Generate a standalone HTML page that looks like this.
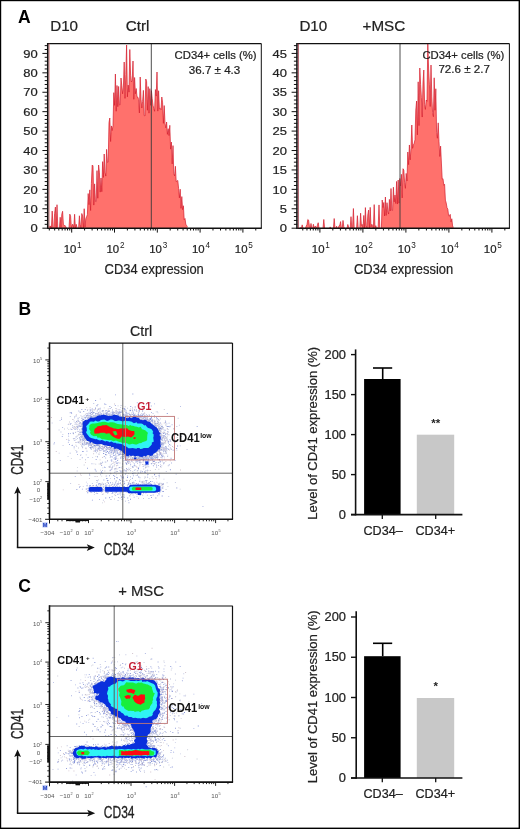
<!DOCTYPE html><html><head><meta charset="utf-8"><style>html,body{margin:0;padding:0;background:#fff;}body{width:520px;height:829px;overflow:hidden;}svg{display:block;font-family:"Liberation Sans",sans-serif;will-change:transform;}</style></head><body><svg width="520" height="829" viewBox="0 0 520 829" font-family='"Liberation Sans", sans-serif'><rect x="0.00" y="0.00" width="520.00" height="1.20" fill="#000"/><rect x="0.00" y="0.00" width="1.20" height="829.00" fill="#000"/><rect x="518.60" y="0.00" width="1.40" height="829.00" fill="#000"/><rect x="0.00" y="827.60" width="520.00" height="1.40" fill="#000"/><text x="18.00" y="23.30" font-size="17.5" text-anchor="start" font-weight="bold" fill="#000" >A</text><text x="18.60" y="315.00" font-size="17.5" text-anchor="start" font-weight="bold" fill="#000" >B</text><text x="18.20" y="592.00" font-size="17.5" text-anchor="start" font-weight="bold" fill="#000" >C</text><g><path d="M49.00,228.20 L49.00,225.74 L49.80,228.40 L50.60,225.92 L51.40,228.40 L52.20,211.06 L53.00,228.40 L53.80,228.40 L54.60,213.66 L55.40,207.06 L56.20,228.40 L57.00,204.73 L57.80,228.40 L58.60,228.40 L59.40,228.40 L60.20,217.26 L61.00,227.49 L61.80,214.23 L62.60,211.27 L63.40,224.75 L64.20,225.46 L65.00,225.38 L65.80,226.73 L66.60,228.40 L67.40,228.40 L68.20,228.40 L69.00,228.40 L69.80,214.13 L70.60,216.25 L71.40,228.40 L72.20,224.74 L73.00,224.35 L73.80,228.40 L74.60,214.25 L75.40,228.40 L76.20,224.27 L77.00,227.44 L77.80,228.40 L78.60,228.40 L79.40,215.78 L80.20,224.33 L81.00,228.40 L81.80,213.52 L82.60,216.07 L83.40,228.40 L84.20,208.73 L85.00,227.03 L85.80,218.68 L86.60,216.72 L87.40,214.65 L88.20,193.56 L89.00,204.64 L89.80,189.88 L90.60,210.51 L91.40,183.33 L92.20,165.00 L93.00,165.87 L93.80,205.10 L94.60,183.87 L95.40,201.33 L96.20,201.63 L97.00,170.61 L97.80,198.24 L98.60,165.00 L99.40,172.17 L100.20,192.12 L101.00,178.01 L101.80,191.68 L102.60,161.63 L103.40,177.43 L104.20,154.00 L105.00,172.34 L105.80,176.09 L106.60,149.36 L107.40,162.43 L108.20,162.16 L109.00,122.58 L109.80,118.00 L110.60,141.50 L111.40,125.93 L112.20,130.57 L113.00,125.68 L113.80,92.66 L114.60,105.36 L115.40,74.00 L116.20,111.24 L117.00,85.49 L117.80,106.68 L118.60,86.46 L119.40,104.92 L120.20,104.82 L121.00,78.00 L121.80,85.76 L122.60,93.79 L123.40,87.09 L124.20,62.00 L125.00,98.39 L125.80,74.59 L126.60,45.00 L127.40,96.83 L128.20,85.05 L129.00,92.13 L129.80,49.50 L130.60,75.25 L131.40,81.96 L132.20,80.71 L133.00,61.00 L133.80,99.29 L134.60,77.50 L135.40,93.78 L136.20,88.51 L137.00,96.74 L137.80,97.10 L138.60,99.48 L139.40,112.95 L140.20,77.00 L141.00,99.23 L141.80,108.02 L142.60,101.70 L143.40,90.37 L144.20,115.54 L145.00,115.91 L145.80,79.00 L146.60,81.62 L147.40,110.27 L148.20,86.61 L149.00,113.17 L149.80,88.64 L150.60,105.34 L151.40,90.65 L152.20,98.39 L153.00,105.36 L153.80,108.42 L154.60,111.27 L155.40,89.57 L156.20,96.08 L157.00,72.00 L157.80,111.12 L158.60,90.72 L159.40,108.95 L160.20,108.32 L161.00,109.70 L161.80,97.00 L162.60,102.79 L163.40,123.35 L164.20,105.57 L165.00,123.30 L165.80,127.91 L166.60,122.00 L167.40,134.33 L168.20,128.67 L169.00,135.52 L169.80,125.30 L170.60,149.14 L171.40,142.07 L172.20,163.93 L173.00,145.61 L173.80,173.52 L174.60,175.90 L175.40,166.27 L176.20,181.58 L177.00,181.00 L177.80,180.47 L178.60,188.60 L179.40,197.87 L180.20,189.20 L181.00,208.34 L181.80,196.59 L182.60,209.71 L183.40,205.76 L184.20,219.71 L185.00,218.51 L185.80,224.22 L186.60,225.49 L187.40,226.61 L187.40,228.20Z" fill="#ff716c"/><path d="M49.00,225.74 L49.80,228.40 L50.60,225.92 L51.40,228.40 L52.20,211.06 L53.00,228.40 L53.80,228.40 L54.60,213.66 L55.40,207.06 L56.20,228.40 L57.00,204.73 L57.80,228.40 L58.60,228.40 L59.40,228.40 L60.20,217.26 L61.00,227.49 L61.80,214.23 L62.60,211.27 L63.40,224.75 L64.20,225.46 L65.00,225.38 L65.80,226.73 L66.60,228.40 L67.40,228.40 L68.20,228.40 L69.00,228.40 L69.80,214.13 L70.60,216.25 L71.40,228.40 L72.20,224.74 L73.00,224.35 L73.80,228.40 L74.60,214.25 L75.40,228.40 L76.20,224.27 L77.00,227.44 L77.80,228.40 L78.60,228.40 L79.40,215.78 L80.20,224.33 L81.00,228.40 L81.80,213.52 L82.60,216.07 L83.40,228.40 L84.20,208.73 L85.00,227.03 L85.80,218.68 L86.60,216.72 L87.40,214.65 L88.20,193.56 L89.00,204.64 L89.80,189.88 L90.60,210.51 L91.40,183.33 L92.20,165.00 L93.00,165.87 L93.80,205.10 L94.60,183.87 L95.40,201.33 L96.20,201.63 L97.00,170.61 L97.80,198.24 L98.60,165.00 L99.40,172.17 L100.20,192.12 L101.00,178.01 L101.80,191.68 L102.60,161.63 L103.40,177.43 L104.20,154.00 L105.00,172.34 L105.80,176.09 L106.60,149.36 L107.40,162.43 L108.20,162.16 L109.00,122.58 L109.80,118.00 L110.60,141.50 L111.40,125.93 L112.20,130.57 L113.00,125.68 L113.80,92.66 L114.60,105.36 L115.40,74.00 L116.20,111.24 L117.00,85.49 L117.80,106.68 L118.60,86.46 L119.40,104.92 L120.20,104.82 L121.00,78.00 L121.80,85.76 L122.60,93.79 L123.40,87.09 L124.20,62.00 L125.00,98.39 L125.80,74.59 L126.60,45.00 L127.40,96.83 L128.20,85.05 L129.00,92.13 L129.80,49.50 L130.60,75.25 L131.40,81.96 L132.20,80.71 L133.00,61.00 L133.80,99.29 L134.60,77.50 L135.40,93.78 L136.20,88.51 L137.00,96.74 L137.80,97.10 L138.60,99.48 L139.40,112.95 L140.20,77.00 L141.00,99.23 L141.80,108.02 L142.60,101.70 L143.40,90.37 L144.20,115.54 L145.00,115.91 L145.80,79.00 L146.60,81.62 L147.40,110.27 L148.20,86.61 L149.00,113.17 L149.80,88.64 L150.60,105.34 L151.40,90.65 L152.20,98.39 L153.00,105.36 L153.80,108.42 L154.60,111.27 L155.40,89.57 L156.20,96.08 L157.00,72.00 L157.80,111.12 L158.60,90.72 L159.40,108.95 L160.20,108.32 L161.00,109.70 L161.80,97.00 L162.60,102.79 L163.40,123.35 L164.20,105.57 L165.00,123.30 L165.80,127.91 L166.60,122.00 L167.40,134.33 L168.20,128.67 L169.00,135.52 L169.80,125.30 L170.60,149.14 L171.40,142.07 L172.20,163.93 L173.00,145.61 L173.80,173.52 L174.60,175.90 L175.40,166.27 L176.20,181.58 L177.00,181.00 L177.80,180.47 L178.60,188.60 L179.40,197.87 L180.20,189.20 L181.00,208.34 L181.80,196.59 L182.60,209.71 L183.40,205.76 L184.20,219.71 L185.00,218.51 L185.80,224.22 L186.60,225.49 L187.40,226.61" fill="none" stroke="#d41c2c" stroke-width="0.7"/><line x1="151.30" y1="43.50" x2="151.30" y2="228.20" stroke="#3a3a3a" stroke-width="0.9" /><line x1="48.00" y1="43.60" x2="261.30" y2="43.60" stroke="#111" stroke-width="1.1" /><line x1="261.30" y1="43.50" x2="261.30" y2="228.20" stroke="#111" stroke-width="1.0" /><line x1="48.00" y1="228.20" x2="261.80" y2="228.20" stroke="#111" stroke-width="1.5" /><line x1="49.00" y1="43.50" x2="49.00" y2="228.20" stroke="#c86060" stroke-width="0.9" /><line x1="47.70" y1="43.00" x2="47.70" y2="228.90" stroke="#111" stroke-width="1.5" /><line x1="42.40" y1="228.20" x2="48.00" y2="228.20" stroke="#111" stroke-width="1.0" /><text transform="translate(37.80,232.40) scale(1.1,1)" font-size="11.8" text-anchor="end" font-weight="normal" fill="#222"  stroke="#222" stroke-width="0.22">0</text><line x1="44.70" y1="224.32" x2="48.00" y2="224.32" stroke="#111" stroke-width="1.0" /><line x1="44.70" y1="220.43" x2="48.00" y2="220.43" stroke="#111" stroke-width="1.0" /><line x1="44.70" y1="216.55" x2="48.00" y2="216.55" stroke="#111" stroke-width="1.0" /><line x1="44.70" y1="212.66" x2="48.00" y2="212.66" stroke="#111" stroke-width="1.0" /><line x1="42.40" y1="208.78" x2="48.00" y2="208.78" stroke="#111" stroke-width="1.0" /><text transform="translate(37.80,212.98) scale(1.1,1)" font-size="11.8" text-anchor="end" font-weight="normal" fill="#222"  stroke="#222" stroke-width="0.22">10</text><line x1="44.70" y1="204.89" x2="48.00" y2="204.89" stroke="#111" stroke-width="1.0" /><line x1="44.70" y1="201.01" x2="48.00" y2="201.01" stroke="#111" stroke-width="1.0" /><line x1="44.70" y1="197.13" x2="48.00" y2="197.13" stroke="#111" stroke-width="1.0" /><line x1="44.70" y1="193.24" x2="48.00" y2="193.24" stroke="#111" stroke-width="1.0" /><line x1="42.40" y1="189.36" x2="48.00" y2="189.36" stroke="#111" stroke-width="1.0" /><text transform="translate(37.80,193.56) scale(1.1,1)" font-size="11.8" text-anchor="end" font-weight="normal" fill="#222"  stroke="#222" stroke-width="0.22">20</text><line x1="44.70" y1="185.47" x2="48.00" y2="185.47" stroke="#111" stroke-width="1.0" /><line x1="44.70" y1="181.59" x2="48.00" y2="181.59" stroke="#111" stroke-width="1.0" /><line x1="44.70" y1="177.71" x2="48.00" y2="177.71" stroke="#111" stroke-width="1.0" /><line x1="44.70" y1="173.82" x2="48.00" y2="173.82" stroke="#111" stroke-width="1.0" /><line x1="42.40" y1="169.94" x2="48.00" y2="169.94" stroke="#111" stroke-width="1.0" /><text transform="translate(37.80,174.14) scale(1.1,1)" font-size="11.8" text-anchor="end" font-weight="normal" fill="#222"  stroke="#222" stroke-width="0.22">30</text><line x1="44.70" y1="166.05" x2="48.00" y2="166.05" stroke="#111" stroke-width="1.0" /><line x1="44.70" y1="162.17" x2="48.00" y2="162.17" stroke="#111" stroke-width="1.0" /><line x1="44.70" y1="158.28" x2="48.00" y2="158.28" stroke="#111" stroke-width="1.0" /><line x1="44.70" y1="154.40" x2="48.00" y2="154.40" stroke="#111" stroke-width="1.0" /><line x1="42.40" y1="150.52" x2="48.00" y2="150.52" stroke="#111" stroke-width="1.0" /><text transform="translate(37.80,154.72) scale(1.1,1)" font-size="11.8" text-anchor="end" font-weight="normal" fill="#222"  stroke="#222" stroke-width="0.22">40</text><line x1="44.70" y1="146.63" x2="48.00" y2="146.63" stroke="#111" stroke-width="1.0" /><line x1="44.70" y1="142.75" x2="48.00" y2="142.75" stroke="#111" stroke-width="1.0" /><line x1="44.70" y1="138.86" x2="48.00" y2="138.86" stroke="#111" stroke-width="1.0" /><line x1="44.70" y1="134.98" x2="48.00" y2="134.98" stroke="#111" stroke-width="1.0" /><line x1="42.40" y1="131.09" x2="48.00" y2="131.09" stroke="#111" stroke-width="1.0" /><text transform="translate(37.80,135.29) scale(1.1,1)" font-size="11.8" text-anchor="end" font-weight="normal" fill="#222"  stroke="#222" stroke-width="0.22">50</text><line x1="44.70" y1="127.21" x2="48.00" y2="127.21" stroke="#111" stroke-width="1.0" /><line x1="44.70" y1="123.33" x2="48.00" y2="123.33" stroke="#111" stroke-width="1.0" /><line x1="44.70" y1="119.44" x2="48.00" y2="119.44" stroke="#111" stroke-width="1.0" /><line x1="44.70" y1="115.56" x2="48.00" y2="115.56" stroke="#111" stroke-width="1.0" /><line x1="42.40" y1="111.67" x2="48.00" y2="111.67" stroke="#111" stroke-width="1.0" /><text transform="translate(37.80,115.87) scale(1.1,1)" font-size="11.8" text-anchor="end" font-weight="normal" fill="#222"  stroke="#222" stroke-width="0.22">60</text><line x1="44.70" y1="107.79" x2="48.00" y2="107.79" stroke="#111" stroke-width="1.0" /><line x1="44.70" y1="103.91" x2="48.00" y2="103.91" stroke="#111" stroke-width="1.0" /><line x1="44.70" y1="100.02" x2="48.00" y2="100.02" stroke="#111" stroke-width="1.0" /><line x1="44.70" y1="96.14" x2="48.00" y2="96.14" stroke="#111" stroke-width="1.0" /><line x1="42.40" y1="92.25" x2="48.00" y2="92.25" stroke="#111" stroke-width="1.0" /><text transform="translate(37.80,96.45) scale(1.1,1)" font-size="11.8" text-anchor="end" font-weight="normal" fill="#222"  stroke="#222" stroke-width="0.22">70</text><line x1="44.70" y1="88.37" x2="48.00" y2="88.37" stroke="#111" stroke-width="1.0" /><line x1="44.70" y1="84.48" x2="48.00" y2="84.48" stroke="#111" stroke-width="1.0" /><line x1="44.70" y1="80.60" x2="48.00" y2="80.60" stroke="#111" stroke-width="1.0" /><line x1="44.70" y1="76.72" x2="48.00" y2="76.72" stroke="#111" stroke-width="1.0" /><line x1="42.40" y1="72.83" x2="48.00" y2="72.83" stroke="#111" stroke-width="1.0" /><text transform="translate(37.80,77.03) scale(1.1,1)" font-size="11.8" text-anchor="end" font-weight="normal" fill="#222"  stroke="#222" stroke-width="0.22">80</text><line x1="44.70" y1="68.95" x2="48.00" y2="68.95" stroke="#111" stroke-width="1.0" /><line x1="44.70" y1="65.06" x2="48.00" y2="65.06" stroke="#111" stroke-width="1.0" /><line x1="44.70" y1="61.18" x2="48.00" y2="61.18" stroke="#111" stroke-width="1.0" /><line x1="44.70" y1="57.29" x2="48.00" y2="57.29" stroke="#111" stroke-width="1.0" /><line x1="42.40" y1="53.41" x2="48.00" y2="53.41" stroke="#111" stroke-width="1.0" /><text transform="translate(37.80,57.61) scale(1.1,1)" font-size="11.8" text-anchor="end" font-weight="normal" fill="#222"  stroke="#222" stroke-width="0.22">90</text><line x1="44.70" y1="49.53" x2="48.00" y2="49.53" stroke="#111" stroke-width="1.0" /><line x1="44.70" y1="45.64" x2="48.00" y2="45.64" stroke="#111" stroke-width="1.0" /><line x1="49.32" y1="228.20" x2="49.32" y2="230.50" stroke="#111" stroke-width="1.0" /><line x1="54.67" y1="228.20" x2="54.67" y2="230.50" stroke="#111" stroke-width="1.0" /><line x1="58.82" y1="228.20" x2="58.82" y2="230.50" stroke="#111" stroke-width="1.0" /><line x1="62.20" y1="228.20" x2="62.20" y2="230.50" stroke="#111" stroke-width="1.0" /><line x1="65.07" y1="228.20" x2="65.07" y2="230.50" stroke="#111" stroke-width="1.0" /><line x1="67.55" y1="228.20" x2="67.55" y2="230.50" stroke="#111" stroke-width="1.0" /><line x1="69.74" y1="228.20" x2="69.74" y2="230.50" stroke="#111" stroke-width="1.0" /><line x1="71.70" y1="228.20" x2="71.70" y2="232.60" stroke="#111" stroke-width="1.0" /><line x1="84.58" y1="228.20" x2="84.58" y2="230.50" stroke="#111" stroke-width="1.0" /><line x1="92.12" y1="228.20" x2="92.12" y2="230.50" stroke="#111" stroke-width="1.0" /><line x1="97.47" y1="228.20" x2="97.47" y2="230.50" stroke="#111" stroke-width="1.0" /><line x1="101.62" y1="228.20" x2="101.62" y2="230.50" stroke="#111" stroke-width="1.0" /><line x1="105.00" y1="228.20" x2="105.00" y2="230.50" stroke="#111" stroke-width="1.0" /><line x1="107.87" y1="228.20" x2="107.87" y2="230.50" stroke="#111" stroke-width="1.0" /><line x1="110.35" y1="228.20" x2="110.35" y2="230.50" stroke="#111" stroke-width="1.0" /><line x1="112.54" y1="228.20" x2="112.54" y2="230.50" stroke="#111" stroke-width="1.0" /><text x="76.30" y="253.20" font-size="11.4" text-anchor="end" font-weight="normal" fill="#222"  stroke="#222" stroke-width="0.22">10</text><text x="77.10" y="247.80" font-size="8.2" text-anchor="start" font-weight="normal" fill="#222" >1</text><line x1="114.50" y1="228.20" x2="114.50" y2="232.60" stroke="#111" stroke-width="1.0" /><line x1="127.38" y1="228.20" x2="127.38" y2="230.50" stroke="#111" stroke-width="1.0" /><line x1="134.92" y1="228.20" x2="134.92" y2="230.50" stroke="#111" stroke-width="1.0" /><line x1="140.27" y1="228.20" x2="140.27" y2="230.50" stroke="#111" stroke-width="1.0" /><line x1="144.42" y1="228.20" x2="144.42" y2="230.50" stroke="#111" stroke-width="1.0" /><line x1="147.80" y1="228.20" x2="147.80" y2="230.50" stroke="#111" stroke-width="1.0" /><line x1="150.67" y1="228.20" x2="150.67" y2="230.50" stroke="#111" stroke-width="1.0" /><line x1="153.15" y1="228.20" x2="153.15" y2="230.50" stroke="#111" stroke-width="1.0" /><line x1="155.34" y1="228.20" x2="155.34" y2="230.50" stroke="#111" stroke-width="1.0" /><text x="119.10" y="253.20" font-size="11.4" text-anchor="end" font-weight="normal" fill="#222"  stroke="#222" stroke-width="0.22">10</text><text x="119.90" y="247.80" font-size="8.2" text-anchor="start" font-weight="normal" fill="#222" >2</text><line x1="157.30" y1="228.20" x2="157.30" y2="232.60" stroke="#111" stroke-width="1.0" /><line x1="170.18" y1="228.20" x2="170.18" y2="230.50" stroke="#111" stroke-width="1.0" /><line x1="177.72" y1="228.20" x2="177.72" y2="230.50" stroke="#111" stroke-width="1.0" /><line x1="183.07" y1="228.20" x2="183.07" y2="230.50" stroke="#111" stroke-width="1.0" /><line x1="187.22" y1="228.20" x2="187.22" y2="230.50" stroke="#111" stroke-width="1.0" /><line x1="190.60" y1="228.20" x2="190.60" y2="230.50" stroke="#111" stroke-width="1.0" /><line x1="193.47" y1="228.20" x2="193.47" y2="230.50" stroke="#111" stroke-width="1.0" /><line x1="195.95" y1="228.20" x2="195.95" y2="230.50" stroke="#111" stroke-width="1.0" /><line x1="198.14" y1="228.20" x2="198.14" y2="230.50" stroke="#111" stroke-width="1.0" /><text x="161.90" y="253.20" font-size="11.4" text-anchor="end" font-weight="normal" fill="#222"  stroke="#222" stroke-width="0.22">10</text><text x="162.70" y="247.80" font-size="8.2" text-anchor="start" font-weight="normal" fill="#222" >3</text><line x1="200.10" y1="228.20" x2="200.10" y2="232.60" stroke="#111" stroke-width="1.0" /><line x1="212.98" y1="228.20" x2="212.98" y2="230.50" stroke="#111" stroke-width="1.0" /><line x1="220.52" y1="228.20" x2="220.52" y2="230.50" stroke="#111" stroke-width="1.0" /><line x1="225.87" y1="228.20" x2="225.87" y2="230.50" stroke="#111" stroke-width="1.0" /><line x1="230.02" y1="228.20" x2="230.02" y2="230.50" stroke="#111" stroke-width="1.0" /><line x1="233.40" y1="228.20" x2="233.40" y2="230.50" stroke="#111" stroke-width="1.0" /><line x1="236.27" y1="228.20" x2="236.27" y2="230.50" stroke="#111" stroke-width="1.0" /><line x1="238.75" y1="228.20" x2="238.75" y2="230.50" stroke="#111" stroke-width="1.0" /><line x1="240.94" y1="228.20" x2="240.94" y2="230.50" stroke="#111" stroke-width="1.0" /><text x="204.70" y="253.20" font-size="11.4" text-anchor="end" font-weight="normal" fill="#222"  stroke="#222" stroke-width="0.22">10</text><text x="205.50" y="247.80" font-size="8.2" text-anchor="start" font-weight="normal" fill="#222" >4</text><line x1="242.90" y1="228.20" x2="242.90" y2="232.60" stroke="#111" stroke-width="1.0" /><line x1="255.78" y1="228.20" x2="255.78" y2="230.50" stroke="#111" stroke-width="1.0" /><text x="247.50" y="253.20" font-size="11.4" text-anchor="end" font-weight="normal" fill="#222"  stroke="#222" stroke-width="0.22">10</text><text x="248.30" y="247.80" font-size="8.2" text-anchor="start" font-weight="normal" fill="#222" >5</text><text transform="translate(104.60,273.60) scale(0.84,1)" font-size="15.4" text-anchor="start" font-weight="normal" fill="#222" stroke="#222" stroke-width="0.2">CD34 expression</text><text x="50.20" y="31.30" font-size="15.2" text-anchor="start" font-weight="normal" fill="#222"  stroke="#222" stroke-width="0.22">D10</text><text x="125.80" y="31.30" font-size="15.2" text-anchor="start" font-weight="normal" fill="#222"  stroke="#222" stroke-width="0.22">Ctrl</text><text x="174.60" y="58.80" font-size="11.3" text-anchor="start" font-weight="normal" fill="#222"  stroke="#222" stroke-width="0.22">CD34+ cells (%)</text><text x="188.80" y="73.80" font-size="11.6" text-anchor="start" font-weight="normal" fill="#222"  stroke="#222" stroke-width="0.22">36.7 ± 4.3</text></g><g><path d="M298.20,228.20 L298.20,228.40 L299.00,228.40 L299.80,228.40 L300.60,227.66 L301.40,228.40 L302.20,224.86 L303.00,228.40 L303.80,228.40 L304.60,228.40 L305.40,228.40 L306.20,226.16 L307.00,224.53 L307.80,219.52 L308.60,220.19 L309.40,226.28 L310.20,228.40 L311.00,223.48 L311.80,228.40 L312.60,228.40 L313.40,224.25 L314.20,228.40 L315.00,226.22 L315.80,226.61 L316.60,228.40 L317.40,225.26 L318.20,222.72 L319.00,228.40 L319.80,228.40 L320.60,228.40 L321.40,228.40 L322.20,228.40 L323.00,228.40 L323.80,219.46 L324.60,228.40 L325.40,228.40 L326.20,228.40 L327.00,228.40 L327.80,228.40 L328.60,228.40 L329.40,228.40 L330.20,226.88 L331.00,228.40 L331.80,228.40 L332.60,228.40 L333.40,228.40 L334.20,218.53 L335.00,228.40 L335.80,228.40 L336.60,226.20 L337.40,228.40 L338.20,228.40 L339.00,225.78 L339.80,225.26 L340.60,221.59 L341.40,228.40 L342.20,228.40 L343.00,220.42 L343.80,226.71 L344.60,228.40 L345.40,228.40 L346.20,228.40 L347.00,228.40 L347.80,224.47 L348.60,227.04 L349.40,228.40 L350.20,228.40 L351.00,216.67 L351.80,228.40 L352.60,226.85 L353.40,208.50 L354.20,228.40 L355.00,228.40 L355.80,228.40 L356.60,228.40 L357.40,215.69 L358.20,228.40 L359.00,228.40 L359.80,228.40 L360.60,213.16 L361.40,225.51 L362.20,224.39 L363.00,228.40 L363.80,215.41 L364.60,228.40 L365.40,207.58 L366.20,225.26 L367.00,228.40 L367.80,215.00 L368.60,210.10 L369.40,228.40 L370.20,207.34 L371.00,226.86 L371.80,224.27 L372.60,225.51 L373.40,228.40 L374.20,204.60 L375.00,228.40 L375.80,225.64 L376.60,228.40 L377.40,228.40 L378.20,226.48 L379.00,204.95 L379.80,227.64 L380.60,228.40 L381.40,228.40 L382.20,200.01 L383.00,207.54 L383.80,202.48 L384.60,215.99 L385.40,197.00 L386.20,215.41 L387.00,202.70 L387.80,211.03 L388.60,214.06 L389.40,199.39 L390.20,210.98 L391.00,188.52 L391.80,210.40 L392.60,210.45 L393.40,187.19 L394.20,201.85 L395.00,195.05 L395.80,203.51 L396.60,181.41 L397.40,204.06 L398.20,180.00 L399.00,203.17 L399.80,178.50 L400.60,185.99 L401.40,174.31 L402.20,197.91 L403.00,168.71 L403.80,170.00 L404.60,182.22 L405.40,188.33 L406.20,173.41 L407.00,180.96 L407.80,152.00 L408.60,164.68 L409.40,144.97 L410.20,159.85 L411.00,148.55 L411.80,125.00 L412.60,148.33 L413.40,144.82 L414.20,143.29 L415.00,139.75 L415.80,110.00 L416.60,101.05 L417.40,134.86 L418.20,81.82 L419.00,125.63 L419.80,68.00 L420.60,84.62 L421.40,97.73 L422.20,117.05 L423.00,83.02 L423.80,70.00 L424.60,104.76 L425.40,109.36 L426.20,100.00 L427.00,101.34 L427.80,43.60 L428.60,68.97 L429.40,84.24 L430.20,106.50 L431.00,65.00 L431.80,96.98 L432.60,112.54 L433.40,116.70 L434.20,77.81 L435.00,110.27 L435.80,88.75 L436.60,132.39 L437.40,138.25 L438.20,122.85 L439.00,141.80 L439.80,156.46 L440.60,146.12 L441.40,163.03 L442.20,179.14 L443.00,178.69 L443.80,185.26 L444.60,184.27 L445.40,200.15 L446.20,202.97 L447.00,207.65 L447.80,209.06 L448.60,215.70 L449.40,216.08 L450.20,214.33 L451.00,221.90 L451.80,218.77 L452.60,225.97 L453.40,227.40 L453.40,228.20Z" fill="#ff716c"/><path d="M298.20,228.40 L299.00,228.40 L299.80,228.40 L300.60,227.66 L301.40,228.40 L302.20,224.86 L303.00,228.40 L303.80,228.40 L304.60,228.40 L305.40,228.40 L306.20,226.16 L307.00,224.53 L307.80,219.52 L308.60,220.19 L309.40,226.28 L310.20,228.40 L311.00,223.48 L311.80,228.40 L312.60,228.40 L313.40,224.25 L314.20,228.40 L315.00,226.22 L315.80,226.61 L316.60,228.40 L317.40,225.26 L318.20,222.72 L319.00,228.40 L319.80,228.40 L320.60,228.40 L321.40,228.40 L322.20,228.40 L323.00,228.40 L323.80,219.46 L324.60,228.40 L325.40,228.40 L326.20,228.40 L327.00,228.40 L327.80,228.40 L328.60,228.40 L329.40,228.40 L330.20,226.88 L331.00,228.40 L331.80,228.40 L332.60,228.40 L333.40,228.40 L334.20,218.53 L335.00,228.40 L335.80,228.40 L336.60,226.20 L337.40,228.40 L338.20,228.40 L339.00,225.78 L339.80,225.26 L340.60,221.59 L341.40,228.40 L342.20,228.40 L343.00,220.42 L343.80,226.71 L344.60,228.40 L345.40,228.40 L346.20,228.40 L347.00,228.40 L347.80,224.47 L348.60,227.04 L349.40,228.40 L350.20,228.40 L351.00,216.67 L351.80,228.40 L352.60,226.85 L353.40,208.50 L354.20,228.40 L355.00,228.40 L355.80,228.40 L356.60,228.40 L357.40,215.69 L358.20,228.40 L359.00,228.40 L359.80,228.40 L360.60,213.16 L361.40,225.51 L362.20,224.39 L363.00,228.40 L363.80,215.41 L364.60,228.40 L365.40,207.58 L366.20,225.26 L367.00,228.40 L367.80,215.00 L368.60,210.10 L369.40,228.40 L370.20,207.34 L371.00,226.86 L371.80,224.27 L372.60,225.51 L373.40,228.40 L374.20,204.60 L375.00,228.40 L375.80,225.64 L376.60,228.40 L377.40,228.40 L378.20,226.48 L379.00,204.95 L379.80,227.64 L380.60,228.40 L381.40,228.40 L382.20,200.01 L383.00,207.54 L383.80,202.48 L384.60,215.99 L385.40,197.00 L386.20,215.41 L387.00,202.70 L387.80,211.03 L388.60,214.06 L389.40,199.39 L390.20,210.98 L391.00,188.52 L391.80,210.40 L392.60,210.45 L393.40,187.19 L394.20,201.85 L395.00,195.05 L395.80,203.51 L396.60,181.41 L397.40,204.06 L398.20,180.00 L399.00,203.17 L399.80,178.50 L400.60,185.99 L401.40,174.31 L402.20,197.91 L403.00,168.71 L403.80,170.00 L404.60,182.22 L405.40,188.33 L406.20,173.41 L407.00,180.96 L407.80,152.00 L408.60,164.68 L409.40,144.97 L410.20,159.85 L411.00,148.55 L411.80,125.00 L412.60,148.33 L413.40,144.82 L414.20,143.29 L415.00,139.75 L415.80,110.00 L416.60,101.05 L417.40,134.86 L418.20,81.82 L419.00,125.63 L419.80,68.00 L420.60,84.62 L421.40,97.73 L422.20,117.05 L423.00,83.02 L423.80,70.00 L424.60,104.76 L425.40,109.36 L426.20,100.00 L427.00,101.34 L427.80,43.60 L428.60,68.97 L429.40,84.24 L430.20,106.50 L431.00,65.00 L431.80,96.98 L432.60,112.54 L433.40,116.70 L434.20,77.81 L435.00,110.27 L435.80,88.75 L436.60,132.39 L437.40,138.25 L438.20,122.85 L439.00,141.80 L439.80,156.46 L440.60,146.12 L441.40,163.03 L442.20,179.14 L443.00,178.69 L443.80,185.26 L444.60,184.27 L445.40,200.15 L446.20,202.97 L447.00,207.65 L447.80,209.06 L448.60,215.70 L449.40,216.08 L450.20,214.33 L451.00,221.90 L451.80,218.77 L452.60,225.97 L453.40,227.40" fill="none" stroke="#d41c2c" stroke-width="0.7"/><line x1="400.00" y1="43.50" x2="400.00" y2="228.20" stroke="#3a3a3a" stroke-width="0.9" /><line x1="297.20" y1="43.60" x2="509.40" y2="43.60" stroke="#111" stroke-width="1.1" /><line x1="509.40" y1="43.50" x2="509.40" y2="228.20" stroke="#111" stroke-width="1.0" /><line x1="297.20" y1="228.20" x2="509.90" y2="228.20" stroke="#111" stroke-width="1.5" /><line x1="298.20" y1="43.50" x2="298.20" y2="228.20" stroke="#8a1424" stroke-width="0.9" /><line x1="296.90" y1="43.00" x2="296.90" y2="228.90" stroke="#111" stroke-width="1.5" /><line x1="291.60" y1="228.20" x2="297.20" y2="228.20" stroke="#111" stroke-width="1.0" /><text transform="translate(287.00,232.40) scale(1.1,1)" font-size="11.8" text-anchor="end" font-weight="normal" fill="#222"  stroke="#222" stroke-width="0.22">0</text><line x1="293.90" y1="224.32" x2="297.20" y2="224.32" stroke="#111" stroke-width="1.0" /><line x1="293.90" y1="220.43" x2="297.20" y2="220.43" stroke="#111" stroke-width="1.0" /><line x1="293.90" y1="216.55" x2="297.20" y2="216.55" stroke="#111" stroke-width="1.0" /><line x1="293.90" y1="212.66" x2="297.20" y2="212.66" stroke="#111" stroke-width="1.0" /><line x1="291.60" y1="208.78" x2="297.20" y2="208.78" stroke="#111" stroke-width="1.0" /><text transform="translate(287.00,212.98) scale(1.1,1)" font-size="11.8" text-anchor="end" font-weight="normal" fill="#222"  stroke="#222" stroke-width="0.22">5</text><line x1="293.90" y1="204.89" x2="297.20" y2="204.89" stroke="#111" stroke-width="1.0" /><line x1="293.90" y1="201.01" x2="297.20" y2="201.01" stroke="#111" stroke-width="1.0" /><line x1="293.90" y1="197.13" x2="297.20" y2="197.13" stroke="#111" stroke-width="1.0" /><line x1="293.90" y1="193.24" x2="297.20" y2="193.24" stroke="#111" stroke-width="1.0" /><line x1="291.60" y1="189.36" x2="297.20" y2="189.36" stroke="#111" stroke-width="1.0" /><text transform="translate(287.00,193.56) scale(1.1,1)" font-size="11.8" text-anchor="end" font-weight="normal" fill="#222"  stroke="#222" stroke-width="0.22">10</text><line x1="293.90" y1="185.47" x2="297.20" y2="185.47" stroke="#111" stroke-width="1.0" /><line x1="293.90" y1="181.59" x2="297.20" y2="181.59" stroke="#111" stroke-width="1.0" /><line x1="293.90" y1="177.71" x2="297.20" y2="177.71" stroke="#111" stroke-width="1.0" /><line x1="293.90" y1="173.82" x2="297.20" y2="173.82" stroke="#111" stroke-width="1.0" /><line x1="291.60" y1="169.94" x2="297.20" y2="169.94" stroke="#111" stroke-width="1.0" /><text transform="translate(287.00,174.14) scale(1.1,1)" font-size="11.8" text-anchor="end" font-weight="normal" fill="#222"  stroke="#222" stroke-width="0.22">15</text><line x1="293.90" y1="166.05" x2="297.20" y2="166.05" stroke="#111" stroke-width="1.0" /><line x1="293.90" y1="162.17" x2="297.20" y2="162.17" stroke="#111" stroke-width="1.0" /><line x1="293.90" y1="158.28" x2="297.20" y2="158.28" stroke="#111" stroke-width="1.0" /><line x1="293.90" y1="154.40" x2="297.20" y2="154.40" stroke="#111" stroke-width="1.0" /><line x1="291.60" y1="150.52" x2="297.20" y2="150.52" stroke="#111" stroke-width="1.0" /><text transform="translate(287.00,154.72) scale(1.1,1)" font-size="11.8" text-anchor="end" font-weight="normal" fill="#222"  stroke="#222" stroke-width="0.22">20</text><line x1="293.90" y1="146.63" x2="297.20" y2="146.63" stroke="#111" stroke-width="1.0" /><line x1="293.90" y1="142.75" x2="297.20" y2="142.75" stroke="#111" stroke-width="1.0" /><line x1="293.90" y1="138.86" x2="297.20" y2="138.86" stroke="#111" stroke-width="1.0" /><line x1="293.90" y1="134.98" x2="297.20" y2="134.98" stroke="#111" stroke-width="1.0" /><line x1="291.60" y1="131.09" x2="297.20" y2="131.09" stroke="#111" stroke-width="1.0" /><text transform="translate(287.00,135.29) scale(1.1,1)" font-size="11.8" text-anchor="end" font-weight="normal" fill="#222"  stroke="#222" stroke-width="0.22">25</text><line x1="293.90" y1="127.21" x2="297.20" y2="127.21" stroke="#111" stroke-width="1.0" /><line x1="293.90" y1="123.33" x2="297.20" y2="123.33" stroke="#111" stroke-width="1.0" /><line x1="293.90" y1="119.44" x2="297.20" y2="119.44" stroke="#111" stroke-width="1.0" /><line x1="293.90" y1="115.56" x2="297.20" y2="115.56" stroke="#111" stroke-width="1.0" /><line x1="291.60" y1="111.67" x2="297.20" y2="111.67" stroke="#111" stroke-width="1.0" /><text transform="translate(287.00,115.87) scale(1.1,1)" font-size="11.8" text-anchor="end" font-weight="normal" fill="#222"  stroke="#222" stroke-width="0.22">30</text><line x1="293.90" y1="107.79" x2="297.20" y2="107.79" stroke="#111" stroke-width="1.0" /><line x1="293.90" y1="103.91" x2="297.20" y2="103.91" stroke="#111" stroke-width="1.0" /><line x1="293.90" y1="100.02" x2="297.20" y2="100.02" stroke="#111" stroke-width="1.0" /><line x1="293.90" y1="96.14" x2="297.20" y2="96.14" stroke="#111" stroke-width="1.0" /><line x1="291.60" y1="92.25" x2="297.20" y2="92.25" stroke="#111" stroke-width="1.0" /><text transform="translate(287.00,96.45) scale(1.1,1)" font-size="11.8" text-anchor="end" font-weight="normal" fill="#222"  stroke="#222" stroke-width="0.22">35</text><line x1="293.90" y1="88.37" x2="297.20" y2="88.37" stroke="#111" stroke-width="1.0" /><line x1="293.90" y1="84.48" x2="297.20" y2="84.48" stroke="#111" stroke-width="1.0" /><line x1="293.90" y1="80.60" x2="297.20" y2="80.60" stroke="#111" stroke-width="1.0" /><line x1="293.90" y1="76.72" x2="297.20" y2="76.72" stroke="#111" stroke-width="1.0" /><line x1="291.60" y1="72.83" x2="297.20" y2="72.83" stroke="#111" stroke-width="1.0" /><text transform="translate(287.00,77.03) scale(1.1,1)" font-size="11.8" text-anchor="end" font-weight="normal" fill="#222"  stroke="#222" stroke-width="0.22">40</text><line x1="293.90" y1="68.95" x2="297.20" y2="68.95" stroke="#111" stroke-width="1.0" /><line x1="293.90" y1="65.06" x2="297.20" y2="65.06" stroke="#111" stroke-width="1.0" /><line x1="293.90" y1="61.18" x2="297.20" y2="61.18" stroke="#111" stroke-width="1.0" /><line x1="293.90" y1="57.29" x2="297.20" y2="57.29" stroke="#111" stroke-width="1.0" /><line x1="291.60" y1="53.41" x2="297.20" y2="53.41" stroke="#111" stroke-width="1.0" /><text transform="translate(287.00,57.61) scale(1.1,1)" font-size="11.8" text-anchor="end" font-weight="normal" fill="#222"  stroke="#222" stroke-width="0.22">45</text><line x1="293.90" y1="49.53" x2="297.20" y2="49.53" stroke="#111" stroke-width="1.0" /><line x1="293.90" y1="45.64" x2="297.20" y2="45.64" stroke="#111" stroke-width="1.0" /><line x1="302.79" y1="228.20" x2="302.79" y2="230.50" stroke="#111" stroke-width="1.0" /><line x1="306.96" y1="228.20" x2="306.96" y2="230.50" stroke="#111" stroke-width="1.0" /><line x1="310.36" y1="228.20" x2="310.36" y2="230.50" stroke="#111" stroke-width="1.0" /><line x1="313.24" y1="228.20" x2="313.24" y2="230.50" stroke="#111" stroke-width="1.0" /><line x1="315.73" y1="228.20" x2="315.73" y2="230.50" stroke="#111" stroke-width="1.0" /><line x1="317.93" y1="228.20" x2="317.93" y2="230.50" stroke="#111" stroke-width="1.0" /><line x1="319.90" y1="228.20" x2="319.90" y2="232.60" stroke="#111" stroke-width="1.0" /><line x1="332.84" y1="228.20" x2="332.84" y2="230.50" stroke="#111" stroke-width="1.0" /><line x1="340.42" y1="228.20" x2="340.42" y2="230.50" stroke="#111" stroke-width="1.0" /><line x1="345.79" y1="228.20" x2="345.79" y2="230.50" stroke="#111" stroke-width="1.0" /><line x1="349.96" y1="228.20" x2="349.96" y2="230.50" stroke="#111" stroke-width="1.0" /><line x1="353.36" y1="228.20" x2="353.36" y2="230.50" stroke="#111" stroke-width="1.0" /><line x1="356.24" y1="228.20" x2="356.24" y2="230.50" stroke="#111" stroke-width="1.0" /><line x1="358.73" y1="228.20" x2="358.73" y2="230.50" stroke="#111" stroke-width="1.0" /><line x1="360.93" y1="228.20" x2="360.93" y2="230.50" stroke="#111" stroke-width="1.0" /><text x="324.50" y="253.20" font-size="11.4" text-anchor="end" font-weight="normal" fill="#222"  stroke="#222" stroke-width="0.22">10</text><text x="325.30" y="247.80" font-size="8.2" text-anchor="start" font-weight="normal" fill="#222" >1</text><line x1="362.90" y1="228.20" x2="362.90" y2="232.60" stroke="#111" stroke-width="1.0" /><line x1="375.84" y1="228.20" x2="375.84" y2="230.50" stroke="#111" stroke-width="1.0" /><line x1="383.42" y1="228.20" x2="383.42" y2="230.50" stroke="#111" stroke-width="1.0" /><line x1="388.79" y1="228.20" x2="388.79" y2="230.50" stroke="#111" stroke-width="1.0" /><line x1="392.96" y1="228.20" x2="392.96" y2="230.50" stroke="#111" stroke-width="1.0" /><line x1="396.36" y1="228.20" x2="396.36" y2="230.50" stroke="#111" stroke-width="1.0" /><line x1="399.24" y1="228.20" x2="399.24" y2="230.50" stroke="#111" stroke-width="1.0" /><line x1="401.73" y1="228.20" x2="401.73" y2="230.50" stroke="#111" stroke-width="1.0" /><line x1="403.93" y1="228.20" x2="403.93" y2="230.50" stroke="#111" stroke-width="1.0" /><text x="367.50" y="253.20" font-size="11.4" text-anchor="end" font-weight="normal" fill="#222"  stroke="#222" stroke-width="0.22">10</text><text x="368.30" y="247.80" font-size="8.2" text-anchor="start" font-weight="normal" fill="#222" >2</text><line x1="405.90" y1="228.20" x2="405.90" y2="232.60" stroke="#111" stroke-width="1.0" /><line x1="418.84" y1="228.20" x2="418.84" y2="230.50" stroke="#111" stroke-width="1.0" /><line x1="426.42" y1="228.20" x2="426.42" y2="230.50" stroke="#111" stroke-width="1.0" /><line x1="431.79" y1="228.20" x2="431.79" y2="230.50" stroke="#111" stroke-width="1.0" /><line x1="435.96" y1="228.20" x2="435.96" y2="230.50" stroke="#111" stroke-width="1.0" /><line x1="439.36" y1="228.20" x2="439.36" y2="230.50" stroke="#111" stroke-width="1.0" /><line x1="442.24" y1="228.20" x2="442.24" y2="230.50" stroke="#111" stroke-width="1.0" /><line x1="444.73" y1="228.20" x2="444.73" y2="230.50" stroke="#111" stroke-width="1.0" /><line x1="446.93" y1="228.20" x2="446.93" y2="230.50" stroke="#111" stroke-width="1.0" /><text x="410.50" y="253.20" font-size="11.4" text-anchor="end" font-weight="normal" fill="#222"  stroke="#222" stroke-width="0.22">10</text><text x="411.30" y="247.80" font-size="8.2" text-anchor="start" font-weight="normal" fill="#222" >3</text><line x1="448.90" y1="228.20" x2="448.90" y2="232.60" stroke="#111" stroke-width="1.0" /><line x1="461.84" y1="228.20" x2="461.84" y2="230.50" stroke="#111" stroke-width="1.0" /><line x1="469.42" y1="228.20" x2="469.42" y2="230.50" stroke="#111" stroke-width="1.0" /><line x1="474.79" y1="228.20" x2="474.79" y2="230.50" stroke="#111" stroke-width="1.0" /><line x1="478.96" y1="228.20" x2="478.96" y2="230.50" stroke="#111" stroke-width="1.0" /><line x1="482.36" y1="228.20" x2="482.36" y2="230.50" stroke="#111" stroke-width="1.0" /><line x1="485.24" y1="228.20" x2="485.24" y2="230.50" stroke="#111" stroke-width="1.0" /><line x1="487.73" y1="228.20" x2="487.73" y2="230.50" stroke="#111" stroke-width="1.0" /><line x1="489.93" y1="228.20" x2="489.93" y2="230.50" stroke="#111" stroke-width="1.0" /><text x="453.50" y="253.20" font-size="11.4" text-anchor="end" font-weight="normal" fill="#222"  stroke="#222" stroke-width="0.22">10</text><text x="454.30" y="247.80" font-size="8.2" text-anchor="start" font-weight="normal" fill="#222" >4</text><line x1="491.90" y1="228.20" x2="491.90" y2="232.60" stroke="#111" stroke-width="1.0" /><line x1="504.84" y1="228.20" x2="504.84" y2="230.50" stroke="#111" stroke-width="1.0" /><text x="496.50" y="253.20" font-size="11.4" text-anchor="end" font-weight="normal" fill="#222"  stroke="#222" stroke-width="0.22">10</text><text x="497.30" y="247.80" font-size="8.2" text-anchor="start" font-weight="normal" fill="#222" >5</text><text transform="translate(354.00,273.60) scale(0.84,1)" font-size="15.4" text-anchor="start" font-weight="normal" fill="#222" stroke="#222" stroke-width="0.2">CD34 expression</text><text x="299.40" y="31.30" font-size="15.2" text-anchor="start" font-weight="normal" fill="#222"  stroke="#222" stroke-width="0.22">D10</text><text x="362.60" y="31.30" font-size="15.2" text-anchor="start" font-weight="normal" fill="#222"  stroke="#222" stroke-width="0.22">+MSC</text><text x="422.40" y="58.60" font-size="11.3" text-anchor="start" font-weight="normal" fill="#222"  stroke="#222" stroke-width="0.22">CD34+ cells (%)</text><text x="438.40" y="73.30" font-size="11.6" text-anchor="start" font-weight="normal" fill="#222"  stroke="#222" stroke-width="0.22">72.6 ± 2.7</text></g><g><path d="M138.7 455.4h.9v.9h-.9zM108.6 451.7h.9v.9h-.9zM130.8 426.1h.9v.9h-.9zM124.1 421.1h.9v.9h-.9zM137.6 440.5h.9v.9h-.9zM109.4 453.2h.9v.9h-.9zM139.0 422.1h.9v.9h-.9zM130.9 440.1h.9v.9h-.9zM101.2 465.0h.9v.9h-.9zM81.0 435.8h.9v.9h-.9zM91.7 420.1h.9v.9h-.9zM89.3 444.5h.9v.9h-.9zM102.8 418.8h.9v.9h-.9zM128.0 443.6h.9v.9h-.9zM113.2 428.8h.9v.9h-.9zM132.7 432.5h.9v.9h-.9zM142.7 484.7h.9v.9h-.9zM160.7 442.0h.9v.9h-.9zM147.5 458.0h.9v.9h-.9zM106.7 425.5h.9v.9h-.9zM120.3 429.0h.9v.9h-.9zM133.1 429.7h.9v.9h-.9zM119.0 433.7h.9v.9h-.9zM141.9 447.8h.9v.9h-.9zM92.1 413.7h.9v.9h-.9zM154.0 403.4h.9v.9h-.9zM69.0 444.0h.9v.9h-.9zM90.1 417.9h.9v.9h-.9zM138.6 431.8h.9v.9h-.9zM120.8 449.3h.9v.9h-.9zM119.0 433.5h.9v.9h-.9zM126.6 421.2h.9v.9h-.9zM80.8 432.0h.9v.9h-.9zM151.9 449.6h.9v.9h-.9zM133.6 423.1h.9v.9h-.9zM76.0 451.6h.9v.9h-.9zM131.8 449.3h.9v.9h-.9zM158.6 444.9h.9v.9h-.9zM125.3 414.2h.9v.9h-.9zM102.2 461.8h.9v.9h-.9zM153.4 440.2h.9v.9h-.9zM111.7 445.8h.9v.9h-.9zM69.9 423.8h.9v.9h-.9zM143.9 414.8h.9v.9h-.9zM108.3 427.9h.9v.9h-.9zM124.3 434.4h.9v.9h-.9zM134.5 414.6h.9v.9h-.9zM133.8 433.3h.9v.9h-.9zM167.9 441.1h.9v.9h-.9zM102.3 448.5h.9v.9h-.9zM125.3 430.0h.9v.9h-.9zM106.8 412.9h.9v.9h-.9zM109.2 438.3h.9v.9h-.9zM142.5 429.0h.9v.9h-.9zM115.6 409.9h.9v.9h-.9zM122.4 426.8h.9v.9h-.9zM136.5 441.6h.9v.9h-.9zM125.6 440.7h.9v.9h-.9zM143.6 431.9h.9v.9h-.9zM106.8 424.8h.9v.9h-.9zM104.2 434.9h.9v.9h-.9zM196.7 426.1h.9v.9h-.9zM122.9 460.4h.9v.9h-.9zM181.1 435.9h.9v.9h-.9zM93.5 447.3h.9v.9h-.9zM138.9 450.7h.9v.9h-.9zM173.6 428.3h.9v.9h-.9zM126.3 464.0h.9v.9h-.9zM116.3 450.2h.9v.9h-.9zM96.6 448.7h.9v.9h-.9zM81.8 457.3h.9v.9h-.9zM180.0 405.9h.9v.9h-.9zM94.5 428.1h.9v.9h-.9zM141.1 447.4h.9v.9h-.9zM153.2 438.9h.9v.9h-.9zM120.3 423.4h.9v.9h-.9zM116.7 447.6h.9v.9h-.9zM108.0 448.4h.9v.9h-.9zM75.0 431.9h.9v.9h-.9zM80.8 426.2h.9v.9h-.9zM99.9 418.3h.9v.9h-.9zM128.0 456.5h.9v.9h-.9zM119.0 479.0h.9v.9h-.9zM154.4 463.3h.9v.9h-.9zM134.2 465.1h.9v.9h-.9zM140.8 481.6h.9v.9h-.9zM146.6 465.6h.9v.9h-.9zM123.8 483.3h.9v.9h-.9zM152.2 457.3h.9v.9h-.9zM130.5 447.8h.9v.9h-.9zM109.1 475.3h.9v.9h-.9zM98.4 483.1h.9v.9h-.9zM103.4 479.6h.9v.9h-.9zM89.0 473.5h.9v.9h-.9zM139.9 471.7h.9v.9h-.9zM158.8 473.3h.9v.9h-.9zM145.0 467.3h.9v.9h-.9zM104.8 466.9h.9v.9h-.9zM121.9 477.2h.9v.9h-.9zM129.0 480.3h.9v.9h-.9zM119.9 470.6h.9v.9h-.9zM122.3 480.5h.9v.9h-.9zM127.1 469.2h.9v.9h-.9zM110.5 473.2h.9v.9h-.9zM127.2 475.6h.9v.9h-.9zM132.9 475.3h.9v.9h-.9zM106.2 478.2h.9v.9h-.9zM122.5 496.3h.9v.9h-.9zM99.1 498.9h.9v.9h-.9zM115.9 491.3h.9v.9h-.9zM89.8 491.3h.9v.9h-.9zM176.4 487.5h.9v.9h-.9zM128.2 491.7h.9v.9h-.9zM107.3 492.2h.9v.9h-.9zM121.3 496.3h.9v.9h-.9zM143.7 486.3h.9v.9h-.9zM121.6 499.1h.9v.9h-.9zM111.2 488.6h.9v.9h-.9zM146.6 489.4h.9v.9h-.9zM109.2 497.0h.9v.9h-.9zM152.7 494.6h.9v.9h-.9zM129.3 492.6h.9v.9h-.9zM120.0 491.3h.9v.9h-.9zM142.3 494.7h.9v.9h-.9zM158.5 493.0h.9v.9h-.9zM122.9 491.4h.9v.9h-.9zM120.5 492.0h.9v.9h-.9zM138.0 492.8h.9v.9h-.9zM148.7 488.1h.9v.9h-.9zM112.3 492.9h.9v.9h-.9zM145.9 491.7h.9v.9h-.9zM135.8 489.9h.9v.9h-.9zM114.4 483.7h.9v.9h-.9zM125.7 491.7h.9v.9h-.9zM118.0 496.9h.9v.9h-.9zM119.5 486.7h.9v.9h-.9zM128.5 502.3h.9v.9h-.9zM142.1 490.7h.9v.9h-.9zM136.6 494.0h.9v.9h-.9zM87.6 419.1h.9v.9h-.9zM149.1 456.9h.9v.9h-.9zM101.7 410.8h.9v.9h-.9zM119.9 412.0h.9v.9h-.9zM103.1 414.3h.9v.9h-.9zM81.9 422.1h.9v.9h-.9zM124.8 451.7h.9v.9h-.9zM116.9 450.4h.9v.9h-.9zM95.2 416.2h.9v.9h-.9zM140.8 416.4h.9v.9h-.9zM113.0 448.0h.9v.9h-.9zM160.2 446.1h.9v.9h-.9zM139.5 456.6h.9v.9h-.9zM158.1 465.2h.9v.9h-.9zM157.6 450.5h.9v.9h-.9zM87.9 443.0h.9v.9h-.9zM82.0 431.5h.9v.9h-.9zM151.0 417.7h.9v.9h-.9zM165.0 433.8h.9v.9h-.9zM159.1 428.6h.9v.9h-.9zM159.2 430.2h.9v.9h-.9zM112.7 453.5h.9v.9h-.9zM90.8 448.8h.9v.9h-.9zM94.7 415.3h.9v.9h-.9zM151.8 453.0h.9v.9h-.9zM175.7 473.7h.9v.9h-.9zM166.3 448.5h.9v.9h-.9zM97.8 413.3h.9v.9h-.9zM161.1 455.4h.9v.9h-.9zM169.1 444.0h.9v.9h-.9zM153.2 455.8h.9v.9h-.9zM160.0 428.1h.9v.9h-.9zM87.6 418.1h.9v.9h-.9zM90.0 444.8h.9v.9h-.9zM109.0 415.0h.9v.9h-.9zM87.0 417.6h.9v.9h-.9zM76.0 421.0h.9v.9h-.9zM158.2 427.7h.9v.9h-.9zM87.6 457.0h.9v.9h-.9zM95.0 415.9h.9v.9h-.9zM111.9 414.5h.9v.9h-.9zM98.6 444.0h.9v.9h-.9zM125.3 414.9h.9v.9h-.9zM150.8 405.6h.9v.9h-.9zM158.5 429.8h.9v.9h-.9zM125.6 418.3h.9v.9h-.9zM126.4 418.1h.9v.9h-.9zM141.2 458.9h.9v.9h-.9zM129.3 459.2h.9v.9h-.9zM93.7 418.2h.9v.9h-.9zM93.8 444.8h.9v.9h-.9zM94.7 445.2h.9v.9h-.9zM91.4 416.4h.9v.9h-.9zM140.5 459.2h.9v.9h-.9zM90.4 417.0h.9v.9h-.9zM146.0 420.2h.9v.9h-.9zM163.4 450.9h.9v.9h-.9zM127.5 413.1h.9v.9h-.9zM139.5 461.5h.9v.9h-.9zM160.0 452.1h.9v.9h-.9zM127.1 415.2h.9v.9h-.9zM162.8 442.8h.9v.9h-.9zM161.6 434.8h.9v.9h-.9zM138.5 416.7h.9v.9h-.9zM154.6 424.5h.9v.9h-.9zM121.6 451.4h.9v.9h-.9zM94.5 445.5h.9v.9h-.9zM123.5 452.9h.9v.9h-.9zM161.8 446.4h.9v.9h-.9zM90.0 413.1h.9v.9h-.9zM129.6 410.3h.9v.9h-.9zM98.0 416.0h.9v.9h-.9zM152.0 423.7h.9v.9h-.9zM110.8 415.2h.9v.9h-.9zM169.8 447.4h.9v.9h-.9zM135.2 455.5h.9v.9h-.9zM93.4 412.0h.9v.9h-.9zM168.6 422.7h.9v.9h-.9zM91.2 417.9h.9v.9h-.9zM97.3 444.8h.9v.9h-.9zM158.2 427.3h.9v.9h-.9zM142.8 419.6h.9v.9h-.9zM114.5 457.0h.9v.9h-.9zM82.5 441.7h.9v.9h-.9zM108.9 416.5h.9v.9h-.9zM134.9 456.2h.9v.9h-.9zM155.8 450.9h.9v.9h-.9zM157.6 449.9h.9v.9h-.9zM105.7 446.1h.9v.9h-.9zM142.0 458.9h.9v.9h-.9zM161.1 426.1h.9v.9h-.9zM138.8 409.8h.9v.9h-.9zM109.7 448.6h.9v.9h-.9zM136.3 456.9h.9v.9h-.9zM133.1 415.0h.9v.9h-.9zM153.6 460.6h.9v.9h-.9zM129.5 409.9h.9v.9h-.9zM109.2 406.2h.9v.9h-.9zM155.5 423.0h.9v.9h-.9zM119.7 454.0h.9v.9h-.9zM95.8 445.4h.9v.9h-.9zM84.6 436.7h.9v.9h-.9zM103.5 450.8h.9v.9h-.9zM157.5 425.3h.9v.9h-.9zM101.6 449.3h.9v.9h-.9zM156.8 450.9h.9v.9h-.9zM114.3 476.1h.9v.9h-.9zM81.8 439.1h.9v.9h-.9zM88.4 443.8h.9v.9h-.9zM145.5 418.6h.9v.9h-.9zM121.7 410.9h.9v.9h-.9zM114.9 405.0h.9v.9h-.9zM155.6 426.3h.9v.9h-.9zM99.6 444.5h.9v.9h-.9zM122.9 458.0h.9v.9h-.9zM124.8 458.0h.9v.9h-.9zM88.8 418.2h.9v.9h-.9zM89.1 440.1h.9v.9h-.9zM88.2 441.1h.9v.9h-.9zM96.4 442.3h.9v.9h-.9zM86.2 418.9h.9v.9h-.9zM118.2 452.7h.9v.9h-.9zM95.0 415.5h.9v.9h-.9zM88.0 445.5h.9v.9h-.9zM159.9 447.1h.9v.9h-.9zM151.1 456.8h.9v.9h-.9zM99.2 448.6h.9v.9h-.9zM98.5 448.1h.9v.9h-.9zM106.5 416.2h.9v.9h-.9zM154.4 455.3h.9v.9h-.9zM154.4 421.5h.9v.9h-.9zM89.8 410.3h.9v.9h-.9zM106.0 412.6h.9v.9h-.9zM158.9 443.3h.9v.9h-.9zM95.2 413.7h.9v.9h-.9zM82.2 431.4h.9v.9h-.9zM113.6 458.3h.9v.9h-.9zM91.9 410.8h.9v.9h-.9zM130.0 456.4h.9v.9h-.9zM91.2 416.2h.9v.9h-.9zM135.2 457.4h.9v.9h-.9zM135.1 459.7h.9v.9h-.9zM79.4 426.0h.9v.9h-.9zM163.8 435.3h.9v.9h-.9zM160.3 431.4h.9v.9h-.9zM128.7 413.4h.9v.9h-.9zM133.9 417.9h.9v.9h-.9zM153.7 455.7h.9v.9h-.9zM151.7 425.5h.9v.9h-.9zM148.6 419.0h.9v.9h-.9zM132.6 411.6h.9v.9h-.9zM111.3 449.2h.9v.9h-.9zM90.4 443.0h.9v.9h-.9zM110.4 447.4h.9v.9h-.9zM93.3 402.9h.9v.9h-.9zM91.1 445.0h.9v.9h-.9zM163.0 450.4h.9v.9h-.9zM141.1 456.5h.9v.9h-.9zM170.3 444.7h.9v.9h-.9zM117.9 454.5h.9v.9h-.9zM138.9 410.8h.9v.9h-.9zM123.0 417.8h.9v.9h-.9zM148.9 455.8h.9v.9h-.9zM93.4 442.8h.9v.9h-.9zM120.3 451.0h.9v.9h-.9zM151.1 419.7h.9v.9h-.9zM119.9 417.5h.9v.9h-.9zM82.0 420.5h.9v.9h-.9zM112.8 452.0h.9v.9h-.9zM142.8 419.2h.9v.9h-.9zM128.3 455.5h.9v.9h-.9zM138.4 452.6h.9v.9h-.9zM163.1 435.3h.9v.9h-.9zM118.6 454.0h.9v.9h-.9zM91.8 441.7h.9v.9h-.9zM143.4 417.9h.9v.9h-.9zM82.6 436.8h.9v.9h-.9zM85.6 420.5h.9v.9h-.9zM109.7 414.6h.9v.9h-.9zM166.4 423.4h.9v.9h-.9zM89.5 447.0h.9v.9h-.9zM109.2 451.2h.9v.9h-.9zM155.6 462.1h.9v.9h-.9zM143.2 456.8h.9v.9h-.9zM90.9 414.2h.9v.9h-.9zM95.0 413.2h.9v.9h-.9zM142.2 410.8h.9v.9h-.9zM114.1 455.2h.9v.9h-.9zM124.7 460.0h.9v.9h-.9zM126.9 414.7h.9v.9h-.9zM126.2 412.9h.9v.9h-.9zM97.3 415.5h.9v.9h-.9zM84.8 409.1h.9v.9h-.9zM98.4 412.0h.9v.9h-.9zM97.1 456.3h.9v.9h-.9zM98.3 449.2h.9v.9h-.9zM135.8 410.3h.9v.9h-.9zM168.3 445.5h.9v.9h-.9zM115.2 453.8h.9v.9h-.9zM149.1 414.8h.9v.9h-.9zM69.7 412.3h.9v.9h-.9zM93.6 445.7h.9v.9h-.9zM105.2 413.2h.9v.9h-.9zM115.4 451.1h.9v.9h-.9zM161.5 449.5h.9v.9h-.9zM153.9 457.4h.9v.9h-.9zM161.5 444.3h.9v.9h-.9zM157.4 424.8h.9v.9h-.9zM84.7 417.4h.9v.9h-.9zM116.6 411.7h.9v.9h-.9zM76.8 426.6h.9v.9h-.9zM90.7 417.7h.9v.9h-.9zM109.2 410.9h.9v.9h-.9zM133.3 414.7h.9v.9h-.9zM110.7 451.6h.9v.9h-.9zM98.4 444.2h.9v.9h-.9zM102.1 445.7h.9v.9h-.9zM165.2 421.7h.9v.9h-.9zM124.0 451.2h.9v.9h-.9zM138.1 419.6h.9v.9h-.9zM103.5 447.9h.9v.9h-.9zM143.1 413.6h.9v.9h-.9zM163.4 443.1h.9v.9h-.9zM84.1 429.1h.9v.9h-.9zM90.3 416.9h.9v.9h-.9zM97.6 414.4h.9v.9h-.9zM160.4 445.7h.9v.9h-.9zM99.2 483.2h.9v.9h-.9zM144.7 489.7h.9v.9h-.9zM128.2 483.1h.9v.9h-.9zM143.6 483.0h.9v.9h-.9zM95.6 486.4h.9v.9h-.9zM115.6 481.2h.9v.9h-.9zM148.5 482.1h.9v.9h-.9zM94.8 488.5h.9v.9h-.9zM151.8 480.9h.9v.9h-.9zM92.4 489.2h.9v.9h-.9zM141.6 483.5h.9v.9h-.9zM162.4 487.5h.9v.9h-.9zM97.8 490.4h.9v.9h-.9zM149.6 488.2h.9v.9h-.9zM94.8 489.3h.9v.9h-.9zM115.2 482.3h.9v.9h-.9zM136.0 483.1h.9v.9h-.9zM121.2 491.2h.9v.9h-.9zM149.4 489.9h.9v.9h-.9zM117.4 489.0h.9v.9h-.9zM102.0 491.0h.9v.9h-.9zM89.5 485.6h.9v.9h-.9zM116.8 490.9h.9v.9h-.9zM113.0 485.8h.9v.9h-.9zM107.0 488.3h.9v.9h-.9zM79.1 486.8h.9v.9h-.9zM153.8 482.5h.9v.9h-.9zM147.2 490.7h.9v.9h-.9zM137.3 484.1h.9v.9h-.9zM124.5 487.3h.9v.9h-.9zM117.1 485.8h.9v.9h-.9zM128.3 484.0h.9v.9h-.9zM152.8 489.2h.9v.9h-.9zM123.1 485.7h.9v.9h-.9zM128.6 483.3h.9v.9h-.9z" fill="#98a4dc"/><path d="M103.4 438.3h.9v.9h-.9zM159.0 459.7h.9v.9h-.9zM130.5 438.0h.9v.9h-.9zM159.5 434.6h.9v.9h-.9zM132.5 439.3h.9v.9h-.9zM68.5 439.9h.9v.9h-.9zM120.8 435.3h.9v.9h-.9zM137.8 414.0h.9v.9h-.9zM89.5 418.9h.9v.9h-.9zM61.8 435.9h.9v.9h-.9zM109.7 408.2h.9v.9h-.9zM99.2 446.0h.9v.9h-.9zM137.1 443.7h.9v.9h-.9zM126.7 461.9h.9v.9h-.9zM136.2 450.4h.9v.9h-.9zM111.4 443.7h.9v.9h-.9zM142.8 438.8h.9v.9h-.9zM143.5 434.4h.9v.9h-.9zM138.7 454.5h.9v.9h-.9zM125.3 424.7h.9v.9h-.9zM125.6 446.5h.9v.9h-.9zM98.2 418.1h.9v.9h-.9zM107.2 436.3h.9v.9h-.9zM137.5 436.8h.9v.9h-.9zM135.2 448.1h.9v.9h-.9zM103.8 440.8h.9v.9h-.9zM101.1 471.5h.9v.9h-.9zM138.7 427.3h.9v.9h-.9zM143.4 441.1h.9v.9h-.9zM123.4 426.4h.9v.9h-.9zM114.4 450.1h.9v.9h-.9zM105.3 444.0h.9v.9h-.9zM108.7 436.5h.9v.9h-.9zM161.2 439.0h.9v.9h-.9zM149.6 402.3h.9v.9h-.9zM130.0 436.9h.9v.9h-.9zM114.1 433.3h.9v.9h-.9zM111.8 425.8h.9v.9h-.9zM127.6 438.0h.9v.9h-.9zM79.3 429.4h.9v.9h-.9zM97.6 445.1h.9v.9h-.9zM120.8 425.6h.9v.9h-.9zM130.9 440.0h.9v.9h-.9zM148.4 447.1h.9v.9h-.9zM106.9 448.2h.9v.9h-.9zM107.8 435.2h.9v.9h-.9zM126.0 424.6h.9v.9h-.9zM126.8 449.8h.9v.9h-.9zM128.8 444.9h.9v.9h-.9zM129.7 437.6h.9v.9h-.9zM114.7 439.1h.9v.9h-.9zM149.3 444.7h.9v.9h-.9zM110.7 452.1h.9v.9h-.9zM128.3 425.0h.9v.9h-.9zM86.9 442.1h.9v.9h-.9zM123.8 446.9h.9v.9h-.9zM131.3 455.2h.9v.9h-.9zM156.8 449.9h.9v.9h-.9zM130.7 427.0h.9v.9h-.9zM158.5 437.5h.9v.9h-.9zM145.6 429.2h.9v.9h-.9zM82.0 450.9h.9v.9h-.9zM131.2 442.2h.9v.9h-.9zM123.8 453.3h.9v.9h-.9zM157.3 441.6h.9v.9h-.9zM131.1 436.4h.9v.9h-.9zM113.9 434.4h.9v.9h-.9zM109.7 466.4h.9v.9h-.9zM116.7 452.7h.9v.9h-.9zM111.7 437.9h.9v.9h-.9zM111.3 459.5h.9v.9h-.9zM130.3 434.5h.9v.9h-.9zM144.4 441.8h.9v.9h-.9zM83.6 444.6h.9v.9h-.9zM140.5 452.5h.9v.9h-.9zM135.9 441.4h.9v.9h-.9zM135.9 438.6h.9v.9h-.9zM116.6 429.0h.9v.9h-.9zM160.4 428.0h.9v.9h-.9zM153.2 448.5h.9v.9h-.9zM169.9 469.3h.9v.9h-.9zM103.1 453.2h.9v.9h-.9zM86.9 432.3h.9v.9h-.9zM115.9 442.9h.9v.9h-.9zM118.5 439.4h.9v.9h-.9zM126.6 433.2h.9v.9h-.9zM111.6 413.8h.9v.9h-.9zM87.2 420.4h.9v.9h-.9zM105.9 431.3h.9v.9h-.9zM86.5 450.7h.9v.9h-.9zM119.1 440.8h.9v.9h-.9zM137.4 429.3h.9v.9h-.9zM104.3 403.5h.9v.9h-.9zM125.7 441.7h.9v.9h-.9zM112.9 453.2h.9v.9h-.9zM131.6 438.4h.9v.9h-.9zM134.0 443.0h.9v.9h-.9zM137.6 427.6h.9v.9h-.9zM124.3 440.5h.9v.9h-.9zM122.4 446.7h.9v.9h-.9zM87.7 429.8h.9v.9h-.9zM129.2 437.5h.9v.9h-.9zM123.7 439.9h.9v.9h-.9zM115.5 461.2h.9v.9h-.9zM132.7 434.8h.9v.9h-.9zM140.1 435.1h.9v.9h-.9zM146.0 481.7h.9v.9h-.9zM160.1 465.9h.9v.9h-.9zM132.1 473.0h.9v.9h-.9zM147.2 476.7h.9v.9h-.9zM103.3 452.9h.9v.9h-.9zM116.7 462.5h.9v.9h-.9zM113.3 475.1h.9v.9h-.9zM144.4 471.5h.9v.9h-.9zM126.1 463.0h.9v.9h-.9zM106.5 478.1h.9v.9h-.9zM95.7 470.7h.9v.9h-.9zM104.0 466.7h.9v.9h-.9zM158.6 474.9h.9v.9h-.9zM120.8 475.7h.9v.9h-.9zM125.8 470.5h.9v.9h-.9zM131.9 477.8h.9v.9h-.9zM127.1 477.0h.9v.9h-.9zM97.2 480.4h.9v.9h-.9zM116.6 476.9h.9v.9h-.9zM138.2 467.4h.9v.9h-.9zM123.0 476.6h.9v.9h-.9zM126.1 468.2h.9v.9h-.9zM117.5 483.1h.9v.9h-.9zM154.1 474.2h.9v.9h-.9zM147.5 473.9h.9v.9h-.9zM116.8 470.9h.9v.9h-.9zM137.9 468.1h.9v.9h-.9zM140.5 493.7h.9v.9h-.9zM136.2 487.2h.9v.9h-.9zM125.1 470.4h.9v.9h-.9zM110.3 469.7h.9v.9h-.9zM123.7 469.5h.9v.9h-.9zM105.3 497.5h.9v.9h-.9zM137.4 492.0h.9v.9h-.9zM110.7 491.0h.9v.9h-.9zM132.5 483.3h.9v.9h-.9zM106.2 489.2h.9v.9h-.9zM138.9 488.7h.9v.9h-.9zM150.2 481.0h.9v.9h-.9zM138.3 476.6h.9v.9h-.9zM87.3 492.3h.9v.9h-.9zM159.0 483.6h.9v.9h-.9zM116.1 491.7h.9v.9h-.9zM121.1 497.2h.9v.9h-.9zM162.3 491.2h.9v.9h-.9zM117.4 493.8h.9v.9h-.9zM107.8 489.1h.9v.9h-.9zM93.9 492.2h.9v.9h-.9zM148.5 497.9h.9v.9h-.9zM150.5 495.0h.9v.9h-.9zM155.5 487.2h.9v.9h-.9zM107.3 492.6h.9v.9h-.9zM130.0 498.8h.9v.9h-.9zM128.2 490.3h.9v.9h-.9zM91.9 499.7h.9v.9h-.9zM102.9 484.0h.9v.9h-.9zM96.8 486.2h.9v.9h-.9zM123.8 486.1h.9v.9h-.9zM123.8 497.2h.9v.9h-.9zM127.4 488.9h.9v.9h-.9zM127.6 488.1h.9v.9h-.9zM112.2 491.8h.9v.9h-.9zM136.5 491.0h.9v.9h-.9zM123.9 489.5h.9v.9h-.9zM161.7 495.5h.9v.9h-.9zM91.3 417.3h.9v.9h-.9zM120.1 416.5h.9v.9h-.9zM161.7 439.8h.9v.9h-.9zM140.5 462.2h.9v.9h-.9zM82.7 439.6h.9v.9h-.9zM151.8 459.7h.9v.9h-.9zM106.1 446.5h.9v.9h-.9zM112.1 413.6h.9v.9h-.9zM165.2 451.1h.9v.9h-.9zM122.9 450.6h.9v.9h-.9zM133.6 457.9h.9v.9h-.9zM168.4 440.7h.9v.9h-.9zM100.4 450.2h.9v.9h-.9zM90.1 447.6h.9v.9h-.9zM82.3 444.1h.9v.9h-.9zM98.7 414.1h.9v.9h-.9zM89.8 415.2h.9v.9h-.9zM143.1 460.1h.9v.9h-.9zM148.0 457.5h.9v.9h-.9zM141.5 418.9h.9v.9h-.9zM120.2 457.5h.9v.9h-.9zM123.1 413.7h.9v.9h-.9zM161.6 425.7h.9v.9h-.9zM130.9 460.5h.9v.9h-.9zM106.4 414.0h.9v.9h-.9zM121.9 416.2h.9v.9h-.9zM95.8 418.2h.9v.9h-.9zM128.5 456.6h.9v.9h-.9zM126.4 460.0h.9v.9h-.9zM160.6 437.9h.9v.9h-.9zM109.2 444.8h.9v.9h-.9zM102.3 410.3h.9v.9h-.9zM129.9 414.9h.9v.9h-.9zM167.6 431.6h.9v.9h-.9zM161.6 457.4h.9v.9h-.9zM159.0 459.1h.9v.9h-.9zM95.1 408.2h.9v.9h-.9zM95.2 400.0h.9v.9h-.9zM125.8 414.7h.9v.9h-.9zM104.6 450.3h.9v.9h-.9zM124.0 417.8h.9v.9h-.9zM84.4 443.3h.9v.9h-.9zM116.4 449.6h.9v.9h-.9zM95.4 416.4h.9v.9h-.9zM144.1 458.5h.9v.9h-.9zM144.7 420.0h.9v.9h-.9zM130.6 416.1h.9v.9h-.9zM104.7 414.9h.9v.9h-.9zM119.1 412.6h.9v.9h-.9zM134.8 456.8h.9v.9h-.9zM165.2 421.5h.9v.9h-.9zM127.2 458.6h.9v.9h-.9zM166.7 426.1h.9v.9h-.9zM152.2 457.7h.9v.9h-.9zM108.2 415.9h.9v.9h-.9zM73.7 446.5h.9v.9h-.9zM83.4 439.6h.9v.9h-.9zM144.4 456.8h.9v.9h-.9zM125.3 415.8h.9v.9h-.9zM82.1 442.9h.9v.9h-.9zM80.0 422.2h.9v.9h-.9zM156.7 454.9h.9v.9h-.9zM120.0 450.7h.9v.9h-.9zM87.1 414.8h.9v.9h-.9zM118.2 412.8h.9v.9h-.9zM162.3 456.1h.9v.9h-.9zM88.6 415.7h.9v.9h-.9zM135.3 418.4h.9v.9h-.9zM150.4 421.4h.9v.9h-.9zM135.6 415.0h.9v.9h-.9zM98.3 408.8h.9v.9h-.9zM160.2 433.3h.9v.9h-.9zM176.2 448.0h.9v.9h-.9zM94.1 445.1h.9v.9h-.9zM124.5 409.0h.9v.9h-.9zM78.4 425.4h.9v.9h-.9zM74.7 428.8h.9v.9h-.9zM156.7 418.1h.9v.9h-.9zM145.3 460.8h.9v.9h-.9zM130.0 410.1h.9v.9h-.9zM146.7 456.8h.9v.9h-.9zM81.2 424.5h.9v.9h-.9zM117.0 452.8h.9v.9h-.9zM156.8 457.2h.9v.9h-.9zM145.4 458.3h.9v.9h-.9zM158.9 429.6h.9v.9h-.9zM106.7 411.9h.9v.9h-.9zM90.6 444.1h.9v.9h-.9zM127.8 418.6h.9v.9h-.9zM151.4 453.8h.9v.9h-.9zM92.4 412.8h.9v.9h-.9zM139.7 415.6h.9v.9h-.9zM150.4 418.5h.9v.9h-.9zM115.6 411.4h.9v.9h-.9zM70.5 422.9h.9v.9h-.9zM120.4 449.3h.9v.9h-.9zM114.1 451.6h.9v.9h-.9zM156.7 456.0h.9v.9h-.9zM151.9 426.9h.9v.9h-.9zM127.3 456.6h.9v.9h-.9zM133.5 455.0h.9v.9h-.9zM90.5 409.5h.9v.9h-.9zM159.4 446.0h.9v.9h-.9zM148.0 459.0h.9v.9h-.9zM134.2 409.6h.9v.9h-.9zM90.1 447.3h.9v.9h-.9zM84.2 441.3h.9v.9h-.9zM79.7 441.7h.9v.9h-.9zM103.3 450.5h.9v.9h-.9zM160.1 446.0h.9v.9h-.9zM68.1 433.3h.9v.9h-.9zM139.4 460.0h.9v.9h-.9zM121.5 449.6h.9v.9h-.9zM140.9 419.0h.9v.9h-.9zM116.7 448.7h.9v.9h-.9zM119.6 414.7h.9v.9h-.9zM131.9 466.3h.9v.9h-.9zM145.5 416.3h.9v.9h-.9zM165.0 451.3h.9v.9h-.9zM108.0 452.5h.9v.9h-.9zM119.4 409.4h.9v.9h-.9zM72.7 432.5h.9v.9h-.9zM109.3 413.5h.9v.9h-.9zM156.2 424.7h.9v.9h-.9zM87.9 417.3h.9v.9h-.9zM82.6 423.8h.9v.9h-.9zM80.9 428.6h.9v.9h-.9zM158.8 449.4h.9v.9h-.9zM97.8 447.4h.9v.9h-.9zM149.3 419.8h.9v.9h-.9zM94.7 416.8h.9v.9h-.9zM147.5 459.4h.9v.9h-.9zM107.0 451.1h.9v.9h-.9zM112.4 447.9h.9v.9h-.9zM167.9 449.2h.9v.9h-.9zM98.2 445.3h.9v.9h-.9zM159.9 453.7h.9v.9h-.9zM132.2 418.1h.9v.9h-.9zM82.2 424.1h.9v.9h-.9zM86.0 442.2h.9v.9h-.9zM163.3 443.6h.9v.9h-.9zM99.6 416.5h.9v.9h-.9zM151.1 457.6h.9v.9h-.9zM139.9 455.1h.9v.9h-.9zM129.4 418.7h.9v.9h-.9zM160.0 448.6h.9v.9h-.9zM129.2 414.3h.9v.9h-.9zM116.8 451.6h.9v.9h-.9zM90.5 418.6h.9v.9h-.9zM147.3 459.9h.9v.9h-.9zM157.0 453.9h.9v.9h-.9zM160.3 452.8h.9v.9h-.9zM142.2 415.5h.9v.9h-.9zM102.4 446.5h.9v.9h-.9zM114.3 414.7h.9v.9h-.9zM168.8 464.4h.9v.9h-.9zM159.4 428.0h.9v.9h-.9zM106.1 447.0h.9v.9h-.9zM140.6 416.2h.9v.9h-.9zM114.9 457.8h.9v.9h-.9zM95.1 416.9h.9v.9h-.9zM90.4 446.9h.9v.9h-.9zM166.8 413.0h.9v.9h-.9zM137.8 418.7h.9v.9h-.9zM129.1 414.4h.9v.9h-.9zM130.3 406.0h.9v.9h-.9zM93.3 412.1h.9v.9h-.9zM131.9 414.2h.9v.9h-.9zM148.2 461.7h.9v.9h-.9zM136.7 461.3h.9v.9h-.9zM71.7 445.1h.9v.9h-.9zM162.9 448.6h.9v.9h-.9zM141.6 457.3h.9v.9h-.9zM108.2 414.3h.9v.9h-.9zM160.3 460.7h.9v.9h-.9zM100.4 413.6h.9v.9h-.9zM145.9 414.4h.9v.9h-.9zM158.9 451.5h.9v.9h-.9zM177.2 445.6h.9v.9h-.9zM111.0 414.7h.9v.9h-.9zM164.6 429.8h.9v.9h-.9zM83.7 415.4h.9v.9h-.9zM87.7 414.7h.9v.9h-.9zM150.0 419.1h.9v.9h-.9zM157.3 449.4h.9v.9h-.9zM154.8 425.0h.9v.9h-.9zM84.6 417.1h.9v.9h-.9zM84.4 438.2h.9v.9h-.9zM77.9 441.9h.9v.9h-.9zM145.0 420.9h.9v.9h-.9zM138.3 460.3h.9v.9h-.9zM160.5 447.1h.9v.9h-.9zM101.0 413.6h.9v.9h-.9zM143.0 459.0h.9v.9h-.9zM113.2 417.5h.9v.9h-.9zM147.6 420.8h.9v.9h-.9zM109.7 454.7h.9v.9h-.9zM104.0 447.0h.9v.9h-.9zM159.6 461.5h.9v.9h-.9zM168.4 426.0h.9v.9h-.9zM134.7 457.3h.9v.9h-.9zM82.9 419.1h.9v.9h-.9zM83.4 419.3h.9v.9h-.9zM132.8 418.3h.9v.9h-.9zM161.8 426.1h.9v.9h-.9zM128.5 460.8h.9v.9h-.9zM89.7 411.7h.9v.9h-.9zM166.5 438.5h.9v.9h-.9zM105.7 452.0h.9v.9h-.9zM119.6 414.5h.9v.9h-.9zM160.7 447.1h.9v.9h-.9zM130.2 414.5h.9v.9h-.9zM117.0 488.5h.9v.9h-.9zM97.5 490.3h.9v.9h-.9zM103.4 486.8h.9v.9h-.9zM154.2 489.7h.9v.9h-.9zM158.2 484.2h.9v.9h-.9zM123.2 477.7h.9v.9h-.9zM92.9 485.3h.9v.9h-.9zM138.0 484.5h.9v.9h-.9zM94.5 488.1h.9v.9h-.9zM114.1 478.3h.9v.9h-.9zM161.9 484.0h.9v.9h-.9zM154.9 490.2h.9v.9h-.9zM104.5 489.8h.9v.9h-.9zM115.5 490.7h.9v.9h-.9zM86.6 485.3h.9v.9h-.9zM103.0 483.7h.9v.9h-.9zM152.9 489.7h.9v.9h-.9zM149.1 482.6h.9v.9h-.9zM85.8 488.5h.9v.9h-.9zM105.3 488.6h.9v.9h-.9zM109.9 490.3h.9v.9h-.9zM105.9 492.2h.9v.9h-.9zM150.8 484.0h.9v.9h-.9zM105.4 485.8h.9v.9h-.9zM97.4 487.5h.9v.9h-.9zM142.4 488.0h.9v.9h-.9zM88.2 490.4h.9v.9h-.9z" fill="#7888d4"/><path d="M130.2 421.3h.9v.9h-.9zM158.7 447.5h.9v.9h-.9zM129.1 437.1h.9v.9h-.9zM96.9 410.2h.9v.9h-.9zM91.9 408.5h.9v.9h-.9zM118.1 449.4h.9v.9h-.9zM139.7 462.1h.9v.9h-.9zM111.3 455.9h.9v.9h-.9zM160.6 447.0h.9v.9h-.9zM115.7 421.8h.9v.9h-.9zM102.8 444.4h.9v.9h-.9zM125.9 449.2h.9v.9h-.9zM143.1 427.2h.9v.9h-.9zM173.0 459.2h.9v.9h-.9zM112.5 436.2h.9v.9h-.9zM76.9 451.4h.9v.9h-.9zM165.0 451.5h.9v.9h-.9zM96.1 433.6h.9v.9h-.9zM150.1 425.3h.9v.9h-.9zM158.6 430.4h.9v.9h-.9zM125.2 413.8h.9v.9h-.9zM132.8 415.4h.9v.9h-.9zM134.7 406.0h.9v.9h-.9zM146.4 448.8h.9v.9h-.9zM102.6 425.3h.9v.9h-.9zM128.9 442.0h.9v.9h-.9zM110.2 435.6h.9v.9h-.9zM125.9 454.8h.9v.9h-.9zM129.9 465.4h.9v.9h-.9zM134.3 432.1h.9v.9h-.9zM132.1 409.5h.9v.9h-.9zM99.3 420.2h.9v.9h-.9zM100.3 420.9h.9v.9h-.9zM160.8 443.6h.9v.9h-.9zM134.5 453.2h.9v.9h-.9zM137.8 415.4h.9v.9h-.9zM127.9 447.9h.9v.9h-.9zM149.2 426.4h.9v.9h-.9zM93.7 440.9h.9v.9h-.9zM105.2 423.7h.9v.9h-.9zM89.6 435.8h.9v.9h-.9zM88.1 438.0h.9v.9h-.9zM118.8 445.3h.9v.9h-.9zM127.3 432.1h.9v.9h-.9zM104.0 445.8h.9v.9h-.9zM67.0 427.7h.9v.9h-.9zM135.5 460.3h.9v.9h-.9zM93.6 426.0h.9v.9h-.9zM102.6 412.5h.9v.9h-.9zM121.4 457.7h.9v.9h-.9zM154.0 460.7h.9v.9h-.9zM86.1 439.7h.9v.9h-.9zM112.9 450.2h.9v.9h-.9zM119.0 439.6h.9v.9h-.9zM92.2 457.2h.9v.9h-.9zM131.0 421.5h.9v.9h-.9zM126.6 448.4h.9v.9h-.9zM99.7 409.3h.9v.9h-.9zM114.7 434.7h.9v.9h-.9zM92.3 413.5h.9v.9h-.9zM106.2 429.4h.9v.9h-.9zM120.1 429.8h.9v.9h-.9zM112.0 440.3h.9v.9h-.9zM143.4 423.2h.9v.9h-.9zM99.3 425.8h.9v.9h-.9zM104.1 422.6h.9v.9h-.9zM123.8 432.9h.9v.9h-.9zM94.2 422.8h.9v.9h-.9zM163.6 431.5h.9v.9h-.9zM102.0 429.7h.9v.9h-.9zM76.9 430.8h.9v.9h-.9zM146.7 424.0h.9v.9h-.9zM94.2 409.6h.9v.9h-.9zM80.7 454.4h.9v.9h-.9zM122.7 438.3h.9v.9h-.9zM136.1 421.4h.9v.9h-.9zM51.7 422.5h.9v.9h-.9zM114.6 425.9h.9v.9h-.9zM127.7 460.4h.9v.9h-.9zM97.5 435.4h.9v.9h-.9zM138.0 442.0h.9v.9h-.9zM88.5 432.8h.9v.9h-.9zM145.8 450.3h.9v.9h-.9zM145.1 447.5h.9v.9h-.9zM110.5 428.7h.9v.9h-.9zM122.6 449.9h.9v.9h-.9zM90.9 447.1h.9v.9h-.9zM130.7 449.4h.9v.9h-.9zM119.2 434.9h.9v.9h-.9zM62.6 445.0h.9v.9h-.9zM136.8 438.2h.9v.9h-.9zM147.1 443.9h.9v.9h-.9zM135.9 409.1h.9v.9h-.9zM116.7 429.2h.9v.9h-.9zM142.8 480.7h.9v.9h-.9zM110.0 478.2h.9v.9h-.9zM116.2 474.4h.9v.9h-.9zM140.5 470.3h.9v.9h-.9zM128.4 482.0h.9v.9h-.9zM158.8 476.1h.9v.9h-.9zM143.7 465.4h.9v.9h-.9zM133.4 472.6h.9v.9h-.9zM95.7 488.9h.9v.9h-.9zM111.9 467.1h.9v.9h-.9zM121.2 470.6h.9v.9h-.9zM110.0 473.3h.9v.9h-.9zM132.0 467.1h.9v.9h-.9zM137.1 470.0h.9v.9h-.9zM85.9 481.7h.9v.9h-.9zM134.6 472.5h.9v.9h-.9zM109.2 466.2h.9v.9h-.9zM105.4 475.7h.9v.9h-.9zM165.8 471.0h.9v.9h-.9zM99.5 484.5h.9v.9h-.9zM112.4 463.1h.9v.9h-.9zM76.7 470.5h.9v.9h-.9zM120.8 476.0h.9v.9h-.9zM144.4 471.1h.9v.9h-.9zM114.4 469.3h.9v.9h-.9zM125.7 473.2h.9v.9h-.9zM138.2 476.6h.9v.9h-.9zM136.2 454.3h.9v.9h-.9zM117.9 462.3h.9v.9h-.9zM163.5 478.7h.9v.9h-.9zM147.5 469.9h.9v.9h-.9zM148.3 466.3h.9v.9h-.9zM110.6 487.7h.9v.9h-.9zM146.3 491.6h.9v.9h-.9zM147.8 488.6h.9v.9h-.9zM90.8 487.6h.9v.9h-.9zM70.2 483.1h.9v.9h-.9zM118.0 481.5h.9v.9h-.9zM130.2 487.6h.9v.9h-.9zM136.5 495.9h.9v.9h-.9zM112.2 481.9h.9v.9h-.9zM158.7 488.9h.9v.9h-.9zM129.7 489.6h.9v.9h-.9zM118.7 488.2h.9v.9h-.9zM106.5 488.7h.9v.9h-.9zM113.7 490.0h.9v.9h-.9zM139.0 488.4h.9v.9h-.9zM121.9 494.1h.9v.9h-.9zM134.2 488.2h.9v.9h-.9zM139.8 488.0h.9v.9h-.9zM100.2 485.1h.9v.9h-.9zM139.1 494.3h.9v.9h-.9zM145.3 484.2h.9v.9h-.9zM113.7 492.1h.9v.9h-.9zM115.4 483.2h.9v.9h-.9zM111.1 487.1h.9v.9h-.9zM107.0 489.4h.9v.9h-.9zM102.9 499.8h.9v.9h-.9zM101.9 494.0h.9v.9h-.9zM93.9 493.9h.9v.9h-.9zM86.9 483.4h.9v.9h-.9zM176.2 487.4h.9v.9h-.9zM155.7 497.5h.9v.9h-.9zM131.2 493.0h.9v.9h-.9zM141.2 418.6h.9v.9h-.9zM162.9 443.2h.9v.9h-.9zM102.5 410.1h.9v.9h-.9zM117.8 413.8h.9v.9h-.9zM105.3 448.3h.9v.9h-.9zM88.1 417.3h.9v.9h-.9zM111.3 449.7h.9v.9h-.9zM156.3 453.1h.9v.9h-.9zM108.0 417.1h.9v.9h-.9zM98.5 453.6h.9v.9h-.9zM111.6 444.8h.9v.9h-.9zM95.1 407.3h.9v.9h-.9zM152.1 422.8h.9v.9h-.9zM137.1 458.8h.9v.9h-.9zM99.8 398.6h.9v.9h-.9zM160.3 424.8h.9v.9h-.9zM81.6 427.7h.9v.9h-.9zM92.4 411.9h.9v.9h-.9zM173.4 449.7h.9v.9h-.9zM72.5 419.2h.9v.9h-.9zM115.0 450.3h.9v.9h-.9zM79.6 423.6h.9v.9h-.9zM121.4 451.5h.9v.9h-.9zM149.3 418.1h.9v.9h-.9zM123.3 415.3h.9v.9h-.9zM127.1 407.8h.9v.9h-.9zM114.1 412.2h.9v.9h-.9zM142.4 456.2h.9v.9h-.9zM122.0 416.0h.9v.9h-.9zM125.4 412.3h.9v.9h-.9zM159.8 442.8h.9v.9h-.9zM163.5 463.0h.9v.9h-.9zM113.6 416.2h.9v.9h-.9zM92.3 411.0h.9v.9h-.9zM153.6 455.1h.9v.9h-.9zM82.1 434.1h.9v.9h-.9zM84.2 441.5h.9v.9h-.9zM160.0 427.1h.9v.9h-.9zM146.0 421.0h.9v.9h-.9zM93.8 415.8h.9v.9h-.9zM135.3 465.6h.9v.9h-.9zM103.6 413.8h.9v.9h-.9zM105.1 416.4h.9v.9h-.9zM106.9 414.2h.9v.9h-.9zM102.7 410.9h.9v.9h-.9zM125.8 456.7h.9v.9h-.9zM157.5 412.4h.9v.9h-.9zM123.7 454.8h.9v.9h-.9zM145.7 417.3h.9v.9h-.9zM166.4 433.0h.9v.9h-.9zM164.8 435.7h.9v.9h-.9zM157.4 428.1h.9v.9h-.9zM159.0 433.0h.9v.9h-.9zM94.4 417.9h.9v.9h-.9zM109.5 415.2h.9v.9h-.9zM106.4 454.4h.9v.9h-.9zM88.2 412.4h.9v.9h-.9zM147.4 419.2h.9v.9h-.9zM91.9 442.6h.9v.9h-.9zM158.7 424.1h.9v.9h-.9zM149.2 456.3h.9v.9h-.9zM120.7 417.7h.9v.9h-.9zM148.3 460.4h.9v.9h-.9zM160.8 435.6h.9v.9h-.9zM126.3 412.0h.9v.9h-.9zM149.0 455.3h.9v.9h-.9zM88.2 444.1h.9v.9h-.9zM94.7 441.5h.9v.9h-.9zM104.4 451.2h.9v.9h-.9zM81.4 436.1h.9v.9h-.9zM164.9 420.3h.9v.9h-.9zM107.7 413.1h.9v.9h-.9zM154.6 424.0h.9v.9h-.9zM77.1 438.1h.9v.9h-.9zM154.6 456.1h.9v.9h-.9zM170.9 448.6h.9v.9h-.9zM98.7 413.4h.9v.9h-.9zM152.4 458.1h.9v.9h-.9zM88.7 413.0h.9v.9h-.9zM95.9 452.3h.9v.9h-.9zM158.0 456.6h.9v.9h-.9zM77.9 441.5h.9v.9h-.9zM90.7 419.5h.9v.9h-.9zM95.8 415.1h.9v.9h-.9zM121.1 410.5h.9v.9h-.9zM74.1 428.6h.9v.9h-.9zM82.2 426.5h.9v.9h-.9zM130.3 455.2h.9v.9h-.9zM148.0 464.3h.9v.9h-.9zM99.4 451.7h.9v.9h-.9zM154.7 420.5h.9v.9h-.9zM163.9 456.6h.9v.9h-.9zM145.1 457.7h.9v.9h-.9zM159.2 433.7h.9v.9h-.9zM120.8 415.9h.9v.9h-.9zM159.8 437.5h.9v.9h-.9zM145.1 460.5h.9v.9h-.9zM147.4 455.9h.9v.9h-.9zM74.6 424.1h.9v.9h-.9zM158.2 422.3h.9v.9h-.9zM164.0 462.2h.9v.9h-.9zM132.6 458.0h.9v.9h-.9zM131.9 416.8h.9v.9h-.9zM90.9 415.5h.9v.9h-.9zM80.0 432.0h.9v.9h-.9zM158.4 450.6h.9v.9h-.9zM127.5 457.7h.9v.9h-.9zM103.1 447.8h.9v.9h-.9zM89.0 443.9h.9v.9h-.9zM103.2 412.8h.9v.9h-.9zM131.7 454.8h.9v.9h-.9zM97.5 445.1h.9v.9h-.9zM95.9 415.5h.9v.9h-.9zM145.4 461.3h.9v.9h-.9zM164.2 435.7h.9v.9h-.9zM178.9 424.8h.9v.9h-.9zM141.1 419.8h.9v.9h-.9zM91.3 441.9h.9v.9h-.9zM165.1 436.0h.9v.9h-.9zM142.8 418.0h.9v.9h-.9zM87.9 419.4h.9v.9h-.9zM154.5 423.5h.9v.9h-.9zM98.8 414.0h.9v.9h-.9zM87.0 410.0h.9v.9h-.9zM96.7 411.3h.9v.9h-.9zM134.1 458.0h.9v.9h-.9zM126.6 455.6h.9v.9h-.9zM120.3 452.2h.9v.9h-.9zM164.6 436.5h.9v.9h-.9zM157.9 431.1h.9v.9h-.9zM74.5 426.5h.9v.9h-.9zM124.7 406.3h.9v.9h-.9zM128.3 454.8h.9v.9h-.9zM87.6 442.6h.9v.9h-.9zM133.0 416.0h.9v.9h-.9zM155.9 452.0h.9v.9h-.9zM166.5 450.4h.9v.9h-.9zM85.7 420.2h.9v.9h-.9zM151.8 456.2h.9v.9h-.9zM141.5 456.7h.9v.9h-.9zM89.4 441.3h.9v.9h-.9zM119.7 415.6h.9v.9h-.9zM92.7 416.1h.9v.9h-.9zM125.6 416.4h.9v.9h-.9zM167.7 429.0h.9v.9h-.9zM80.6 433.4h.9v.9h-.9zM125.9 415.4h.9v.9h-.9zM163.4 431.4h.9v.9h-.9zM109.9 448.6h.9v.9h-.9zM133.1 466.8h.9v.9h-.9zM150.8 456.3h.9v.9h-.9zM131.2 459.5h.9v.9h-.9zM159.3 426.1h.9v.9h-.9zM159.3 451.5h.9v.9h-.9zM82.4 418.0h.9v.9h-.9zM131.8 458.2h.9v.9h-.9zM102.7 442.5h.9v.9h-.9zM76.2 445.8h.9v.9h-.9zM86.4 441.9h.9v.9h-.9zM164.4 449.6h.9v.9h-.9zM124.2 415.3h.9v.9h-.9zM159.8 439.9h.9v.9h-.9zM170.3 448.6h.9v.9h-.9zM99.5 445.3h.9v.9h-.9zM127.3 415.1h.9v.9h-.9zM97.4 415.0h.9v.9h-.9zM147.6 420.9h.9v.9h-.9zM160.5 444.7h.9v.9h-.9zM115.8 447.2h.9v.9h-.9zM122.8 414.5h.9v.9h-.9zM72.1 444.7h.9v.9h-.9zM117.6 412.2h.9v.9h-.9zM87.6 419.9h.9v.9h-.9zM145.1 418.3h.9v.9h-.9zM145.8 458.7h.9v.9h-.9zM154.7 420.7h.9v.9h-.9zM157.5 423.2h.9v.9h-.9zM105.5 461.7h.9v.9h-.9zM80.0 432.4h.9v.9h-.9zM123.2 418.0h.9v.9h-.9zM131.8 458.1h.9v.9h-.9zM85.4 440.1h.9v.9h-.9zM92.7 443.8h.9v.9h-.9zM115.7 449.0h.9v.9h-.9zM113.0 412.6h.9v.9h-.9zM143.3 458.0h.9v.9h-.9zM102.2 446.2h.9v.9h-.9zM111.5 467.3h.9v.9h-.9zM108.3 448.5h.9v.9h-.9zM115.5 452.6h.9v.9h-.9zM132.3 417.6h.9v.9h-.9zM83.8 438.6h.9v.9h-.9zM156.4 452.8h.9v.9h-.9zM125.2 415.9h.9v.9h-.9zM115.4 414.7h.9v.9h-.9zM73.6 420.5h.9v.9h-.9zM159.3 439.7h.9v.9h-.9zM127.8 415.9h.9v.9h-.9zM102.8 447.4h.9v.9h-.9zM129.3 409.7h.9v.9h-.9zM166.9 428.0h.9v.9h-.9zM159.7 438.3h.9v.9h-.9zM117.3 411.3h.9v.9h-.9zM170.1 439.7h.9v.9h-.9zM127.5 418.1h.9v.9h-.9zM157.0 425.6h.9v.9h-.9zM154.0 427.9h.9v.9h-.9zM136.9 460.1h.9v.9h-.9zM122.6 416.1h.9v.9h-.9zM80.3 430.7h.9v.9h-.9zM105.1 414.5h.9v.9h-.9zM149.0 424.4h.9v.9h-.9zM124.8 417.8h.9v.9h-.9zM131.1 412.5h.9v.9h-.9zM125.0 416.1h.9v.9h-.9zM116.8 449.6h.9v.9h-.9zM104.6 445.3h.9v.9h-.9zM132.2 407.5h.9v.9h-.9zM89.2 415.0h.9v.9h-.9zM160.8 444.0h.9v.9h-.9zM144.4 456.5h.9v.9h-.9zM119.4 415.8h.9v.9h-.9zM116.9 452.7h.9v.9h-.9zM124.5 415.4h.9v.9h-.9zM160.1 464.2h.9v.9h-.9zM58.6 429.6h.9v.9h-.9zM94.5 450.2h.9v.9h-.9zM186.6 449.0h.9v.9h-.9zM80.4 434.2h.9v.9h-.9zM158.5 426.6h.9v.9h-.9zM145.3 419.5h.9v.9h-.9zM80.8 426.1h.9v.9h-.9zM145.0 457.3h.9v.9h-.9zM74.3 416.0h.9v.9h-.9zM154.6 424.3h.9v.9h-.9zM80.5 415.3h.9v.9h-.9zM146.2 419.2h.9v.9h-.9zM163.4 429.3h.9v.9h-.9zM117.5 413.8h.9v.9h-.9zM161.8 435.7h.9v.9h-.9zM131.0 413.9h.9v.9h-.9zM92.0 443.9h.9v.9h-.9zM163.0 436.1h.9v.9h-.9zM162.4 453.5h.9v.9h-.9zM109.5 445.6h.9v.9h-.9zM134.9 484.3h.9v.9h-.9zM92.2 487.2h.9v.9h-.9zM121.3 476.9h.9v.9h-.9zM159.5 491.9h.9v.9h-.9zM126.4 489.7h.9v.9h-.9zM142.5 482.3h.9v.9h-.9zM97.5 486.4h.9v.9h-.9zM142.3 485.8h.9v.9h-.9zM124.2 483.1h.9v.9h-.9zM97.7 485.4h.9v.9h-.9zM109.2 484.6h.9v.9h-.9zM174.9 482.0h.9v.9h-.9zM107.5 485.6h.9v.9h-.9zM166.6 482.3h.9v.9h-.9zM127.2 484.2h.9v.9h-.9zM96.1 489.4h.9v.9h-.9zM95.5 490.9h.9v.9h-.9zM147.7 489.3h.9v.9h-.9zM109.1 488.6h.9v.9h-.9zM148.9 489.3h.9v.9h-.9zM140.5 486.0h.9v.9h-.9zM161.5 484.8h.9v.9h-.9zM110.7 488.9h.9v.9h-.9zM95.0 487.8h.9v.9h-.9zM132.8 489.7h.9v.9h-.9zM126.9 485.7h.9v.9h-.9zM110.5 485.4h.9v.9h-.9zM85.9 488.9h.9v.9h-.9zM103.1 486.2h.9v.9h-.9z" fill="#c0c4e0"/><path d="M121.0 434.7h.9v.9h-.9zM152.5 426.8h.9v.9h-.9zM159.3 436.6h.9v.9h-.9zM140.5 456.2h.9v.9h-.9zM139.6 448.1h.9v.9h-.9zM136.5 467.2h.9v.9h-.9zM104.4 470.6h.9v.9h-.9zM140.7 426.1h.9v.9h-.9zM124.8 441.5h.9v.9h-.9zM137.7 439.3h.9v.9h-.9zM133.9 409.2h.9v.9h-.9zM144.6 454.2h.9v.9h-.9zM107.1 446.7h.9v.9h-.9zM91.7 440.1h.9v.9h-.9zM124.9 438.3h.9v.9h-.9zM138.6 439.9h.9v.9h-.9zM121.6 468.2h.9v.9h-.9zM128.5 445.0h.9v.9h-.9zM137.9 442.7h.9v.9h-.9zM134.5 436.5h.9v.9h-.9zM104.2 430.5h.9v.9h-.9zM133.2 448.7h.9v.9h-.9zM148.1 455.6h.9v.9h-.9zM113.3 461.4h.9v.9h-.9zM146.8 471.5h.9v.9h-.9zM51.0 417.1h.9v.9h-.9zM119.5 451.8h.9v.9h-.9zM143.3 436.4h.9v.9h-.9zM93.3 437.0h.9v.9h-.9zM137.2 454.4h.9v.9h-.9zM126.3 434.5h.9v.9h-.9zM120.2 450.1h.9v.9h-.9zM154.4 433.1h.9v.9h-.9zM119.5 438.4h.9v.9h-.9zM102.2 457.0h.9v.9h-.9zM140.7 444.7h.9v.9h-.9zM81.6 428.4h.9v.9h-.9zM96.4 420.3h.9v.9h-.9zM117.5 458.4h.9v.9h-.9zM133.4 457.6h.9v.9h-.9zM150.7 428.8h.9v.9h-.9zM154.2 463.1h.9v.9h-.9zM103.8 425.0h.9v.9h-.9zM113.7 462.3h.9v.9h-.9zM115.3 442.9h.9v.9h-.9zM121.0 447.9h.9v.9h-.9zM126.2 469.9h.9v.9h-.9zM145.5 431.8h.9v.9h-.9zM103.1 447.3h.9v.9h-.9zM157.3 424.7h.9v.9h-.9zM162.9 437.1h.9v.9h-.9zM120.5 447.8h.9v.9h-.9zM134.2 422.2h.9v.9h-.9zM113.4 442.9h.9v.9h-.9zM55.8 451.0h.9v.9h-.9zM129.9 457.8h.9v.9h-.9zM149.8 445.4h.9v.9h-.9zM112.8 450.8h.9v.9h-.9zM139.0 441.6h.9v.9h-.9zM130.1 431.6h.9v.9h-.9zM93.2 453.3h.9v.9h-.9zM97.3 450.7h.9v.9h-.9zM87.3 408.9h.9v.9h-.9zM128.7 423.7h.9v.9h-.9zM85.3 447.9h.9v.9h-.9zM125.1 441.4h.9v.9h-.9zM120.7 442.2h.9v.9h-.9zM129.6 426.4h.9v.9h-.9zM146.0 446.5h.9v.9h-.9zM126.5 445.2h.9v.9h-.9zM84.8 420.9h.9v.9h-.9zM119.2 448.9h.9v.9h-.9zM133.9 436.0h.9v.9h-.9zM99.6 459.4h.9v.9h-.9zM73.2 428.2h.9v.9h-.9zM135.1 436.8h.9v.9h-.9zM108.5 445.0h.9v.9h-.9zM85.1 462.2h.9v.9h-.9zM138.0 454.0h.9v.9h-.9zM138.4 458.1h.9v.9h-.9zM125.6 419.8h.9v.9h-.9zM118.0 420.0h.9v.9h-.9zM137.9 429.7h.9v.9h-.9zM117.6 417.2h.9v.9h-.9zM90.0 437.6h.9v.9h-.9zM136.0 449.8h.9v.9h-.9zM100.8 434.8h.9v.9h-.9zM109.6 437.9h.9v.9h-.9zM80.8 442.4h.9v.9h-.9zM107.6 440.6h.9v.9h-.9zM157.4 428.2h.9v.9h-.9zM90.4 435.7h.9v.9h-.9zM125.6 447.0h.9v.9h-.9zM85.1 439.3h.9v.9h-.9zM117.2 422.2h.9v.9h-.9zM80.7 474.9h.9v.9h-.9zM155.9 478.3h.9v.9h-.9zM109.4 467.1h.9v.9h-.9zM130.3 467.9h.9v.9h-.9zM121.9 474.4h.9v.9h-.9zM110.0 473.0h.9v.9h-.9zM96.7 476.1h.9v.9h-.9zM94.6 486.5h.9v.9h-.9zM142.0 464.1h.9v.9h-.9zM137.1 473.9h.9v.9h-.9zM100.4 464.1h.9v.9h-.9zM107.0 481.4h.9v.9h-.9zM115.7 467.7h.9v.9h-.9zM123.5 470.6h.9v.9h-.9zM134.0 456.3h.9v.9h-.9zM115.3 468.0h.9v.9h-.9zM129.1 480.7h.9v.9h-.9zM109.7 469.8h.9v.9h-.9zM156.5 481.8h.9v.9h-.9zM100.2 483.3h.9v.9h-.9zM116.1 465.3h.9v.9h-.9zM115.9 488.7h.9v.9h-.9zM138.2 454.8h.9v.9h-.9zM136.3 465.9h.9v.9h-.9zM80.1 473.6h.9v.9h-.9zM140.2 488.6h.9v.9h-.9zM101.2 491.8h.9v.9h-.9zM156.9 492.1h.9v.9h-.9zM129.4 495.7h.9v.9h-.9zM130.6 488.2h.9v.9h-.9zM92.8 484.9h.9v.9h-.9zM146.3 483.9h.9v.9h-.9zM126.6 479.9h.9v.9h-.9zM102.7 493.6h.9v.9h-.9zM112.0 486.1h.9v.9h-.9zM106.3 490.8h.9v.9h-.9zM138.0 497.8h.9v.9h-.9zM120.6 479.4h.9v.9h-.9zM126.7 480.1h.9v.9h-.9zM125.8 479.8h.9v.9h-.9zM121.9 485.1h.9v.9h-.9zM129.3 494.9h.9v.9h-.9zM144.3 489.0h.9v.9h-.9zM124.7 489.0h.9v.9h-.9zM117.6 491.6h.9v.9h-.9zM130.0 487.9h.9v.9h-.9zM104.9 492.2h.9v.9h-.9zM110.8 484.9h.9v.9h-.9zM146.9 494.8h.9v.9h-.9zM88.9 478.0h.9v.9h-.9zM78.5 484.0h.9v.9h-.9zM114.3 494.3h.9v.9h-.9zM138.3 486.1h.9v.9h-.9zM62.8 489.4h.9v.9h-.9zM119.6 497.6h.9v.9h-.9zM135.1 493.2h.9v.9h-.9zM138.5 493.5h.9v.9h-.9zM120.2 475.1h.9v.9h-.9zM98.7 486.2h.9v.9h-.9zM117.7 488.9h.9v.9h-.9zM132.4 485.6h.9v.9h-.9zM123.6 491.4h.9v.9h-.9zM135.8 486.7h.9v.9h-.9zM104.0 501.4h.9v.9h-.9zM124.8 491.1h.9v.9h-.9zM165.6 440.0h.9v.9h-.9zM144.9 456.5h.9v.9h-.9zM113.2 411.8h.9v.9h-.9zM156.1 427.0h.9v.9h-.9zM180.1 469.6h.9v.9h-.9zM108.8 410.3h.9v.9h-.9zM85.7 442.1h.9v.9h-.9zM92.8 448.3h.9v.9h-.9zM155.3 427.2h.9v.9h-.9zM164.3 448.1h.9v.9h-.9zM144.0 412.5h.9v.9h-.9zM144.2 416.8h.9v.9h-.9zM86.0 415.3h.9v.9h-.9zM137.8 410.6h.9v.9h-.9zM79.8 437.7h.9v.9h-.9zM150.9 457.6h.9v.9h-.9zM136.1 459.6h.9v.9h-.9zM176.8 437.0h.9v.9h-.9zM150.8 423.8h.9v.9h-.9zM139.5 458.5h.9v.9h-.9zM122.1 410.5h.9v.9h-.9zM138.7 416.5h.9v.9h-.9zM87.7 418.5h.9v.9h-.9zM92.1 409.7h.9v.9h-.9zM101.1 448.1h.9v.9h-.9zM89.7 419.9h.9v.9h-.9zM138.4 457.9h.9v.9h-.9zM131.6 460.3h.9v.9h-.9zM152.7 421.8h.9v.9h-.9zM159.9 465.7h.9v.9h-.9zM135.4 458.7h.9v.9h-.9zM97.3 414.0h.9v.9h-.9zM142.6 461.5h.9v.9h-.9zM125.1 410.5h.9v.9h-.9zM112.8 415.2h.9v.9h-.9zM159.2 451.7h.9v.9h-.9zM136.3 416.8h.9v.9h-.9zM125.1 417.1h.9v.9h-.9zM94.2 442.2h.9v.9h-.9zM161.3 423.7h.9v.9h-.9zM154.9 425.6h.9v.9h-.9zM124.3 454.6h.9v.9h-.9zM103.2 415.6h.9v.9h-.9zM101.4 414.7h.9v.9h-.9zM116.1 417.2h.9v.9h-.9zM119.2 449.2h.9v.9h-.9zM156.7 451.3h.9v.9h-.9zM149.7 457.4h.9v.9h-.9zM151.4 418.4h.9v.9h-.9zM151.2 457.5h.9v.9h-.9zM137.4 458.6h.9v.9h-.9zM131.7 416.5h.9v.9h-.9zM114.9 448.2h.9v.9h-.9zM169.1 449.5h.9v.9h-.9zM160.4 452.1h.9v.9h-.9zM163.6 441.7h.9v.9h-.9zM131.1 458.9h.9v.9h-.9zM126.5 469.3h.9v.9h-.9zM118.9 451.7h.9v.9h-.9zM80.1 439.6h.9v.9h-.9zM93.9 442.2h.9v.9h-.9zM95.5 446.9h.9v.9h-.9zM150.4 420.9h.9v.9h-.9zM173.0 428.4h.9v.9h-.9zM139.7 458.8h.9v.9h-.9zM159.7 432.1h.9v.9h-.9zM99.2 450.0h.9v.9h-.9zM89.6 415.9h.9v.9h-.9zM135.7 457.5h.9v.9h-.9zM144.8 457.2h.9v.9h-.9zM157.3 421.0h.9v.9h-.9zM108.0 447.4h.9v.9h-.9zM123.1 453.0h.9v.9h-.9zM86.5 413.1h.9v.9h-.9zM172.0 446.1h.9v.9h-.9zM139.0 456.2h.9v.9h-.9zM155.3 426.6h.9v.9h-.9zM134.2 417.6h.9v.9h-.9zM145.4 456.6h.9v.9h-.9zM141.3 416.2h.9v.9h-.9zM92.2 441.9h.9v.9h-.9zM97.2 449.6h.9v.9h-.9zM143.9 420.2h.9v.9h-.9zM127.6 462.5h.9v.9h-.9zM115.4 449.6h.9v.9h-.9zM141.5 457.1h.9v.9h-.9zM167.0 433.1h.9v.9h-.9zM82.0 447.4h.9v.9h-.9zM123.7 455.4h.9v.9h-.9zM115.2 446.1h.9v.9h-.9zM93.2 450.7h.9v.9h-.9zM145.1 459.2h.9v.9h-.9zM96.4 442.3h.9v.9h-.9zM145.7 464.2h.9v.9h-.9zM80.4 443.8h.9v.9h-.9zM115.6 448.8h.9v.9h-.9zM158.6 424.2h.9v.9h-.9zM122.7 451.6h.9v.9h-.9zM108.2 448.9h.9v.9h-.9zM117.7 409.3h.9v.9h-.9zM157.9 449.4h.9v.9h-.9zM136.5 419.4h.9v.9h-.9zM66.3 439.0h.9v.9h-.9zM116.3 413.2h.9v.9h-.9zM130.7 455.3h.9v.9h-.9zM146.1 420.2h.9v.9h-.9zM87.6 443.6h.9v.9h-.9zM98.2 412.6h.9v.9h-.9zM162.3 447.7h.9v.9h-.9zM103.6 446.8h.9v.9h-.9zM79.9 438.8h.9v.9h-.9zM144.6 415.0h.9v.9h-.9zM101.5 445.9h.9v.9h-.9zM82.0 423.6h.9v.9h-.9zM143.3 456.5h.9v.9h-.9zM147.6 459.1h.9v.9h-.9zM82.2 426.7h.9v.9h-.9zM114.7 448.5h.9v.9h-.9zM127.7 461.9h.9v.9h-.9zM164.0 441.8h.9v.9h-.9zM81.7 434.5h.9v.9h-.9zM85.7 448.3h.9v.9h-.9zM89.6 407.3h.9v.9h-.9zM79.4 441.2h.9v.9h-.9zM82.6 436.7h.9v.9h-.9zM103.1 449.3h.9v.9h-.9zM114.8 411.5h.9v.9h-.9zM117.9 450.2h.9v.9h-.9zM76.6 426.7h.9v.9h-.9zM74.7 427.0h.9v.9h-.9zM122.2 450.7h.9v.9h-.9zM82.3 426.9h.9v.9h-.9zM155.8 453.2h.9v.9h-.9zM105.6 413.4h.9v.9h-.9zM101.9 416.5h.9v.9h-.9zM124.0 410.7h.9v.9h-.9zM169.8 460.4h.9v.9h-.9zM105.1 446.1h.9v.9h-.9zM111.2 446.3h.9v.9h-.9zM166.0 448.5h.9v.9h-.9zM166.8 428.5h.9v.9h-.9zM107.8 408.6h.9v.9h-.9zM165.2 441.0h.9v.9h-.9zM137.9 413.1h.9v.9h-.9zM146.8 456.2h.9v.9h-.9zM135.7 416.8h.9v.9h-.9zM139.2 456.7h.9v.9h-.9zM135.7 418.4h.9v.9h-.9zM83.4 434.3h.9v.9h-.9zM115.7 410.3h.9v.9h-.9zM123.0 416.3h.9v.9h-.9zM126.0 415.0h.9v.9h-.9zM132.9 457.9h.9v.9h-.9zM165.4 460.9h.9v.9h-.9zM75.1 442.2h.9v.9h-.9zM81.6 435.7h.9v.9h-.9zM124.7 459.6h.9v.9h-.9zM103.9 445.2h.9v.9h-.9zM99.1 449.7h.9v.9h-.9zM75.9 414.3h.9v.9h-.9zM146.2 419.4h.9v.9h-.9zM98.7 408.2h.9v.9h-.9zM78.3 420.9h.9v.9h-.9zM124.5 453.8h.9v.9h-.9zM158.6 428.7h.9v.9h-.9zM142.6 455.5h.9v.9h-.9zM91.6 443.6h.9v.9h-.9zM158.3 423.7h.9v.9h-.9zM152.4 419.6h.9v.9h-.9zM95.9 443.6h.9v.9h-.9zM68.5 423.6h.9v.9h-.9zM126.1 418.6h.9v.9h-.9zM107.0 460.0h.9v.9h-.9zM112.3 414.7h.9v.9h-.9zM114.0 447.5h.9v.9h-.9zM158.8 419.8h.9v.9h-.9zM163.3 431.9h.9v.9h-.9zM83.2 439.9h.9v.9h-.9zM164.1 438.3h.9v.9h-.9zM147.5 421.3h.9v.9h-.9zM81.7 435.4h.9v.9h-.9zM81.3 420.1h.9v.9h-.9zM163.8 422.5h.9v.9h-.9zM78.4 434.4h.9v.9h-.9zM108.7 447.1h.9v.9h-.9zM92.1 417.9h.9v.9h-.9zM148.5 460.9h.9v.9h-.9zM113.6 413.4h.9v.9h-.9zM142.4 418.6h.9v.9h-.9zM78.3 423.7h.9v.9h-.9zM160.0 429.8h.9v.9h-.9zM94.8 416.8h.9v.9h-.9zM125.6 453.9h.9v.9h-.9zM114.0 403.5h.9v.9h-.9zM94.7 409.0h.9v.9h-.9zM89.6 418.4h.9v.9h-.9zM140.4 418.6h.9v.9h-.9zM145.3 457.3h.9v.9h-.9zM115.3 407.9h.9v.9h-.9zM129.6 461.9h.9v.9h-.9zM136.6 415.5h.9v.9h-.9zM157.9 448.0h.9v.9h-.9zM154.0 457.1h.9v.9h-.9zM161.4 435.0h.9v.9h-.9zM151.6 459.0h.9v.9h-.9zM80.5 423.1h.9v.9h-.9zM159.0 437.1h.9v.9h-.9zM75.6 422.5h.9v.9h-.9zM106.4 448.6h.9v.9h-.9zM122.7 417.0h.9v.9h-.9zM82.2 429.7h.9v.9h-.9zM142.6 458.8h.9v.9h-.9zM108.0 444.8h.9v.9h-.9zM163.6 448.8h.9v.9h-.9zM157.5 454.6h.9v.9h-.9zM109.0 446.1h.9v.9h-.9zM160.8 453.5h.9v.9h-.9zM92.8 418.4h.9v.9h-.9zM147.7 459.7h.9v.9h-.9zM72.4 419.0h.9v.9h-.9zM174.2 431.6h.9v.9h-.9zM150.2 457.1h.9v.9h-.9zM156.9 429.1h.9v.9h-.9zM152.2 461.5h.9v.9h-.9zM154.5 421.8h.9v.9h-.9zM134.8 455.3h.9v.9h-.9zM130.6 456.2h.9v.9h-.9zM132.0 458.8h.9v.9h-.9zM144.3 412.8h.9v.9h-.9zM141.3 457.0h.9v.9h-.9zM136.3 411.0h.9v.9h-.9zM142.4 483.8h.9v.9h-.9zM144.2 484.8h.9v.9h-.9zM160.7 484.6h.9v.9h-.9zM138.4 484.2h.9v.9h-.9zM105.2 487.0h.9v.9h-.9zM153.8 490.2h.9v.9h-.9zM100.1 486.2h.9v.9h-.9zM92.0 485.6h.9v.9h-.9zM157.7 483.3h.9v.9h-.9zM141.1 491.5h.9v.9h-.9zM90.1 491.6h.9v.9h-.9zM86.1 490.9h.9v.9h-.9zM162.6 483.8h.9v.9h-.9zM132.2 482.0h.9v.9h-.9zM87.4 490.3h.9v.9h-.9zM95.4 487.9h.9v.9h-.9zM148.4 488.8h.9v.9h-.9zM114.4 489.5h.9v.9h-.9zM117.9 482.9h.9v.9h-.9zM100.7 489.7h.9v.9h-.9zM142.1 481.2h.9v.9h-.9zM101.8 488.9h.9v.9h-.9zM93.4 490.2h.9v.9h-.9zM86.8 488.3h.9v.9h-.9zM134.2 483.6h.9v.9h-.9zM98.3 488.8h.9v.9h-.9zM158.1 489.6h.9v.9h-.9zM106.5 484.2h.9v.9h-.9zM145.3 484.0h.9v.9h-.9zM154.2 488.8h.9v.9h-.9zM102.8 489.1h.9v.9h-.9z" fill="#ccbcc8"/><path d="M115.3 434.5h.9v.9h-.9zM84.2 431.6h.9v.9h-.9zM126.2 444.8h.9v.9h-.9zM136.3 438.7h.9v.9h-.9zM140.9 449.4h.9v.9h-.9zM130.7 428.9h.9v.9h-.9zM134.4 439.0h.9v.9h-.9zM116.0 471.3h.9v.9h-.9zM162.8 442.5h.9v.9h-.9zM77.6 441.5h.9v.9h-.9zM126.1 442.5h.9v.9h-.9zM126.3 414.3h.9v.9h-.9zM98.6 453.8h.9v.9h-.9zM119.1 427.3h.9v.9h-.9zM146.5 419.5h.9v.9h-.9zM127.3 457.9h.9v.9h-.9zM90.3 438.3h.9v.9h-.9zM115.5 438.2h.9v.9h-.9zM126.5 425.1h.9v.9h-.9zM70.9 457.9h.9v.9h-.9zM152.2 442.7h.9v.9h-.9zM122.9 445.2h.9v.9h-.9zM110.1 422.1h.9v.9h-.9zM120.6 432.6h.9v.9h-.9zM127.3 430.8h.9v.9h-.9zM123.9 429.0h.9v.9h-.9zM133.3 449.1h.9v.9h-.9zM141.2 441.9h.9v.9h-.9zM135.1 453.2h.9v.9h-.9zM137.6 446.1h.9v.9h-.9zM110.4 429.4h.9v.9h-.9zM89.7 431.0h.9v.9h-.9zM86.1 438.8h.9v.9h-.9zM142.0 423.0h.9v.9h-.9zM126.0 455.6h.9v.9h-.9zM139.8 442.2h.9v.9h-.9zM77.9 433.8h.9v.9h-.9zM110.9 453.5h.9v.9h-.9zM151.0 436.1h.9v.9h-.9zM131.3 427.5h.9v.9h-.9zM160.6 467.2h.9v.9h-.9zM128.7 439.6h.9v.9h-.9zM123.9 456.9h.9v.9h-.9zM115.3 447.8h.9v.9h-.9zM167.0 440.4h.9v.9h-.9zM103.8 439.5h.9v.9h-.9zM165.3 423.5h.9v.9h-.9zM149.1 446.8h.9v.9h-.9zM130.3 425.6h.9v.9h-.9zM123.6 413.7h.9v.9h-.9zM114.2 459.2h.9v.9h-.9zM179.7 431.4h.9v.9h-.9zM83.7 464.5h.9v.9h-.9zM129.9 428.1h.9v.9h-.9zM109.5 434.8h.9v.9h-.9zM69.0 421.5h.9v.9h-.9zM154.6 456.5h.9v.9h-.9zM76.7 424.5h.9v.9h-.9zM117.7 448.5h.9v.9h-.9zM156.8 434.8h.9v.9h-.9zM117.9 447.1h.9v.9h-.9zM113.9 432.2h.9v.9h-.9zM95.4 455.9h.9v.9h-.9zM141.4 448.8h.9v.9h-.9zM126.6 429.7h.9v.9h-.9zM139.6 429.2h.9v.9h-.9zM64.0 428.5h.9v.9h-.9zM86.3 406.9h.9v.9h-.9zM100.5 425.5h.9v.9h-.9zM115.1 421.8h.9v.9h-.9zM116.4 415.8h.9v.9h-.9zM117.2 434.2h.9v.9h-.9zM115.6 470.8h.9v.9h-.9zM111.0 463.8h.9v.9h-.9zM126.4 471.7h.9v.9h-.9zM146.3 466.8h.9v.9h-.9zM98.7 463.6h.9v.9h-.9zM145.2 476.8h.9v.9h-.9zM96.5 482.0h.9v.9h-.9zM119.2 470.2h.9v.9h-.9zM136.8 470.5h.9v.9h-.9zM149.3 478.3h.9v.9h-.9zM137.1 463.0h.9v.9h-.9zM154.9 469.1h.9v.9h-.9zM128.9 469.1h.9v.9h-.9zM149.8 470.0h.9v.9h-.9zM128.1 472.9h.9v.9h-.9zM100.0 462.6h.9v.9h-.9zM98.1 479.4h.9v.9h-.9zM151.8 476.3h.9v.9h-.9zM104.7 483.4h.9v.9h-.9zM110.1 472.8h.9v.9h-.9zM132.3 470.9h.9v.9h-.9zM100.1 469.7h.9v.9h-.9zM144.4 481.4h.9v.9h-.9zM142.3 481.9h.9v.9h-.9zM152.8 477.9h.9v.9h-.9zM122.4 470.1h.9v.9h-.9zM158.4 468.8h.9v.9h-.9zM93.5 463.4h.9v.9h-.9zM108.0 466.4h.9v.9h-.9zM150.8 463.2h.9v.9h-.9zM101.3 475.7h.9v.9h-.9zM77.1 467.2h.9v.9h-.9zM100.8 471.7h.9v.9h-.9zM128.0 491.7h.9v.9h-.9zM115.8 480.0h.9v.9h-.9zM123.5 489.5h.9v.9h-.9zM109.4 485.8h.9v.9h-.9zM107.7 491.4h.9v.9h-.9zM143.0 493.2h.9v.9h-.9zM139.4 479.7h.9v.9h-.9zM145.3 484.6h.9v.9h-.9zM126.3 491.6h.9v.9h-.9zM96.2 492.4h.9v.9h-.9zM133.3 484.3h.9v.9h-.9zM130.3 494.0h.9v.9h-.9zM114.0 498.6h.9v.9h-.9zM119.0 491.7h.9v.9h-.9zM145.7 480.4h.9v.9h-.9zM92.0 490.1h.9v.9h-.9zM143.0 498.0h.9v.9h-.9zM158.7 477.4h.9v.9h-.9zM149.5 485.9h.9v.9h-.9zM139.9 494.9h.9v.9h-.9zM179.7 488.7h.9v.9h-.9zM116.1 490.0h.9v.9h-.9zM120.4 491.1h.9v.9h-.9zM165.6 489.1h.9v.9h-.9zM110.0 499.2h.9v.9h-.9zM102.1 502.4h.9v.9h-.9zM100.3 490.6h.9v.9h-.9zM82.8 485.9h.9v.9h-.9zM95.8 493.2h.9v.9h-.9zM80.0 422.5h.9v.9h-.9zM157.3 419.5h.9v.9h-.9zM95.0 446.4h.9v.9h-.9zM160.3 443.6h.9v.9h-.9zM126.4 455.0h.9v.9h-.9zM147.1 417.5h.9v.9h-.9zM70.4 428.6h.9v.9h-.9zM109.3 449.1h.9v.9h-.9zM144.7 471.8h.9v.9h-.9zM154.9 452.1h.9v.9h-.9zM124.2 455.1h.9v.9h-.9zM92.7 442.1h.9v.9h-.9zM165.8 437.0h.9v.9h-.9zM135.1 457.5h.9v.9h-.9zM83.8 428.1h.9v.9h-.9zM80.6 437.4h.9v.9h-.9zM146.4 459.5h.9v.9h-.9zM157.2 458.9h.9v.9h-.9zM92.2 412.6h.9v.9h-.9zM158.7 441.8h.9v.9h-.9zM75.4 444.7h.9v.9h-.9zM153.6 422.9h.9v.9h-.9zM155.5 458.2h.9v.9h-.9zM108.4 409.9h.9v.9h-.9zM161.3 443.8h.9v.9h-.9zM83.5 443.2h.9v.9h-.9zM137.2 416.5h.9v.9h-.9zM153.4 453.9h.9v.9h-.9zM99.2 410.7h.9v.9h-.9zM126.5 455.2h.9v.9h-.9zM153.9 419.8h.9v.9h-.9zM85.4 420.4h.9v.9h-.9zM159.6 436.2h.9v.9h-.9zM155.8 424.5h.9v.9h-.9zM135.8 457.2h.9v.9h-.9zM138.3 455.8h.9v.9h-.9zM82.0 429.0h.9v.9h-.9zM137.9 417.7h.9v.9h-.9zM149.3 423.4h.9v.9h-.9zM156.6 424.7h.9v.9h-.9zM154.5 420.8h.9v.9h-.9zM110.4 416.0h.9v.9h-.9zM125.5 415.9h.9v.9h-.9zM153.9 453.4h.9v.9h-.9zM82.0 424.2h.9v.9h-.9zM89.6 442.3h.9v.9h-.9zM127.2 461.6h.9v.9h-.9zM97.8 408.6h.9v.9h-.9zM78.8 424.9h.9v.9h-.9zM149.9 460.2h.9v.9h-.9zM149.3 458.7h.9v.9h-.9zM93.1 444.4h.9v.9h-.9zM164.5 442.1h.9v.9h-.9zM159.5 447.0h.9v.9h-.9zM160.5 456.7h.9v.9h-.9zM88.8 442.7h.9v.9h-.9zM89.6 417.0h.9v.9h-.9zM81.6 436.8h.9v.9h-.9zM145.0 466.6h.9v.9h-.9zM134.7 457.0h.9v.9h-.9zM112.1 449.2h.9v.9h-.9zM115.0 450.2h.9v.9h-.9zM131.8 409.8h.9v.9h-.9zM151.3 420.4h.9v.9h-.9zM111.7 415.6h.9v.9h-.9zM89.8 420.6h.9v.9h-.9zM81.7 429.9h.9v.9h-.9zM73.4 439.4h.9v.9h-.9zM160.4 449.3h.9v.9h-.9zM164.7 453.0h.9v.9h-.9zM129.2 459.2h.9v.9h-.9zM120.0 413.6h.9v.9h-.9zM112.7 415.5h.9v.9h-.9zM139.3 458.5h.9v.9h-.9zM165.9 446.3h.9v.9h-.9zM161.1 444.3h.9v.9h-.9zM166.2 450.3h.9v.9h-.9zM165.0 450.5h.9v.9h-.9zM115.2 451.8h.9v.9h-.9zM166.3 437.6h.9v.9h-.9zM162.0 460.6h.9v.9h-.9zM152.9 455.6h.9v.9h-.9zM139.7 461.4h.9v.9h-.9zM78.7 442.5h.9v.9h-.9zM85.4 439.7h.9v.9h-.9zM134.5 418.1h.9v.9h-.9zM127.1 455.3h.9v.9h-.9zM141.8 458.2h.9v.9h-.9zM162.2 443.0h.9v.9h-.9zM80.5 437.3h.9v.9h-.9zM101.1 415.8h.9v.9h-.9zM81.9 440.5h.9v.9h-.9zM81.4 419.9h.9v.9h-.9zM158.6 453.9h.9v.9h-.9zM158.5 434.2h.9v.9h-.9zM149.9 456.3h.9v.9h-.9zM88.8 417.6h.9v.9h-.9zM130.9 417.1h.9v.9h-.9zM92.0 416.8h.9v.9h-.9zM105.8 415.1h.9v.9h-.9zM97.0 416.1h.9v.9h-.9zM135.2 469.3h.9v.9h-.9zM78.3 434.6h.9v.9h-.9zM169.9 440.4h.9v.9h-.9zM121.8 466.1h.9v.9h-.9zM114.7 447.3h.9v.9h-.9zM139.8 456.7h.9v.9h-.9zM105.9 449.2h.9v.9h-.9zM166.9 439.3h.9v.9h-.9zM79.1 432.0h.9v.9h-.9zM142.1 458.8h.9v.9h-.9zM90.2 417.6h.9v.9h-.9zM82.7 431.6h.9v.9h-.9zM125.1 415.2h.9v.9h-.9zM140.2 417.2h.9v.9h-.9zM155.3 423.1h.9v.9h-.9zM165.8 451.9h.9v.9h-.9zM130.2 408.6h.9v.9h-.9zM127.3 414.9h.9v.9h-.9zM61.0 417.3h.9v.9h-.9zM94.7 416.3h.9v.9h-.9zM157.2 428.9h.9v.9h-.9zM146.1 461.8h.9v.9h-.9zM107.1 411.3h.9v.9h-.9zM75.7 428.1h.9v.9h-.9zM128.6 412.5h.9v.9h-.9zM91.8 446.7h.9v.9h-.9zM74.2 426.1h.9v.9h-.9zM130.4 415.0h.9v.9h-.9zM143.2 420.3h.9v.9h-.9zM133.0 462.4h.9v.9h-.9zM68.3 428.9h.9v.9h-.9zM108.7 414.4h.9v.9h-.9zM109.0 447.4h.9v.9h-.9zM167.3 454.7h.9v.9h-.9zM95.0 445.8h.9v.9h-.9zM152.0 422.5h.9v.9h-.9zM148.0 421.0h.9v.9h-.9zM75.3 431.7h.9v.9h-.9zM107.3 415.6h.9v.9h-.9zM82.7 423.0h.9v.9h-.9zM97.0 409.4h.9v.9h-.9zM96.6 416.0h.9v.9h-.9zM76.9 435.5h.9v.9h-.9zM162.2 449.7h.9v.9h-.9zM81.6 444.7h.9v.9h-.9zM134.0 414.9h.9v.9h-.9zM156.7 422.8h.9v.9h-.9zM154.1 463.8h.9v.9h-.9zM94.6 450.8h.9v.9h-.9zM116.2 416.6h.9v.9h-.9zM83.6 434.9h.9v.9h-.9zM95.0 445.0h.9v.9h-.9zM159.1 446.4h.9v.9h-.9zM107.7 445.2h.9v.9h-.9zM107.7 416.5h.9v.9h-.9zM160.7 442.5h.9v.9h-.9zM75.5 450.1h.9v.9h-.9zM98.7 414.9h.9v.9h-.9zM145.9 459.6h.9v.9h-.9zM111.5 450.1h.9v.9h-.9zM101.3 443.4h.9v.9h-.9zM141.4 418.8h.9v.9h-.9zM100.9 446.0h.9v.9h-.9zM145.0 462.1h.9v.9h-.9zM78.0 447.6h.9v.9h-.9zM134.8 413.4h.9v.9h-.9zM84.9 413.8h.9v.9h-.9zM72.2 425.0h.9v.9h-.9zM115.6 411.9h.9v.9h-.9zM80.2 426.1h.9v.9h-.9zM82.6 416.5h.9v.9h-.9zM144.9 417.5h.9v.9h-.9zM156.0 426.3h.9v.9h-.9zM86.1 443.8h.9v.9h-.9zM76.2 426.0h.9v.9h-.9zM119.7 415.0h.9v.9h-.9zM160.2 456.9h.9v.9h-.9zM108.6 414.4h.9v.9h-.9zM94.6 416.8h.9v.9h-.9zM121.0 411.8h.9v.9h-.9zM165.8 437.7h.9v.9h-.9zM148.2 422.4h.9v.9h-.9zM165.3 442.8h.9v.9h-.9zM98.3 415.9h.9v.9h-.9zM101.5 446.5h.9v.9h-.9zM161.6 427.7h.9v.9h-.9zM140.0 459.5h.9v.9h-.9zM103.8 407.4h.9v.9h-.9zM171.1 449.1h.9v.9h-.9zM132.0 407.4h.9v.9h-.9zM98.3 444.1h.9v.9h-.9zM130.3 458.1h.9v.9h-.9zM167.5 434.2h.9v.9h-.9zM87.4 415.4h.9v.9h-.9zM99.1 447.1h.9v.9h-.9zM82.6 436.0h.9v.9h-.9zM158.7 423.4h.9v.9h-.9zM83.2 421.2h.9v.9h-.9zM93.0 409.4h.9v.9h-.9zM166.8 436.3h.9v.9h-.9zM78.8 433.6h.9v.9h-.9zM90.0 445.4h.9v.9h-.9zM128.2 459.7h.9v.9h-.9zM137.6 454.8h.9v.9h-.9zM162.1 432.4h.9v.9h-.9zM81.5 416.3h.9v.9h-.9zM160.8 436.6h.9v.9h-.9zM96.7 444.1h.9v.9h-.9zM121.1 416.4h.9v.9h-.9zM118.5 455.0h.9v.9h-.9zM86.3 439.7h.9v.9h-.9zM149.6 455.5h.9v.9h-.9zM161.8 439.9h.9v.9h-.9zM91.3 446.1h.9v.9h-.9zM149.3 418.6h.9v.9h-.9zM163.8 409.0h.9v.9h-.9zM83.0 430.0h.9v.9h-.9zM131.5 416.9h.9v.9h-.9zM137.4 455.3h.9v.9h-.9zM102.3 416.1h.9v.9h-.9zM161.8 447.1h.9v.9h-.9zM162.0 428.3h.9v.9h-.9zM161.4 446.4h.9v.9h-.9zM91.9 415.8h.9v.9h-.9zM76.8 420.2h.9v.9h-.9zM109.6 448.2h.9v.9h-.9zM95.3 417.0h.9v.9h-.9zM164.7 442.1h.9v.9h-.9zM76.4 435.7h.9v.9h-.9zM136.0 454.8h.9v.9h-.9zM107.6 413.8h.9v.9h-.9zM131.7 458.2h.9v.9h-.9zM153.4 456.6h.9v.9h-.9zM165.1 436.7h.9v.9h-.9zM120.2 453.8h.9v.9h-.9zM82.7 426.4h.9v.9h-.9zM94.8 443.2h.9v.9h-.9zM78.9 416.9h.9v.9h-.9zM133.7 458.8h.9v.9h-.9zM95.5 413.3h.9v.9h-.9zM73.7 448.4h.9v.9h-.9zM130.4 455.4h.9v.9h-.9zM158.4 483.3h.9v.9h-.9zM162.5 485.8h.9v.9h-.9zM93.1 489.7h.9v.9h-.9zM136.2 484.4h.9v.9h-.9zM101.8 482.4h.9v.9h-.9zM95.8 489.7h.9v.9h-.9zM102.5 483.5h.9v.9h-.9zM103.1 484.4h.9v.9h-.9zM145.0 482.7h.9v.9h-.9zM158.9 482.7h.9v.9h-.9zM154.6 484.8h.9v.9h-.9zM130.6 489.4h.9v.9h-.9zM130.3 483.0h.9v.9h-.9zM92.1 488.8h.9v.9h-.9zM137.2 489.9h.9v.9h-.9zM158.9 484.7h.9v.9h-.9zM101.5 485.5h.9v.9h-.9zM154.9 483.7h.9v.9h-.9zM99.9 484.3h.9v.9h-.9zM160.6 490.3h.9v.9h-.9zM142.9 484.7h.9v.9h-.9zM160.3 485.8h.9v.9h-.9zM127.7 481.9h.9v.9h-.9zM106.7 482.1h.9v.9h-.9zM140.1 484.3h.9v.9h-.9zM90.6 486.3h.9v.9h-.9zM99.5 490.7h.9v.9h-.9zM136.3 485.3h.9v.9h-.9zM141.9 482.1h.9v.9h-.9zM149.8 488.1h.9v.9h-.9zM119.1 483.2h.9v.9h-.9zM143.5 481.5h.9v.9h-.9zM102.7 487.3h.9v.9h-.9zM135.5 489.4h.9v.9h-.9zM117.8 489.0h.9v.9h-.9zM94.9 490.2h.9v.9h-.9zM104.2 488.0h.9v.9h-.9zM140.9 490.8h.9v.9h-.9z" fill="#c4c6d4"/><path d="M159.0 440.3h.9v.9h-.9zM76.3 441.9h.9v.9h-.9zM123.1 427.6h.9v.9h-.9zM101.1 431.7h.9v.9h-.9zM127.2 441.6h.9v.9h-.9zM127.4 440.5h.9v.9h-.9zM78.3 410.5h.9v.9h-.9zM118.7 421.4h.9v.9h-.9zM123.4 435.2h.9v.9h-.9zM110.0 455.8h.9v.9h-.9zM112.4 429.2h.9v.9h-.9zM115.9 420.1h.9v.9h-.9zM105.4 418.6h.9v.9h-.9zM142.8 426.7h.9v.9h-.9zM95.8 431.2h.9v.9h-.9zM102.2 429.9h.9v.9h-.9zM143.0 416.9h.9v.9h-.9zM129.7 428.9h.9v.9h-.9zM142.7 466.1h.9v.9h-.9zM138.6 440.8h.9v.9h-.9zM110.6 459.7h.9v.9h-.9zM120.4 428.6h.9v.9h-.9zM99.5 444.2h.9v.9h-.9zM158.6 415.9h.9v.9h-.9zM120.2 447.8h.9v.9h-.9zM137.8 422.3h.9v.9h-.9zM88.3 424.4h.9v.9h-.9zM127.6 424.0h.9v.9h-.9zM137.4 450.5h.9v.9h-.9zM145.2 431.7h.9v.9h-.9zM138.4 435.5h.9v.9h-.9zM67.9 441.8h.9v.9h-.9zM101.6 438.4h.9v.9h-.9zM109.4 450.4h.9v.9h-.9zM115.1 421.0h.9v.9h-.9zM53.5 443.6h.9v.9h-.9zM131.0 443.7h.9v.9h-.9zM94.7 450.2h.9v.9h-.9zM79.7 439.9h.9v.9h-.9zM88.6 413.4h.9v.9h-.9zM102.5 417.8h.9v.9h-.9zM169.4 426.3h.9v.9h-.9zM99.6 433.0h.9v.9h-.9zM132.3 438.3h.9v.9h-.9zM88.6 433.1h.9v.9h-.9zM121.8 442.8h.9v.9h-.9zM145.6 433.8h.9v.9h-.9zM160.1 437.2h.9v.9h-.9zM126.1 460.0h.9v.9h-.9zM126.3 449.1h.9v.9h-.9zM106.9 460.7h.9v.9h-.9zM123.7 441.3h.9v.9h-.9zM104.9 410.7h.9v.9h-.9zM131.3 433.3h.9v.9h-.9zM93.2 436.6h.9v.9h-.9zM102.7 426.6h.9v.9h-.9zM123.0 423.4h.9v.9h-.9zM127.6 430.3h.9v.9h-.9zM96.9 450.5h.9v.9h-.9zM117.3 413.5h.9v.9h-.9zM124.7 459.9h.9v.9h-.9zM91.8 426.2h.9v.9h-.9zM110.3 433.2h.9v.9h-.9zM138.6 431.7h.9v.9h-.9zM132.5 429.4h.9v.9h-.9zM130.0 436.5h.9v.9h-.9zM114.9 455.4h.9v.9h-.9zM135.2 443.8h.9v.9h-.9zM107.5 424.0h.9v.9h-.9zM125.9 410.6h.9v.9h-.9zM87.3 427.9h.9v.9h-.9zM145.8 434.3h.9v.9h-.9zM112.0 427.2h.9v.9h-.9zM119.9 451.3h.9v.9h-.9zM123.9 431.9h.9v.9h-.9zM152.3 457.1h.9v.9h-.9zM146.3 454.8h.9v.9h-.9zM122.1 423.7h.9v.9h-.9zM109.4 444.7h.9v.9h-.9zM67.8 424.2h.9v.9h-.9zM122.6 415.8h.9v.9h-.9zM112.2 436.8h.9v.9h-.9zM112.9 424.2h.9v.9h-.9zM135.7 475.2h.9v.9h-.9zM116.1 458.3h.9v.9h-.9zM91.9 483.2h.9v.9h-.9zM128.4 467.7h.9v.9h-.9zM100.7 472.3h.9v.9h-.9zM137.7 487.0h.9v.9h-.9zM121.3 477.7h.9v.9h-.9zM156.2 467.2h.9v.9h-.9zM157.8 458.9h.9v.9h-.9zM133.6 482.2h.9v.9h-.9zM105.2 457.6h.9v.9h-.9zM143.5 464.3h.9v.9h-.9zM120.6 466.9h.9v.9h-.9zM108.0 483.1h.9v.9h-.9zM91.5 463.3h.9v.9h-.9zM161.3 465.4h.9v.9h-.9zM89.3 474.8h.9v.9h-.9zM133.9 469.8h.9v.9h-.9zM163.1 463.4h.9v.9h-.9zM128.3 463.1h.9v.9h-.9zM94.6 468.8h.9v.9h-.9zM128.8 487.6h.9v.9h-.9zM139.6 463.6h.9v.9h-.9zM139.5 477.3h.9v.9h-.9zM147.0 474.4h.9v.9h-.9zM96.0 484.4h.9v.9h-.9zM109.7 470.3h.9v.9h-.9zM109.8 464.7h.9v.9h-.9zM137.0 474.9h.9v.9h-.9zM145.9 480.5h.9v.9h-.9zM94.9 469.6h.9v.9h-.9zM145.4 492.6h.9v.9h-.9zM129.7 489.6h.9v.9h-.9zM128.0 484.0h.9v.9h-.9zM120.3 494.6h.9v.9h-.9zM168.3 496.2h.9v.9h-.9zM157.4 490.9h.9v.9h-.9zM143.2 489.5h.9v.9h-.9zM133.7 496.8h.9v.9h-.9zM127.9 499.9h.9v.9h-.9zM134.9 492.5h.9v.9h-.9zM118.8 493.4h.9v.9h-.9zM161.5 487.6h.9v.9h-.9zM111.8 486.8h.9v.9h-.9zM123.7 495.5h.9v.9h-.9zM111.7 496.3h.9v.9h-.9zM145.7 485.2h.9v.9h-.9zM100.6 487.3h.9v.9h-.9zM115.0 488.6h.9v.9h-.9zM87.9 487.6h.9v.9h-.9zM121.9 498.5h.9v.9h-.9zM116.0 484.8h.9v.9h-.9zM111.5 493.2h.9v.9h-.9zM140.5 490.8h.9v.9h-.9zM124.9 489.6h.9v.9h-.9zM122.5 488.0h.9v.9h-.9zM79.6 486.0h.9v.9h-.9zM133.1 481.7h.9v.9h-.9zM151.3 485.1h.9v.9h-.9zM158.6 494.3h.9v.9h-.9zM111.5 484.0h.9v.9h-.9zM125.0 500.7h.9v.9h-.9zM82.0 418.9h.9v.9h-.9zM83.1 433.2h.9v.9h-.9zM158.9 453.3h.9v.9h-.9zM109.8 457.2h.9v.9h-.9zM154.8 457.9h.9v.9h-.9zM87.7 415.7h.9v.9h-.9zM81.6 437.5h.9v.9h-.9zM151.9 424.7h.9v.9h-.9zM72.6 426.6h.9v.9h-.9zM77.1 426.6h.9v.9h-.9zM110.7 450.0h.9v.9h-.9zM171.1 462.6h.9v.9h-.9zM154.1 417.2h.9v.9h-.9zM59.6 420.2h.9v.9h-.9zM163.2 436.7h.9v.9h-.9zM140.2 416.7h.9v.9h-.9zM137.9 416.9h.9v.9h-.9zM140.3 456.9h.9v.9h-.9zM132.8 412.5h.9v.9h-.9zM99.0 446.6h.9v.9h-.9zM82.3 438.6h.9v.9h-.9zM141.7 414.8h.9v.9h-.9zM98.6 417.1h.9v.9h-.9zM111.3 460.8h.9v.9h-.9zM139.2 457.0h.9v.9h-.9zM103.2 414.5h.9v.9h-.9zM97.1 445.4h.9v.9h-.9zM116.2 408.4h.9v.9h-.9zM106.6 410.4h.9v.9h-.9zM82.8 421.6h.9v.9h-.9zM71.2 413.1h.9v.9h-.9zM120.2 448.9h.9v.9h-.9zM104.3 413.7h.9v.9h-.9zM82.6 433.5h.9v.9h-.9zM148.1 459.1h.9v.9h-.9zM122.3 412.5h.9v.9h-.9zM106.4 413.3h.9v.9h-.9zM136.8 402.3h.9v.9h-.9zM138.7 417.3h.9v.9h-.9zM133.0 413.4h.9v.9h-.9zM143.4 460.7h.9v.9h-.9zM101.5 448.0h.9v.9h-.9zM125.9 455.8h.9v.9h-.9zM84.6 437.1h.9v.9h-.9zM88.6 444.9h.9v.9h-.9zM163.7 436.7h.9v.9h-.9zM142.5 421.0h.9v.9h-.9zM162.4 426.9h.9v.9h-.9zM112.5 413.1h.9v.9h-.9zM105.7 448.8h.9v.9h-.9zM127.4 416.8h.9v.9h-.9zM112.5 414.1h.9v.9h-.9zM82.3 425.2h.9v.9h-.9zM105.4 404.0h.9v.9h-.9zM81.9 422.6h.9v.9h-.9zM162.1 455.5h.9v.9h-.9zM82.8 418.9h.9v.9h-.9zM146.3 458.0h.9v.9h-.9zM164.4 432.9h.9v.9h-.9zM158.9 454.7h.9v.9h-.9zM143.6 457.3h.9v.9h-.9zM113.1 411.4h.9v.9h-.9zM89.2 443.1h.9v.9h-.9zM163.6 435.2h.9v.9h-.9zM161.1 455.0h.9v.9h-.9zM139.0 458.3h.9v.9h-.9zM149.7 458.0h.9v.9h-.9zM138.9 461.8h.9v.9h-.9zM97.6 442.2h.9v.9h-.9zM82.6 426.2h.9v.9h-.9zM81.3 417.8h.9v.9h-.9zM165.4 448.5h.9v.9h-.9zM157.6 450.8h.9v.9h-.9zM138.6 414.9h.9v.9h-.9zM171.6 424.3h.9v.9h-.9zM92.4 446.6h.9v.9h-.9zM164.9 446.2h.9v.9h-.9zM85.5 443.7h.9v.9h-.9zM141.4 412.9h.9v.9h-.9zM130.8 416.3h.9v.9h-.9zM160.3 453.4h.9v.9h-.9zM84.4 439.5h.9v.9h-.9zM102.2 446.2h.9v.9h-.9zM139.7 416.3h.9v.9h-.9zM122.6 414.9h.9v.9h-.9zM160.4 450.0h.9v.9h-.9zM109.6 406.2h.9v.9h-.9zM140.1 414.6h.9v.9h-.9zM104.6 443.9h.9v.9h-.9zM150.8 417.4h.9v.9h-.9zM79.6 434.1h.9v.9h-.9zM79.4 424.8h.9v.9h-.9zM143.1 456.4h.9v.9h-.9zM122.9 414.0h.9v.9h-.9zM54.1 442.3h.9v.9h-.9zM124.0 456.3h.9v.9h-.9zM151.5 455.4h.9v.9h-.9zM165.3 440.4h.9v.9h-.9zM80.5 434.4h.9v.9h-.9zM152.1 457.5h.9v.9h-.9zM169.7 425.7h.9v.9h-.9zM99.7 414.2h.9v.9h-.9zM134.0 415.0h.9v.9h-.9zM76.4 423.8h.9v.9h-.9zM141.1 421.4h.9v.9h-.9zM111.7 411.8h.9v.9h-.9zM96.6 416.8h.9v.9h-.9zM150.6 421.2h.9v.9h-.9zM165.3 447.7h.9v.9h-.9zM163.1 451.4h.9v.9h-.9zM141.7 456.1h.9v.9h-.9zM80.9 423.5h.9v.9h-.9zM124.3 410.4h.9v.9h-.9zM156.2 465.6h.9v.9h-.9zM116.5 416.0h.9v.9h-.9zM133.1 413.7h.9v.9h-.9zM131.1 454.2h.9v.9h-.9zM128.1 456.7h.9v.9h-.9zM87.2 443.3h.9v.9h-.9zM88.6 443.7h.9v.9h-.9zM138.3 457.0h.9v.9h-.9zM136.7 456.7h.9v.9h-.9zM153.6 424.2h.9v.9h-.9zM78.4 431.1h.9v.9h-.9zM120.6 453.5h.9v.9h-.9zM160.6 432.9h.9v.9h-.9zM92.4 441.9h.9v.9h-.9zM95.2 443.0h.9v.9h-.9zM165.4 447.4h.9v.9h-.9zM114.7 468.3h.9v.9h-.9zM158.0 462.1h.9v.9h-.9zM128.5 461.4h.9v.9h-.9zM142.4 416.6h.9v.9h-.9zM101.7 448.2h.9v.9h-.9zM139.4 460.2h.9v.9h-.9zM153.6 424.9h.9v.9h-.9zM156.0 417.1h.9v.9h-.9zM99.8 407.8h.9v.9h-.9zM118.0 411.7h.9v.9h-.9zM78.9 422.8h.9v.9h-.9zM82.9 438.0h.9v.9h-.9zM140.9 455.4h.9v.9h-.9zM145.1 457.4h.9v.9h-.9zM145.2 464.8h.9v.9h-.9zM110.4 412.4h.9v.9h-.9zM85.8 442.4h.9v.9h-.9zM134.0 463.5h.9v.9h-.9zM147.9 454.3h.9v.9h-.9zM94.8 451.0h.9v.9h-.9zM154.1 426.6h.9v.9h-.9zM112.0 409.6h.9v.9h-.9zM94.0 415.4h.9v.9h-.9zM166.1 452.8h.9v.9h-.9zM78.5 421.1h.9v.9h-.9zM137.1 417.4h.9v.9h-.9zM115.7 456.6h.9v.9h-.9zM113.8 412.0h.9v.9h-.9zM94.8 418.4h.9v.9h-.9zM94.9 449.5h.9v.9h-.9zM179.8 445.4h.9v.9h-.9zM134.7 407.3h.9v.9h-.9zM152.9 458.2h.9v.9h-.9zM113.0 455.0h.9v.9h-.9zM166.0 447.2h.9v.9h-.9zM162.1 437.8h.9v.9h-.9zM98.3 443.7h.9v.9h-.9zM106.6 449.3h.9v.9h-.9zM94.9 448.3h.9v.9h-.9zM113.0 445.6h.9v.9h-.9zM97.4 404.0h.9v.9h-.9zM116.0 412.8h.9v.9h-.9zM118.4 412.2h.9v.9h-.9zM125.7 452.7h.9v.9h-.9zM159.5 430.7h.9v.9h-.9zM125.8 456.2h.9v.9h-.9zM108.1 447.2h.9v.9h-.9zM72.3 427.2h.9v.9h-.9zM163.0 427.4h.9v.9h-.9zM116.5 455.4h.9v.9h-.9zM120.0 411.5h.9v.9h-.9zM144.7 416.6h.9v.9h-.9zM123.2 456.1h.9v.9h-.9zM74.7 422.3h.9v.9h-.9zM91.7 408.4h.9v.9h-.9zM86.4 438.3h.9v.9h-.9zM84.8 417.9h.9v.9h-.9zM96.8 413.0h.9v.9h-.9zM165.1 433.7h.9v.9h-.9zM95.4 442.7h.9v.9h-.9zM89.7 408.9h.9v.9h-.9zM173.5 434.8h.9v.9h-.9zM145.6 417.8h.9v.9h-.9zM115.6 448.2h.9v.9h-.9zM148.1 459.6h.9v.9h-.9zM95.2 442.3h.9v.9h-.9zM147.7 458.0h.9v.9h-.9zM104.7 412.4h.9v.9h-.9zM103.0 415.0h.9v.9h-.9zM98.0 443.8h.9v.9h-.9zM86.7 413.3h.9v.9h-.9zM141.6 415.5h.9v.9h-.9zM120.5 471.6h.9v.9h-.9zM84.0 431.8h.9v.9h-.9zM123.1 413.9h.9v.9h-.9zM83.9 438.6h.9v.9h-.9zM96.6 444.9h.9v.9h-.9zM88.9 442.0h.9v.9h-.9zM119.0 412.0h.9v.9h-.9zM120.5 451.4h.9v.9h-.9zM81.2 417.9h.9v.9h-.9zM133.5 465.6h.9v.9h-.9zM153.1 456.1h.9v.9h-.9zM158.4 428.4h.9v.9h-.9zM127.1 417.1h.9v.9h-.9zM155.3 422.9h.9v.9h-.9zM158.5 488.8h.9v.9h-.9zM140.4 490.8h.9v.9h-.9zM154.2 484.2h.9v.9h-.9zM132.2 492.5h.9v.9h-.9zM104.5 490.5h.9v.9h-.9zM97.1 486.0h.9v.9h-.9zM145.8 484.2h.9v.9h-.9zM112.4 483.6h.9v.9h-.9zM134.9 480.2h.9v.9h-.9zM99.6 488.2h.9v.9h-.9zM91.0 489.5h.9v.9h-.9zM131.9 489.0h.9v.9h-.9zM163.0 483.3h.9v.9h-.9zM145.3 490.0h.9v.9h-.9zM102.1 489.5h.9v.9h-.9zM105.1 483.4h.9v.9h-.9zM102.5 490.8h.9v.9h-.9zM96.1 485.3h.9v.9h-.9zM156.1 490.4h.9v.9h-.9zM119.2 485.8h.9v.9h-.9zM153.1 488.9h.9v.9h-.9zM116.6 484.4h.9v.9h-.9z" fill="#a4aee0"/><path d="M104.6 437.9h.9v.9h-.9zM123.9 423.6h.9v.9h-.9zM59.8 460.2h.9v.9h-.9zM96.5 405.1h.9v.9h-.9zM112.5 419.9h.9v.9h-.9zM97.4 426.9h.9v.9h-.9zM130.4 435.0h.9v.9h-.9zM111.9 449.9h.9v.9h-.9zM148.1 439.0h.9v.9h-.9zM112.4 445.8h.9v.9h-.9zM144.6 460.2h.9v.9h-.9zM159.3 427.4h.9v.9h-.9zM124.7 452.7h.9v.9h-.9zM94.2 433.3h.9v.9h-.9zM145.7 428.9h.9v.9h-.9zM124.6 444.2h.9v.9h-.9zM116.5 463.1h.9v.9h-.9zM155.4 457.2h.9v.9h-.9zM112.2 443.7h.9v.9h-.9zM129.0 454.6h.9v.9h-.9zM82.2 446.6h.9v.9h-.9zM105.7 441.2h.9v.9h-.9zM112.5 436.5h.9v.9h-.9zM113.0 436.9h.9v.9h-.9zM132.2 410.4h.9v.9h-.9zM132.8 454.9h.9v.9h-.9zM141.5 409.0h.9v.9h-.9zM81.9 434.1h.9v.9h-.9zM108.4 435.4h.9v.9h-.9zM128.6 453.6h.9v.9h-.9zM148.6 432.8h.9v.9h-.9zM174.6 459.9h.9v.9h-.9zM123.6 408.0h.9v.9h-.9zM90.7 447.6h.9v.9h-.9zM149.2 420.5h.9v.9h-.9zM119.1 425.8h.9v.9h-.9zM103.4 431.6h.9v.9h-.9zM97.7 448.0h.9v.9h-.9zM133.6 434.3h.9v.9h-.9zM131.5 445.5h.9v.9h-.9zM121.8 438.6h.9v.9h-.9zM113.1 427.8h.9v.9h-.9zM116.0 435.3h.9v.9h-.9zM104.8 416.4h.9v.9h-.9zM142.6 452.5h.9v.9h-.9zM69.7 452.7h.9v.9h-.9zM87.0 467.8h.9v.9h-.9zM109.6 441.9h.9v.9h-.9zM137.5 424.4h.9v.9h-.9zM129.9 449.1h.9v.9h-.9zM110.1 449.7h.9v.9h-.9zM136.4 444.9h.9v.9h-.9zM96.8 437.5h.9v.9h-.9zM123.1 426.7h.9v.9h-.9zM145.7 404.4h.9v.9h-.9zM125.7 433.2h.9v.9h-.9zM123.5 417.8h.9v.9h-.9zM91.3 417.5h.9v.9h-.9zM138.8 438.4h.9v.9h-.9zM109.2 418.2h.9v.9h-.9zM132.0 457.4h.9v.9h-.9zM88.7 437.3h.9v.9h-.9zM133.0 449.0h.9v.9h-.9zM128.1 421.2h.9v.9h-.9zM103.8 456.0h.9v.9h-.9zM59.0 395.8h.9v.9h-.9zM118.8 438.6h.9v.9h-.9zM75.6 436.5h.9v.9h-.9zM146.2 432.0h.9v.9h-.9zM122.5 440.9h.9v.9h-.9zM119.8 443.5h.9v.9h-.9zM133.6 430.8h.9v.9h-.9zM144.0 428.8h.9v.9h-.9zM94.6 435.3h.9v.9h-.9zM152.4 446.7h.9v.9h-.9zM117.1 422.0h.9v.9h-.9zM108.0 410.9h.9v.9h-.9zM105.8 450.4h.9v.9h-.9zM161.4 443.4h.9v.9h-.9zM123.9 481.4h.9v.9h-.9zM116.2 476.9h.9v.9h-.9zM141.9 471.3h.9v.9h-.9zM74.8 475.9h.9v.9h-.9zM152.9 465.3h.9v.9h-.9zM115.0 459.0h.9v.9h-.9zM117.2 460.0h.9v.9h-.9zM119.2 467.0h.9v.9h-.9zM155.5 475.9h.9v.9h-.9zM106.9 480.1h.9v.9h-.9zM122.2 463.6h.9v.9h-.9zM137.8 472.6h.9v.9h-.9zM147.2 469.7h.9v.9h-.9zM120.7 471.7h.9v.9h-.9zM122.4 480.8h.9v.9h-.9zM111.3 468.8h.9v.9h-.9zM153.2 491.7h.9v.9h-.9zM146.4 480.0h.9v.9h-.9zM107.7 479.9h.9v.9h-.9zM125.0 473.7h.9v.9h-.9zM101.7 472.8h.9v.9h-.9zM122.5 472.4h.9v.9h-.9zM155.4 484.2h.9v.9h-.9zM137.9 458.0h.9v.9h-.9zM119.8 480.0h.9v.9h-.9zM95.7 459.1h.9v.9h-.9zM154.2 474.3h.9v.9h-.9zM106.0 485.5h.9v.9h-.9zM114.4 471.8h.9v.9h-.9zM81.9 488.7h.9v.9h-.9zM120.7 484.4h.9v.9h-.9zM139.3 480.9h.9v.9h-.9zM132.7 473.3h.9v.9h-.9zM130.2 483.3h.9v.9h-.9zM130.1 476.4h.9v.9h-.9zM125.8 457.4h.9v.9h-.9zM137.7 483.2h.9v.9h-.9zM144.6 472.0h.9v.9h-.9zM144.9 479.9h.9v.9h-.9zM140.4 471.7h.9v.9h-.9zM148.9 486.8h.9v.9h-.9zM97.2 492.9h.9v.9h-.9zM91.6 488.9h.9v.9h-.9zM137.6 484.5h.9v.9h-.9zM128.6 486.6h.9v.9h-.9zM150.7 491.4h.9v.9h-.9zM143.0 487.1h.9v.9h-.9zM141.3 486.0h.9v.9h-.9zM153.3 485.1h.9v.9h-.9zM108.8 485.5h.9v.9h-.9zM131.9 487.9h.9v.9h-.9zM122.1 485.5h.9v.9h-.9zM151.1 497.1h.9v.9h-.9zM91.3 492.2h.9v.9h-.9zM127.0 485.4h.9v.9h-.9zM123.4 494.2h.9v.9h-.9zM127.3 497.6h.9v.9h-.9zM109.2 497.4h.9v.9h-.9zM162.9 491.0h.9v.9h-.9zM139.5 488.9h.9v.9h-.9zM115.1 492.4h.9v.9h-.9zM144.0 484.5h.9v.9h-.9zM115.9 491.3h.9v.9h-.9zM122.8 486.3h.9v.9h-.9zM112.6 489.2h.9v.9h-.9zM143.5 489.6h.9v.9h-.9zM202.5 506.2h.9v.9h-.9zM76.4 489.1h.9v.9h-.9zM107.6 487.1h.9v.9h-.9zM117.6 484.1h.9v.9h-.9zM89.7 418.3h.9v.9h-.9zM122.7 414.3h.9v.9h-.9zM167.4 448.2h.9v.9h-.9zM136.4 460.4h.9v.9h-.9zM61.1 418.8h.9v.9h-.9zM157.1 457.5h.9v.9h-.9zM77.6 417.8h.9v.9h-.9zM138.3 416.7h.9v.9h-.9zM146.0 420.2h.9v.9h-.9zM133.3 415.2h.9v.9h-.9zM134.3 416.3h.9v.9h-.9zM153.7 461.0h.9v.9h-.9zM106.2 416.5h.9v.9h-.9zM144.3 459.2h.9v.9h-.9zM98.8 445.4h.9v.9h-.9zM159.8 434.9h.9v.9h-.9zM151.1 412.2h.9v.9h-.9zM77.5 426.6h.9v.9h-.9zM169.4 439.2h.9v.9h-.9zM81.4 409.0h.9v.9h-.9zM91.0 416.0h.9v.9h-.9zM154.1 421.4h.9v.9h-.9zM141.9 456.6h.9v.9h-.9zM151.4 456.5h.9v.9h-.9zM125.4 457.8h.9v.9h-.9zM82.6 440.0h.9v.9h-.9zM93.2 414.9h.9v.9h-.9zM143.0 459.6h.9v.9h-.9zM106.0 413.5h.9v.9h-.9zM98.8 414.8h.9v.9h-.9zM155.4 455.2h.9v.9h-.9zM77.4 427.7h.9v.9h-.9zM144.5 418.9h.9v.9h-.9zM90.0 416.2h.9v.9h-.9zM74.3 438.2h.9v.9h-.9zM89.5 443.1h.9v.9h-.9zM121.9 417.6h.9v.9h-.9zM120.8 449.3h.9v.9h-.9zM124.3 408.6h.9v.9h-.9zM129.7 420.0h.9v.9h-.9zM127.2 416.5h.9v.9h-.9zM96.3 449.7h.9v.9h-.9zM90.2 441.4h.9v.9h-.9zM125.5 412.3h.9v.9h-.9zM146.8 419.0h.9v.9h-.9zM82.8 434.2h.9v.9h-.9zM108.9 447.1h.9v.9h-.9zM117.6 415.8h.9v.9h-.9zM107.5 415.4h.9v.9h-.9zM147.2 417.6h.9v.9h-.9zM73.0 433.0h.9v.9h-.9zM149.2 456.1h.9v.9h-.9zM111.5 451.2h.9v.9h-.9zM142.5 417.8h.9v.9h-.9zM132.3 457.2h.9v.9h-.9zM145.9 458.8h.9v.9h-.9zM121.7 456.5h.9v.9h-.9zM155.4 456.6h.9v.9h-.9zM108.4 410.7h.9v.9h-.9zM95.8 445.1h.9v.9h-.9zM142.1 457.2h.9v.9h-.9zM130.1 416.2h.9v.9h-.9zM168.1 442.6h.9v.9h-.9zM142.4 414.2h.9v.9h-.9zM151.8 455.1h.9v.9h-.9zM151.1 417.1h.9v.9h-.9zM113.4 447.9h.9v.9h-.9zM120.5 412.2h.9v.9h-.9zM102.6 414.4h.9v.9h-.9zM82.9 451.2h.9v.9h-.9zM85.6 416.9h.9v.9h-.9zM141.6 415.0h.9v.9h-.9zM152.2 459.3h.9v.9h-.9zM129.2 417.0h.9v.9h-.9zM69.9 432.9h.9v.9h-.9zM104.8 446.1h.9v.9h-.9zM114.1 450.5h.9v.9h-.9zM83.3 411.0h.9v.9h-.9zM152.9 461.0h.9v.9h-.9zM159.5 428.9h.9v.9h-.9zM95.6 413.3h.9v.9h-.9zM150.1 418.0h.9v.9h-.9zM159.8 447.1h.9v.9h-.9zM144.2 416.5h.9v.9h-.9zM133.4 416.8h.9v.9h-.9zM159.0 450.2h.9v.9h-.9zM107.0 415.9h.9v.9h-.9zM126.0 455.4h.9v.9h-.9zM161.9 442.6h.9v.9h-.9zM128.9 458.9h.9v.9h-.9zM131.2 417.9h.9v.9h-.9zM158.0 419.3h.9v.9h-.9zM158.8 438.7h.9v.9h-.9zM105.6 454.3h.9v.9h-.9zM137.4 416.5h.9v.9h-.9zM152.7 462.9h.9v.9h-.9zM110.1 446.9h.9v.9h-.9zM148.0 459.6h.9v.9h-.9zM74.2 417.4h.9v.9h-.9zM80.4 432.2h.9v.9h-.9zM157.5 421.4h.9v.9h-.9zM143.2 457.9h.9v.9h-.9zM119.8 453.3h.9v.9h-.9zM113.9 449.1h.9v.9h-.9zM130.7 456.5h.9v.9h-.9zM125.2 462.4h.9v.9h-.9zM82.1 431.8h.9v.9h-.9zM170.6 457.8h.9v.9h-.9zM91.0 412.0h.9v.9h-.9zM161.1 449.1h.9v.9h-.9zM156.2 457.2h.9v.9h-.9zM105.6 410.1h.9v.9h-.9zM77.1 454.2h.9v.9h-.9zM141.3 458.5h.9v.9h-.9zM150.8 458.0h.9v.9h-.9zM115.1 416.1h.9v.9h-.9zM156.9 423.1h.9v.9h-.9zM122.0 408.1h.9v.9h-.9zM114.1 414.2h.9v.9h-.9zM81.7 435.7h.9v.9h-.9zM159.9 422.6h.9v.9h-.9zM161.3 429.2h.9v.9h-.9zM160.8 428.2h.9v.9h-.9zM120.2 450.4h.9v.9h-.9zM144.2 420.2h.9v.9h-.9zM79.7 438.9h.9v.9h-.9zM140.7 419.9h.9v.9h-.9zM121.9 454.1h.9v.9h-.9zM96.3 415.7h.9v.9h-.9zM93.0 442.9h.9v.9h-.9zM172.6 449.7h.9v.9h-.9zM80.8 430.9h.9v.9h-.9zM93.8 417.3h.9v.9h-.9zM138.3 412.2h.9v.9h-.9zM137.8 414.8h.9v.9h-.9zM158.9 443.7h.9v.9h-.9zM134.0 414.5h.9v.9h-.9zM160.7 437.4h.9v.9h-.9zM163.5 447.0h.9v.9h-.9zM166.7 434.4h.9v.9h-.9zM137.9 418.3h.9v.9h-.9zM87.7 439.6h.9v.9h-.9zM126.4 417.8h.9v.9h-.9zM82.3 424.8h.9v.9h-.9zM125.6 458.5h.9v.9h-.9zM92.1 446.5h.9v.9h-.9zM98.1 415.7h.9v.9h-.9zM111.7 456.5h.9v.9h-.9zM160.4 443.3h.9v.9h-.9zM119.6 415.7h.9v.9h-.9zM98.9 415.8h.9v.9h-.9zM133.4 459.6h.9v.9h-.9zM68.2 435.7h.9v.9h-.9zM174.7 442.2h.9v.9h-.9zM135.5 461.6h.9v.9h-.9zM161.4 454.5h.9v.9h-.9zM125.6 455.2h.9v.9h-.9zM125.5 417.5h.9v.9h-.9zM149.4 420.7h.9v.9h-.9zM123.5 414.3h.9v.9h-.9zM80.1 425.8h.9v.9h-.9zM79.8 411.8h.9v.9h-.9zM115.1 394.4h.9v.9h-.9zM138.4 415.2h.9v.9h-.9zM105.0 454.1h.9v.9h-.9zM152.0 420.8h.9v.9h-.9zM83.7 436.6h.9v.9h-.9zM132.4 393.6h.9v.9h-.9zM119.2 411.2h.9v.9h-.9zM127.1 461.2h.9v.9h-.9zM96.9 444.8h.9v.9h-.9zM62.2 426.9h.9v.9h-.9zM100.0 447.5h.9v.9h-.9zM125.7 415.3h.9v.9h-.9zM70.8 412.1h.9v.9h-.9zM161.1 444.2h.9v.9h-.9zM140.1 458.4h.9v.9h-.9zM146.2 456.7h.9v.9h-.9zM113.3 448.7h.9v.9h-.9zM111.9 411.6h.9v.9h-.9zM74.4 439.9h.9v.9h-.9zM100.7 413.7h.9v.9h-.9zM75.6 415.6h.9v.9h-.9zM86.2 443.3h.9v.9h-.9zM102.2 415.5h.9v.9h-.9zM147.9 419.9h.9v.9h-.9zM85.8 414.9h.9v.9h-.9zM71.4 429.0h.9v.9h-.9zM112.6 412.6h.9v.9h-.9zM130.2 463.8h.9v.9h-.9zM123.7 454.2h.9v.9h-.9zM123.0 454.0h.9v.9h-.9zM161.6 443.4h.9v.9h-.9zM137.5 457.4h.9v.9h-.9zM119.1 453.8h.9v.9h-.9zM167.4 426.0h.9v.9h-.9zM84.5 437.9h.9v.9h-.9zM161.7 444.5h.9v.9h-.9zM85.7 420.1h.9v.9h-.9zM151.0 463.3h.9v.9h-.9zM95.1 441.5h.9v.9h-.9zM140.4 414.7h.9v.9h-.9zM165.0 446.4h.9v.9h-.9zM154.5 422.9h.9v.9h-.9zM151.4 420.0h.9v.9h-.9zM104.6 446.0h.9v.9h-.9zM86.7 442.7h.9v.9h-.9zM138.3 418.0h.9v.9h-.9zM163.0 433.1h.9v.9h-.9zM152.2 420.2h.9v.9h-.9zM106.5 447.0h.9v.9h-.9zM110.1 447.9h.9v.9h-.9zM113.0 448.5h.9v.9h-.9zM164.2 439.5h.9v.9h-.9zM78.9 437.3h.9v.9h-.9zM168.5 434.4h.9v.9h-.9zM111.2 415.5h.9v.9h-.9zM114.1 415.3h.9v.9h-.9zM87.5 490.6h.9v.9h-.9zM131.0 487.1h.9v.9h-.9zM146.8 485.2h.9v.9h-.9zM110.0 482.3h.9v.9h-.9zM143.1 491.9h.9v.9h-.9zM88.9 485.7h.9v.9h-.9zM95.7 490.6h.9v.9h-.9zM134.5 489.9h.9v.9h-.9zM151.3 489.6h.9v.9h-.9zM114.9 486.1h.9v.9h-.9zM127.9 490.4h.9v.9h-.9zM152.7 488.3h.9v.9h-.9zM133.4 487.9h.9v.9h-.9zM146.6 483.1h.9v.9h-.9zM103.0 489.5h.9v.9h-.9zM150.6 484.6h.9v.9h-.9zM150.3 482.9h.9v.9h-.9zM139.8 484.6h.9v.9h-.9zM131.6 488.3h.9v.9h-.9zM153.3 489.1h.9v.9h-.9zM124.0 482.9h.9v.9h-.9zM103.6 489.4h.9v.9h-.9zM153.1 489.6h.9v.9h-.9zM89.7 485.0h.9v.9h-.9zM98.2 483.9h.9v.9h-.9zM100.8 483.8h.9v.9h-.9zM98.3 490.8h.9v.9h-.9zM105.3 485.4h.9v.9h-.9zM147.9 483.0h.9v.9h-.9zM91.2 488.8h.9v.9h-.9zM131.9 482.4h.9v.9h-.9zM158.8 491.3h.9v.9h-.9zM114.2 484.3h.9v.9h-.9zM94.5 489.5h.9v.9h-.9zM95.7 484.9h.9v.9h-.9zM99.1 487.6h.9v.9h-.9zM120.0 482.5h.9v.9h-.9z" fill="#8c98d8"/><path d="M120.4 445.5h.9v.9h-.9zM139.8 442.4h.9v.9h-.9zM103.7 415.7h.9v.9h-.9zM133.3 455.5h.9v.9h-.9zM80.1 454.8h.9v.9h-.9zM135.9 426.4h.9v.9h-.9zM119.5 426.5h.9v.9h-.9zM117.8 431.0h.9v.9h-.9zM62.4 433.9h.9v.9h-.9zM120.2 438.7h.9v.9h-.9zM118.7 437.8h.9v.9h-.9zM115.4 418.1h.9v.9h-.9zM88.5 422.3h.9v.9h-.9zM135.0 431.5h.9v.9h-.9zM117.4 434.1h.9v.9h-.9zM119.5 426.4h.9v.9h-.9zM125.3 444.4h.9v.9h-.9zM114.4 420.1h.9v.9h-.9zM75.7 439.2h.9v.9h-.9zM133.8 457.2h.9v.9h-.9zM85.0 459.3h.9v.9h-.9zM109.0 449.1h.9v.9h-.9zM79.6 458.9h.9v.9h-.9zM147.2 415.0h.9v.9h-.9zM107.5 431.2h.9v.9h-.9zM84.2 442.2h.9v.9h-.9zM144.9 426.7h.9v.9h-.9zM102.4 467.4h.9v.9h-.9zM124.3 445.4h.9v.9h-.9zM134.3 420.9h.9v.9h-.9zM113.2 437.9h.9v.9h-.9zM112.4 428.6h.9v.9h-.9zM161.5 449.5h.9v.9h-.9zM68.2 438.7h.9v.9h-.9zM117.3 446.4h.9v.9h-.9zM118.4 449.2h.9v.9h-.9zM117.6 429.7h.9v.9h-.9zM79.2 425.9h.9v.9h-.9zM101.3 462.8h.9v.9h-.9zM81.6 425.7h.9v.9h-.9zM94.8 437.6h.9v.9h-.9zM104.8 461.5h.9v.9h-.9zM113.2 440.9h.9v.9h-.9zM100.1 446.8h.9v.9h-.9zM58.7 452.7h.9v.9h-.9zM134.0 426.4h.9v.9h-.9zM145.6 420.3h.9v.9h-.9zM132.1 458.6h.9v.9h-.9zM101.4 436.4h.9v.9h-.9zM177.7 417.8h.9v.9h-.9zM125.5 428.3h.9v.9h-.9zM111.7 467.6h.9v.9h-.9zM117.6 438.2h.9v.9h-.9zM162.6 438.4h.9v.9h-.9zM88.4 423.3h.9v.9h-.9zM98.3 414.3h.9v.9h-.9zM94.9 435.9h.9v.9h-.9zM107.6 429.8h.9v.9h-.9zM153.9 415.1h.9v.9h-.9zM170.3 441.2h.9v.9h-.9zM136.9 456.1h.9v.9h-.9zM101.6 433.0h.9v.9h-.9zM127.7 435.0h.9v.9h-.9zM129.2 434.9h.9v.9h-.9zM133.8 427.0h.9v.9h-.9zM129.2 440.8h.9v.9h-.9zM135.5 436.5h.9v.9h-.9zM97.7 441.5h.9v.9h-.9zM89.2 429.5h.9v.9h-.9zM106.4 432.0h.9v.9h-.9zM111.1 416.7h.9v.9h-.9zM157.3 436.4h.9v.9h-.9zM72.9 433.3h.9v.9h-.9zM120.6 430.0h.9v.9h-.9zM143.2 446.7h.9v.9h-.9zM113.0 446.1h.9v.9h-.9zM139.3 418.6h.9v.9h-.9zM67.6 455.9h.9v.9h-.9zM129.2 423.2h.9v.9h-.9zM116.4 421.5h.9v.9h-.9zM153.2 431.4h.9v.9h-.9zM117.6 405.4h.9v.9h-.9zM145.1 464.1h.9v.9h-.9zM158.6 432.1h.9v.9h-.9zM164.2 449.5h.9v.9h-.9zM108.7 436.1h.9v.9h-.9zM137.0 459.0h.9v.9h-.9zM144.5 476.4h.9v.9h-.9zM109.2 466.6h.9v.9h-.9zM112.0 465.8h.9v.9h-.9zM117.3 464.8h.9v.9h-.9zM95.3 463.7h.9v.9h-.9zM115.5 456.5h.9v.9h-.9zM115.6 462.3h.9v.9h-.9zM117.1 477.5h.9v.9h-.9zM118.3 467.4h.9v.9h-.9zM96.2 480.0h.9v.9h-.9zM116.5 468.5h.9v.9h-.9zM102.0 470.0h.9v.9h-.9zM145.5 470.0h.9v.9h-.9zM153.3 490.6h.9v.9h-.9zM161.6 483.2h.9v.9h-.9zM126.0 463.8h.9v.9h-.9zM130.2 470.3h.9v.9h-.9zM94.6 476.1h.9v.9h-.9zM138.1 469.4h.9v.9h-.9zM114.3 464.3h.9v.9h-.9zM121.9 470.7h.9v.9h-.9zM130.0 479.2h.9v.9h-.9zM106.2 475.6h.9v.9h-.9zM124.8 473.4h.9v.9h-.9zM100.4 463.1h.9v.9h-.9zM122.2 474.7h.9v.9h-.9zM128.3 469.6h.9v.9h-.9zM143.3 468.5h.9v.9h-.9zM130.0 470.2h.9v.9h-.9zM114.4 468.3h.9v.9h-.9zM140.8 490.9h.9v.9h-.9zM120.3 492.9h.9v.9h-.9zM134.0 485.9h.9v.9h-.9zM110.7 499.0h.9v.9h-.9zM144.2 477.7h.9v.9h-.9zM138.0 488.9h.9v.9h-.9zM107.8 492.2h.9v.9h-.9zM144.8 487.4h.9v.9h-.9zM149.1 490.8h.9v.9h-.9zM97.8 490.8h.9v.9h-.9zM134.0 490.1h.9v.9h-.9zM117.6 500.1h.9v.9h-.9zM132.6 494.5h.9v.9h-.9zM155.0 497.6h.9v.9h-.9zM124.1 489.7h.9v.9h-.9zM100.0 474.3h.9v.9h-.9zM163.0 483.8h.9v.9h-.9zM130.1 485.2h.9v.9h-.9zM119.9 483.1h.9v.9h-.9zM157.2 495.3h.9v.9h-.9zM115.2 495.1h.9v.9h-.9zM149.3 488.1h.9v.9h-.9zM104.7 485.5h.9v.9h-.9zM135.6 457.9h.9v.9h-.9zM156.8 422.7h.9v.9h-.9zM136.7 416.4h.9v.9h-.9zM152.1 457.0h.9v.9h-.9zM87.3 416.7h.9v.9h-.9zM80.2 436.0h.9v.9h-.9zM162.2 437.0h.9v.9h-.9zM91.0 416.9h.9v.9h-.9zM167.1 431.2h.9v.9h-.9zM176.4 426.1h.9v.9h-.9zM122.4 452.4h.9v.9h-.9zM116.6 411.6h.9v.9h-.9zM126.7 456.4h.9v.9h-.9zM127.2 414.7h.9v.9h-.9zM92.1 443.0h.9v.9h-.9zM84.0 430.9h.9v.9h-.9zM139.0 458.3h.9v.9h-.9zM114.1 451.8h.9v.9h-.9zM164.9 449.5h.9v.9h-.9zM158.0 426.3h.9v.9h-.9zM137.3 458.0h.9v.9h-.9zM160.5 430.8h.9v.9h-.9zM132.0 461.4h.9v.9h-.9zM146.1 456.3h.9v.9h-.9zM159.7 448.3h.9v.9h-.9zM162.2 443.2h.9v.9h-.9zM160.0 418.4h.9v.9h-.9zM133.7 458.7h.9v.9h-.9zM155.0 424.5h.9v.9h-.9zM162.6 440.4h.9v.9h-.9zM85.3 444.1h.9v.9h-.9zM98.9 442.8h.9v.9h-.9zM96.6 405.7h.9v.9h-.9zM158.6 424.9h.9v.9h-.9zM162.4 437.7h.9v.9h-.9zM97.0 414.7h.9v.9h-.9zM151.3 457.5h.9v.9h-.9zM104.5 415.1h.9v.9h-.9zM125.4 453.3h.9v.9h-.9zM159.1 451.5h.9v.9h-.9zM160.0 454.0h.9v.9h-.9zM161.3 435.9h.9v.9h-.9zM85.8 454.4h.9v.9h-.9zM141.9 459.7h.9v.9h-.9zM82.0 426.3h.9v.9h-.9zM159.8 441.2h.9v.9h-.9zM81.5 440.7h.9v.9h-.9zM109.8 413.7h.9v.9h-.9zM72.9 438.0h.9v.9h-.9zM151.6 459.5h.9v.9h-.9zM146.4 454.7h.9v.9h-.9zM106.4 446.6h.9v.9h-.9zM102.9 444.2h.9v.9h-.9zM123.0 418.5h.9v.9h-.9zM119.5 462.6h.9v.9h-.9zM92.8 416.5h.9v.9h-.9zM147.1 420.7h.9v.9h-.9zM163.1 445.4h.9v.9h-.9zM160.4 431.5h.9v.9h-.9zM60.5 431.5h.9v.9h-.9zM139.0 456.8h.9v.9h-.9zM79.1 422.5h.9v.9h-.9zM112.6 416.0h.9v.9h-.9zM78.1 419.9h.9v.9h-.9zM156.3 454.3h.9v.9h-.9zM167.2 456.1h.9v.9h-.9zM165.5 424.8h.9v.9h-.9zM69.8 416.1h.9v.9h-.9zM126.8 415.9h.9v.9h-.9zM148.6 414.4h.9v.9h-.9zM91.5 418.5h.9v.9h-.9zM161.9 439.4h.9v.9h-.9zM85.8 416.1h.9v.9h-.9zM163.5 453.2h.9v.9h-.9zM82.5 424.8h.9v.9h-.9zM160.8 428.0h.9v.9h-.9zM93.6 416.9h.9v.9h-.9zM155.8 411.4h.9v.9h-.9zM97.0 456.3h.9v.9h-.9zM129.3 454.6h.9v.9h-.9zM127.3 414.8h.9v.9h-.9zM152.1 418.9h.9v.9h-.9zM82.4 443.7h.9v.9h-.9zM151.6 456.9h.9v.9h-.9zM162.7 444.2h.9v.9h-.9zM161.3 426.5h.9v.9h-.9zM113.3 448.2h.9v.9h-.9zM167.5 441.7h.9v.9h-.9zM81.5 439.2h.9v.9h-.9zM138.1 456.4h.9v.9h-.9zM86.4 441.7h.9v.9h-.9zM118.1 413.9h.9v.9h-.9zM157.0 452.9h.9v.9h-.9zM86.7 442.8h.9v.9h-.9zM123.6 451.8h.9v.9h-.9zM160.7 434.0h.9v.9h-.9zM138.9 415.4h.9v.9h-.9zM127.3 455.8h.9v.9h-.9zM163.7 449.8h.9v.9h-.9zM146.6 457.2h.9v.9h-.9zM90.1 414.4h.9v.9h-.9zM161.4 448.2h.9v.9h-.9zM128.0 454.7h.9v.9h-.9zM156.0 464.6h.9v.9h-.9zM111.1 447.1h.9v.9h-.9zM111.0 448.3h.9v.9h-.9zM82.2 420.7h.9v.9h-.9zM123.8 418.1h.9v.9h-.9zM88.5 441.7h.9v.9h-.9zM77.6 419.5h.9v.9h-.9zM147.5 420.1h.9v.9h-.9zM162.8 462.2h.9v.9h-.9zM162.4 427.3h.9v.9h-.9zM131.1 416.3h.9v.9h-.9zM149.5 459.8h.9v.9h-.9zM160.6 438.9h.9v.9h-.9zM156.9 456.4h.9v.9h-.9zM170.1 440.3h.9v.9h-.9zM142.2 409.9h.9v.9h-.9zM159.5 443.7h.9v.9h-.9zM157.8 462.4h.9v.9h-.9zM120.6 405.0h.9v.9h-.9zM133.0 455.4h.9v.9h-.9zM131.0 455.2h.9v.9h-.9zM120.5 451.0h.9v.9h-.9zM141.7 458.6h.9v.9h-.9zM126.1 453.5h.9v.9h-.9zM134.6 455.9h.9v.9h-.9zM120.2 406.9h.9v.9h-.9zM113.0 413.4h.9v.9h-.9zM128.9 455.8h.9v.9h-.9zM157.0 422.8h.9v.9h-.9zM111.0 407.0h.9v.9h-.9zM95.3 416.3h.9v.9h-.9zM131.5 416.6h.9v.9h-.9zM76.9 421.6h.9v.9h-.9zM80.3 439.9h.9v.9h-.9zM98.8 444.6h.9v.9h-.9zM139.3 419.5h.9v.9h-.9zM121.2 416.3h.9v.9h-.9zM76.8 429.0h.9v.9h-.9zM150.4 457.0h.9v.9h-.9zM85.5 447.4h.9v.9h-.9zM79.6 411.6h.9v.9h-.9zM162.1 426.0h.9v.9h-.9zM127.3 454.2h.9v.9h-.9zM195.5 433.4h.9v.9h-.9zM163.0 455.4h.9v.9h-.9zM116.5 413.6h.9v.9h-.9zM158.2 421.9h.9v.9h-.9zM152.6 413.1h.9v.9h-.9zM137.5 458.3h.9v.9h-.9zM81.2 436.8h.9v.9h-.9zM151.3 455.7h.9v.9h-.9zM155.7 454.9h.9v.9h-.9zM108.2 416.0h.9v.9h-.9zM160.9 456.7h.9v.9h-.9zM159.0 451.1h.9v.9h-.9zM157.1 411.4h.9v.9h-.9zM93.1 417.1h.9v.9h-.9zM139.3 465.4h.9v.9h-.9zM164.7 438.1h.9v.9h-.9zM100.2 411.8h.9v.9h-.9zM86.7 439.8h.9v.9h-.9zM81.6 429.7h.9v.9h-.9zM120.7 455.9h.9v.9h-.9zM120.9 454.2h.9v.9h-.9zM167.8 465.3h.9v.9h-.9zM106.9 415.6h.9v.9h-.9zM82.4 421.3h.9v.9h-.9zM141.0 417.2h.9v.9h-.9zM125.1 453.7h.9v.9h-.9zM87.3 420.6h.9v.9h-.9zM88.7 440.8h.9v.9h-.9zM133.5 457.5h.9v.9h-.9zM151.2 415.5h.9v.9h-.9zM105.1 414.9h.9v.9h-.9zM102.9 410.1h.9v.9h-.9zM117.7 413.9h.9v.9h-.9zM79.1 437.6h.9v.9h-.9zM81.1 445.5h.9v.9h-.9zM92.9 445.5h.9v.9h-.9zM107.2 446.9h.9v.9h-.9zM163.4 449.6h.9v.9h-.9zM94.8 443.6h.9v.9h-.9zM124.2 454.9h.9v.9h-.9zM84.2 441.4h.9v.9h-.9zM173.6 446.8h.9v.9h-.9zM158.7 428.5h.9v.9h-.9zM135.0 416.0h.9v.9h-.9zM145.9 455.6h.9v.9h-.9zM176.4 449.7h.9v.9h-.9zM96.8 416.6h.9v.9h-.9zM128.4 454.2h.9v.9h-.9zM147.8 419.8h.9v.9h-.9zM182.5 440.7h.9v.9h-.9zM113.6 465.5h.9v.9h-.9zM164.2 458.7h.9v.9h-.9zM114.8 413.3h.9v.9h-.9zM152.1 420.2h.9v.9h-.9zM156.2 419.4h.9v.9h-.9zM77.8 425.9h.9v.9h-.9zM160.3 430.1h.9v.9h-.9zM101.3 443.5h.9v.9h-.9zM112.2 449.8h.9v.9h-.9zM117.7 414.5h.9v.9h-.9zM127.6 417.3h.9v.9h-.9zM164.3 432.1h.9v.9h-.9zM114.1 485.3h.9v.9h-.9zM130.9 489.1h.9v.9h-.9zM116.1 486.4h.9v.9h-.9zM148.2 485.4h.9v.9h-.9zM167.5 485.9h.9v.9h-.9zM115.7 490.6h.9v.9h-.9zM113.5 490.5h.9v.9h-.9zM152.3 491.2h.9v.9h-.9zM108.8 486.8h.9v.9h-.9zM108.3 488.2h.9v.9h-.9zM123.2 483.9h.9v.9h-.9zM92.5 487.7h.9v.9h-.9zM154.9 487.8h.9v.9h-.9zM131.9 487.3h.9v.9h-.9zM144.4 488.2h.9v.9h-.9zM160.4 489.0h.9v.9h-.9zM142.2 481.3h.9v.9h-.9zM93.4 491.1h.9v.9h-.9zM162.1 487.5h.9v.9h-.9zM158.5 489.3h.9v.9h-.9zM92.0 487.9h.9v.9h-.9zM108.1 481.9h.9v.9h-.9zM161.6 483.1h.9v.9h-.9zM152.2 489.6h.9v.9h-.9zM160.4 482.8h.9v.9h-.9zM105.8 488.2h.9v.9h-.9zM118.2 486.5h.9v.9h-.9zM95.9 489.5h.9v.9h-.9zM135.5 483.4h.9v.9h-.9zM147.1 489.2h.9v.9h-.9zM158.8 484.8h.9v.9h-.9z" fill="#b4bad8"/><path d="M82.4,424.0 L83.2,421.5 L85.5,419.8 L86.7,420.2 L89.5,418.4 L89.8,417.6 L93.3,417.8 L93.7,417.7 L96.4,417.0 L96.7,416.3 L98.7,415.4 L100.7,415.3 L103.1,414.8 L103.8,414.8 L106.2,415.3 L108.7,416.1 L110.4,415.7 L112.0,415.9 L113.0,414.8 L116.1,414.9 L118.6,415.4 L119.4,416.6 L122.4,417.1 L123.4,416.8 L124.5,416.8 L126.2,417.7 L127.9,418.3 L129.5,417.1 L131.5,418.2 L133.1,417.0 L135.4,416.8 L136.6,417.5 L139.1,418.2 L140.0,419.5 L141.9,420.0 L143.2,420.2 L144.9,419.6 L147.2,420.9 L147.4,421.6 L149.8,421.7 L151.0,422.9 L152.0,424.0 L153.7,425.2 L155.1,426.4 L156.7,427.5 L158.2,429.4 L158.3,429.8 L159.2,431.9 L160.6,433.5 L159.3,435.0 L160.7,436.6 L160.8,438.8 L160.2,441.0 L160.8,441.7 L160.4,443.6 L161.0,446.2 L159.9,447.3 L160.0,449.5 L158.7,449.3 L156.8,451.4 L155.8,452.5 L153.6,453.7 L152.5,455.5 L150.4,456.0 L148.3,454.9 L146.8,455.4 L145.7,456.8 L144.0,455.8 L142.3,457.0 L139.7,456.8 L138.1,455.8 L136.9,456.1 L134.7,456.6 L133.5,455.4 L130.7,456.0 L129.1,455.1 L128.7,456.2 L126.6,455.9 L125.3,454.7 L123.0,452.6 L122.3,451.4 L120.9,450.2 L120.0,450.6 L118.7,449.2 L116.6,448.4 L114.5,448.9 L113.3,447.0 L111.6,447.5 L110.3,445.9 L108.0,445.9 L106.0,445.4 L105.2,445.5 L103.3,444.9 L101.6,443.9 L99.0,443.9 L97.1,444.4 L95.3,444.1 L94.3,443.7 L91.7,441.9 L90.1,442.9 L89.1,441.0 L87.2,441.0 L85.9,439.3 L84.6,437.5 L83.6,435.6 L83.4,435.0 L82.2,433.0 L82.5,430.7 L82.1,428.6 L82.5,428.1 L82.9,425.1Z" fill="#0a30dc" /><path d="M86.1,426.3 L87.1,425.3 L89.4,422.8 L89.6,421.7 L91.7,421.5 L93.9,421.8 L95.5,420.5 L96.8,421.2 L97.8,421.5 L99.6,421.2 L100.9,419.9 L102.6,419.8 L104.3,419.6 L107.0,420.9 L108.8,420.6 L110.4,419.5 L111.5,419.4 L112.8,419.8 L114.9,421.1 L116.4,420.9 L118.6,420.4 L119.3,420.4 L121.2,421.0 L123.0,421.4 L125.2,420.6 L127.2,421.3 L127.7,421.0 L129.7,421.3 L131.8,421.7 L132.4,422.3 L133.9,423.3 L136.7,422.2 L137.3,423.6 L139.7,423.4 L141.2,423.4 L142.7,423.9 L144.3,425.4 L145.4,424.9 L147.2,427.2 L148.3,428.0 L150.0,428.6 L151.5,429.3 L151.9,429.4 L153.3,431.9 L152.4,432.9 L153.7,434.4 L153.5,437.1 L153.2,437.6 L153.6,440.3 L153.7,441.7 L151.8,442.6 L151.9,444.3 L150.7,445.7 L149.9,446.5 L148.3,448.0 L145.7,448.0 L143.8,447.9 L142.1,448.8 L140.2,449.1 L139.5,447.9 L137.1,447.9 L136.5,448.8 L133.7,448.3 L132.9,448.0 L130.5,448.3 L128.4,448.3 L127.9,447.7 L125.6,446.1 L124.3,446.0 L123.1,444.7 L121.3,443.9 L119.2,443.8 L118.3,443.6 L116.6,443.5 L115.7,442.8 L113.5,442.7 L111.6,441.6 L109.3,442.2 L108.5,441.6 L106.4,440.9 L105.3,441.5 L102.7,440.3 L101.3,440.1 L100.1,440.5 L98.4,440.0 L96.4,439.0 L95.3,439.3 L94.0,438.7 L91.1,438.1 L89.3,437.0 L88.6,436.0 L87.0,434.1 L85.9,431.9 L86.9,430.9 L86.7,427.8Z" fill="#30f4f4" /><path d="M89.3,428.2 L89.3,425.6 L90.9,424.0 L92.6,423.4 L94.4,423.5 L96.2,423.2 L97.7,423.1 L98.9,422.5 L100.9,422.3 L102.8,421.7 L104.8,421.8 L106.5,422.3 L108.2,422.7 L110.1,422.3 L112.4,422.2 L113.9,422.5 L114.2,422.6 L116.3,423.6 L117.8,423.9 L119.7,424.2 L122.3,424.6 L123.6,424.8 L125.1,425.0 L127.1,425.1 L128.2,426.0 L130.4,425.0 L131.4,425.8 L133.0,425.8 L135.0,426.6 L136.9,426.8 L138.8,427.6 L140.7,426.7 L142.0,429.2 L143.0,429.5 L145.2,430.2 L146.5,431.4 L148.1,432.9 L147.5,433.8 L147.2,436.5 L147.2,437.6 L147.1,440.0 L146.1,441.1 L143.8,441.7 L142.3,442.3 L141.0,443.3 L140.0,443.1 L138.2,443.7 L136.8,444.4 L135.4,444.5 L132.2,443.8 L130.9,444.3 L128.9,444.4 L126.9,443.2 L125.4,443.1 L124.7,442.7 L122.6,443.1 L120.2,442.1 L119.4,442.0 L116.8,441.0 L116.1,440.4 L113.4,441.2 L111.9,440.4 L110.6,440.0 L109.7,440.3 L107.9,440.1 L106.4,439.7 L103.5,439.2 L102.0,439.4 L101.3,438.7 L99.4,437.5 L97.4,437.8 L96.7,436.0 L93.8,436.3 L92.5,435.6 L91.4,434.9 L90.0,433.1 L90.6,431.2 L88.8,428.8Z" fill="#18ee3c" /><path d="M94.3,430.2 L94.8,428.8 L96.7,427.4 L97.2,426.6 L99.4,426.0 L100.6,425.9 L102.8,425.2 L105.1,425.2 L106.4,425.1 L107.7,425.7 L110.5,427.3 L111.8,427.5 L113.9,428.4 L115.5,428.4 L117.1,428.9 L118.9,429.1 L121.3,428.2 L122.6,428.6 L123.9,428.4 L125.6,428.3 L127.1,428.2 L128.9,429.9 L130.4,430.4 L131.8,430.9 L134.3,430.9 L134.5,433.4 L134.4,434.4 L133.0,436.0 L131.1,437.5 L129.7,436.9 L127.9,436.6 L125.8,437.0 L123.3,436.8 L121.5,436.6 L120.5,438.0 L119.3,438.9 L116.7,438.4 L116.0,438.3 L114.0,437.2 L112.4,436.3 L110.8,434.9 L109.9,433.6 L108.5,433.2 L106.2,433.7 L104.5,432.8 L102.8,432.7 L100.7,432.7 L98.8,433.6 L96.8,433.6 L94.7,433.8 L94.1,431.6Z" fill="#ff0a10" /><path d="M112.5,431.5 L116.0,431.0 L117.5,434.5 L115.0,435.5Z" fill="#18ee3c" /><path d="M133.5,437.2 L135.5,437.0 L135.6,438.8 L133.6,439.0Z" fill="#ff0a10" /><path d="M134.0,457.5 L136.5,457.5 L136.3,459.6 L134.2,459.6Z" fill="#0a30dc" /><path d="M145.2,461.5 L148.3,461.3 L148.6,464.6 L145.6,464.8Z" fill="#0a30dc" /><rect x="88.7" y="487.1" width="13.8" height="4.7" rx="1.5" fill="#0a30dc"/><path d="M105.1,487.1 L128.4,487.1 L130.0,484.8 L150.0,484.5 L158.0,485.2 L160.4,486.5 L160.4,491.5 L155.0,492.8 L141.4,492.8 L141.0,495.0 L138.0,495.0 L137.5,493.2 L128.4,493.2 L127.0,491.8 L105.1,491.8Z" fill="#0a30dc" /><rect x="129.3" y="486.4" width="26.8" height="4.8" rx="2" fill="#30f4f4"/><rect x="131.9" y="487.0" width="20.8" height="3.6" rx="1.5" fill="#18ee3c"/><rect x="135.4" y="487.5" width="6.0" height="2.6" rx="1" fill="#ff0a10"/><line x1="45.30" y1="481.60" x2="49.50" y2="481.60" stroke="#111" stroke-width="0.9" /><line x1="47.30" y1="469.59" x2="49.50" y2="469.59" stroke="#111" stroke-width="0.9" /><line x1="47.30" y1="462.56" x2="49.50" y2="462.56" stroke="#111" stroke-width="0.9" /><line x1="47.30" y1="457.58" x2="49.50" y2="457.58" stroke="#111" stroke-width="0.9" /><line x1="47.30" y1="453.71" x2="49.50" y2="453.71" stroke="#111" stroke-width="0.9" /><line x1="47.30" y1="450.55" x2="49.50" y2="450.55" stroke="#111" stroke-width="0.9" /><line x1="47.30" y1="447.88" x2="49.50" y2="447.88" stroke="#111" stroke-width="0.9" /><line x1="47.30" y1="445.57" x2="49.50" y2="445.57" stroke="#111" stroke-width="0.9" /><line x1="47.30" y1="443.53" x2="49.50" y2="443.53" stroke="#111" stroke-width="0.9" /><line x1="45.30" y1="441.70" x2="49.50" y2="441.70" stroke="#111" stroke-width="0.9" /><line x1="47.30" y1="428.94" x2="49.50" y2="428.94" stroke="#111" stroke-width="0.9" /><line x1="47.30" y1="421.47" x2="49.50" y2="421.47" stroke="#111" stroke-width="0.9" /><line x1="47.30" y1="416.17" x2="49.50" y2="416.17" stroke="#111" stroke-width="0.9" /><line x1="47.30" y1="412.06" x2="49.50" y2="412.06" stroke="#111" stroke-width="0.9" /><line x1="47.30" y1="408.71" x2="49.50" y2="408.71" stroke="#111" stroke-width="0.9" /><line x1="47.30" y1="405.87" x2="49.50" y2="405.87" stroke="#111" stroke-width="0.9" /><line x1="47.30" y1="403.41" x2="49.50" y2="403.41" stroke="#111" stroke-width="0.9" /><line x1="47.30" y1="401.24" x2="49.50" y2="401.24" stroke="#111" stroke-width="0.9" /><line x1="45.30" y1="399.30" x2="49.50" y2="399.30" stroke="#111" stroke-width="0.9" /><line x1="47.30" y1="387.44" x2="49.50" y2="387.44" stroke="#111" stroke-width="0.9" /><line x1="47.30" y1="380.50" x2="49.50" y2="380.50" stroke="#111" stroke-width="0.9" /><line x1="47.30" y1="375.58" x2="49.50" y2="375.58" stroke="#111" stroke-width="0.9" /><line x1="47.30" y1="371.76" x2="49.50" y2="371.76" stroke="#111" stroke-width="0.9" /><line x1="47.30" y1="368.64" x2="49.50" y2="368.64" stroke="#111" stroke-width="0.9" /><line x1="47.30" y1="366.00" x2="49.50" y2="366.00" stroke="#111" stroke-width="0.9" /><line x1="47.30" y1="363.72" x2="49.50" y2="363.72" stroke="#111" stroke-width="0.9" /><line x1="47.30" y1="361.70" x2="49.50" y2="361.70" stroke="#111" stroke-width="0.9" /><line x1="45.30" y1="359.90" x2="49.50" y2="359.90" stroke="#111" stroke-width="0.9" /><line x1="47.30" y1="348.04" x2="49.50" y2="348.04" stroke="#111" stroke-width="0.9" /><line x1="47.30" y1="489.60" x2="49.50" y2="489.60" stroke="#111" stroke-width="0.9" /><line x1="47.30" y1="486.00" x2="49.50" y2="486.00" stroke="#111" stroke-width="0.9" /><line x1="47.30" y1="483.80" x2="49.50" y2="483.80" stroke="#111" stroke-width="0.9" /><line x1="47.30" y1="493.30" x2="49.50" y2="493.30" stroke="#111" stroke-width="0.9" /><line x1="47.30" y1="495.60" x2="49.50" y2="495.60" stroke="#111" stroke-width="0.9" /><line x1="47.30" y1="499.30" x2="49.50" y2="499.30" stroke="#111" stroke-width="0.9" /><line x1="47.30" y1="503.50" x2="49.50" y2="503.50" stroke="#111" stroke-width="0.9" /><line x1="47.30" y1="508.00" x2="49.50" y2="508.00" stroke="#111" stroke-width="0.9" /><line x1="47.30" y1="513.50" x2="49.50" y2="513.50" stroke="#111" stroke-width="0.9" /><rect x="47.20" y="482.50" width="2.30" height="17.00" fill="#111"/><text x="39.90" y="362.90" font-size="6.2" text-anchor="end" font-weight="normal" fill="#555" >10</text><text x="40.10" y="360.10" font-size="3.8" text-anchor="start" font-weight="normal" fill="#555" >5</text><text x="39.90" y="402.30" font-size="6.2" text-anchor="end" font-weight="normal" fill="#555" >10</text><text x="40.10" y="399.50" font-size="3.8" text-anchor="start" font-weight="normal" fill="#555" >4</text><text x="39.90" y="444.70" font-size="6.2" text-anchor="end" font-weight="normal" fill="#555" >10</text><text x="40.10" y="441.90" font-size="3.8" text-anchor="start" font-weight="normal" fill="#555" >3</text><text x="39.90" y="484.60" font-size="6.2" text-anchor="end" font-weight="normal" fill="#555" >10</text><text x="40.10" y="481.80" font-size="3.8" text-anchor="start" font-weight="normal" fill="#555" >2</text><text x="40.10" y="491.80" font-size="6.2" text-anchor="end" font-weight="normal" fill="#555" >0</text><text x="39.90" y="501.50" font-size="6.2" text-anchor="end" font-weight="normal" fill="#555" >−10</text><text x="40.10" y="498.70" font-size="3.8" text-anchor="start" font-weight="normal" fill="#555" >2</text><text x="42.50" y="521.50" font-size="6.2" text-anchor="end" font-weight="normal" fill="#555" >−401</text><line x1="88.50" y1="519.30" x2="88.50" y2="523.10" stroke="#111" stroke-width="0.9" /><line x1="101.29" y1="519.30" x2="101.29" y2="521.30" stroke="#111" stroke-width="0.9" /><line x1="108.78" y1="519.30" x2="108.78" y2="521.30" stroke="#111" stroke-width="0.9" /><line x1="114.09" y1="519.30" x2="114.09" y2="521.30" stroke="#111" stroke-width="0.9" /><line x1="118.21" y1="519.30" x2="118.21" y2="521.30" stroke="#111" stroke-width="0.9" /><line x1="121.57" y1="519.30" x2="121.57" y2="521.30" stroke="#111" stroke-width="0.9" /><line x1="124.42" y1="519.30" x2="124.42" y2="521.30" stroke="#111" stroke-width="0.9" /><line x1="126.88" y1="519.30" x2="126.88" y2="521.30" stroke="#111" stroke-width="0.9" /><line x1="129.06" y1="519.30" x2="129.06" y2="521.30" stroke="#111" stroke-width="0.9" /><line x1="131.00" y1="519.30" x2="131.00" y2="523.10" stroke="#111" stroke-width="0.9" /><line x1="144.12" y1="519.30" x2="144.12" y2="521.30" stroke="#111" stroke-width="0.9" /><line x1="151.80" y1="519.30" x2="151.80" y2="521.30" stroke="#111" stroke-width="0.9" /><line x1="157.25" y1="519.30" x2="157.25" y2="521.30" stroke="#111" stroke-width="0.9" /><line x1="161.48" y1="519.30" x2="161.48" y2="521.30" stroke="#111" stroke-width="0.9" /><line x1="164.93" y1="519.30" x2="164.93" y2="521.30" stroke="#111" stroke-width="0.9" /><line x1="167.85" y1="519.30" x2="167.85" y2="521.30" stroke="#111" stroke-width="0.9" /><line x1="170.37" y1="519.30" x2="170.37" y2="521.30" stroke="#111" stroke-width="0.9" /><line x1="172.60" y1="519.30" x2="172.60" y2="521.30" stroke="#111" stroke-width="0.9" /><line x1="174.60" y1="519.30" x2="174.60" y2="523.10" stroke="#111" stroke-width="0.9" /><line x1="186.94" y1="519.30" x2="186.94" y2="521.30" stroke="#111" stroke-width="0.9" /><line x1="194.16" y1="519.30" x2="194.16" y2="521.30" stroke="#111" stroke-width="0.9" /><line x1="199.28" y1="519.30" x2="199.28" y2="521.30" stroke="#111" stroke-width="0.9" /><line x1="203.26" y1="519.30" x2="203.26" y2="521.30" stroke="#111" stroke-width="0.9" /><line x1="206.50" y1="519.30" x2="206.50" y2="521.30" stroke="#111" stroke-width="0.9" /><line x1="209.25" y1="519.30" x2="209.25" y2="521.30" stroke="#111" stroke-width="0.9" /><line x1="211.63" y1="519.30" x2="211.63" y2="521.30" stroke="#111" stroke-width="0.9" /><line x1="213.72" y1="519.30" x2="213.72" y2="521.30" stroke="#111" stroke-width="0.9" /><line x1="215.60" y1="519.30" x2="215.60" y2="523.10" stroke="#111" stroke-width="0.9" /><line x1="227.94" y1="519.30" x2="227.94" y2="521.30" stroke="#111" stroke-width="0.9" /><line x1="57.80" y1="519.30" x2="57.80" y2="521.30" stroke="#111" stroke-width="0.9" /><line x1="62.00" y1="519.30" x2="62.00" y2="521.30" stroke="#111" stroke-width="0.9" /><line x1="66.50" y1="519.30" x2="66.50" y2="521.30" stroke="#111" stroke-width="0.9" /><line x1="70.00" y1="519.30" x2="70.00" y2="521.30" stroke="#111" stroke-width="0.9" /><line x1="73.00" y1="519.30" x2="73.00" y2="521.30" stroke="#111" stroke-width="0.9" /><line x1="75.50" y1="519.30" x2="75.50" y2="521.30" stroke="#111" stroke-width="0.9" /><line x1="80.00" y1="519.30" x2="80.00" y2="521.30" stroke="#111" stroke-width="0.9" /><line x1="82.50" y1="519.30" x2="82.50" y2="521.30" stroke="#111" stroke-width="0.9" /><line x1="85.50" y1="519.30" x2="85.50" y2="521.30" stroke="#111" stroke-width="0.9" /><rect x="67.00" y="519.30" width="22.00" height="1.80" fill="#111"/><rect x="75.50" y="519.30" width="4.50" height="3.20" fill="#111"/><text x="47.40" y="535.30" font-size="6.2" text-anchor="middle" font-weight="normal" fill="#555" >−304</text><text x="70.20" y="535.30" font-size="6.2" text-anchor="end" font-weight="normal" fill="#555" >−10</text><text x="70.60" y="532.30" font-size="3.8" text-anchor="start" font-weight="normal" fill="#555" >2</text><text x="77.50" y="535.30" font-size="6.2" text-anchor="middle" font-weight="normal" fill="#555" >0</text><text x="91.10" y="535.30" font-size="6.2" text-anchor="end" font-weight="normal" fill="#555" >10</text><text x="91.50" y="532.30" font-size="3.8" text-anchor="start" font-weight="normal" fill="#555" >2</text><text x="133.60" y="535.30" font-size="6.2" text-anchor="end" font-weight="normal" fill="#555" >10</text><text x="134.00" y="532.30" font-size="3.8" text-anchor="start" font-weight="normal" fill="#555" >3</text><text x="177.20" y="535.30" font-size="6.2" text-anchor="end" font-weight="normal" fill="#555" >10</text><text x="177.60" y="532.30" font-size="3.8" text-anchor="start" font-weight="normal" fill="#555" >4</text><text x="218.20" y="535.30" font-size="6.2" text-anchor="end" font-weight="normal" fill="#555" >10</text><text x="218.60" y="532.30" font-size="3.8" text-anchor="start" font-weight="normal" fill="#555" >5</text><rect x="42.4" y="522.30" width="5.2" height="5.2" fill="#b8c4f4"/><text x="45.00" y="527.30" font-size="5.6" text-anchor="middle" font-weight="bold" fill="#2040c0" >M</text><line x1="49.50" y1="519.30" x2="49.50" y2="523.50" stroke="#111" stroke-width="1.0" /><line x1="45.10" y1="519.30" x2="49.50" y2="519.30" stroke="#111" stroke-width="1.0" /><line x1="122.80" y1="343.00" x2="122.80" y2="519.30" stroke="#555" stroke-width="0.9" /><line x1="49.50" y1="473.20" x2="232.50" y2="473.20" stroke="#555" stroke-width="0.9" /><rect x="125.50" y="416.40" width="49.00" height="43.50" fill="none" stroke="#c07878" stroke-width="0.9"/><line x1="49.50" y1="343.20" x2="232.50" y2="343.20" stroke="#111" stroke-width="1.2" /><line x1="232.50" y1="343.00" x2="232.50" y2="519.30" stroke="#111" stroke-width="1.2" /><line x1="49.00" y1="519.30" x2="233.10" y2="519.30" stroke="#111" stroke-width="1.6" /><line x1="49.50" y1="342.40" x2="49.50" y2="520.10" stroke="#111" stroke-width="1.6" /></g><text x="130.00" y="336.30" font-size="14.2" text-anchor="start" font-weight="normal" fill="#222"  stroke="#222" stroke-width="0.22">Ctrl</text><text x="56.40" y="404.00" font-size="10.9" text-anchor="start" font-weight="bold" fill="#111" >CD41</text><text x="87.30" y="400.60" font-size="6.2" text-anchor="middle" font-weight="bold" fill="#111" >+</text><text x="137.20" y="410.30" font-size="10.6" text-anchor="start" font-weight="bold" fill="#c41e34" >G1</text><text transform="translate(171.00,442.00) scale(0.93,1)" font-size="12.1" text-anchor="start" font-weight="bold" fill="#111" >CD41</text><text x="200.20" y="437.70" font-size="6.9" text-anchor="start" font-weight="bold" fill="#111" >low</text><g><path d="M97.3 692.9h.9v.9h-.9zM141.9 691.8h.9v.9h-.9zM157.2 706.0h.9v.9h-.9zM105.7 693.2h.9v.9h-.9zM138.0 706.8h.9v.9h-.9zM129.5 713.7h.9v.9h-.9zM137.6 682.9h.9v.9h-.9zM116.2 721.2h.9v.9h-.9zM95.6 705.7h.9v.9h-.9zM159.0 678.6h.9v.9h-.9zM123.3 724.3h.9v.9h-.9zM99.5 706.0h.9v.9h-.9zM111.8 711.2h.9v.9h-.9zM125.4 675.3h.9v.9h-.9zM117.8 712.3h.9v.9h-.9zM104.3 731.8h.9v.9h-.9zM113.4 728.7h.9v.9h-.9zM144.5 726.2h.9v.9h-.9zM119.9 711.3h.9v.9h-.9zM116.7 720.0h.9v.9h-.9zM134.4 662.0h.9v.9h-.9zM129.2 680.0h.9v.9h-.9zM146.9 696.3h.9v.9h-.9zM133.9 672.1h.9v.9h-.9zM89.9 736.3h.9v.9h-.9zM88.0 682.6h.9v.9h-.9zM149.5 699.9h.9v.9h-.9zM111.8 714.2h.9v.9h-.9zM122.1 688.5h.9v.9h-.9zM120.7 701.9h.9v.9h-.9zM140.6 715.4h.9v.9h-.9zM140.0 698.8h.9v.9h-.9zM145.5 714.6h.9v.9h-.9zM91.4 715.0h.9v.9h-.9zM174.0 719.3h.9v.9h-.9zM153.4 691.1h.9v.9h-.9zM141.6 725.5h.9v.9h-.9zM139.8 697.6h.9v.9h-.9zM146.3 679.9h.9v.9h-.9zM116.0 640.9h.9v.9h-.9zM193.4 727.9h.9v.9h-.9zM101.0 696.3h.9v.9h-.9zM116.5 746.5h.9v.9h-.9zM124.5 698.4h.9v.9h-.9zM102.5 762.7h.9v.9h-.9zM134.0 694.4h.9v.9h-.9zM96.3 688.8h.9v.9h-.9zM85.8 721.7h.9v.9h-.9zM120.4 728.2h.9v.9h-.9zM139.3 695.7h.9v.9h-.9zM130.1 695.1h.9v.9h-.9zM96.3 691.7h.9v.9h-.9zM131.5 676.9h.9v.9h-.9zM181.7 713.4h.9v.9h-.9zM88.7 688.8h.9v.9h-.9zM79.6 682.8h.9v.9h-.9zM111.3 713.7h.9v.9h-.9zM120.6 701.4h.9v.9h-.9zM164.6 731.1h.9v.9h-.9zM126.9 748.1h.9v.9h-.9zM106.0 708.5h.9v.9h-.9zM138.4 706.5h.9v.9h-.9zM117.7 641.2h.9v.9h-.9zM108.7 677.7h.9v.9h-.9zM112.6 691.8h.9v.9h-.9zM133.6 665.8h.9v.9h-.9zM129.8 725.2h.9v.9h-.9zM99.6 731.3h.9v.9h-.9zM111.7 705.0h.9v.9h-.9zM149.8 673.4h.9v.9h-.9zM150.4 666.3h.9v.9h-.9zM118.4 683.4h.9v.9h-.9zM109.8 703.1h.9v.9h-.9zM119.4 708.8h.9v.9h-.9zM160.6 723.1h.9v.9h-.9zM105.7 701.8h.9v.9h-.9zM161.5 703.7h.9v.9h-.9zM151.6 672.4h.9v.9h-.9zM139.4 718.8h.9v.9h-.9zM165.4 707.9h.9v.9h-.9zM151.9 714.5h.9v.9h-.9zM119.9 687.1h.9v.9h-.9zM181.9 680.3h.9v.9h-.9zM161.8 676.8h.9v.9h-.9zM84.0 731.8h.9v.9h-.9zM146.2 684.0h.9v.9h-.9zM127.6 739.0h.9v.9h-.9zM141.3 728.1h.9v.9h-.9zM138.1 721.0h.9v.9h-.9zM100.8 676.6h.9v.9h-.9zM102.2 711.2h.9v.9h-.9zM107.8 720.3h.9v.9h-.9zM79.3 710.0h.9v.9h-.9zM131.6 705.8h.9v.9h-.9zM109.3 726.2h.9v.9h-.9zM116.5 687.4h.9v.9h-.9zM106.2 673.9h.9v.9h-.9zM132.5 741.9h.9v.9h-.9zM125.8 699.9h.9v.9h-.9zM147.4 751.7h.9v.9h-.9zM116.9 748.7h.9v.9h-.9zM160.1 749.1h.9v.9h-.9zM62.2 759.7h.9v.9h-.9zM59.9 750.0h.9v.9h-.9zM116.3 746.2h.9v.9h-.9zM122.6 761.6h.9v.9h-.9zM125.2 748.3h.9v.9h-.9zM151.1 748.8h.9v.9h-.9zM120.4 752.3h.9v.9h-.9zM126.3 750.3h.9v.9h-.9zM122.8 734.7h.9v.9h-.9zM103.9 756.2h.9v.9h-.9zM115.0 747.6h.9v.9h-.9zM95.7 750.9h.9v.9h-.9zM103.8 750.3h.9v.9h-.9zM77.3 753.3h.9v.9h-.9zM111.9 746.1h.9v.9h-.9zM126.1 748.1h.9v.9h-.9zM114.0 748.3h.9v.9h-.9zM151.4 760.7h.9v.9h-.9zM119.1 751.9h.9v.9h-.9zM134.8 743.2h.9v.9h-.9zM124.7 752.0h.9v.9h-.9zM139.0 739.8h.9v.9h-.9zM128.6 734.3h.9v.9h-.9zM131.7 738.1h.9v.9h-.9zM142.2 742.8h.9v.9h-.9zM112.4 729.5h.9v.9h-.9zM142.2 738.4h.9v.9h-.9zM121.8 716.6h.9v.9h-.9zM135.4 737.8h.9v.9h-.9zM135.3 737.4h.9v.9h-.9zM123.9 729.3h.9v.9h-.9zM148.3 732.4h.9v.9h-.9zM124.4 727.8h.9v.9h-.9zM157.6 738.0h.9v.9h-.9zM129.2 737.7h.9v.9h-.9zM124.5 733.4h.9v.9h-.9zM123.9 727.2h.9v.9h-.9zM119.0 727.6h.9v.9h-.9zM121.2 738.7h.9v.9h-.9zM163.3 738.1h.9v.9h-.9zM155.7 733.6h.9v.9h-.9zM135.2 745.5h.9v.9h-.9zM153.7 730.8h.9v.9h-.9zM156.0 741.8h.9v.9h-.9zM144.4 734.1h.9v.9h-.9zM135.5 744.3h.9v.9h-.9zM144.5 738.5h.9v.9h-.9zM134.9 741.1h.9v.9h-.9zM135.3 743.1h.9v.9h-.9zM94.7 675.6h.9v.9h-.9zM124.4 675.2h.9v.9h-.9zM107.7 675.9h.9v.9h-.9zM161.0 693.6h.9v.9h-.9zM168.1 687.1h.9v.9h-.9zM154.9 740.1h.9v.9h-.9zM180.4 709.0h.9v.9h-.9zM156.7 681.6h.9v.9h-.9zM124.2 761.9h.9v.9h-.9zM146.7 743.6h.9v.9h-.9zM97.0 667.8h.9v.9h-.9zM156.0 682.8h.9v.9h-.9zM155.8 748.3h.9v.9h-.9zM163.9 712.6h.9v.9h-.9zM138.7 749.1h.9v.9h-.9zM118.8 759.5h.9v.9h-.9zM165.3 698.2h.9v.9h-.9zM104.5 705.2h.9v.9h-.9zM130.2 676.3h.9v.9h-.9zM141.0 669.8h.9v.9h-.9zM138.7 744.1h.9v.9h-.9zM143.4 759.8h.9v.9h-.9zM90.0 677.4h.9v.9h-.9zM157.6 722.0h.9v.9h-.9zM145.4 676.7h.9v.9h-.9zM107.7 748.8h.9v.9h-.9zM120.3 762.1h.9v.9h-.9zM74.4 759.8h.9v.9h-.9zM129.0 759.6h.9v.9h-.9zM82.5 682.3h.9v.9h-.9zM161.6 719.0h.9v.9h-.9zM89.6 749.8h.9v.9h-.9zM161.8 717.5h.9v.9h-.9zM147.4 736.9h.9v.9h-.9zM106.2 708.6h.9v.9h-.9zM105.1 674.7h.9v.9h-.9zM95.5 746.4h.9v.9h-.9zM142.7 678.2h.9v.9h-.9zM149.3 677.5h.9v.9h-.9zM94.1 701.2h.9v.9h-.9zM123.8 677.7h.9v.9h-.9zM72.8 749.1h.9v.9h-.9zM133.7 668.9h.9v.9h-.9zM120.6 767.7h.9v.9h-.9zM101.0 747.8h.9v.9h-.9zM109.7 716.5h.9v.9h-.9zM123.4 677.3h.9v.9h-.9zM140.1 764.2h.9v.9h-.9zM97.0 762.1h.9v.9h-.9zM157.4 758.4h.9v.9h-.9zM104.8 676.9h.9v.9h-.9zM117.9 672.6h.9v.9h-.9zM126.8 760.2h.9v.9h-.9zM135.5 733.5h.9v.9h-.9zM133.5 733.9h.9v.9h-.9zM153.8 745.0h.9v.9h-.9zM117.2 756.9h.9v.9h-.9zM113.2 714.9h.9v.9h-.9zM74.9 753.3h.9v.9h-.9zM115.3 752.4h.9v.9h-.9zM125.4 725.6h.9v.9h-.9zM151.8 677.6h.9v.9h-.9zM158.7 709.5h.9v.9h-.9zM112.5 715.7h.9v.9h-.9zM150.4 671.3h.9v.9h-.9zM121.5 744.4h.9v.9h-.9zM89.8 753.9h.9v.9h-.9zM107.4 670.2h.9v.9h-.9zM91.3 698.8h.9v.9h-.9zM89.8 760.2h.9v.9h-.9zM146.8 759.8h.9v.9h-.9zM93.4 759.1h.9v.9h-.9zM90.4 692.8h.9v.9h-.9zM119.7 746.3h.9v.9h-.9zM161.9 682.1h.9v.9h-.9zM95.7 694.3h.9v.9h-.9zM86.8 751.8h.9v.9h-.9zM130.1 729.4h.9v.9h-.9zM90.2 688.9h.9v.9h-.9zM168.4 698.8h.9v.9h-.9zM114.3 746.3h.9v.9h-.9zM88.9 696.5h.9v.9h-.9zM90.4 690.4h.9v.9h-.9zM103.8 673.2h.9v.9h-.9zM136.6 677.7h.9v.9h-.9zM129.4 676.2h.9v.9h-.9zM154.0 760.9h.9v.9h-.9zM162.1 728.9h.9v.9h-.9zM137.6 738.0h.9v.9h-.9zM152.8 671.0h.9v.9h-.9zM146.0 668.9h.9v.9h-.9zM148.3 737.9h.9v.9h-.9zM155.1 760.9h.9v.9h-.9zM128.4 672.9h.9v.9h-.9zM138.2 765.4h.9v.9h-.9zM147.2 742.9h.9v.9h-.9zM130.9 756.4h.9v.9h-.9zM69.0 759.5h.9v.9h-.9zM115.1 756.3h.9v.9h-.9zM140.8 767.6h.9v.9h-.9zM141.9 673.1h.9v.9h-.9zM159.6 752.5h.9v.9h-.9zM79.7 747.7h.9v.9h-.9zM96.5 747.4h.9v.9h-.9zM164.4 717.7h.9v.9h-.9zM99.9 669.4h.9v.9h-.9zM159.7 758.3h.9v.9h-.9zM81.8 746.4h.9v.9h-.9zM116.4 767.2h.9v.9h-.9zM104.8 661.2h.9v.9h-.9zM84.5 768.2h.9v.9h-.9zM123.0 720.7h.9v.9h-.9zM73.1 751.0h.9v.9h-.9zM156.1 680.6h.9v.9h-.9zM92.1 706.7h.9v.9h-.9zM135.7 736.3h.9v.9h-.9zM113.3 674.4h.9v.9h-.9zM152.9 723.5h.9v.9h-.9zM148.2 762.2h.9v.9h-.9zM182.6 677.7h.9v.9h-.9zM152.4 731.5h.9v.9h-.9zM153.6 745.9h.9v.9h-.9zM87.2 684.2h.9v.9h-.9zM154.7 737.6h.9v.9h-.9zM160.5 693.8h.9v.9h-.9zM88.4 754.9h.9v.9h-.9zM143.1 757.4h.9v.9h-.9zM119.6 721.8h.9v.9h-.9zM152.0 674.3h.9v.9h-.9zM159.3 713.7h.9v.9h-.9zM161.9 696.5h.9v.9h-.9zM109.1 723.1h.9v.9h-.9zM144.3 758.1h.9v.9h-.9zM122.4 723.4h.9v.9h-.9zM75.4 750.0h.9v.9h-.9zM155.0 677.1h.9v.9h-.9zM136.6 736.7h.9v.9h-.9zM157.5 754.4h.9v.9h-.9zM149.3 730.8h.9v.9h-.9zM159.5 707.5h.9v.9h-.9zM100.4 703.3h.9v.9h-.9zM138.6 767.3h.9v.9h-.9zM159.1 759.3h.9v.9h-.9zM135.7 758.0h.9v.9h-.9zM138.9 672.0h.9v.9h-.9zM132.7 674.2h.9v.9h-.9zM159.5 722.7h.9v.9h-.9zM148.8 749.1h.9v.9h-.9zM121.7 747.6h.9v.9h-.9zM153.7 733.3h.9v.9h-.9zM145.6 738.8h.9v.9h-.9zM162.6 709.4h.9v.9h-.9zM83.0 684.0h.9v.9h-.9zM93.6 676.6h.9v.9h-.9zM162.7 756.6h.9v.9h-.9zM122.3 678.0h.9v.9h-.9zM154.0 764.3h.9v.9h-.9zM106.7 747.4h.9v.9h-.9zM90.6 751.0h.9v.9h-.9zM97.6 746.9h.9v.9h-.9zM120.8 667.4h.9v.9h-.9zM93.0 753.2h.9v.9h-.9zM155.3 678.6h.9v.9h-.9zM162.0 697.6h.9v.9h-.9zM85.0 770.4h.9v.9h-.9zM146.6 744.5h.9v.9h-.9zM115.0 750.8h.9v.9h-.9zM105.5 682.2h.9v.9h-.9zM133.1 742.3h.9v.9h-.9zM104.2 751.9h.9v.9h-.9zM132.1 754.1h.9v.9h-.9zM130.7 771.1h.9v.9h-.9zM133.2 745.5h.9v.9h-.9zM152.3 747.0h.9v.9h-.9zM69.7 755.9h.9v.9h-.9zM122.3 666.7h.9v.9h-.9zM161.8 703.3h.9v.9h-.9zM159.2 755.1h.9v.9h-.9zM152.4 745.5h.9v.9h-.9zM103.8 749.3h.9v.9h-.9zM131.4 759.8h.9v.9h-.9zM78.1 758.6h.9v.9h-.9zM76.6 757.9h.9v.9h-.9zM128.5 746.2h.9v.9h-.9zM143.6 764.6h.9v.9h-.9zM154.2 731.2h.9v.9h-.9zM84.8 770.5h.9v.9h-.9zM114.9 749.1h.9v.9h-.9zM133.5 750.9h.9v.9h-.9zM183.6 695.4h.9v.9h-.9zM162.0 691.3h.9v.9h-.9zM130.6 764.0h.9v.9h-.9zM103.1 676.4h.9v.9h-.9zM127.1 674.4h.9v.9h-.9zM96.4 681.7h.9v.9h-.9zM137.2 758.8h.9v.9h-.9zM155.5 724.1h.9v.9h-.9zM76.2 748.1h.9v.9h-.9zM155.1 718.7h.9v.9h-.9zM139.2 758.2h.9v.9h-.9zM82.4 747.0h.9v.9h-.9zM92.9 765.0h.9v.9h-.9zM159.9 712.5h.9v.9h-.9zM163.4 702.6h.9v.9h-.9zM81.4 688.1h.9v.9h-.9zM110.6 755.8h.9v.9h-.9zM103.9 763.6h.9v.9h-.9zM138.8 762.3h.9v.9h-.9zM106.7 673.0h.9v.9h-.9zM94.1 693.1h.9v.9h-.9zM89.0 758.7h.9v.9h-.9zM156.4 728.4h.9v.9h-.9zM141.4 762.5h.9v.9h-.9zM139.8 671.5h.9v.9h-.9zM80.6 747.5h.9v.9h-.9zM104.2 746.2h.9v.9h-.9zM113.2 748.3h.9v.9h-.9zM130.2 740.5h.9v.9h-.9zM153.1 728.1h.9v.9h-.9zM94.2 702.7h.9v.9h-.9zM109.5 713.0h.9v.9h-.9zM138.5 764.9h.9v.9h-.9zM98.1 749.1h.9v.9h-.9zM104.9 677.0h.9v.9h-.9zM143.6 760.1h.9v.9h-.9zM153.5 761.1h.9v.9h-.9zM121.0 758.0h.9v.9h-.9zM91.0 749.1h.9v.9h-.9zM157.6 735.6h.9v.9h-.9zM92.7 657.8h.9v.9h-.9zM170.1 711.6h.9v.9h-.9zM136.1 771.5h.9v.9h-.9zM167.9 745.3h.9v.9h-.9zM106.6 761.0h.9v.9h-.9zM155.2 756.5h.9v.9h-.9zM81.4 747.5h.9v.9h-.9zM153.8 756.3h.9v.9h-.9zM155.1 732.1h.9v.9h-.9zM104.4 749.3h.9v.9h-.9zM159.8 713.8h.9v.9h-.9zM132.1 731.9h.9v.9h-.9zM79.8 746.9h.9v.9h-.9zM101.0 757.6h.9v.9h-.9zM69.4 750.5h.9v.9h-.9zM102.5 680.8h.9v.9h-.9zM116.1 761.2h.9v.9h-.9zM158.1 753.7h.9v.9h-.9zM73.8 751.2h.9v.9h-.9zM70.6 680.1h.9v.9h-.9zM133.9 670.7h.9v.9h-.9zM157.2 723.5h.9v.9h-.9zM163.1 755.1h.9v.9h-.9zM79.0 745.2h.9v.9h-.9zM92.0 760.0h.9v.9h-.9zM79.7 750.0h.9v.9h-.9zM164.9 691.4h.9v.9h-.9zM149.0 749.0h.9v.9h-.9zM170.7 705.6h.9v.9h-.9zM149.1 747.0h.9v.9h-.9zM95.5 748.5h.9v.9h-.9zM122.0 749.3h.9v.9h-.9zM76.5 745.8h.9v.9h-.9zM138.4 767.2h.9v.9h-.9zM138.1 669.4h.9v.9h-.9zM120.8 722.6h.9v.9h-.9zM105.4 676.0h.9v.9h-.9zM100.3 758.9h.9v.9h-.9zM147.5 757.7h.9v.9h-.9zM157.6 661.6h.9v.9h-.9zM112.0 716.9h.9v.9h-.9zM151.4 745.7h.9v.9h-.9zM93.3 690.0h.9v.9h-.9z" fill="#98a4dc"/><path d="M79.0 710.4h.9v.9h-.9zM119.8 665.0h.9v.9h-.9zM113.8 693.6h.9v.9h-.9zM138.3 706.3h.9v.9h-.9zM112.3 692.9h.9v.9h-.9zM147.8 686.9h.9v.9h-.9zM127.2 717.3h.9v.9h-.9zM133.2 705.2h.9v.9h-.9zM122.1 695.7h.9v.9h-.9zM139.9 715.8h.9v.9h-.9zM151.4 698.2h.9v.9h-.9zM124.5 706.7h.9v.9h-.9zM108.3 712.5h.9v.9h-.9zM114.4 687.8h.9v.9h-.9zM175.2 696.3h.9v.9h-.9zM170.0 678.5h.9v.9h-.9zM93.5 701.9h.9v.9h-.9zM168.7 719.3h.9v.9h-.9zM122.7 703.6h.9v.9h-.9zM156.3 693.6h.9v.9h-.9zM113.8 664.3h.9v.9h-.9zM161.3 705.3h.9v.9h-.9zM175.1 679.7h.9v.9h-.9zM127.3 699.1h.9v.9h-.9zM91.0 736.2h.9v.9h-.9zM154.4 745.5h.9v.9h-.9zM88.3 721.9h.9v.9h-.9zM123.3 705.4h.9v.9h-.9zM141.8 705.9h.9v.9h-.9zM164.2 697.3h.9v.9h-.9zM108.2 679.1h.9v.9h-.9zM172.9 711.6h.9v.9h-.9zM147.9 721.5h.9v.9h-.9zM136.9 681.4h.9v.9h-.9zM138.6 675.5h.9v.9h-.9zM139.5 731.2h.9v.9h-.9zM137.2 709.1h.9v.9h-.9zM129.3 713.3h.9v.9h-.9zM129.5 720.7h.9v.9h-.9zM125.8 693.6h.9v.9h-.9zM128.8 690.9h.9v.9h-.9zM127.4 701.4h.9v.9h-.9zM120.0 683.4h.9v.9h-.9zM115.2 710.9h.9v.9h-.9zM113.3 691.9h.9v.9h-.9zM127.9 723.4h.9v.9h-.9zM118.0 696.5h.9v.9h-.9zM145.5 689.8h.9v.9h-.9zM118.1 716.1h.9v.9h-.9zM150.5 733.0h.9v.9h-.9zM178.4 715.5h.9v.9h-.9zM147.3 695.0h.9v.9h-.9zM159.7 715.2h.9v.9h-.9zM93.1 724.1h.9v.9h-.9zM162.4 706.7h.9v.9h-.9zM112.8 708.3h.9v.9h-.9zM161.7 761.7h.9v.9h-.9zM148.4 711.7h.9v.9h-.9zM142.5 673.7h.9v.9h-.9zM116.9 722.2h.9v.9h-.9zM127.0 685.8h.9v.9h-.9zM96.5 728.4h.9v.9h-.9zM151.5 731.9h.9v.9h-.9zM171.9 757.7h.9v.9h-.9zM179.7 727.8h.9v.9h-.9zM78.7 726.1h.9v.9h-.9zM135.4 692.3h.9v.9h-.9zM151.3 730.2h.9v.9h-.9zM144.2 718.1h.9v.9h-.9zM119.1 654.4h.9v.9h-.9zM143.3 697.1h.9v.9h-.9zM138.2 666.1h.9v.9h-.9zM113.1 681.7h.9v.9h-.9zM153.3 673.7h.9v.9h-.9zM157.2 725.6h.9v.9h-.9zM157.7 707.1h.9v.9h-.9zM92.9 699.9h.9v.9h-.9zM89.3 718.7h.9v.9h-.9zM112.1 657.3h.9v.9h-.9zM158.9 725.8h.9v.9h-.9zM135.5 671.1h.9v.9h-.9zM99.8 702.0h.9v.9h-.9zM67.8 749.7h.9v.9h-.9zM139.6 754.4h.9v.9h-.9zM143.5 747.4h.9v.9h-.9zM112.5 754.2h.9v.9h-.9zM140.5 750.9h.9v.9h-.9zM116.9 749.1h.9v.9h-.9zM103.1 757.7h.9v.9h-.9zM153.3 751.9h.9v.9h-.9zM122.3 758.8h.9v.9h-.9zM99.3 755.4h.9v.9h-.9zM139.2 754.1h.9v.9h-.9zM105.6 762.6h.9v.9h-.9zM133.9 747.2h.9v.9h-.9zM61.0 760.6h.9v.9h-.9zM121.0 756.1h.9v.9h-.9zM139.1 749.3h.9v.9h-.9zM100.5 748.8h.9v.9h-.9zM123.2 754.3h.9v.9h-.9zM135.4 748.5h.9v.9h-.9zM66.7 745.3h.9v.9h-.9zM113.7 752.5h.9v.9h-.9zM75.8 751.9h.9v.9h-.9zM121.3 751.5h.9v.9h-.9zM107.6 748.4h.9v.9h-.9zM75.4 749.8h.9v.9h-.9zM131.8 751.4h.9v.9h-.9zM122.0 746.5h.9v.9h-.9zM119.7 750.9h.9v.9h-.9zM115.9 751.5h.9v.9h-.9zM127.9 735.8h.9v.9h-.9zM150.7 736.7h.9v.9h-.9zM145.3 720.4h.9v.9h-.9zM132.9 725.6h.9v.9h-.9zM148.5 743.0h.9v.9h-.9zM128.3 742.7h.9v.9h-.9zM123.0 735.5h.9v.9h-.9zM145.8 730.0h.9v.9h-.9zM151.9 736.5h.9v.9h-.9zM147.1 740.4h.9v.9h-.9zM119.8 734.4h.9v.9h-.9zM143.6 749.4h.9v.9h-.9zM165.6 732.0h.9v.9h-.9zM177.3 730.4h.9v.9h-.9zM140.7 734.8h.9v.9h-.9zM122.8 714.5h.9v.9h-.9zM101.5 723.9h.9v.9h-.9zM142.5 724.4h.9v.9h-.9zM156.8 740.7h.9v.9h-.9zM166.5 743.5h.9v.9h-.9zM84.8 762.9h.9v.9h-.9zM89.7 760.5h.9v.9h-.9zM110.7 760.0h.9v.9h-.9zM124.6 675.8h.9v.9h-.9zM97.9 748.4h.9v.9h-.9zM109.0 672.7h.9v.9h-.9zM122.0 744.7h.9v.9h-.9zM110.0 678.8h.9v.9h-.9zM167.8 706.0h.9v.9h-.9zM70.1 762.7h.9v.9h-.9zM113.2 754.2h.9v.9h-.9zM133.9 740.7h.9v.9h-.9zM97.7 760.4h.9v.9h-.9zM104.5 674.8h.9v.9h-.9zM87.6 745.1h.9v.9h-.9zM102.5 761.8h.9v.9h-.9zM92.6 691.6h.9v.9h-.9zM142.3 764.3h.9v.9h-.9zM151.4 676.5h.9v.9h-.9zM157.1 748.9h.9v.9h-.9zM108.0 677.5h.9v.9h-.9zM161.8 762.0h.9v.9h-.9zM127.5 676.9h.9v.9h-.9zM103.8 709.0h.9v.9h-.9zM78.8 758.3h.9v.9h-.9zM90.4 689.5h.9v.9h-.9zM113.3 676.7h.9v.9h-.9zM163.9 705.3h.9v.9h-.9zM156.1 727.8h.9v.9h-.9zM92.6 758.8h.9v.9h-.9zM100.7 705.9h.9v.9h-.9zM87.0 747.4h.9v.9h-.9zM117.5 722.1h.9v.9h-.9zM114.3 661.6h.9v.9h-.9zM146.6 734.4h.9v.9h-.9zM109.7 759.8h.9v.9h-.9zM150.9 745.3h.9v.9h-.9zM162.2 688.4h.9v.9h-.9zM156.2 748.2h.9v.9h-.9zM117.3 766.0h.9v.9h-.9zM160.3 691.1h.9v.9h-.9zM72.1 750.2h.9v.9h-.9zM82.9 748.9h.9v.9h-.9zM163.2 754.3h.9v.9h-.9zM158.1 751.3h.9v.9h-.9zM162.2 701.9h.9v.9h-.9zM158.2 687.8h.9v.9h-.9zM91.0 684.1h.9v.9h-.9zM83.1 752.5h.9v.9h-.9zM123.4 762.5h.9v.9h-.9zM135.0 750.0h.9v.9h-.9zM140.6 757.8h.9v.9h-.9zM147.9 742.1h.9v.9h-.9zM82.1 759.3h.9v.9h-.9zM96.9 765.6h.9v.9h-.9zM161.6 682.2h.9v.9h-.9zM159.1 709.8h.9v.9h-.9zM98.2 691.0h.9v.9h-.9zM127.0 679.1h.9v.9h-.9zM103.4 703.4h.9v.9h-.9zM152.4 722.6h.9v.9h-.9zM73.4 749.0h.9v.9h-.9zM117.4 715.5h.9v.9h-.9zM152.0 726.9h.9v.9h-.9zM83.3 758.4h.9v.9h-.9zM110.4 749.4h.9v.9h-.9zM138.6 674.5h.9v.9h-.9zM91.1 747.0h.9v.9h-.9zM126.9 728.3h.9v.9h-.9zM73.2 752.9h.9v.9h-.9zM136.7 739.0h.9v.9h-.9zM108.0 716.6h.9v.9h-.9zM98.0 767.8h.9v.9h-.9zM113.9 719.8h.9v.9h-.9zM95.0 746.9h.9v.9h-.9zM150.1 742.6h.9v.9h-.9zM178.5 714.9h.9v.9h-.9zM111.3 746.1h.9v.9h-.9zM160.3 688.9h.9v.9h-.9zM94.4 760.5h.9v.9h-.9zM154.5 750.9h.9v.9h-.9zM142.0 762.3h.9v.9h-.9zM117.0 760.8h.9v.9h-.9zM135.0 758.1h.9v.9h-.9zM159.4 690.7h.9v.9h-.9zM157.3 769.5h.9v.9h-.9zM79.8 750.5h.9v.9h-.9zM134.9 761.1h.9v.9h-.9zM121.9 730.6h.9v.9h-.9zM118.4 672.9h.9v.9h-.9zM103.8 675.7h.9v.9h-.9zM153.0 758.9h.9v.9h-.9zM90.8 696.6h.9v.9h-.9zM137.9 746.3h.9v.9h-.9zM155.5 681.7h.9v.9h-.9zM162.8 692.0h.9v.9h-.9zM126.8 760.0h.9v.9h-.9zM150.3 676.4h.9v.9h-.9zM116.0 761.5h.9v.9h-.9zM160.1 756.0h.9v.9h-.9zM66.0 752.6h.9v.9h-.9zM115.2 675.5h.9v.9h-.9zM160.4 713.3h.9v.9h-.9zM136.1 735.2h.9v.9h-.9zM75.8 759.2h.9v.9h-.9zM93.1 693.0h.9v.9h-.9zM108.4 747.1h.9v.9h-.9zM70.8 760.1h.9v.9h-.9zM105.0 677.0h.9v.9h-.9zM132.0 757.3h.9v.9h-.9zM108.2 758.1h.9v.9h-.9zM150.5 745.3h.9v.9h-.9zM130.5 677.9h.9v.9h-.9zM159.9 703.4h.9v.9h-.9zM134.3 747.5h.9v.9h-.9zM142.2 668.0h.9v.9h-.9zM160.4 693.9h.9v.9h-.9zM143.8 757.6h.9v.9h-.9zM118.4 677.8h.9v.9h-.9zM135.3 742.1h.9v.9h-.9zM99.2 702.5h.9v.9h-.9zM117.5 678.9h.9v.9h-.9zM120.2 758.5h.9v.9h-.9zM151.5 748.0h.9v.9h-.9zM159.1 756.7h.9v.9h-.9zM113.0 676.3h.9v.9h-.9zM88.4 746.2h.9v.9h-.9zM163.8 705.6h.9v.9h-.9zM144.1 757.6h.9v.9h-.9zM74.6 751.5h.9v.9h-.9zM162.6 760.4h.9v.9h-.9zM113.9 746.6h.9v.9h-.9zM131.5 725.9h.9v.9h-.9zM109.1 749.2h.9v.9h-.9zM105.2 680.5h.9v.9h-.9zM85.7 759.9h.9v.9h-.9zM165.0 685.3h.9v.9h-.9zM156.1 756.2h.9v.9h-.9zM174.9 673.5h.9v.9h-.9zM91.8 687.1h.9v.9h-.9zM156.7 749.1h.9v.9h-.9zM148.8 672.8h.9v.9h-.9zM103.0 767.4h.9v.9h-.9zM105.0 667.3h.9v.9h-.9zM79.4 748.9h.9v.9h-.9zM155.0 761.8h.9v.9h-.9zM154.7 678.9h.9v.9h-.9zM163.3 700.5h.9v.9h-.9zM117.3 723.1h.9v.9h-.9zM121.2 761.5h.9v.9h-.9zM91.7 687.1h.9v.9h-.9zM134.6 736.3h.9v.9h-.9zM109.8 715.3h.9v.9h-.9zM82.8 754.5h.9v.9h-.9zM76.8 747.3h.9v.9h-.9zM102.1 760.8h.9v.9h-.9zM158.5 713.6h.9v.9h-.9zM149.2 734.7h.9v.9h-.9zM122.9 761.8h.9v.9h-.9zM120.2 750.7h.9v.9h-.9zM60.6 757.4h.9v.9h-.9zM78.8 758.2h.9v.9h-.9zM108.9 676.5h.9v.9h-.9zM169.1 690.7h.9v.9h-.9zM101.2 748.5h.9v.9h-.9zM76.9 754.2h.9v.9h-.9zM58.2 759.3h.9v.9h-.9zM120.3 675.6h.9v.9h-.9zM92.9 748.7h.9v.9h-.9zM133.0 668.9h.9v.9h-.9zM165.6 761.2h.9v.9h-.9zM150.3 746.8h.9v.9h-.9zM87.3 761.0h.9v.9h-.9zM163.0 676.4h.9v.9h-.9zM106.6 678.2h.9v.9h-.9zM99.8 759.3h.9v.9h-.9zM145.8 756.1h.9v.9h-.9zM95.8 692.9h.9v.9h-.9zM159.7 696.3h.9v.9h-.9zM125.5 745.7h.9v.9h-.9zM160.1 683.6h.9v.9h-.9zM155.6 719.5h.9v.9h-.9zM118.2 749.2h.9v.9h-.9zM108.0 722.0h.9v.9h-.9zM151.5 722.5h.9v.9h-.9zM93.8 760.2h.9v.9h-.9zM72.0 751.9h.9v.9h-.9zM161.4 700.9h.9v.9h-.9zM133.6 749.9h.9v.9h-.9zM77.1 757.0h.9v.9h-.9zM113.5 766.9h.9v.9h-.9zM77.3 761.8h.9v.9h-.9zM110.6 756.1h.9v.9h-.9zM133.0 675.4h.9v.9h-.9zM115.0 676.2h.9v.9h-.9zM119.1 670.9h.9v.9h-.9zM154.2 681.7h.9v.9h-.9zM98.3 753.3h.9v.9h-.9zM94.9 690.3h.9v.9h-.9zM161.3 756.4h.9v.9h-.9zM156.2 747.6h.9v.9h-.9zM157.0 760.1h.9v.9h-.9zM73.3 762.8h.9v.9h-.9zM104.6 681.7h.9v.9h-.9zM133.7 676.5h.9v.9h-.9zM89.7 760.1h.9v.9h-.9zM140.4 759.2h.9v.9h-.9zM156.7 677.1h.9v.9h-.9zM85.0 687.2h.9v.9h-.9zM119.0 724.5h.9v.9h-.9zM137.0 744.9h.9v.9h-.9zM106.8 711.6h.9v.9h-.9zM126.7 748.0h.9v.9h-.9zM150.7 676.9h.9v.9h-.9zM150.2 744.4h.9v.9h-.9zM126.5 737.2h.9v.9h-.9zM97.7 757.8h.9v.9h-.9zM162.1 696.9h.9v.9h-.9zM156.0 762.6h.9v.9h-.9zM83.8 744.8h.9v.9h-.9zM94.3 757.8h.9v.9h-.9zM161.6 759.0h.9v.9h-.9zM139.2 769.6h.9v.9h-.9zM150.3 726.4h.9v.9h-.9zM154.7 719.3h.9v.9h-.9zM136.1 675.4h.9v.9h-.9zM115.8 769.7h.9v.9h-.9zM162.0 676.9h.9v.9h-.9zM71.3 764.3h.9v.9h-.9zM89.9 757.7h.9v.9h-.9zM144.3 759.4h.9v.9h-.9zM106.5 751.7h.9v.9h-.9zM93.8 746.9h.9v.9h-.9zM65.7 752.6h.9v.9h-.9zM121.4 760.1h.9v.9h-.9zM172.2 711.7h.9v.9h-.9zM112.4 765.9h.9v.9h-.9zM127.2 673.4h.9v.9h-.9zM117.2 676.6h.9v.9h-.9zM112.6 657.1h.9v.9h-.9zM81.7 757.8h.9v.9h-.9zM145.8 746.3h.9v.9h-.9zM86.7 683.4h.9v.9h-.9zM165.0 702.3h.9v.9h-.9zM77.3 763.6h.9v.9h-.9zM125.6 749.6h.9v.9h-.9zM80.4 758.4h.9v.9h-.9zM105.2 752.5h.9v.9h-.9zM147.0 735.6h.9v.9h-.9zM163.2 713.3h.9v.9h-.9zM127.8 748.3h.9v.9h-.9zM104.6 681.5h.9v.9h-.9zM82.2 746.7h.9v.9h-.9zM144.3 676.2h.9v.9h-.9zM117.4 713.6h.9v.9h-.9zM112.0 759.9h.9v.9h-.9zM127.9 723.8h.9v.9h-.9zM125.2 748.8h.9v.9h-.9zM126.6 759.7h.9v.9h-.9zM81.0 757.8h.9v.9h-.9zM89.4 689.3h.9v.9h-.9zM82.6 757.5h.9v.9h-.9zM152.8 720.7h.9v.9h-.9zM109.1 679.6h.9v.9h-.9zM148.3 672.8h.9v.9h-.9zM89.8 676.0h.9v.9h-.9zM160.3 683.5h.9v.9h-.9zM150.7 723.8h.9v.9h-.9zM117.0 661.4h.9v.9h-.9zM153.9 674.6h.9v.9h-.9zM93.2 748.8h.9v.9h-.9zM67.2 760.6h.9v.9h-.9zM129.0 675.2h.9v.9h-.9zM107.7 712.8h.9v.9h-.9zM132.4 757.0h.9v.9h-.9zM118.6 675.4h.9v.9h-.9z" fill="#b4bad8"/><path d="M179.7 699.4h.9v.9h-.9zM135.8 690.1h.9v.9h-.9zM128.0 694.7h.9v.9h-.9zM131.5 681.2h.9v.9h-.9zM137.8 708.4h.9v.9h-.9zM152.6 705.4h.9v.9h-.9zM101.8 710.9h.9v.9h-.9zM97.2 726.9h.9v.9h-.9zM179.4 693.4h.9v.9h-.9zM88.0 719.7h.9v.9h-.9zM57.3 675.6h.9v.9h-.9zM91.2 665.4h.9v.9h-.9zM140.3 712.8h.9v.9h-.9zM127.7 726.3h.9v.9h-.9zM79.1 662.7h.9v.9h-.9zM141.0 683.4h.9v.9h-.9zM148.9 692.8h.9v.9h-.9zM108.6 710.4h.9v.9h-.9zM138.2 714.2h.9v.9h-.9zM97.0 699.2h.9v.9h-.9zM148.3 701.2h.9v.9h-.9zM96.5 729.6h.9v.9h-.9zM108.2 705.2h.9v.9h-.9zM91.4 706.2h.9v.9h-.9zM137.4 711.3h.9v.9h-.9zM157.7 709.8h.9v.9h-.9zM127.1 724.0h.9v.9h-.9zM130.0 714.7h.9v.9h-.9zM171.1 686.5h.9v.9h-.9zM143.0 716.7h.9v.9h-.9zM142.8 679.0h.9v.9h-.9zM162.3 681.6h.9v.9h-.9zM120.0 694.5h.9v.9h-.9zM142.6 694.7h.9v.9h-.9zM127.9 696.0h.9v.9h-.9zM132.8 716.4h.9v.9h-.9zM178.6 711.6h.9v.9h-.9zM125.7 703.6h.9v.9h-.9zM142.6 704.2h.9v.9h-.9zM151.6 696.9h.9v.9h-.9zM158.9 684.1h.9v.9h-.9zM114.6 737.5h.9v.9h-.9zM124.0 667.8h.9v.9h-.9zM152.2 743.0h.9v.9h-.9zM112.0 691.6h.9v.9h-.9zM117.7 705.4h.9v.9h-.9zM150.3 658.8h.9v.9h-.9zM125.7 704.0h.9v.9h-.9zM129.5 705.2h.9v.9h-.9zM185.2 694.7h.9v.9h-.9zM149.9 707.2h.9v.9h-.9zM117.6 719.7h.9v.9h-.9zM103.1 721.0h.9v.9h-.9zM96.1 703.1h.9v.9h-.9zM115.9 715.7h.9v.9h-.9zM94.2 705.0h.9v.9h-.9zM85.1 694.1h.9v.9h-.9zM92.4 664.6h.9v.9h-.9zM107.5 686.5h.9v.9h-.9zM109.5 687.3h.9v.9h-.9zM126.0 708.0h.9v.9h-.9zM112.1 705.7h.9v.9h-.9zM123.0 693.5h.9v.9h-.9zM115.5 713.5h.9v.9h-.9zM155.9 720.1h.9v.9h-.9zM115.5 731.4h.9v.9h-.9zM141.1 695.8h.9v.9h-.9zM134.9 707.7h.9v.9h-.9zM122.3 698.3h.9v.9h-.9zM130.7 708.1h.9v.9h-.9zM135.1 704.3h.9v.9h-.9zM118.4 718.0h.9v.9h-.9zM136.7 695.1h.9v.9h-.9zM146.1 668.3h.9v.9h-.9zM126.8 677.1h.9v.9h-.9zM144.0 701.2h.9v.9h-.9zM143.5 714.8h.9v.9h-.9zM140.1 723.7h.9v.9h-.9zM160.3 729.0h.9v.9h-.9zM125.4 702.9h.9v.9h-.9zM107.6 676.3h.9v.9h-.9zM118.2 700.9h.9v.9h-.9zM166.4 716.6h.9v.9h-.9zM157.4 715.6h.9v.9h-.9zM125.8 695.3h.9v.9h-.9zM119.5 719.3h.9v.9h-.9zM170.8 669.5h.9v.9h-.9zM150.7 692.6h.9v.9h-.9zM146.5 741.0h.9v.9h-.9zM94.3 698.2h.9v.9h-.9zM125.2 723.9h.9v.9h-.9zM130.8 725.6h.9v.9h-.9zM146.2 721.3h.9v.9h-.9zM123.2 727.0h.9v.9h-.9zM129.0 713.6h.9v.9h-.9zM118.6 707.0h.9v.9h-.9zM118.8 721.4h.9v.9h-.9zM151.3 682.4h.9v.9h-.9zM158.0 752.3h.9v.9h-.9zM108.9 764.2h.9v.9h-.9zM196.6 758.5h.9v.9h-.9zM142.2 756.2h.9v.9h-.9zM129.9 758.5h.9v.9h-.9zM139.8 764.4h.9v.9h-.9zM116.4 746.9h.9v.9h-.9zM115.5 746.8h.9v.9h-.9zM117.8 753.4h.9v.9h-.9zM112.7 753.0h.9v.9h-.9zM110.9 753.5h.9v.9h-.9zM144.2 748.7h.9v.9h-.9zM102.9 750.8h.9v.9h-.9zM122.3 758.0h.9v.9h-.9zM115.8 757.2h.9v.9h-.9zM111.2 753.8h.9v.9h-.9zM130.0 753.6h.9v.9h-.9zM103.1 757.5h.9v.9h-.9zM103.3 756.8h.9v.9h-.9zM149.6 748.5h.9v.9h-.9zM108.3 751.8h.9v.9h-.9zM97.9 752.3h.9v.9h-.9zM114.2 751.9h.9v.9h-.9zM130.1 755.1h.9v.9h-.9zM131.8 744.2h.9v.9h-.9zM132.3 751.8h.9v.9h-.9zM144.6 751.6h.9v.9h-.9zM146.6 753.2h.9v.9h-.9zM138.4 755.8h.9v.9h-.9zM114.1 755.9h.9v.9h-.9zM128.1 755.4h.9v.9h-.9zM132.6 755.1h.9v.9h-.9zM131.0 746.7h.9v.9h-.9zM147.4 752.9h.9v.9h-.9zM90.5 746.5h.9v.9h-.9zM114.0 756.6h.9v.9h-.9zM98.2 751.7h.9v.9h-.9zM120.3 746.0h.9v.9h-.9zM187.2 749.3h.9v.9h-.9zM77.1 754.8h.9v.9h-.9zM87.8 758.7h.9v.9h-.9zM131.0 754.5h.9v.9h-.9zM141.7 751.2h.9v.9h-.9zM112.3 741.5h.9v.9h-.9zM141.5 749.4h.9v.9h-.9zM165.2 760.2h.9v.9h-.9zM131.3 761.7h.9v.9h-.9zM137.9 730.5h.9v.9h-.9zM127.0 742.9h.9v.9h-.9zM159.7 741.9h.9v.9h-.9zM132.8 745.8h.9v.9h-.9zM142.2 731.0h.9v.9h-.9zM116.5 741.3h.9v.9h-.9zM143.4 731.8h.9v.9h-.9zM137.4 747.6h.9v.9h-.9zM150.8 738.4h.9v.9h-.9zM145.8 720.8h.9v.9h-.9zM144.8 742.9h.9v.9h-.9zM135.8 736.3h.9v.9h-.9zM141.3 745.5h.9v.9h-.9zM152.4 723.2h.9v.9h-.9zM123.2 739.8h.9v.9h-.9zM138.4 744.5h.9v.9h-.9zM177.7 733.1h.9v.9h-.9zM159.0 733.8h.9v.9h-.9zM160.7 742.0h.9v.9h-.9zM145.5 741.9h.9v.9h-.9zM151.7 718.2h.9v.9h-.9zM136.1 728.1h.9v.9h-.9zM145.1 739.0h.9v.9h-.9zM90.8 685.8h.9v.9h-.9zM136.2 735.0h.9v.9h-.9zM131.0 759.4h.9v.9h-.9zM104.5 707.6h.9v.9h-.9zM91.9 683.4h.9v.9h-.9zM113.3 674.7h.9v.9h-.9zM108.2 679.5h.9v.9h-.9zM103.1 716.8h.9v.9h-.9zM113.9 760.8h.9v.9h-.9zM131.3 761.8h.9v.9h-.9zM85.5 748.9h.9v.9h-.9zM139.2 675.3h.9v.9h-.9zM137.6 668.9h.9v.9h-.9zM100.7 680.6h.9v.9h-.9zM140.3 749.1h.9v.9h-.9zM71.2 750.9h.9v.9h-.9zM94.4 679.2h.9v.9h-.9zM130.5 748.7h.9v.9h-.9zM93.4 757.9h.9v.9h-.9zM112.1 718.8h.9v.9h-.9zM154.9 678.4h.9v.9h-.9zM150.1 739.6h.9v.9h-.9zM146.6 673.2h.9v.9h-.9zM114.8 668.6h.9v.9h-.9zM84.1 748.1h.9v.9h-.9zM150.0 730.1h.9v.9h-.9zM85.6 770.4h.9v.9h-.9zM93.2 678.5h.9v.9h-.9zM151.3 739.7h.9v.9h-.9zM125.9 676.8h.9v.9h-.9zM93.9 749.1h.9v.9h-.9zM84.4 762.9h.9v.9h-.9zM151.1 675.8h.9v.9h-.9zM99.8 707.8h.9v.9h-.9zM125.7 754.2h.9v.9h-.9zM140.6 759.9h.9v.9h-.9zM162.8 732.3h.9v.9h-.9zM107.8 712.0h.9v.9h-.9zM150.8 736.3h.9v.9h-.9zM154.5 733.1h.9v.9h-.9zM91.6 752.3h.9v.9h-.9zM155.0 727.0h.9v.9h-.9zM164.8 706.6h.9v.9h-.9zM133.8 676.4h.9v.9h-.9zM164.6 759.5h.9v.9h-.9zM105.3 703.6h.9v.9h-.9zM136.8 752.9h.9v.9h-.9zM103.9 702.3h.9v.9h-.9zM132.5 728.2h.9v.9h-.9zM79.0 753.2h.9v.9h-.9zM147.1 675.5h.9v.9h-.9zM89.5 757.2h.9v.9h-.9zM128.1 756.7h.9v.9h-.9zM74.5 750.5h.9v.9h-.9zM103.9 743.7h.9v.9h-.9zM93.5 686.1h.9v.9h-.9zM114.1 747.5h.9v.9h-.9zM88.1 745.7h.9v.9h-.9zM92.3 748.1h.9v.9h-.9zM110.1 759.1h.9v.9h-.9zM129.4 757.7h.9v.9h-.9zM111.4 748.6h.9v.9h-.9zM114.5 747.9h.9v.9h-.9zM101.0 701.4h.9v.9h-.9zM72.9 748.5h.9v.9h-.9zM141.6 748.9h.9v.9h-.9zM70.3 755.1h.9v.9h-.9zM84.7 694.4h.9v.9h-.9zM161.6 709.3h.9v.9h-.9zM132.8 746.9h.9v.9h-.9zM91.9 761.5h.9v.9h-.9zM122.3 747.0h.9v.9h-.9zM129.5 727.8h.9v.9h-.9zM158.5 753.5h.9v.9h-.9zM115.1 746.9h.9v.9h-.9zM130.9 753.9h.9v.9h-.9zM104.0 704.7h.9v.9h-.9zM157.5 679.7h.9v.9h-.9zM133.3 754.2h.9v.9h-.9zM95.5 745.2h.9v.9h-.9zM152.4 726.5h.9v.9h-.9zM111.2 674.6h.9v.9h-.9zM131.0 736.8h.9v.9h-.9zM164.1 686.4h.9v.9h-.9zM93.1 751.4h.9v.9h-.9zM99.6 746.1h.9v.9h-.9zM127.4 674.7h.9v.9h-.9zM102.8 710.3h.9v.9h-.9zM160.4 680.6h.9v.9h-.9zM133.0 744.0h.9v.9h-.9zM139.7 759.4h.9v.9h-.9zM95.7 691.6h.9v.9h-.9zM152.5 747.8h.9v.9h-.9zM102.0 703.0h.9v.9h-.9zM123.9 725.4h.9v.9h-.9zM156.1 734.2h.9v.9h-.9zM149.0 761.7h.9v.9h-.9zM140.8 759.9h.9v.9h-.9zM108.3 749.9h.9v.9h-.9zM80.6 761.6h.9v.9h-.9zM133.8 746.0h.9v.9h-.9zM164.4 723.6h.9v.9h-.9zM157.7 759.5h.9v.9h-.9zM103.0 749.3h.9v.9h-.9zM154.7 720.7h.9v.9h-.9zM155.9 732.1h.9v.9h-.9zM179.3 700.0h.9v.9h-.9zM100.9 706.3h.9v.9h-.9zM160.9 698.1h.9v.9h-.9zM153.6 719.6h.9v.9h-.9zM111.3 726.1h.9v.9h-.9zM87.2 685.8h.9v.9h-.9zM71.1 752.2h.9v.9h-.9zM112.6 714.7h.9v.9h-.9zM166.7 707.9h.9v.9h-.9zM100.2 681.3h.9v.9h-.9zM135.5 757.5h.9v.9h-.9zM74.0 749.6h.9v.9h-.9zM119.3 749.3h.9v.9h-.9zM91.3 759.5h.9v.9h-.9zM82.5 762.9h.9v.9h-.9zM156.3 749.6h.9v.9h-.9zM98.3 702.4h.9v.9h-.9zM129.9 670.0h.9v.9h-.9zM101.8 760.0h.9v.9h-.9zM114.7 676.1h.9v.9h-.9zM137.1 741.3h.9v.9h-.9zM114.3 656.9h.9v.9h-.9zM89.7 746.7h.9v.9h-.9zM125.8 769.1h.9v.9h-.9zM148.0 672.7h.9v.9h-.9zM118.1 746.2h.9v.9h-.9zM81.5 758.1h.9v.9h-.9zM158.0 753.0h.9v.9h-.9zM116.0 745.9h.9v.9h-.9zM156.1 684.4h.9v.9h-.9zM116.6 763.7h.9v.9h-.9zM95.5 683.1h.9v.9h-.9zM158.7 695.1h.9v.9h-.9zM163.5 660.6h.9v.9h-.9zM150.0 763.2h.9v.9h-.9zM117.2 673.2h.9v.9h-.9zM168.5 764.5h.9v.9h-.9zM89.6 685.5h.9v.9h-.9zM120.1 749.3h.9v.9h-.9zM161.3 703.2h.9v.9h-.9zM92.3 689.6h.9v.9h-.9zM86.3 766.6h.9v.9h-.9zM110.0 752.9h.9v.9h-.9zM154.1 763.5h.9v.9h-.9zM161.7 694.0h.9v.9h-.9zM163.2 766.6h.9v.9h-.9zM96.1 694.2h.9v.9h-.9zM120.5 679.9h.9v.9h-.9zM148.3 736.2h.9v.9h-.9zM159.1 720.3h.9v.9h-.9zM94.5 699.8h.9v.9h-.9zM142.8 678.5h.9v.9h-.9zM110.7 760.8h.9v.9h-.9zM78.1 750.8h.9v.9h-.9zM135.0 765.1h.9v.9h-.9zM74.0 749.0h.9v.9h-.9zM97.6 692.0h.9v.9h-.9zM149.2 758.2h.9v.9h-.9zM115.4 757.7h.9v.9h-.9zM116.8 673.1h.9v.9h-.9zM119.6 755.6h.9v.9h-.9zM94.3 762.3h.9v.9h-.9zM131.6 726.9h.9v.9h-.9zM154.9 717.9h.9v.9h-.9zM114.1 719.9h.9v.9h-.9zM109.9 713.7h.9v.9h-.9zM140.1 748.6h.9v.9h-.9zM112.8 769.6h.9v.9h-.9zM149.2 742.0h.9v.9h-.9zM152.2 678.9h.9v.9h-.9zM158.9 762.7h.9v.9h-.9zM106.9 708.2h.9v.9h-.9zM72.4 752.5h.9v.9h-.9zM180.7 717.9h.9v.9h-.9zM157.4 677.5h.9v.9h-.9zM117.7 677.7h.9v.9h-.9zM144.1 771.8h.9v.9h-.9zM76.0 758.0h.9v.9h-.9zM110.2 713.6h.9v.9h-.9zM71.6 750.7h.9v.9h-.9zM135.8 734.0h.9v.9h-.9zM111.3 761.9h.9v.9h-.9zM111.6 675.0h.9v.9h-.9zM100.6 752.5h.9v.9h-.9zM159.3 720.3h.9v.9h-.9zM81.4 759.0h.9v.9h-.9zM101.2 680.8h.9v.9h-.9zM153.4 757.1h.9v.9h-.9zM78.4 759.1h.9v.9h-.9zM159.8 692.4h.9v.9h-.9zM118.1 758.0h.9v.9h-.9zM136.8 736.8h.9v.9h-.9zM123.9 746.0h.9v.9h-.9zM89.2 692.3h.9v.9h-.9zM92.3 697.5h.9v.9h-.9zM94.3 703.8h.9v.9h-.9zM72.1 780.6h.9v.9h-.9zM133.7 676.4h.9v.9h-.9zM113.3 757.8h.9v.9h-.9zM91.9 693.2h.9v.9h-.9zM100.3 706.2h.9v.9h-.9zM110.9 763.6h.9v.9h-.9zM169.2 694.7h.9v.9h-.9zM103.8 676.0h.9v.9h-.9zM151.2 732.8h.9v.9h-.9zM153.6 728.7h.9v.9h-.9zM84.5 674.4h.9v.9h-.9zM76.7 667.5h.9v.9h-.9zM131.8 728.7h.9v.9h-.9zM150.2 764.6h.9v.9h-.9zM135.9 669.4h.9v.9h-.9zM135.3 739.5h.9v.9h-.9zM72.1 753.0h.9v.9h-.9zM117.7 757.9h.9v.9h-.9zM155.9 739.5h.9v.9h-.9zM167.4 716.9h.9v.9h-.9zM127.9 745.1h.9v.9h-.9zM73.7 757.6h.9v.9h-.9zM109.1 749.5h.9v.9h-.9zM136.4 735.3h.9v.9h-.9zM78.9 764.4h.9v.9h-.9zM108.2 749.5h.9v.9h-.9zM136.6 743.2h.9v.9h-.9zM152.7 748.3h.9v.9h-.9zM160.8 718.9h.9v.9h-.9zM76.9 762.7h.9v.9h-.9zM161.4 704.3h.9v.9h-.9zM91.5 746.3h.9v.9h-.9zM161.0 757.0h.9v.9h-.9zM156.6 714.8h.9v.9h-.9zM166.2 710.8h.9v.9h-.9zM124.1 767.7h.9v.9h-.9zM114.6 716.8h.9v.9h-.9zM157.3 759.6h.9v.9h-.9zM107.7 672.2h.9v.9h-.9zM158.9 695.0h.9v.9h-.9zM133.4 730.2h.9v.9h-.9zM137.3 670.7h.9v.9h-.9zM132.2 761.5h.9v.9h-.9zM161.4 700.9h.9v.9h-.9zM76.3 755.0h.9v.9h-.9zM99.0 755.6h.9v.9h-.9zM143.6 662.0h.9v.9h-.9zM97.1 749.7h.9v.9h-.9zM127.5 747.4h.9v.9h-.9zM103.9 672.0h.9v.9h-.9zM136.3 662.2h.9v.9h-.9zM152.6 675.7h.9v.9h-.9zM149.1 678.0h.9v.9h-.9zM155.4 758.1h.9v.9h-.9zM119.1 674.2h.9v.9h-.9zM77.4 748.8h.9v.9h-.9zM79.6 696.8h.9v.9h-.9zM72.6 750.2h.9v.9h-.9zM104.8 707.8h.9v.9h-.9zM91.9 685.7h.9v.9h-.9zM108.0 707.8h.9v.9h-.9zM161.1 762.0h.9v.9h-.9zM89.5 687.8h.9v.9h-.9zM90.8 747.8h.9v.9h-.9zM96.2 695.1h.9v.9h-.9zM94.2 697.4h.9v.9h-.9zM108.0 676.1h.9v.9h-.9zM116.9 759.8h.9v.9h-.9zM121.6 673.7h.9v.9h-.9zM169.1 683.9h.9v.9h-.9zM157.7 683.7h.9v.9h-.9zM92.4 766.7h.9v.9h-.9zM158.9 714.3h.9v.9h-.9zM106.7 707.7h.9v.9h-.9zM168.2 688.0h.9v.9h-.9zM130.4 760.0h.9v.9h-.9zM159.7 739.9h.9v.9h-.9zM163.7 695.7h.9v.9h-.9zM149.3 728.9h.9v.9h-.9zM88.8 746.1h.9v.9h-.9zM90.2 691.0h.9v.9h-.9zM130.6 757.7h.9v.9h-.9zM173.8 713.1h.9v.9h-.9zM101.2 675.9h.9v.9h-.9zM134.6 739.9h.9v.9h-.9zM113.4 749.1h.9v.9h-.9zM151.2 732.0h.9v.9h-.9zM154.5 758.1h.9v.9h-.9zM152.3 746.6h.9v.9h-.9zM156.8 681.8h.9v.9h-.9zM90.1 712.4h.9v.9h-.9zM158.6 691.8h.9v.9h-.9zM113.9 750.2h.9v.9h-.9zM87.3 694.4h.9v.9h-.9zM112.3 754.6h.9v.9h-.9zM115.8 771.1h.9v.9h-.9zM100.0 757.2h.9v.9h-.9zM94.5 691.9h.9v.9h-.9zM104.0 707.3h.9v.9h-.9zM119.4 748.3h.9v.9h-.9zM95.2 749.2h.9v.9h-.9zM163.3 705.5h.9v.9h-.9zM130.5 677.1h.9v.9h-.9zM79.9 747.7h.9v.9h-.9zM188.5 701.5h.9v.9h-.9zM160.1 699.7h.9v.9h-.9zM135.2 675.3h.9v.9h-.9z" fill="#c4c6d4"/><path d="M156.8 699.8h.9v.9h-.9zM121.5 721.3h.9v.9h-.9zM119.1 692.0h.9v.9h-.9zM160.7 687.6h.9v.9h-.9zM124.7 745.8h.9v.9h-.9zM122.8 712.4h.9v.9h-.9zM145.9 722.4h.9v.9h-.9zM150.5 700.8h.9v.9h-.9zM138.8 705.2h.9v.9h-.9zM103.6 691.1h.9v.9h-.9zM133.6 715.4h.9v.9h-.9zM82.6 722.9h.9v.9h-.9zM116.0 702.4h.9v.9h-.9zM135.7 729.3h.9v.9h-.9zM104.9 696.2h.9v.9h-.9zM94.5 726.0h.9v.9h-.9zM130.9 705.1h.9v.9h-.9zM161.3 707.1h.9v.9h-.9zM127.6 696.9h.9v.9h-.9zM138.0 720.8h.9v.9h-.9zM113.7 693.3h.9v.9h-.9zM168.9 696.7h.9v.9h-.9zM141.7 702.9h.9v.9h-.9zM96.3 721.2h.9v.9h-.9zM131.3 720.4h.9v.9h-.9zM145.3 736.4h.9v.9h-.9zM103.1 713.3h.9v.9h-.9zM94.3 683.1h.9v.9h-.9zM96.8 711.0h.9v.9h-.9zM148.4 705.6h.9v.9h-.9zM125.7 750.4h.9v.9h-.9zM108.1 706.6h.9v.9h-.9zM153.2 706.6h.9v.9h-.9zM124.8 691.6h.9v.9h-.9zM78.6 711.1h.9v.9h-.9zM197.8 725.6h.9v.9h-.9zM173.2 708.1h.9v.9h-.9zM131.0 692.6h.9v.9h-.9zM161.3 696.6h.9v.9h-.9zM158.6 738.9h.9v.9h-.9zM115.6 715.9h.9v.9h-.9zM112.9 722.8h.9v.9h-.9zM134.5 708.4h.9v.9h-.9zM136.8 706.1h.9v.9h-.9zM90.3 679.9h.9v.9h-.9zM133.6 689.1h.9v.9h-.9zM114.6 722.9h.9v.9h-.9zM125.1 678.8h.9v.9h-.9zM113.1 684.9h.9v.9h-.9zM97.9 729.5h.9v.9h-.9zM159.0 703.7h.9v.9h-.9zM176.6 721.4h.9v.9h-.9zM111.5 726.7h.9v.9h-.9zM146.0 702.6h.9v.9h-.9zM139.1 701.6h.9v.9h-.9zM134.6 684.2h.9v.9h-.9zM108.0 698.3h.9v.9h-.9zM127.4 705.8h.9v.9h-.9zM179.7 666.2h.9v.9h-.9zM85.9 734.4h.9v.9h-.9zM144.4 716.2h.9v.9h-.9zM138.7 682.3h.9v.9h-.9zM109.4 687.2h.9v.9h-.9zM135.6 710.2h.9v.9h-.9zM105.4 683.1h.9v.9h-.9zM106.6 699.3h.9v.9h-.9zM151.9 704.2h.9v.9h-.9zM139.6 721.7h.9v.9h-.9zM138.0 704.0h.9v.9h-.9zM95.8 699.2h.9v.9h-.9zM110.6 734.1h.9v.9h-.9zM145.0 703.4h.9v.9h-.9zM131.3 718.5h.9v.9h-.9zM141.7 694.5h.9v.9h-.9zM105.5 715.7h.9v.9h-.9zM122.5 691.3h.9v.9h-.9zM145.3 701.4h.9v.9h-.9zM95.7 691.0h.9v.9h-.9zM134.9 708.1h.9v.9h-.9zM143.8 758.1h.9v.9h-.9zM128.1 725.0h.9v.9h-.9zM152.4 720.7h.9v.9h-.9zM112.5 717.7h.9v.9h-.9zM94.2 716.0h.9v.9h-.9zM122.3 719.2h.9v.9h-.9zM136.3 696.2h.9v.9h-.9zM82.5 687.4h.9v.9h-.9zM140.8 700.6h.9v.9h-.9zM110.1 726.1h.9v.9h-.9zM114.2 712.9h.9v.9h-.9zM104.1 710.6h.9v.9h-.9zM97.7 718.8h.9v.9h-.9zM139.2 680.7h.9v.9h-.9zM108.6 701.7h.9v.9h-.9zM171.3 698.1h.9v.9h-.9zM135.2 696.8h.9v.9h-.9zM136.8 723.5h.9v.9h-.9zM120.5 672.5h.9v.9h-.9zM147.7 706.6h.9v.9h-.9zM118.6 751.5h.9v.9h-.9zM155.4 751.1h.9v.9h-.9zM137.3 751.1h.9v.9h-.9zM106.7 746.1h.9v.9h-.9zM127.6 754.0h.9v.9h-.9zM147.9 755.2h.9v.9h-.9zM170.7 749.9h.9v.9h-.9zM115.7 745.3h.9v.9h-.9zM140.5 750.8h.9v.9h-.9zM93.0 744.3h.9v.9h-.9zM130.7 749.7h.9v.9h-.9zM69.7 747.2h.9v.9h-.9zM109.8 753.0h.9v.9h-.9zM141.1 751.0h.9v.9h-.9zM117.2 761.9h.9v.9h-.9zM128.7 755.0h.9v.9h-.9zM126.8 756.5h.9v.9h-.9zM112.3 755.3h.9v.9h-.9zM86.2 745.7h.9v.9h-.9zM153.2 747.9h.9v.9h-.9zM151.7 755.5h.9v.9h-.9zM113.5 754.9h.9v.9h-.9zM127.3 746.1h.9v.9h-.9zM118.4 745.7h.9v.9h-.9zM82.2 750.0h.9v.9h-.9zM103.0 752.3h.9v.9h-.9zM173.2 751.7h.9v.9h-.9zM116.2 748.8h.9v.9h-.9zM87.3 747.4h.9v.9h-.9zM130.0 751.3h.9v.9h-.9zM158.8 723.0h.9v.9h-.9zM148.6 732.1h.9v.9h-.9zM134.7 736.6h.9v.9h-.9zM154.2 736.8h.9v.9h-.9zM143.1 747.1h.9v.9h-.9zM123.5 734.4h.9v.9h-.9zM117.4 728.1h.9v.9h-.9zM159.8 732.6h.9v.9h-.9zM150.2 724.3h.9v.9h-.9zM104.9 729.6h.9v.9h-.9zM147.4 742.4h.9v.9h-.9zM150.5 728.8h.9v.9h-.9zM150.6 740.9h.9v.9h-.9zM143.1 736.0h.9v.9h-.9zM125.8 738.1h.9v.9h-.9zM134.0 740.2h.9v.9h-.9zM151.7 740.3h.9v.9h-.9zM143.9 727.9h.9v.9h-.9zM154.9 737.4h.9v.9h-.9zM143.7 728.9h.9v.9h-.9zM163.8 712.4h.9v.9h-.9zM122.0 748.7h.9v.9h-.9zM163.1 679.0h.9v.9h-.9zM96.3 703.3h.9v.9h-.9zM122.4 766.0h.9v.9h-.9zM153.9 750.4h.9v.9h-.9zM112.6 748.8h.9v.9h-.9zM141.9 677.3h.9v.9h-.9zM133.2 731.4h.9v.9h-.9zM82.3 747.4h.9v.9h-.9zM121.8 758.5h.9v.9h-.9zM106.3 714.2h.9v.9h-.9zM124.8 724.4h.9v.9h-.9zM127.8 747.9h.9v.9h-.9zM111.6 770.0h.9v.9h-.9zM103.7 713.0h.9v.9h-.9zM114.9 667.3h.9v.9h-.9zM126.2 725.3h.9v.9h-.9zM112.0 748.1h.9v.9h-.9zM159.2 699.3h.9v.9h-.9zM114.6 753.5h.9v.9h-.9zM166.2 700.9h.9v.9h-.9zM149.8 677.6h.9v.9h-.9zM92.0 691.4h.9v.9h-.9zM141.1 667.0h.9v.9h-.9zM132.1 761.0h.9v.9h-.9zM112.3 748.8h.9v.9h-.9zM115.0 674.0h.9v.9h-.9zM99.8 679.7h.9v.9h-.9zM85.8 749.9h.9v.9h-.9zM151.9 748.0h.9v.9h-.9zM99.1 712.2h.9v.9h-.9zM127.5 670.3h.9v.9h-.9zM124.8 762.2h.9v.9h-.9zM108.8 707.0h.9v.9h-.9zM158.3 671.4h.9v.9h-.9zM132.3 677.2h.9v.9h-.9zM125.0 674.0h.9v.9h-.9zM76.5 749.3h.9v.9h-.9zM73.5 757.0h.9v.9h-.9zM102.3 768.7h.9v.9h-.9zM110.5 758.2h.9v.9h-.9zM107.7 674.1h.9v.9h-.9zM83.8 765.2h.9v.9h-.9zM128.9 745.0h.9v.9h-.9zM97.0 698.9h.9v.9h-.9zM136.2 739.8h.9v.9h-.9zM69.7 767.5h.9v.9h-.9zM100.6 758.2h.9v.9h-.9zM72.9 759.0h.9v.9h-.9zM108.1 708.2h.9v.9h-.9zM79.7 685.9h.9v.9h-.9zM161.6 708.1h.9v.9h-.9zM151.9 747.2h.9v.9h-.9zM145.4 671.1h.9v.9h-.9zM92.4 695.8h.9v.9h-.9zM97.8 748.5h.9v.9h-.9zM162.0 700.1h.9v.9h-.9zM80.3 686.9h.9v.9h-.9zM89.7 759.2h.9v.9h-.9zM171.8 766.6h.9v.9h-.9zM90.4 747.0h.9v.9h-.9zM91.2 746.1h.9v.9h-.9zM108.1 765.0h.9v.9h-.9zM160.2 686.5h.9v.9h-.9zM165.8 684.8h.9v.9h-.9zM173.6 718.1h.9v.9h-.9zM153.0 758.6h.9v.9h-.9zM112.6 675.3h.9v.9h-.9zM88.8 674.2h.9v.9h-.9zM158.3 753.3h.9v.9h-.9zM94.1 677.7h.9v.9h-.9zM91.3 682.8h.9v.9h-.9zM112.6 716.5h.9v.9h-.9zM74.0 761.2h.9v.9h-.9zM175.0 705.4h.9v.9h-.9zM154.9 748.1h.9v.9h-.9zM99.8 713.6h.9v.9h-.9zM111.8 745.7h.9v.9h-.9zM98.6 748.7h.9v.9h-.9zM108.5 709.4h.9v.9h-.9zM161.3 689.6h.9v.9h-.9zM75.3 746.1h.9v.9h-.9zM105.3 680.0h.9v.9h-.9zM91.0 687.4h.9v.9h-.9zM96.7 753.2h.9v.9h-.9zM81.8 758.3h.9v.9h-.9zM163.8 709.4h.9v.9h-.9zM108.9 676.8h.9v.9h-.9zM74.0 762.0h.9v.9h-.9zM93.8 760.9h.9v.9h-.9zM96.1 760.8h.9v.9h-.9zM166.2 699.8h.9v.9h-.9zM150.1 722.8h.9v.9h-.9zM107.7 678.9h.9v.9h-.9zM121.3 729.3h.9v.9h-.9zM100.0 756.5h.9v.9h-.9zM100.6 704.8h.9v.9h-.9zM93.5 681.2h.9v.9h-.9zM69.3 758.8h.9v.9h-.9zM101.7 704.2h.9v.9h-.9zM104.6 709.9h.9v.9h-.9zM91.9 686.9h.9v.9h-.9zM120.7 725.7h.9v.9h-.9zM156.4 750.8h.9v.9h-.9zM97.4 680.1h.9v.9h-.9zM107.9 747.8h.9v.9h-.9zM93.6 752.7h.9v.9h-.9zM101.9 745.4h.9v.9h-.9zM92.2 692.4h.9v.9h-.9zM153.2 675.6h.9v.9h-.9zM162.3 678.0h.9v.9h-.9zM153.2 760.2h.9v.9h-.9zM142.0 763.0h.9v.9h-.9zM74.0 760.3h.9v.9h-.9zM128.0 744.3h.9v.9h-.9zM129.1 742.9h.9v.9h-.9zM130.3 761.1h.9v.9h-.9zM116.0 668.2h.9v.9h-.9zM84.6 756.2h.9v.9h-.9zM95.5 692.0h.9v.9h-.9zM148.4 744.9h.9v.9h-.9zM141.1 758.6h.9v.9h-.9zM142.2 757.7h.9v.9h-.9zM151.0 761.0h.9v.9h-.9zM106.2 666.6h.9v.9h-.9zM95.1 745.9h.9v.9h-.9zM73.2 757.4h.9v.9h-.9zM133.2 746.0h.9v.9h-.9zM105.5 677.3h.9v.9h-.9zM81.1 747.9h.9v.9h-.9zM116.0 716.6h.9v.9h-.9zM153.5 681.8h.9v.9h-.9zM97.1 676.0h.9v.9h-.9zM126.4 672.5h.9v.9h-.9zM123.5 675.4h.9v.9h-.9zM123.1 671.6h.9v.9h-.9zM135.6 733.1h.9v.9h-.9zM124.1 676.6h.9v.9h-.9zM135.6 761.7h.9v.9h-.9zM112.0 679.2h.9v.9h-.9zM122.9 718.8h.9v.9h-.9zM148.4 671.2h.9v.9h-.9zM145.4 760.1h.9v.9h-.9zM160.0 706.5h.9v.9h-.9zM141.5 678.3h.9v.9h-.9zM159.9 765.2h.9v.9h-.9zM160.7 704.1h.9v.9h-.9zM88.8 752.9h.9v.9h-.9zM152.7 732.1h.9v.9h-.9zM108.3 757.6h.9v.9h-.9zM105.8 755.0h.9v.9h-.9zM111.3 676.7h.9v.9h-.9zM81.2 757.1h.9v.9h-.9zM113.9 748.6h.9v.9h-.9zM154.4 681.6h.9v.9h-.9zM94.5 747.4h.9v.9h-.9zM98.8 676.9h.9v.9h-.9zM137.9 742.6h.9v.9h-.9zM123.1 764.0h.9v.9h-.9zM127.0 744.2h.9v.9h-.9zM131.7 729.5h.9v.9h-.9zM107.7 757.4h.9v.9h-.9zM111.7 748.9h.9v.9h-.9zM115.9 759.4h.9v.9h-.9zM171.6 690.5h.9v.9h-.9zM132.7 729.7h.9v.9h-.9zM152.7 726.4h.9v.9h-.9zM113.8 673.4h.9v.9h-.9zM144.3 760.0h.9v.9h-.9zM159.0 718.0h.9v.9h-.9zM167.0 716.6h.9v.9h-.9zM73.6 762.3h.9v.9h-.9zM155.3 730.5h.9v.9h-.9zM76.0 669.6h.9v.9h-.9zM113.5 749.4h.9v.9h-.9zM135.0 677.5h.9v.9h-.9zM153.4 751.1h.9v.9h-.9zM96.9 749.1h.9v.9h-.9zM184.0 712.1h.9v.9h-.9zM155.6 715.5h.9v.9h-.9zM150.3 721.9h.9v.9h-.9zM158.5 667.5h.9v.9h-.9zM121.4 722.2h.9v.9h-.9zM162.0 699.2h.9v.9h-.9zM113.0 746.6h.9v.9h-.9zM57.4 762.2h.9v.9h-.9zM149.7 726.5h.9v.9h-.9zM121.7 677.3h.9v.9h-.9zM149.8 762.1h.9v.9h-.9zM148.7 678.6h.9v.9h-.9zM70.3 752.2h.9v.9h-.9zM114.4 756.7h.9v.9h-.9zM94.1 700.7h.9v.9h-.9zM154.1 678.0h.9v.9h-.9zM135.7 740.7h.9v.9h-.9zM169.6 695.5h.9v.9h-.9zM83.7 757.5h.9v.9h-.9zM127.2 724.2h.9v.9h-.9zM165.5 701.0h.9v.9h-.9zM120.6 761.0h.9v.9h-.9zM102.0 706.0h.9v.9h-.9zM156.3 759.0h.9v.9h-.9zM160.6 709.0h.9v.9h-.9zM101.2 749.2h.9v.9h-.9zM155.5 739.0h.9v.9h-.9zM98.8 683.0h.9v.9h-.9zM131.5 674.9h.9v.9h-.9zM115.0 716.3h.9v.9h-.9zM162.7 687.0h.9v.9h-.9zM102.3 757.1h.9v.9h-.9zM161.1 693.9h.9v.9h-.9zM108.7 749.4h.9v.9h-.9zM125.4 746.2h.9v.9h-.9zM108.0 758.7h.9v.9h-.9zM103.2 680.1h.9v.9h-.9zM132.5 769.8h.9v.9h-.9zM85.1 756.5h.9v.9h-.9zM83.8 697.0h.9v.9h-.9zM130.4 729.5h.9v.9h-.9zM162.4 674.5h.9v.9h-.9zM93.0 747.3h.9v.9h-.9zM77.5 761.9h.9v.9h-.9zM84.6 699.9h.9v.9h-.9zM119.7 674.5h.9v.9h-.9zM152.9 722.8h.9v.9h-.9zM99.2 749.4h.9v.9h-.9zM85.3 758.0h.9v.9h-.9zM106.0 760.8h.9v.9h-.9zM134.5 740.4h.9v.9h-.9zM149.2 745.8h.9v.9h-.9zM154.5 769.3h.9v.9h-.9zM149.3 733.7h.9v.9h-.9zM117.6 747.3h.9v.9h-.9zM110.9 714.5h.9v.9h-.9zM131.7 726.0h.9v.9h-.9zM104.5 752.6h.9v.9h-.9zM113.6 676.3h.9v.9h-.9zM149.9 748.6h.9v.9h-.9zM153.0 741.3h.9v.9h-.9zM94.7 762.9h.9v.9h-.9zM132.0 759.5h.9v.9h-.9zM92.9 692.2h.9v.9h-.9zM93.4 764.0h.9v.9h-.9zM101.0 677.8h.9v.9h-.9zM71.1 752.9h.9v.9h-.9zM158.4 750.1h.9v.9h-.9zM100.9 705.4h.9v.9h-.9zM102.5 756.9h.9v.9h-.9zM125.2 744.1h.9v.9h-.9zM164.0 696.7h.9v.9h-.9zM166.2 707.2h.9v.9h-.9zM154.4 761.3h.9v.9h-.9zM81.3 745.4h.9v.9h-.9zM137.7 735.5h.9v.9h-.9zM113.5 744.2h.9v.9h-.9zM75.6 757.9h.9v.9h-.9zM96.7 684.4h.9v.9h-.9zM135.1 740.0h.9v.9h-.9zM71.2 752.4h.9v.9h-.9zM128.3 767.2h.9v.9h-.9zM153.8 746.5h.9v.9h-.9zM154.8 739.4h.9v.9h-.9zM159.6 728.2h.9v.9h-.9zM94.9 684.0h.9v.9h-.9zM92.1 698.7h.9v.9h-.9zM135.0 732.4h.9v.9h-.9zM73.9 756.1h.9v.9h-.9zM73.6 758.0h.9v.9h-.9zM116.4 764.3h.9v.9h-.9zM123.1 678.4h.9v.9h-.9zM146.5 759.2h.9v.9h-.9zM69.7 750.5h.9v.9h-.9zM104.7 680.9h.9v.9h-.9zM165.6 693.9h.9v.9h-.9zM94.4 662.1h.9v.9h-.9z" fill="#7888d4"/><path d="M120.8 734.3h.9v.9h-.9zM93.9 694.6h.9v.9h-.9zM201.2 703.2h.9v.9h-.9zM105.6 698.3h.9v.9h-.9zM144.6 691.9h.9v.9h-.9zM97.7 729.0h.9v.9h-.9zM135.0 688.2h.9v.9h-.9zM133.6 698.4h.9v.9h-.9zM132.9 717.3h.9v.9h-.9zM132.4 691.1h.9v.9h-.9zM133.8 685.9h.9v.9h-.9zM155.1 692.2h.9v.9h-.9zM134.7 685.6h.9v.9h-.9zM137.1 719.2h.9v.9h-.9zM154.0 707.8h.9v.9h-.9zM131.6 715.5h.9v.9h-.9zM140.6 703.1h.9v.9h-.9zM140.5 681.6h.9v.9h-.9zM134.0 735.0h.9v.9h-.9zM134.0 687.1h.9v.9h-.9zM122.2 705.6h.9v.9h-.9zM171.4 667.7h.9v.9h-.9zM163.5 668.6h.9v.9h-.9zM122.1 713.0h.9v.9h-.9zM125.8 738.7h.9v.9h-.9zM177.7 732.1h.9v.9h-.9zM126.0 697.6h.9v.9h-.9zM160.8 697.0h.9v.9h-.9zM144.8 687.8h.9v.9h-.9zM127.7 668.6h.9v.9h-.9zM158.8 709.9h.9v.9h-.9zM104.3 721.3h.9v.9h-.9zM134.2 677.8h.9v.9h-.9zM91.4 712.1h.9v.9h-.9zM193.4 693.7h.9v.9h-.9zM103.5 687.0h.9v.9h-.9zM157.5 709.4h.9v.9h-.9zM154.6 747.8h.9v.9h-.9zM157.6 744.9h.9v.9h-.9zM161.8 733.2h.9v.9h-.9zM113.5 718.4h.9v.9h-.9zM115.8 703.8h.9v.9h-.9zM114.1 726.1h.9v.9h-.9zM148.4 722.2h.9v.9h-.9zM146.1 692.0h.9v.9h-.9zM111.5 707.1h.9v.9h-.9zM142.4 742.0h.9v.9h-.9zM116.9 704.6h.9v.9h-.9zM120.4 712.8h.9v.9h-.9zM132.7 688.0h.9v.9h-.9zM134.4 701.4h.9v.9h-.9zM136.7 715.4h.9v.9h-.9zM156.2 715.0h.9v.9h-.9zM162.0 719.1h.9v.9h-.9zM106.6 717.8h.9v.9h-.9zM68.2 715.5h.9v.9h-.9zM133.0 713.3h.9v.9h-.9zM141.1 669.8h.9v.9h-.9zM120.1 719.9h.9v.9h-.9zM107.5 724.3h.9v.9h-.9zM53.0 682.2h.9v.9h-.9zM163.4 675.0h.9v.9h-.9zM112.4 702.3h.9v.9h-.9zM171.9 704.7h.9v.9h-.9zM139.8 724.6h.9v.9h-.9zM105.7 689.6h.9v.9h-.9zM116.1 697.6h.9v.9h-.9zM109.5 714.4h.9v.9h-.9zM131.6 722.3h.9v.9h-.9zM110.8 663.2h.9v.9h-.9zM175.8 708.3h.9v.9h-.9zM117.2 727.1h.9v.9h-.9zM125.7 722.3h.9v.9h-.9zM133.9 715.8h.9v.9h-.9zM158.0 698.2h.9v.9h-.9zM102.1 711.1h.9v.9h-.9zM157.4 704.9h.9v.9h-.9zM152.0 704.1h.9v.9h-.9zM140.3 717.4h.9v.9h-.9zM100.4 726.7h.9v.9h-.9zM168.0 736.1h.9v.9h-.9zM133.3 698.3h.9v.9h-.9zM121.4 705.4h.9v.9h-.9zM119.4 719.6h.9v.9h-.9zM115.3 703.7h.9v.9h-.9zM150.2 724.0h.9v.9h-.9zM126.4 736.7h.9v.9h-.9zM170.1 730.9h.9v.9h-.9zM129.2 691.4h.9v.9h-.9zM130.6 729.7h.9v.9h-.9zM129.1 753.2h.9v.9h-.9zM105.6 744.5h.9v.9h-.9zM145.5 745.1h.9v.9h-.9zM118.4 762.3h.9v.9h-.9zM132.7 750.6h.9v.9h-.9zM90.0 749.8h.9v.9h-.9zM107.6 753.7h.9v.9h-.9zM90.5 753.0h.9v.9h-.9zM65.0 752.3h.9v.9h-.9zM136.3 745.5h.9v.9h-.9zM89.2 754.7h.9v.9h-.9zM117.7 760.0h.9v.9h-.9zM167.4 761.9h.9v.9h-.9zM119.1 755.0h.9v.9h-.9zM74.3 757.5h.9v.9h-.9zM97.4 746.0h.9v.9h-.9zM107.3 756.9h.9v.9h-.9zM147.5 755.4h.9v.9h-.9zM161.3 751.5h.9v.9h-.9zM123.5 758.2h.9v.9h-.9zM144.1 750.3h.9v.9h-.9zM125.1 746.6h.9v.9h-.9zM83.8 759.4h.9v.9h-.9zM89.0 747.4h.9v.9h-.9zM110.0 747.2h.9v.9h-.9zM57.8 752.4h.9v.9h-.9zM116.8 747.1h.9v.9h-.9zM98.3 754.3h.9v.9h-.9zM156.6 752.5h.9v.9h-.9zM122.1 724.0h.9v.9h-.9zM144.5 739.5h.9v.9h-.9zM139.4 746.6h.9v.9h-.9zM141.8 733.0h.9v.9h-.9zM174.3 747.4h.9v.9h-.9zM145.2 713.3h.9v.9h-.9zM161.8 739.3h.9v.9h-.9zM159.3 728.9h.9v.9h-.9zM148.2 731.7h.9v.9h-.9zM148.2 732.6h.9v.9h-.9zM146.1 738.4h.9v.9h-.9zM126.2 729.2h.9v.9h-.9zM143.3 750.3h.9v.9h-.9zM155.3 730.3h.9v.9h-.9zM126.9 733.7h.9v.9h-.9zM143.2 733.6h.9v.9h-.9zM131.1 732.7h.9v.9h-.9zM137.5 738.5h.9v.9h-.9zM139.2 740.4h.9v.9h-.9zM116.1 735.1h.9v.9h-.9zM105.3 735.1h.9v.9h-.9zM120.9 739.9h.9v.9h-.9zM133.6 745.3h.9v.9h-.9zM128.7 759.3h.9v.9h-.9zM129.3 761.3h.9v.9h-.9zM134.5 734.7h.9v.9h-.9zM158.8 693.2h.9v.9h-.9zM103.1 748.1h.9v.9h-.9zM91.6 752.8h.9v.9h-.9zM115.1 747.1h.9v.9h-.9zM103.8 748.3h.9v.9h-.9zM156.9 715.5h.9v.9h-.9zM157.2 734.5h.9v.9h-.9zM121.4 764.5h.9v.9h-.9zM127.4 676.7h.9v.9h-.9zM114.2 759.1h.9v.9h-.9zM120.6 722.5h.9v.9h-.9zM98.6 679.7h.9v.9h-.9zM159.3 692.8h.9v.9h-.9zM106.3 748.3h.9v.9h-.9zM132.1 743.2h.9v.9h-.9zM156.0 723.8h.9v.9h-.9zM128.1 678.3h.9v.9h-.9zM130.0 729.9h.9v.9h-.9zM124.9 676.5h.9v.9h-.9zM99.4 681.8h.9v.9h-.9zM75.8 747.6h.9v.9h-.9zM87.1 761.7h.9v.9h-.9zM114.5 751.1h.9v.9h-.9zM103.9 766.0h.9v.9h-.9zM101.9 704.1h.9v.9h-.9zM163.2 684.1h.9v.9h-.9zM79.8 757.6h.9v.9h-.9zM137.9 745.5h.9v.9h-.9zM151.8 763.2h.9v.9h-.9zM148.3 678.5h.9v.9h-.9zM139.3 769.5h.9v.9h-.9zM78.5 749.3h.9v.9h-.9zM152.0 728.5h.9v.9h-.9zM166.8 759.8h.9v.9h-.9zM100.5 748.9h.9v.9h-.9zM100.9 761.4h.9v.9h-.9zM162.4 758.4h.9v.9h-.9zM125.8 759.5h.9v.9h-.9zM161.9 755.9h.9v.9h-.9zM107.2 679.2h.9v.9h-.9zM94.6 748.5h.9v.9h-.9zM90.4 689.4h.9v.9h-.9zM99.5 751.3h.9v.9h-.9zM158.8 692.9h.9v.9h-.9zM133.8 757.8h.9v.9h-.9zM87.5 761.4h.9v.9h-.9zM157.7 757.6h.9v.9h-.9zM150.6 759.1h.9v.9h-.9zM85.9 674.4h.9v.9h-.9zM99.8 671.5h.9v.9h-.9zM101.6 748.7h.9v.9h-.9zM126.1 761.9h.9v.9h-.9zM148.7 763.3h.9v.9h-.9zM107.7 751.5h.9v.9h-.9zM125.7 678.8h.9v.9h-.9zM159.7 715.8h.9v.9h-.9zM123.8 723.6h.9v.9h-.9zM95.4 682.0h.9v.9h-.9zM164.4 691.3h.9v.9h-.9zM104.4 768.3h.9v.9h-.9zM68.8 758.3h.9v.9h-.9zM159.2 712.5h.9v.9h-.9zM165.0 693.4h.9v.9h-.9zM175.3 661.5h.9v.9h-.9zM176.7 690.5h.9v.9h-.9zM134.5 741.4h.9v.9h-.9zM107.6 703.8h.9v.9h-.9zM99.9 701.4h.9v.9h-.9zM90.4 757.8h.9v.9h-.9zM124.2 760.5h.9v.9h-.9zM97.3 762.5h.9v.9h-.9zM126.6 746.8h.9v.9h-.9zM98.4 674.4h.9v.9h-.9zM74.0 752.5h.9v.9h-.9zM154.8 730.2h.9v.9h-.9zM121.3 757.2h.9v.9h-.9zM165.8 701.2h.9v.9h-.9zM157.6 716.7h.9v.9h-.9zM118.8 769.0h.9v.9h-.9zM86.4 752.5h.9v.9h-.9zM151.2 744.6h.9v.9h-.9zM170.3 766.9h.9v.9h-.9zM122.4 747.5h.9v.9h-.9zM154.2 678.1h.9v.9h-.9zM151.4 733.6h.9v.9h-.9zM155.5 748.4h.9v.9h-.9zM87.4 697.6h.9v.9h-.9zM90.6 692.1h.9v.9h-.9zM164.4 696.7h.9v.9h-.9zM111.9 769.2h.9v.9h-.9zM94.8 774.7h.9v.9h-.9zM80.8 767.4h.9v.9h-.9zM138.4 743.2h.9v.9h-.9zM151.7 723.9h.9v.9h-.9zM149.3 738.7h.9v.9h-.9zM125.4 663.4h.9v.9h-.9zM166.7 689.4h.9v.9h-.9zM105.5 707.1h.9v.9h-.9zM88.9 697.1h.9v.9h-.9zM107.6 708.6h.9v.9h-.9zM150.1 731.4h.9v.9h-.9zM89.4 764.8h.9v.9h-.9zM93.7 692.9h.9v.9h-.9zM115.5 771.5h.9v.9h-.9zM111.0 676.3h.9v.9h-.9zM160.6 700.3h.9v.9h-.9zM153.9 675.4h.9v.9h-.9zM138.8 761.7h.9v.9h-.9zM69.1 754.7h.9v.9h-.9zM85.7 748.4h.9v.9h-.9zM163.6 670.9h.9v.9h-.9zM128.1 726.2h.9v.9h-.9zM147.8 742.9h.9v.9h-.9zM117.4 718.6h.9v.9h-.9zM140.1 675.0h.9v.9h-.9zM75.7 751.6h.9v.9h-.9zM119.5 764.0h.9v.9h-.9zM123.5 673.3h.9v.9h-.9zM100.2 748.6h.9v.9h-.9zM101.5 716.4h.9v.9h-.9zM113.0 747.6h.9v.9h-.9zM115.9 746.0h.9v.9h-.9zM81.9 694.5h.9v.9h-.9zM158.6 754.5h.9v.9h-.9zM121.7 748.3h.9v.9h-.9zM127.2 745.4h.9v.9h-.9zM96.3 748.9h.9v.9h-.9zM160.8 689.3h.9v.9h-.9zM147.2 736.9h.9v.9h-.9zM102.8 750.0h.9v.9h-.9zM73.3 760.9h.9v.9h-.9zM152.7 731.6h.9v.9h-.9zM169.8 715.2h.9v.9h-.9zM124.5 745.9h.9v.9h-.9zM156.0 752.3h.9v.9h-.9zM98.0 678.6h.9v.9h-.9zM137.3 738.5h.9v.9h-.9zM156.3 674.0h.9v.9h-.9zM111.2 750.7h.9v.9h-.9zM155.6 750.2h.9v.9h-.9zM152.0 733.7h.9v.9h-.9zM91.6 699.8h.9v.9h-.9zM83.4 755.9h.9v.9h-.9zM126.5 728.5h.9v.9h-.9zM82.8 749.7h.9v.9h-.9zM71.5 756.2h.9v.9h-.9zM131.4 729.1h.9v.9h-.9zM71.0 752.4h.9v.9h-.9zM164.8 757.8h.9v.9h-.9zM110.2 712.9h.9v.9h-.9zM69.5 763.8h.9v.9h-.9zM89.7 749.1h.9v.9h-.9zM79.7 746.7h.9v.9h-.9zM144.1 760.1h.9v.9h-.9zM94.9 685.6h.9v.9h-.9zM108.8 747.8h.9v.9h-.9zM153.0 679.4h.9v.9h-.9zM159.9 722.8h.9v.9h-.9zM111.2 677.3h.9v.9h-.9zM71.1 695.3h.9v.9h-.9zM78.5 755.3h.9v.9h-.9zM163.6 726.6h.9v.9h-.9zM139.8 759.0h.9v.9h-.9zM112.0 672.8h.9v.9h-.9zM98.7 758.5h.9v.9h-.9zM135.1 733.5h.9v.9h-.9zM82.6 752.6h.9v.9h-.9zM103.3 707.1h.9v.9h-.9zM123.7 764.4h.9v.9h-.9zM158.7 688.6h.9v.9h-.9zM104.3 746.5h.9v.9h-.9zM111.7 757.0h.9v.9h-.9zM112.8 760.6h.9v.9h-.9zM122.9 753.3h.9v.9h-.9zM158.3 755.9h.9v.9h-.9zM96.4 706.0h.9v.9h-.9zM126.1 761.3h.9v.9h-.9zM157.4 759.7h.9v.9h-.9zM141.2 764.5h.9v.9h-.9zM112.7 759.1h.9v.9h-.9zM179.8 700.4h.9v.9h-.9zM99.2 748.3h.9v.9h-.9zM160.0 714.0h.9v.9h-.9zM94.0 683.8h.9v.9h-.9zM123.3 753.3h.9v.9h-.9zM144.1 764.8h.9v.9h-.9zM162.5 714.9h.9v.9h-.9zM96.0 693.7h.9v.9h-.9zM100.3 666.5h.9v.9h-.9zM171.9 713.3h.9v.9h-.9zM162.1 735.5h.9v.9h-.9zM157.4 724.1h.9v.9h-.9zM93.8 708.1h.9v.9h-.9zM79.2 764.3h.9v.9h-.9zM132.1 763.9h.9v.9h-.9zM87.7 676.8h.9v.9h-.9zM114.7 746.6h.9v.9h-.9zM109.9 713.0h.9v.9h-.9zM74.1 750.1h.9v.9h-.9zM113.0 676.2h.9v.9h-.9zM155.2 750.1h.9v.9h-.9zM138.6 758.0h.9v.9h-.9zM151.9 731.9h.9v.9h-.9zM154.1 750.6h.9v.9h-.9zM107.9 758.8h.9v.9h-.9zM75.2 746.3h.9v.9h-.9zM155.1 670.8h.9v.9h-.9zM99.6 758.3h.9v.9h-.9zM119.3 763.3h.9v.9h-.9zM139.5 742.2h.9v.9h-.9zM107.1 755.8h.9v.9h-.9zM102.7 752.8h.9v.9h-.9zM153.0 751.5h.9v.9h-.9zM124.9 664.3h.9v.9h-.9zM90.5 705.6h.9v.9h-.9zM114.0 675.9h.9v.9h-.9zM75.1 684.4h.9v.9h-.9zM88.8 748.0h.9v.9h-.9zM71.8 755.1h.9v.9h-.9zM112.7 670.3h.9v.9h-.9zM162.1 701.9h.9v.9h-.9zM143.8 770.4h.9v.9h-.9zM151.3 667.7h.9v.9h-.9zM101.5 759.5h.9v.9h-.9zM127.2 723.4h.9v.9h-.9zM152.1 719.4h.9v.9h-.9zM121.4 761.3h.9v.9h-.9zM154.7 760.7h.9v.9h-.9zM141.6 678.2h.9v.9h-.9zM153.3 723.9h.9v.9h-.9zM136.8 755.4h.9v.9h-.9zM122.8 732.1h.9v.9h-.9zM158.0 751.7h.9v.9h-.9zM145.6 675.8h.9v.9h-.9zM120.0 750.9h.9v.9h-.9zM155.7 749.6h.9v.9h-.9zM92.8 698.7h.9v.9h-.9zM171.7 707.0h.9v.9h-.9zM135.5 729.0h.9v.9h-.9zM129.3 674.8h.9v.9h-.9zM132.8 732.9h.9v.9h-.9zM84.4 761.7h.9v.9h-.9zM94.0 693.1h.9v.9h-.9zM140.0 676.8h.9v.9h-.9zM140.5 760.2h.9v.9h-.9zM160.3 694.6h.9v.9h-.9zM105.4 761.4h.9v.9h-.9zM128.9 762.5h.9v.9h-.9zM78.3 760.8h.9v.9h-.9zM145.4 759.7h.9v.9h-.9zM88.9 690.6h.9v.9h-.9zM121.7 677.3h.9v.9h-.9zM98.7 703.7h.9v.9h-.9zM140.1 771.2h.9v.9h-.9zM136.0 675.9h.9v.9h-.9zM123.1 745.3h.9v.9h-.9zM91.0 687.3h.9v.9h-.9zM163.8 702.9h.9v.9h-.9zM118.2 717.0h.9v.9h-.9zM135.2 673.0h.9v.9h-.9zM98.6 693.3h.9v.9h-.9zM90.1 751.7h.9v.9h-.9zM137.0 759.2h.9v.9h-.9zM84.2 745.5h.9v.9h-.9zM136.2 748.8h.9v.9h-.9zM108.1 760.8h.9v.9h-.9z" fill="#a4aee0"/><path d="M159.8 685.4h.9v.9h-.9zM132.6 717.5h.9v.9h-.9zM124.7 705.2h.9v.9h-.9zM103.6 709.9h.9v.9h-.9zM132.2 653.1h.9v.9h-.9zM184.7 707.0h.9v.9h-.9zM125.9 696.1h.9v.9h-.9zM115.7 694.5h.9v.9h-.9zM136.2 684.4h.9v.9h-.9zM113.3 706.8h.9v.9h-.9zM151.8 690.4h.9v.9h-.9zM156.7 755.8h.9v.9h-.9zM159.6 745.6h.9v.9h-.9zM162.9 687.3h.9v.9h-.9zM98.9 684.6h.9v.9h-.9zM123.3 692.3h.9v.9h-.9zM115.4 712.3h.9v.9h-.9zM140.7 703.6h.9v.9h-.9zM142.7 674.9h.9v.9h-.9zM142.3 723.9h.9v.9h-.9zM146.9 693.9h.9v.9h-.9zM139.2 711.7h.9v.9h-.9zM117.7 714.7h.9v.9h-.9zM120.5 712.4h.9v.9h-.9zM139.0 699.6h.9v.9h-.9zM149.4 713.6h.9v.9h-.9zM126.4 710.4h.9v.9h-.9zM162.3 691.1h.9v.9h-.9zM130.6 685.6h.9v.9h-.9zM164.2 727.2h.9v.9h-.9zM135.6 661.5h.9v.9h-.9zM146.7 698.2h.9v.9h-.9zM139.7 681.2h.9v.9h-.9zM130.3 680.9h.9v.9h-.9zM149.7 698.0h.9v.9h-.9zM131.2 698.2h.9v.9h-.9zM120.3 746.2h.9v.9h-.9zM104.8 713.3h.9v.9h-.9zM125.1 726.2h.9v.9h-.9zM125.1 764.8h.9v.9h-.9zM141.6 719.5h.9v.9h-.9zM144.3 720.5h.9v.9h-.9zM127.5 700.9h.9v.9h-.9zM167.8 708.7h.9v.9h-.9zM153.4 697.2h.9v.9h-.9zM115.1 705.0h.9v.9h-.9zM117.9 703.1h.9v.9h-.9zM95.0 698.6h.9v.9h-.9zM152.9 672.3h.9v.9h-.9zM126.0 726.6h.9v.9h-.9zM114.4 700.9h.9v.9h-.9zM106.4 706.4h.9v.9h-.9zM167.8 681.3h.9v.9h-.9zM177.8 730.2h.9v.9h-.9zM110.1 698.9h.9v.9h-.9zM128.8 708.4h.9v.9h-.9zM87.4 700.6h.9v.9h-.9zM111.5 697.8h.9v.9h-.9zM119.5 710.8h.9v.9h-.9zM178.4 727.3h.9v.9h-.9zM118.4 713.5h.9v.9h-.9zM163.3 682.2h.9v.9h-.9zM123.8 729.3h.9v.9h-.9zM117.0 691.0h.9v.9h-.9zM124.4 723.5h.9v.9h-.9zM135.1 678.2h.9v.9h-.9zM151.6 647.8h.9v.9h-.9zM144.1 669.8h.9v.9h-.9zM140.7 686.2h.9v.9h-.9zM153.5 702.7h.9v.9h-.9zM151.4 680.7h.9v.9h-.9zM122.9 700.9h.9v.9h-.9zM163.0 749.9h.9v.9h-.9zM127.9 714.1h.9v.9h-.9zM114.8 706.1h.9v.9h-.9zM105.9 699.0h.9v.9h-.9zM108.7 743.0h.9v.9h-.9zM118.2 746.2h.9v.9h-.9zM94.2 749.3h.9v.9h-.9zM76.4 748.2h.9v.9h-.9zM95.2 753.2h.9v.9h-.9zM84.9 746.8h.9v.9h-.9zM102.7 754.4h.9v.9h-.9zM117.2 754.2h.9v.9h-.9zM119.6 745.6h.9v.9h-.9zM117.1 756.1h.9v.9h-.9zM108.3 750.9h.9v.9h-.9zM141.5 751.1h.9v.9h-.9zM111.3 750.8h.9v.9h-.9zM98.1 749.6h.9v.9h-.9zM115.7 753.9h.9v.9h-.9zM109.5 754.8h.9v.9h-.9zM125.5 740.6h.9v.9h-.9zM57.0 747.6h.9v.9h-.9zM82.6 760.7h.9v.9h-.9zM131.2 755.8h.9v.9h-.9zM91.7 756.2h.9v.9h-.9zM101.2 750.9h.9v.9h-.9zM127.1 752.9h.9v.9h-.9zM60.9 746.4h.9v.9h-.9zM104.7 749.4h.9v.9h-.9zM117.7 749.9h.9v.9h-.9zM88.0 747.1h.9v.9h-.9zM184.4 756.0h.9v.9h-.9zM132.1 749.5h.9v.9h-.9zM103.5 754.7h.9v.9h-.9zM100.8 747.7h.9v.9h-.9zM119.2 749.1h.9v.9h-.9zM125.8 726.2h.9v.9h-.9zM124.0 725.9h.9v.9h-.9zM127.9 728.9h.9v.9h-.9zM131.9 728.7h.9v.9h-.9zM129.6 746.2h.9v.9h-.9zM127.6 733.9h.9v.9h-.9zM159.9 737.5h.9v.9h-.9zM136.9 730.4h.9v.9h-.9zM142.0 734.4h.9v.9h-.9zM140.7 721.7h.9v.9h-.9zM124.1 740.5h.9v.9h-.9zM129.1 739.8h.9v.9h-.9zM128.1 744.9h.9v.9h-.9zM172.7 739.5h.9v.9h-.9zM115.5 727.7h.9v.9h-.9zM154.6 750.6h.9v.9h-.9zM139.8 732.0h.9v.9h-.9zM147.2 724.3h.9v.9h-.9zM121.3 734.2h.9v.9h-.9zM152.2 727.7h.9v.9h-.9zM92.6 738.6h.9v.9h-.9zM133.8 735.0h.9v.9h-.9zM124.6 738.5h.9v.9h-.9zM163.2 742.4h.9v.9h-.9zM96.5 748.2h.9v.9h-.9zM100.9 758.5h.9v.9h-.9zM154.3 765.3h.9v.9h-.9zM128.2 745.8h.9v.9h-.9zM151.6 674.8h.9v.9h-.9zM59.9 755.0h.9v.9h-.9zM150.5 671.4h.9v.9h-.9zM135.4 761.8h.9v.9h-.9zM98.2 757.5h.9v.9h-.9zM68.2 751.0h.9v.9h-.9zM139.8 668.9h.9v.9h-.9zM124.9 758.2h.9v.9h-.9zM139.2 764.4h.9v.9h-.9zM84.9 680.0h.9v.9h-.9zM141.3 759.5h.9v.9h-.9zM160.6 701.2h.9v.9h-.9zM102.1 749.2h.9v.9h-.9zM159.2 712.4h.9v.9h-.9zM94.4 691.2h.9v.9h-.9zM96.6 671.5h.9v.9h-.9zM95.7 700.9h.9v.9h-.9zM64.1 756.4h.9v.9h-.9zM109.3 717.7h.9v.9h-.9zM107.3 714.2h.9v.9h-.9zM148.8 748.4h.9v.9h-.9zM132.0 729.2h.9v.9h-.9zM75.8 748.2h.9v.9h-.9zM84.9 759.6h.9v.9h-.9zM151.0 758.6h.9v.9h-.9zM107.7 760.2h.9v.9h-.9zM87.5 746.8h.9v.9h-.9zM104.5 706.7h.9v.9h-.9zM117.1 747.9h.9v.9h-.9zM103.7 748.2h.9v.9h-.9zM119.2 675.2h.9v.9h-.9zM136.6 735.4h.9v.9h-.9zM150.3 771.5h.9v.9h-.9zM122.4 675.5h.9v.9h-.9zM117.8 764.5h.9v.9h-.9zM109.7 758.9h.9v.9h-.9zM144.0 764.8h.9v.9h-.9zM112.4 763.3h.9v.9h-.9zM135.3 747.9h.9v.9h-.9zM117.1 714.5h.9v.9h-.9zM136.3 734.8h.9v.9h-.9zM158.0 683.9h.9v.9h-.9zM185.2 672.1h.9v.9h-.9zM103.5 757.4h.9v.9h-.9zM103.8 679.8h.9v.9h-.9zM116.5 759.7h.9v.9h-.9zM128.4 762.0h.9v.9h-.9zM154.3 754.4h.9v.9h-.9zM89.3 699.1h.9v.9h-.9zM160.5 690.7h.9v.9h-.9zM150.4 745.8h.9v.9h-.9zM77.1 746.6h.9v.9h-.9zM147.8 740.2h.9v.9h-.9zM128.2 677.1h.9v.9h-.9zM121.9 726.7h.9v.9h-.9zM110.6 751.3h.9v.9h-.9zM73.3 749.0h.9v.9h-.9zM135.8 679.1h.9v.9h-.9zM140.8 676.8h.9v.9h-.9zM92.5 765.7h.9v.9h-.9zM123.3 722.1h.9v.9h-.9zM71.6 752.0h.9v.9h-.9zM93.8 759.2h.9v.9h-.9zM111.5 730.4h.9v.9h-.9zM156.9 750.1h.9v.9h-.9zM116.4 746.5h.9v.9h-.9zM164.1 702.2h.9v.9h-.9zM93.0 753.9h.9v.9h-.9zM148.8 759.4h.9v.9h-.9zM125.7 760.7h.9v.9h-.9zM104.7 677.2h.9v.9h-.9zM101.0 753.0h.9v.9h-.9zM161.1 744.9h.9v.9h-.9zM66.8 759.7h.9v.9h-.9zM103.9 671.1h.9v.9h-.9zM130.5 745.6h.9v.9h-.9zM91.9 746.7h.9v.9h-.9zM72.3 750.7h.9v.9h-.9zM80.1 748.8h.9v.9h-.9zM101.3 765.1h.9v.9h-.9zM105.8 706.5h.9v.9h-.9zM111.8 669.5h.9v.9h-.9zM97.5 681.6h.9v.9h-.9zM127.7 676.9h.9v.9h-.9zM96.6 765.8h.9v.9h-.9zM151.0 749.2h.9v.9h-.9zM160.2 728.1h.9v.9h-.9zM103.3 709.3h.9v.9h-.9zM160.5 699.7h.9v.9h-.9zM91.5 692.6h.9v.9h-.9zM86.5 747.0h.9v.9h-.9zM146.5 675.0h.9v.9h-.9zM84.3 720.7h.9v.9h-.9zM115.8 760.5h.9v.9h-.9zM139.8 676.1h.9v.9h-.9zM112.3 754.9h.9v.9h-.9zM156.9 730.8h.9v.9h-.9zM165.0 689.0h.9v.9h-.9zM95.3 764.0h.9v.9h-.9zM152.8 751.0h.9v.9h-.9zM87.8 689.8h.9v.9h-.9zM109.3 774.6h.9v.9h-.9zM154.6 751.4h.9v.9h-.9zM139.1 750.0h.9v.9h-.9zM134.6 731.6h.9v.9h-.9zM145.9 665.9h.9v.9h-.9zM154.7 679.9h.9v.9h-.9zM155.3 729.2h.9v.9h-.9zM158.3 755.3h.9v.9h-.9zM58.1 761.1h.9v.9h-.9zM141.9 763.6h.9v.9h-.9zM69.8 761.2h.9v.9h-.9zM80.7 699.2h.9v.9h-.9zM162.4 716.4h.9v.9h-.9zM132.3 726.9h.9v.9h-.9zM94.2 701.1h.9v.9h-.9zM158.3 679.1h.9v.9h-.9zM84.2 745.9h.9v.9h-.9zM103.2 677.2h.9v.9h-.9zM141.0 763.4h.9v.9h-.9zM159.9 718.7h.9v.9h-.9zM107.2 761.3h.9v.9h-.9zM129.6 747.5h.9v.9h-.9zM83.1 753.9h.9v.9h-.9zM100.9 701.2h.9v.9h-.9zM63.0 753.1h.9v.9h-.9zM152.0 749.0h.9v.9h-.9zM143.3 760.3h.9v.9h-.9zM105.6 677.7h.9v.9h-.9zM109.9 677.6h.9v.9h-.9zM151.6 750.2h.9v.9h-.9zM101.3 681.8h.9v.9h-.9zM107.6 677.7h.9v.9h-.9zM151.2 747.9h.9v.9h-.9zM102.6 750.2h.9v.9h-.9zM119.5 673.2h.9v.9h-.9zM90.3 707.0h.9v.9h-.9zM96.1 700.1h.9v.9h-.9zM108.2 756.7h.9v.9h-.9zM68.4 770.4h.9v.9h-.9zM97.9 691.0h.9v.9h-.9zM121.4 721.9h.9v.9h-.9zM166.3 679.4h.9v.9h-.9zM90.9 749.3h.9v.9h-.9zM78.9 760.6h.9v.9h-.9zM171.9 698.2h.9v.9h-.9zM99.9 676.3h.9v.9h-.9zM134.7 733.6h.9v.9h-.9zM114.3 669.9h.9v.9h-.9zM84.7 756.6h.9v.9h-.9zM148.4 678.5h.9v.9h-.9zM150.5 738.8h.9v.9h-.9zM132.1 729.3h.9v.9h-.9zM137.0 672.9h.9v.9h-.9zM107.2 711.8h.9v.9h-.9zM117.0 674.5h.9v.9h-.9zM118.4 673.9h.9v.9h-.9zM85.9 686.2h.9v.9h-.9zM161.4 699.4h.9v.9h-.9zM147.1 677.7h.9v.9h-.9zM133.9 738.8h.9v.9h-.9zM85.4 748.1h.9v.9h-.9zM107.6 675.8h.9v.9h-.9zM158.3 721.5h.9v.9h-.9zM147.1 762.4h.9v.9h-.9zM135.4 740.8h.9v.9h-.9zM145.1 670.5h.9v.9h-.9zM141.2 758.0h.9v.9h-.9zM95.0 675.6h.9v.9h-.9zM156.1 749.0h.9v.9h-.9zM161.6 714.2h.9v.9h-.9zM87.7 750.0h.9v.9h-.9zM101.5 706.5h.9v.9h-.9zM139.8 759.6h.9v.9h-.9zM152.1 727.1h.9v.9h-.9zM70.8 754.7h.9v.9h-.9zM98.1 700.9h.9v.9h-.9zM121.1 717.8h.9v.9h-.9zM121.1 746.6h.9v.9h-.9zM134.9 736.7h.9v.9h-.9zM106.8 710.9h.9v.9h-.9zM157.0 749.6h.9v.9h-.9zM108.3 760.9h.9v.9h-.9zM102.2 759.1h.9v.9h-.9zM124.3 758.6h.9v.9h-.9zM103.9 749.9h.9v.9h-.9zM95.7 748.0h.9v.9h-.9zM112.1 660.5h.9v.9h-.9zM106.6 754.7h.9v.9h-.9zM111.0 745.2h.9v.9h-.9zM130.3 745.1h.9v.9h-.9zM107.1 705.9h.9v.9h-.9zM151.1 678.8h.9v.9h-.9zM156.1 718.5h.9v.9h-.9zM85.7 694.5h.9v.9h-.9zM152.2 759.3h.9v.9h-.9zM83.1 749.8h.9v.9h-.9zM86.7 749.4h.9v.9h-.9zM149.6 672.4h.9v.9h-.9zM112.2 754.9h.9v.9h-.9zM104.1 707.7h.9v.9h-.9zM107.9 708.5h.9v.9h-.9zM133.0 766.0h.9v.9h-.9zM123.3 724.5h.9v.9h-.9zM154.6 778.9h.9v.9h-.9zM140.3 755.5h.9v.9h-.9zM138.6 740.7h.9v.9h-.9zM90.0 691.7h.9v.9h-.9zM101.8 747.2h.9v.9h-.9zM149.9 760.0h.9v.9h-.9zM105.1 676.9h.9v.9h-.9zM104.3 678.3h.9v.9h-.9zM90.3 696.4h.9v.9h-.9zM177.0 689.5h.9v.9h-.9zM159.3 686.2h.9v.9h-.9zM138.5 739.6h.9v.9h-.9zM155.9 764.1h.9v.9h-.9zM105.3 747.5h.9v.9h-.9zM112.3 744.9h.9v.9h-.9zM78.9 753.7h.9v.9h-.9zM155.7 748.3h.9v.9h-.9zM80.8 746.0h.9v.9h-.9zM136.9 661.3h.9v.9h-.9zM150.2 731.1h.9v.9h-.9zM73.6 754.5h.9v.9h-.9zM159.6 752.2h.9v.9h-.9zM116.0 748.7h.9v.9h-.9zM120.6 728.5h.9v.9h-.9zM124.4 721.1h.9v.9h-.9zM107.7 751.5h.9v.9h-.9zM159.4 688.5h.9v.9h-.9zM122.1 747.2h.9v.9h-.9zM123.9 759.4h.9v.9h-.9zM88.7 694.1h.9v.9h-.9zM109.3 669.4h.9v.9h-.9zM121.4 676.7h.9v.9h-.9zM167.1 720.3h.9v.9h-.9zM101.5 748.5h.9v.9h-.9zM78.7 690.5h.9v.9h-.9zM95.9 700.7h.9v.9h-.9zM123.7 759.3h.9v.9h-.9zM99.5 757.3h.9v.9h-.9zM125.1 724.4h.9v.9h-.9zM112.8 717.5h.9v.9h-.9zM121.0 749.1h.9v.9h-.9zM97.1 748.6h.9v.9h-.9zM153.8 722.8h.9v.9h-.9zM106.4 677.2h.9v.9h-.9zM97.3 758.4h.9v.9h-.9zM117.8 747.5h.9v.9h-.9zM65.8 756.9h.9v.9h-.9zM66.5 758.2h.9v.9h-.9zM139.0 760.7h.9v.9h-.9zM150.1 733.1h.9v.9h-.9zM121.8 766.3h.9v.9h-.9zM123.2 748.1h.9v.9h-.9zM86.8 761.7h.9v.9h-.9zM101.1 748.7h.9v.9h-.9zM110.4 747.6h.9v.9h-.9zM97.9 701.6h.9v.9h-.9zM159.1 707.2h.9v.9h-.9zM111.1 755.3h.9v.9h-.9zM121.1 673.9h.9v.9h-.9zM103.9 707.8h.9v.9h-.9zM111.8 670.5h.9v.9h-.9zM135.4 734.0h.9v.9h-.9zM160.8 720.5h.9v.9h-.9zM137.8 742.8h.9v.9h-.9zM73.5 770.6h.9v.9h-.9zM166.4 697.1h.9v.9h-.9zM152.5 745.5h.9v.9h-.9zM136.3 730.7h.9v.9h-.9zM149.8 728.8h.9v.9h-.9zM138.8 666.2h.9v.9h-.9zM121.0 761.3h.9v.9h-.9zM106.0 711.9h.9v.9h-.9zM87.9 687.2h.9v.9h-.9zM148.5 764.8h.9v.9h-.9zM69.5 750.5h.9v.9h-.9zM72.2 752.1h.9v.9h-.9zM175.1 691.3h.9v.9h-.9zM102.7 709.6h.9v.9h-.9zM131.9 730.1h.9v.9h-.9zM163.8 758.9h.9v.9h-.9zM161.5 699.9h.9v.9h-.9zM105.4 681.0h.9v.9h-.9zM151.5 748.1h.9v.9h-.9z" fill="#ccbcc8"/><path d="M128.1 678.4h.9v.9h-.9zM147.8 682.4h.9v.9h-.9zM161.3 716.9h.9v.9h-.9zM170.3 666.1h.9v.9h-.9zM130.6 732.5h.9v.9h-.9zM146.3 700.8h.9v.9h-.9zM122.6 724.5h.9v.9h-.9zM137.2 716.8h.9v.9h-.9zM140.9 691.8h.9v.9h-.9zM120.9 713.1h.9v.9h-.9zM136.2 691.0h.9v.9h-.9zM165.4 711.2h.9v.9h-.9zM135.1 687.4h.9v.9h-.9zM134.9 709.9h.9v.9h-.9zM126.5 723.1h.9v.9h-.9zM92.5 723.6h.9v.9h-.9zM100.7 726.3h.9v.9h-.9zM144.9 653.2h.9v.9h-.9zM153.4 683.1h.9v.9h-.9zM146.2 727.4h.9v.9h-.9zM131.2 692.1h.9v.9h-.9zM131.5 685.6h.9v.9h-.9zM120.7 693.9h.9v.9h-.9zM134.2 698.2h.9v.9h-.9zM147.6 703.3h.9v.9h-.9zM137.8 729.5h.9v.9h-.9zM139.9 727.0h.9v.9h-.9zM146.1 717.2h.9v.9h-.9zM147.9 721.2h.9v.9h-.9zM182.8 713.5h.9v.9h-.9zM76.3 723.5h.9v.9h-.9zM131.0 702.5h.9v.9h-.9zM149.3 701.9h.9v.9h-.9zM122.0 750.4h.9v.9h-.9zM131.5 699.1h.9v.9h-.9zM145.0 677.2h.9v.9h-.9zM108.3 735.2h.9v.9h-.9zM102.3 725.1h.9v.9h-.9zM81.5 716.0h.9v.9h-.9zM151.5 671.0h.9v.9h-.9zM170.5 752.2h.9v.9h-.9zM114.5 712.5h.9v.9h-.9zM156.8 711.4h.9v.9h-.9zM147.5 698.0h.9v.9h-.9zM139.8 702.3h.9v.9h-.9zM109.3 703.1h.9v.9h-.9zM161.7 682.1h.9v.9h-.9zM108.3 666.6h.9v.9h-.9zM116.7 679.2h.9v.9h-.9zM151.3 658.6h.9v.9h-.9zM129.6 696.0h.9v.9h-.9zM127.8 718.3h.9v.9h-.9zM121.2 727.8h.9v.9h-.9zM92.4 716.0h.9v.9h-.9zM120.9 718.3h.9v.9h-.9zM141.0 690.2h.9v.9h-.9zM79.4 708.1h.9v.9h-.9zM158.1 719.8h.9v.9h-.9zM117.9 707.1h.9v.9h-.9zM136.8 758.2h.9v.9h-.9zM120.4 695.9h.9v.9h-.9zM129.8 722.7h.9v.9h-.9zM147.0 756.5h.9v.9h-.9zM130.6 727.4h.9v.9h-.9zM107.8 710.1h.9v.9h-.9zM86.1 715.0h.9v.9h-.9zM109.9 717.2h.9v.9h-.9zM166.1 717.7h.9v.9h-.9zM166.3 687.2h.9v.9h-.9zM125.8 689.2h.9v.9h-.9zM134.5 745.6h.9v.9h-.9zM121.5 751.6h.9v.9h-.9zM92.4 756.8h.9v.9h-.9zM125.8 750.6h.9v.9h-.9zM100.9 746.1h.9v.9h-.9zM138.5 753.3h.9v.9h-.9zM113.7 758.3h.9v.9h-.9zM70.7 758.7h.9v.9h-.9zM82.6 750.0h.9v.9h-.9zM74.3 746.1h.9v.9h-.9zM86.7 746.8h.9v.9h-.9zM97.6 743.8h.9v.9h-.9zM127.3 748.5h.9v.9h-.9zM130.6 745.9h.9v.9h-.9zM130.8 758.0h.9v.9h-.9zM130.4 750.2h.9v.9h-.9zM109.9 748.5h.9v.9h-.9zM108.3 756.9h.9v.9h-.9zM140.0 754.4h.9v.9h-.9zM114.9 748.9h.9v.9h-.9zM105.2 745.7h.9v.9h-.9zM131.9 758.8h.9v.9h-.9zM140.6 751.4h.9v.9h-.9zM86.6 741.6h.9v.9h-.9zM113.1 746.3h.9v.9h-.9zM113.7 747.1h.9v.9h-.9zM72.0 753.0h.9v.9h-.9zM125.2 755.1h.9v.9h-.9zM115.1 749.4h.9v.9h-.9zM113.6 758.8h.9v.9h-.9zM152.0 736.1h.9v.9h-.9zM160.0 722.8h.9v.9h-.9zM135.2 708.3h.9v.9h-.9zM124.5 752.8h.9v.9h-.9zM131.2 725.6h.9v.9h-.9zM154.1 730.3h.9v.9h-.9zM125.1 747.5h.9v.9h-.9zM137.9 722.9h.9v.9h-.9zM139.8 744.2h.9v.9h-.9zM92.1 730.5h.9v.9h-.9zM148.6 737.9h.9v.9h-.9zM144.5 732.7h.9v.9h-.9zM146.2 732.4h.9v.9h-.9zM131.0 732.7h.9v.9h-.9zM131.1 735.3h.9v.9h-.9zM143.1 751.9h.9v.9h-.9zM149.9 744.4h.9v.9h-.9zM125.9 754.1h.9v.9h-.9zM164.4 740.1h.9v.9h-.9zM136.3 739.0h.9v.9h-.9zM131.2 739.7h.9v.9h-.9zM114.8 733.9h.9v.9h-.9zM140.1 737.0h.9v.9h-.9zM138.3 746.7h.9v.9h-.9zM155.0 730.7h.9v.9h-.9zM134.7 718.1h.9v.9h-.9zM124.3 725.0h.9v.9h-.9zM172.4 732.0h.9v.9h-.9zM131.9 740.3h.9v.9h-.9zM95.9 683.8h.9v.9h-.9zM134.7 678.0h.9v.9h-.9zM133.3 733.1h.9v.9h-.9zM159.3 715.2h.9v.9h-.9zM119.1 751.8h.9v.9h-.9zM81.6 758.6h.9v.9h-.9zM162.0 692.2h.9v.9h-.9zM87.4 757.7h.9v.9h-.9zM75.3 749.1h.9v.9h-.9zM124.6 724.5h.9v.9h-.9zM162.3 700.4h.9v.9h-.9zM99.2 758.7h.9v.9h-.9zM156.8 758.4h.9v.9h-.9zM96.8 692.9h.9v.9h-.9zM132.5 734.0h.9v.9h-.9zM167.9 706.8h.9v.9h-.9zM157.8 720.6h.9v.9h-.9zM142.8 677.4h.9v.9h-.9zM83.7 762.0h.9v.9h-.9zM76.5 747.9h.9v.9h-.9zM132.0 727.6h.9v.9h-.9zM80.2 760.1h.9v.9h-.9zM127.2 724.7h.9v.9h-.9zM90.5 756.4h.9v.9h-.9zM109.0 748.0h.9v.9h-.9zM105.7 710.5h.9v.9h-.9zM161.5 698.2h.9v.9h-.9zM150.5 681.0h.9v.9h-.9zM99.8 703.3h.9v.9h-.9zM80.4 768.4h.9v.9h-.9zM129.2 725.5h.9v.9h-.9zM99.9 758.3h.9v.9h-.9zM70.7 753.0h.9v.9h-.9zM94.5 695.5h.9v.9h-.9zM100.0 758.8h.9v.9h-.9zM138.3 762.7h.9v.9h-.9zM98.4 700.7h.9v.9h-.9zM97.4 679.9h.9v.9h-.9zM107.8 708.9h.9v.9h-.9zM98.0 701.3h.9v.9h-.9zM159.8 697.8h.9v.9h-.9zM149.7 730.9h.9v.9h-.9zM148.3 745.1h.9v.9h-.9zM89.7 700.9h.9v.9h-.9zM83.9 748.3h.9v.9h-.9zM105.9 761.7h.9v.9h-.9zM66.1 768.1h.9v.9h-.9zM129.3 726.8h.9v.9h-.9zM151.2 675.9h.9v.9h-.9zM156.1 755.5h.9v.9h-.9zM133.6 737.5h.9v.9h-.9zM157.9 711.0h.9v.9h-.9zM127.6 728.7h.9v.9h-.9zM152.8 680.2h.9v.9h-.9zM135.6 763.0h.9v.9h-.9zM151.7 731.1h.9v.9h-.9zM110.9 712.5h.9v.9h-.9zM105.0 708.6h.9v.9h-.9zM99.7 761.2h.9v.9h-.9zM140.9 752.0h.9v.9h-.9zM140.6 672.0h.9v.9h-.9zM120.0 676.5h.9v.9h-.9zM125.1 760.2h.9v.9h-.9zM159.2 762.1h.9v.9h-.9zM163.3 689.0h.9v.9h-.9zM117.2 718.5h.9v.9h-.9zM104.5 750.4h.9v.9h-.9zM175.1 727.8h.9v.9h-.9zM108.1 763.4h.9v.9h-.9zM74.9 752.1h.9v.9h-.9zM126.8 740.7h.9v.9h-.9zM111.4 747.0h.9v.9h-.9zM109.8 748.0h.9v.9h-.9zM136.8 737.4h.9v.9h-.9zM106.1 713.9h.9v.9h-.9zM105.3 677.6h.9v.9h-.9zM118.3 746.3h.9v.9h-.9zM125.4 724.9h.9v.9h-.9zM155.5 720.8h.9v.9h-.9zM162.2 708.1h.9v.9h-.9zM89.1 764.8h.9v.9h-.9zM131.5 767.2h.9v.9h-.9zM72.7 749.3h.9v.9h-.9zM103.7 712.0h.9v.9h-.9zM147.7 677.9h.9v.9h-.9zM150.4 746.0h.9v.9h-.9zM119.3 762.2h.9v.9h-.9zM151.8 680.6h.9v.9h-.9zM82.4 751.6h.9v.9h-.9zM145.7 786.3h.9v.9h-.9zM135.9 759.3h.9v.9h-.9zM76.8 761.9h.9v.9h-.9zM107.1 723.3h.9v.9h-.9zM143.9 674.4h.9v.9h-.9zM114.4 742.4h.9v.9h-.9zM159.3 753.3h.9v.9h-.9zM159.1 756.7h.9v.9h-.9zM159.5 686.0h.9v.9h-.9zM107.9 757.4h.9v.9h-.9zM98.8 679.3h.9v.9h-.9zM157.0 748.9h.9v.9h-.9zM165.4 700.0h.9v.9h-.9zM109.8 762.2h.9v.9h-.9zM86.3 762.1h.9v.9h-.9zM101.8 702.7h.9v.9h-.9zM79.2 762.3h.9v.9h-.9zM135.4 672.8h.9v.9h-.9zM94.8 690.9h.9v.9h-.9zM89.8 684.8h.9v.9h-.9zM134.4 739.6h.9v.9h-.9zM159.7 699.9h.9v.9h-.9zM127.7 676.6h.9v.9h-.9zM75.7 758.3h.9v.9h-.9zM122.2 671.5h.9v.9h-.9zM101.8 763.3h.9v.9h-.9zM110.6 749.7h.9v.9h-.9zM57.6 768.7h.9v.9h-.9zM171.9 691.0h.9v.9h-.9zM57.5 760.9h.9v.9h-.9zM126.3 723.8h.9v.9h-.9zM98.7 748.1h.9v.9h-.9zM146.8 675.2h.9v.9h-.9zM157.1 749.2h.9v.9h-.9zM148.2 745.3h.9v.9h-.9zM115.0 720.7h.9v.9h-.9zM118.6 719.8h.9v.9h-.9zM97.1 691.4h.9v.9h-.9zM136.2 731.7h.9v.9h-.9zM77.5 687.5h.9v.9h-.9zM161.6 692.2h.9v.9h-.9zM109.2 748.5h.9v.9h-.9zM102.5 679.0h.9v.9h-.9zM161.1 698.7h.9v.9h-.9zM131.0 767.4h.9v.9h-.9zM126.9 762.7h.9v.9h-.9zM87.7 756.6h.9v.9h-.9zM132.0 726.0h.9v.9h-.9zM91.0 748.9h.9v.9h-.9zM104.1 711.1h.9v.9h-.9zM164.5 683.4h.9v.9h-.9zM102.8 708.1h.9v.9h-.9zM115.5 676.9h.9v.9h-.9zM90.4 751.5h.9v.9h-.9zM115.8 749.6h.9v.9h-.9zM93.8 701.6h.9v.9h-.9zM149.4 748.7h.9v.9h-.9zM174.4 715.5h.9v.9h-.9zM153.6 720.2h.9v.9h-.9zM112.2 755.1h.9v.9h-.9zM142.5 764.3h.9v.9h-.9zM142.5 678.1h.9v.9h-.9zM138.6 759.8h.9v.9h-.9zM97.0 694.1h.9v.9h-.9zM121.2 759.6h.9v.9h-.9zM128.6 726.3h.9v.9h-.9zM103.2 747.5h.9v.9h-.9zM147.2 678.2h.9v.9h-.9zM98.2 698.7h.9v.9h-.9zM94.9 746.7h.9v.9h-.9zM88.7 695.9h.9v.9h-.9zM161.9 760.9h.9v.9h-.9zM104.3 682.1h.9v.9h-.9zM108.1 763.9h.9v.9h-.9zM142.5 673.8h.9v.9h-.9zM87.3 745.7h.9v.9h-.9zM158.3 756.6h.9v.9h-.9zM114.1 758.6h.9v.9h-.9zM124.6 747.2h.9v.9h-.9zM109.4 757.6h.9v.9h-.9zM140.3 757.0h.9v.9h-.9zM110.5 714.9h.9v.9h-.9zM162.3 689.6h.9v.9h-.9zM74.3 758.7h.9v.9h-.9zM117.3 720.4h.9v.9h-.9zM138.0 746.5h.9v.9h-.9zM103.9 706.6h.9v.9h-.9zM120.1 722.7h.9v.9h-.9zM152.8 745.3h.9v.9h-.9zM95.5 683.0h.9v.9h-.9zM96.2 685.8h.9v.9h-.9zM134.5 756.7h.9v.9h-.9zM112.2 756.7h.9v.9h-.9zM172.6 686.3h.9v.9h-.9zM150.8 678.4h.9v.9h-.9zM67.9 753.3h.9v.9h-.9zM91.3 697.0h.9v.9h-.9zM134.7 729.2h.9v.9h-.9zM108.0 671.8h.9v.9h-.9zM124.4 720.3h.9v.9h-.9zM143.3 761.9h.9v.9h-.9zM142.6 676.7h.9v.9h-.9zM118.4 750.0h.9v.9h-.9zM83.2 747.3h.9v.9h-.9zM151.9 752.5h.9v.9h-.9zM101.0 760.2h.9v.9h-.9zM126.5 723.8h.9v.9h-.9zM137.2 736.7h.9v.9h-.9zM152.6 755.8h.9v.9h-.9zM151.3 759.7h.9v.9h-.9zM108.0 759.3h.9v.9h-.9zM166.3 714.2h.9v.9h-.9zM90.2 686.2h.9v.9h-.9zM95.4 698.5h.9v.9h-.9zM121.9 727.2h.9v.9h-.9zM120.7 760.3h.9v.9h-.9zM99.3 702.0h.9v.9h-.9zM122.3 663.1h.9v.9h-.9zM139.3 758.5h.9v.9h-.9zM146.4 757.2h.9v.9h-.9zM125.6 758.8h.9v.9h-.9zM103.5 748.5h.9v.9h-.9zM106.7 674.2h.9v.9h-.9zM83.5 758.4h.9v.9h-.9zM104.1 756.4h.9v.9h-.9zM102.4 749.2h.9v.9h-.9zM134.0 748.2h.9v.9h-.9zM156.1 769.1h.9v.9h-.9zM78.4 747.9h.9v.9h-.9zM102.4 675.7h.9v.9h-.9zM76.3 758.6h.9v.9h-.9zM144.7 678.4h.9v.9h-.9zM134.8 733.5h.9v.9h-.9zM134.5 746.5h.9v.9h-.9zM135.8 745.9h.9v.9h-.9zM153.3 749.1h.9v.9h-.9zM96.2 749.1h.9v.9h-.9zM137.1 735.2h.9v.9h-.9zM102.4 768.5h.9v.9h-.9zM139.9 745.5h.9v.9h-.9zM140.9 761.2h.9v.9h-.9zM109.1 717.3h.9v.9h-.9zM98.5 674.6h.9v.9h-.9zM152.3 678.6h.9v.9h-.9zM81.1 748.1h.9v.9h-.9zM118.6 749.4h.9v.9h-.9zM98.8 692.8h.9v.9h-.9zM114.3 750.0h.9v.9h-.9zM151.7 735.5h.9v.9h-.9zM81.3 771.6h.9v.9h-.9zM162.0 712.8h.9v.9h-.9zM94.1 703.0h.9v.9h-.9zM106.8 711.3h.9v.9h-.9zM129.9 729.9h.9v.9h-.9zM139.0 675.9h.9v.9h-.9zM85.4 744.1h.9v.9h-.9zM115.1 678.1h.9v.9h-.9zM150.2 739.5h.9v.9h-.9zM137.8 763.3h.9v.9h-.9zM111.4 661.8h.9v.9h-.9zM162.0 715.7h.9v.9h-.9zM98.5 701.7h.9v.9h-.9zM88.4 700.1h.9v.9h-.9zM135.0 742.5h.9v.9h-.9zM97.7 700.4h.9v.9h-.9zM84.0 747.1h.9v.9h-.9zM162.2 715.4h.9v.9h-.9zM79.1 717.3h.9v.9h-.9zM129.0 727.9h.9v.9h-.9zM158.7 718.8h.9v.9h-.9zM97.8 701.2h.9v.9h-.9zM93.9 762.7h.9v.9h-.9zM123.7 757.8h.9v.9h-.9zM154.1 721.7h.9v.9h-.9zM122.5 676.9h.9v.9h-.9zM159.6 758.5h.9v.9h-.9zM128.5 743.2h.9v.9h-.9zM158.5 760.9h.9v.9h-.9zM69.1 752.6h.9v.9h-.9zM162.0 756.2h.9v.9h-.9zM82.6 751.0h.9v.9h-.9zM129.9 675.2h.9v.9h-.9zM115.3 770.8h.9v.9h-.9zM148.8 737.1h.9v.9h-.9zM86.6 754.4h.9v.9h-.9zM153.9 678.3h.9v.9h-.9zM149.7 729.7h.9v.9h-.9zM165.9 689.3h.9v.9h-.9zM157.8 756.2h.9v.9h-.9zM187.3 703.9h.9v.9h-.9zM106.8 747.7h.9v.9h-.9zM98.9 753.3h.9v.9h-.9zM88.8 700.8h.9v.9h-.9zM130.1 673.0h.9v.9h-.9zM73.8 758.2h.9v.9h-.9zM84.8 684.7h.9v.9h-.9zM91.2 683.4h.9v.9h-.9zM82.0 772.5h.9v.9h-.9zM72.3 761.7h.9v.9h-.9zM138.7 759.2h.9v.9h-.9zM154.4 681.4h.9v.9h-.9zM85.8 746.7h.9v.9h-.9zM123.4 755.6h.9v.9h-.9zM116.4 748.4h.9v.9h-.9zM134.7 760.1h.9v.9h-.9zM78.8 692.1h.9v.9h-.9zM101.0 752.3h.9v.9h-.9zM102.5 679.0h.9v.9h-.9zM93.5 772.2h.9v.9h-.9zM136.4 733.5h.9v.9h-.9zM152.3 722.8h.9v.9h-.9zM63.8 754.1h.9v.9h-.9zM113.8 675.7h.9v.9h-.9zM157.4 752.1h.9v.9h-.9zM76.0 754.9h.9v.9h-.9zM96.9 749.8h.9v.9h-.9zM162.6 688.7h.9v.9h-.9zM107.7 759.6h.9v.9h-.9zM129.2 748.7h.9v.9h-.9zM128.3 745.1h.9v.9h-.9zM125.1 757.2h.9v.9h-.9zM154.0 748.1h.9v.9h-.9z" fill="#8c98d8"/><path d="M87.7 714.3h.9v.9h-.9zM101.8 705.6h.9v.9h-.9zM94.8 712.1h.9v.9h-.9zM121.2 713.2h.9v.9h-.9zM129.4 724.5h.9v.9h-.9zM143.9 685.6h.9v.9h-.9zM122.5 726.7h.9v.9h-.9zM172.2 687.4h.9v.9h-.9zM125.7 710.3h.9v.9h-.9zM125.1 714.6h.9v.9h-.9zM128.2 701.9h.9v.9h-.9zM145.7 693.2h.9v.9h-.9zM104.3 745.8h.9v.9h-.9zM119.2 694.0h.9v.9h-.9zM107.9 694.0h.9v.9h-.9zM106.3 676.7h.9v.9h-.9zM132.7 698.5h.9v.9h-.9zM126.8 694.4h.9v.9h-.9zM113.6 683.4h.9v.9h-.9zM112.6 712.7h.9v.9h-.9zM174.9 741.9h.9v.9h-.9zM166.2 721.6h.9v.9h-.9zM173.8 715.4h.9v.9h-.9zM134.2 717.5h.9v.9h-.9zM145.0 703.9h.9v.9h-.9zM99.0 699.4h.9v.9h-.9zM131.1 695.8h.9v.9h-.9zM118.6 687.8h.9v.9h-.9zM103.6 686.2h.9v.9h-.9zM142.1 691.0h.9v.9h-.9zM118.2 710.3h.9v.9h-.9zM133.3 704.4h.9v.9h-.9zM122.5 734.3h.9v.9h-.9zM144.5 706.3h.9v.9h-.9zM82.0 699.7h.9v.9h-.9zM119.5 679.0h.9v.9h-.9zM148.3 734.5h.9v.9h-.9zM101.6 678.4h.9v.9h-.9zM143.1 710.6h.9v.9h-.9zM129.7 700.0h.9v.9h-.9zM164.0 691.2h.9v.9h-.9zM133.4 687.1h.9v.9h-.9zM84.8 676.7h.9v.9h-.9zM128.7 745.3h.9v.9h-.9zM105.5 682.1h.9v.9h-.9zM184.8 695.5h.9v.9h-.9zM129.6 722.7h.9v.9h-.9zM150.0 709.4h.9v.9h-.9zM138.6 716.6h.9v.9h-.9zM151.2 703.8h.9v.9h-.9zM56.4 716.9h.9v.9h-.9zM126.4 719.9h.9v.9h-.9zM80.0 721.7h.9v.9h-.9zM169.9 706.5h.9v.9h-.9zM138.6 684.8h.9v.9h-.9zM113.3 722.5h.9v.9h-.9zM151.7 715.0h.9v.9h-.9zM183.3 673.3h.9v.9h-.9zM114.2 725.5h.9v.9h-.9zM105.9 722.5h.9v.9h-.9zM120.2 664.3h.9v.9h-.9zM118.3 723.0h.9v.9h-.9zM104.4 709.1h.9v.9h-.9zM142.4 710.2h.9v.9h-.9zM109.1 706.9h.9v.9h-.9zM131.9 700.4h.9v.9h-.9zM105.3 696.0h.9v.9h-.9zM145.3 709.7h.9v.9h-.9zM113.9 690.4h.9v.9h-.9zM90.1 684.8h.9v.9h-.9zM127.0 752.2h.9v.9h-.9zM162.4 699.6h.9v.9h-.9zM163.6 708.4h.9v.9h-.9zM119.3 717.9h.9v.9h-.9zM112.0 722.2h.9v.9h-.9zM105.8 700.9h.9v.9h-.9zM170.2 686.3h.9v.9h-.9zM133.5 729.6h.9v.9h-.9zM141.9 705.5h.9v.9h-.9zM78.5 714.3h.9v.9h-.9zM109.5 713.8h.9v.9h-.9zM152.4 708.2h.9v.9h-.9zM102.3 692.6h.9v.9h-.9zM169.4 695.9h.9v.9h-.9zM90.8 753.0h.9v.9h-.9zM103.8 746.7h.9v.9h-.9zM122.3 751.1h.9v.9h-.9zM149.1 757.3h.9v.9h-.9zM115.1 754.5h.9v.9h-.9zM95.1 744.1h.9v.9h-.9zM139.9 745.1h.9v.9h-.9zM112.1 752.6h.9v.9h-.9zM90.0 751.6h.9v.9h-.9zM94.3 754.6h.9v.9h-.9zM101.6 752.4h.9v.9h-.9zM99.0 755.8h.9v.9h-.9zM102.9 748.4h.9v.9h-.9zM131.6 758.3h.9v.9h-.9zM139.9 747.8h.9v.9h-.9zM114.0 745.6h.9v.9h-.9zM76.9 751.3h.9v.9h-.9zM107.3 756.7h.9v.9h-.9zM112.7 756.3h.9v.9h-.9zM83.6 752.5h.9v.9h-.9zM180.0 753.4h.9v.9h-.9zM159.9 753.5h.9v.9h-.9zM102.5 746.9h.9v.9h-.9zM142.6 734.1h.9v.9h-.9zM133.3 759.3h.9v.9h-.9zM113.0 745.5h.9v.9h-.9zM120.4 756.7h.9v.9h-.9zM161.2 757.2h.9v.9h-.9zM126.4 742.5h.9v.9h-.9zM148.6 745.2h.9v.9h-.9zM111.0 745.8h.9v.9h-.9zM135.8 746.1h.9v.9h-.9zM127.6 721.5h.9v.9h-.9zM138.4 740.6h.9v.9h-.9zM140.0 728.3h.9v.9h-.9zM141.0 735.6h.9v.9h-.9zM143.4 745.0h.9v.9h-.9zM158.1 740.7h.9v.9h-.9zM175.5 738.8h.9v.9h-.9zM149.8 734.8h.9v.9h-.9zM132.5 738.3h.9v.9h-.9zM114.5 756.9h.9v.9h-.9zM137.3 745.0h.9v.9h-.9zM152.8 741.0h.9v.9h-.9zM138.7 724.7h.9v.9h-.9zM136.1 730.0h.9v.9h-.9zM133.5 751.8h.9v.9h-.9zM134.0 733.8h.9v.9h-.9zM127.9 734.6h.9v.9h-.9zM144.7 725.6h.9v.9h-.9zM132.8 735.0h.9v.9h-.9zM116.5 742.5h.9v.9h-.9zM135.4 732.1h.9v.9h-.9zM158.3 723.9h.9v.9h-.9zM156.2 739.4h.9v.9h-.9zM134.1 742.9h.9v.9h-.9zM149.7 737.8h.9v.9h-.9zM148.4 736.4h.9v.9h-.9zM123.4 729.6h.9v.9h-.9zM144.5 732.1h.9v.9h-.9zM128.3 751.4h.9v.9h-.9zM127.7 736.5h.9v.9h-.9zM132.5 728.9h.9v.9h-.9zM152.7 729.6h.9v.9h-.9zM78.4 745.4h.9v.9h-.9zM103.3 759.2h.9v.9h-.9zM146.4 757.0h.9v.9h-.9zM156.7 755.1h.9v.9h-.9zM155.8 751.5h.9v.9h-.9zM131.7 742.6h.9v.9h-.9zM162.3 689.8h.9v.9h-.9zM93.3 745.8h.9v.9h-.9zM99.6 720.9h.9v.9h-.9zM134.6 758.3h.9v.9h-.9zM155.5 683.2h.9v.9h-.9zM150.2 758.1h.9v.9h-.9zM71.4 767.8h.9v.9h-.9zM91.0 683.2h.9v.9h-.9zM160.7 689.4h.9v.9h-.9zM173.2 683.4h.9v.9h-.9zM161.3 713.8h.9v.9h-.9zM156.1 731.5h.9v.9h-.9zM143.4 679.1h.9v.9h-.9zM85.4 746.0h.9v.9h-.9zM102.0 702.9h.9v.9h-.9zM88.9 750.5h.9v.9h-.9zM97.8 705.5h.9v.9h-.9zM160.2 753.9h.9v.9h-.9zM108.1 761.8h.9v.9h-.9zM103.9 761.2h.9v.9h-.9zM149.1 736.4h.9v.9h-.9zM89.1 682.5h.9v.9h-.9zM155.6 682.6h.9v.9h-.9zM94.2 757.3h.9v.9h-.9zM95.9 749.1h.9v.9h-.9zM68.9 751.0h.9v.9h-.9zM146.4 737.4h.9v.9h-.9zM158.4 714.3h.9v.9h-.9zM155.4 683.8h.9v.9h-.9zM103.4 750.1h.9v.9h-.9zM80.3 679.4h.9v.9h-.9zM159.9 757.2h.9v.9h-.9zM157.0 683.0h.9v.9h-.9zM138.9 746.8h.9v.9h-.9zM72.4 756.3h.9v.9h-.9zM90.7 775.1h.9v.9h-.9zM115.7 744.6h.9v.9h-.9zM94.4 693.7h.9v.9h-.9zM163.0 715.1h.9v.9h-.9zM159.8 715.5h.9v.9h-.9zM138.5 675.7h.9v.9h-.9zM124.2 722.4h.9v.9h-.9zM88.2 690.3h.9v.9h-.9zM94.4 701.4h.9v.9h-.9zM92.9 690.2h.9v.9h-.9zM132.3 727.4h.9v.9h-.9zM147.2 759.6h.9v.9h-.9zM128.2 747.0h.9v.9h-.9zM140.8 670.4h.9v.9h-.9zM125.3 725.6h.9v.9h-.9zM130.1 760.3h.9v.9h-.9zM159.5 752.6h.9v.9h-.9zM162.4 707.6h.9v.9h-.9zM163.2 691.2h.9v.9h-.9zM127.3 760.4h.9v.9h-.9zM125.4 654.3h.9v.9h-.9zM94.0 757.4h.9v.9h-.9zM117.4 749.7h.9v.9h-.9zM114.9 669.7h.9v.9h-.9zM110.4 761.9h.9v.9h-.9zM146.4 668.6h.9v.9h-.9zM138.5 675.4h.9v.9h-.9zM118.1 721.2h.9v.9h-.9zM140.3 768.2h.9v.9h-.9zM164.5 665.3h.9v.9h-.9zM124.4 751.3h.9v.9h-.9zM152.4 758.9h.9v.9h-.9zM144.1 673.9h.9v.9h-.9zM101.9 751.0h.9v.9h-.9zM157.4 686.2h.9v.9h-.9zM78.1 747.4h.9v.9h-.9zM133.2 744.1h.9v.9h-.9zM102.3 750.0h.9v.9h-.9zM139.4 747.8h.9v.9h-.9zM124.0 758.6h.9v.9h-.9zM79.9 698.1h.9v.9h-.9zM148.5 743.2h.9v.9h-.9zM107.9 759.8h.9v.9h-.9zM132.1 734.1h.9v.9h-.9zM104.2 677.5h.9v.9h-.9zM159.8 701.8h.9v.9h-.9zM156.6 755.4h.9v.9h-.9zM147.5 756.4h.9v.9h-.9zM99.7 700.0h.9v.9h-.9zM79.9 760.8h.9v.9h-.9zM152.9 728.7h.9v.9h-.9zM151.8 750.8h.9v.9h-.9zM106.3 674.5h.9v.9h-.9zM91.0 749.0h.9v.9h-.9zM142.9 756.6h.9v.9h-.9zM140.0 673.0h.9v.9h-.9zM137.6 738.0h.9v.9h-.9zM117.7 753.3h.9v.9h-.9zM164.6 761.0h.9v.9h-.9zM123.1 725.9h.9v.9h-.9zM75.7 774.5h.9v.9h-.9zM175.6 691.9h.9v.9h-.9zM93.5 748.1h.9v.9h-.9zM135.5 738.3h.9v.9h-.9zM132.6 729.7h.9v.9h-.9zM119.2 757.7h.9v.9h-.9zM138.0 742.3h.9v.9h-.9zM157.2 718.3h.9v.9h-.9zM131.0 725.7h.9v.9h-.9zM119.6 720.7h.9v.9h-.9zM135.5 736.8h.9v.9h-.9zM91.0 747.8h.9v.9h-.9zM98.3 700.6h.9v.9h-.9zM106.5 675.7h.9v.9h-.9zM111.0 678.0h.9v.9h-.9zM106.7 720.8h.9v.9h-.9zM99.8 664.1h.9v.9h-.9zM66.6 752.9h.9v.9h-.9zM120.3 759.0h.9v.9h-.9zM105.7 757.4h.9v.9h-.9zM131.3 748.0h.9v.9h-.9zM62.0 756.4h.9v.9h-.9zM143.0 761.3h.9v.9h-.9zM96.6 681.3h.9v.9h-.9zM155.3 682.4h.9v.9h-.9zM140.6 674.6h.9v.9h-.9zM107.8 709.7h.9v.9h-.9zM83.3 764.6h.9v.9h-.9zM86.0 757.7h.9v.9h-.9zM161.1 708.1h.9v.9h-.9zM125.3 737.3h.9v.9h-.9zM133.7 731.5h.9v.9h-.9zM94.6 699.4h.9v.9h-.9zM127.6 751.4h.9v.9h-.9zM83.1 758.6h.9v.9h-.9zM151.1 725.2h.9v.9h-.9zM104.2 747.5h.9v.9h-.9zM52.5 769.0h.9v.9h-.9zM116.8 748.9h.9v.9h-.9zM137.0 746.7h.9v.9h-.9zM132.6 759.7h.9v.9h-.9zM151.3 727.9h.9v.9h-.9zM155.5 733.2h.9v.9h-.9zM94.3 757.3h.9v.9h-.9zM129.0 730.7h.9v.9h-.9zM155.3 724.7h.9v.9h-.9zM140.3 751.9h.9v.9h-.9zM159.6 725.0h.9v.9h-.9zM138.0 757.1h.9v.9h-.9zM140.7 675.0h.9v.9h-.9zM152.2 761.2h.9v.9h-.9zM88.1 688.9h.9v.9h-.9zM106.1 677.9h.9v.9h-.9zM113.7 773.9h.9v.9h-.9zM160.3 712.4h.9v.9h-.9zM146.8 766.0h.9v.9h-.9zM81.7 747.6h.9v.9h-.9zM117.9 675.5h.9v.9h-.9zM99.7 756.1h.9v.9h-.9zM96.9 760.5h.9v.9h-.9zM160.2 695.3h.9v.9h-.9zM92.0 687.3h.9v.9h-.9zM156.2 720.5h.9v.9h-.9zM106.8 750.4h.9v.9h-.9zM169.6 689.1h.9v.9h-.9zM104.3 705.2h.9v.9h-.9zM100.5 702.1h.9v.9h-.9zM101.6 748.1h.9v.9h-.9zM151.8 675.2h.9v.9h-.9zM150.6 743.1h.9v.9h-.9zM119.6 722.1h.9v.9h-.9zM90.8 689.0h.9v.9h-.9zM96.9 692.7h.9v.9h-.9zM128.7 726.4h.9v.9h-.9zM110.3 756.8h.9v.9h-.9zM93.4 757.8h.9v.9h-.9zM111.7 673.9h.9v.9h-.9zM101.1 753.1h.9v.9h-.9zM121.9 675.3h.9v.9h-.9zM94.7 696.6h.9v.9h-.9zM150.6 682.2h.9v.9h-.9zM114.4 758.2h.9v.9h-.9zM110.4 717.9h.9v.9h-.9zM135.9 736.4h.9v.9h-.9zM163.1 688.2h.9v.9h-.9zM84.2 686.4h.9v.9h-.9zM126.4 758.7h.9v.9h-.9zM109.4 676.2h.9v.9h-.9zM156.3 758.2h.9v.9h-.9zM163.3 686.2h.9v.9h-.9zM96.4 746.5h.9v.9h-.9zM159.0 765.4h.9v.9h-.9zM160.3 679.0h.9v.9h-.9zM98.1 759.2h.9v.9h-.9zM102.4 670.3h.9v.9h-.9zM119.4 676.7h.9v.9h-.9zM74.9 760.4h.9v.9h-.9zM156.1 756.8h.9v.9h-.9zM154.4 722.7h.9v.9h-.9zM84.1 760.5h.9v.9h-.9zM152.0 752.8h.9v.9h-.9zM99.9 756.4h.9v.9h-.9zM85.7 758.5h.9v.9h-.9zM97.0 760.9h.9v.9h-.9zM136.2 736.8h.9v.9h-.9zM159.2 679.8h.9v.9h-.9zM140.1 677.7h.9v.9h-.9zM95.0 679.4h.9v.9h-.9zM126.0 679.4h.9v.9h-.9zM160.2 759.1h.9v.9h-.9zM161.0 697.9h.9v.9h-.9zM156.9 750.3h.9v.9h-.9zM163.8 661.9h.9v.9h-.9zM83.3 746.9h.9v.9h-.9zM84.2 747.9h.9v.9h-.9zM163.8 708.6h.9v.9h-.9zM128.8 728.1h.9v.9h-.9zM156.9 681.9h.9v.9h-.9zM157.9 666.0h.9v.9h-.9zM140.9 665.5h.9v.9h-.9zM157.1 759.2h.9v.9h-.9zM126.7 760.4h.9v.9h-.9zM93.2 696.5h.9v.9h-.9zM107.3 718.5h.9v.9h-.9zM77.3 762.7h.9v.9h-.9zM149.5 759.1h.9v.9h-.9zM130.0 748.8h.9v.9h-.9zM91.9 684.2h.9v.9h-.9zM81.1 757.6h.9v.9h-.9zM149.6 736.6h.9v.9h-.9zM106.5 711.9h.9v.9h-.9zM119.0 718.2h.9v.9h-.9zM133.0 766.7h.9v.9h-.9zM98.2 691.3h.9v.9h-.9zM113.3 773.7h.9v.9h-.9zM148.3 669.9h.9v.9h-.9zM167.4 682.8h.9v.9h-.9zM171.1 688.5h.9v.9h-.9zM162.7 693.8h.9v.9h-.9zM135.3 734.0h.9v.9h-.9zM153.0 733.1h.9v.9h-.9zM118.8 768.2h.9v.9h-.9zM149.7 677.1h.9v.9h-.9zM105.4 708.5h.9v.9h-.9zM104.6 761.3h.9v.9h-.9zM129.9 746.4h.9v.9h-.9zM156.8 730.5h.9v.9h-.9zM113.3 677.8h.9v.9h-.9zM105.5 678.6h.9v.9h-.9zM160.1 752.5h.9v.9h-.9zM137.3 673.8h.9v.9h-.9zM156.7 762.7h.9v.9h-.9zM106.8 714.7h.9v.9h-.9zM85.8 686.7h.9v.9h-.9zM148.4 668.1h.9v.9h-.9zM90.7 753.1h.9v.9h-.9zM114.7 675.2h.9v.9h-.9zM115.0 723.1h.9v.9h-.9zM150.6 743.9h.9v.9h-.9zM159.8 753.3h.9v.9h-.9zM140.8 752.6h.9v.9h-.9zM176.2 712.5h.9v.9h-.9zM113.7 719.6h.9v.9h-.9zM156.7 760.1h.9v.9h-.9zM131.2 762.1h.9v.9h-.9zM165.1 677.0h.9v.9h-.9zM148.8 740.0h.9v.9h-.9zM138.2 680.3h.9v.9h-.9zM101.9 681.5h.9v.9h-.9zM154.5 749.4h.9v.9h-.9zM88.3 750.1h.9v.9h-.9zM115.7 744.5h.9v.9h-.9zM118.0 725.0h.9v.9h-.9zM142.0 759.1h.9v.9h-.9zM108.3 765.1h.9v.9h-.9zM111.4 669.4h.9v.9h-.9zM98.0 696.2h.9v.9h-.9zM104.6 668.1h.9v.9h-.9zM157.6 751.6h.9v.9h-.9zM122.0 757.8h.9v.9h-.9zM72.5 754.4h.9v.9h-.9zM136.4 655.6h.9v.9h-.9zM91.1 759.7h.9v.9h-.9zM103.0 701.1h.9v.9h-.9zM75.4 691.2h.9v.9h-.9zM110.3 763.9h.9v.9h-.9zM118.5 755.8h.9v.9h-.9zM152.8 739.9h.9v.9h-.9zM98.5 667.8h.9v.9h-.9zM136.2 739.1h.9v.9h-.9zM153.8 759.0h.9v.9h-.9zM118.5 673.6h.9v.9h-.9zM80.1 761.1h.9v.9h-.9zM114.7 760.7h.9v.9h-.9z" fill="#c0c4e0"/><path d="M106.1,677.6 L107.7,677.5 L110.8,676.5 L113.3,677.3 L114.8,676.9 L115.4,677.7 L116.8,678.3 L119.4,677.7 L120.6,678.4 L122.7,677.2 L123.6,677.4 L125.6,678.3 L128.1,678.2 L129.3,677.3 L132.0,677.8 L133.3,677.2 L134.3,678.6 L136.2,678.2 L138.6,677.9 L140.3,678.7 L141.1,678.6 L143.8,678.1 L145.3,679.1 L148.0,679.6 L148.7,678.8 L150.0,679.7 L152.6,680.1 L154.6,680.4 L155.6,682.1 L156.9,683.6 L157.5,685.7 L158.0,687.9 L159.8,689.2 L160.0,690.5 L159.7,692.7 L160.4,694.7 L159.8,695.8 L159.5,698.0 L160.0,699.1 L159.7,701.3 L160.2,702.2 L159.7,704.4 L160.1,707.3 L159.7,708.4 L158.9,709.5 L160.3,711.6 L158.8,714.3 L158.2,714.5 L157.9,716.6 L156.7,718.4 L155.0,719.5 L154.1,719.4 L151.9,720.9 L152.7,722.1 L152.4,724.0 L151.7,726.2 L150.8,727.8 L150.5,729.4 L150.6,731.8 L150.0,733.2 L147.7,734.9 L147.5,736.6 L146.6,739.1 L147.7,741.1 L147.3,741.7 L146.4,744.4 L148.2,746.4 L148.8,747.4 L151.5,748.3 L153.9,747.8 L156.5,748.7 L157.6,751.0 L158.6,751.2 L157.4,754.6 L156.8,755.8 L156.0,757.7 L153.0,756.5 L152.3,757.6 L150.5,758.6 L149.0,757.6 L147.4,758.5 L145.2,757.5 L144.0,758.5 L142.6,758.3 L140.2,757.7 L138.7,757.9 L137.6,757.7 L135.4,758.4 L134.4,757.9 L131.5,758.8 L130.5,757.3 L128.8,758.3 L127.5,757.8 L124.8,758.1 L123.3,757.6 L122.9,758.6 L121.3,757.8 L119.6,757.8 L117.5,758.2 L115.5,757.6 L114.7,758.5 L112.3,757.7 L111.7,757.9 L109.8,757.8 L107.4,757.5 L106.8,758.4 L104.2,758.1 L102.1,757.8 L101.0,757.7 L100.1,758.4 L98.0,757.6 L96.5,757.4 L94.0,757.6 L93.5,758.1 L91.2,758.4 L89.7,757.9 L87.9,758.0 L86.5,757.6 L85.2,758.7 L82.5,758.8 L82.2,758.8 L79.9,757.5 L78.0,758.3 L75.5,757.7 L74.4,756.9 L73.5,755.4 L72.6,753.1 L73.9,750.6 L74.1,748.9 L75.5,747.9 L77.9,747.4 L79.5,746.0 L81.5,745.8 L84.1,745.8 L85.3,746.7 L86.6,747.3 L89.0,746.7 L89.8,746.2 L91.3,747.1 L93.9,747.0 L94.7,747.1 L96.7,746.2 L98.0,747.2 L99.9,747.2 L101.9,747.4 L103.4,746.8 L105.2,747.1 L106.2,747.4 L108.5,746.7 L109.6,746.3 L111.9,745.8 L113.3,746.4 L115.8,746.3 L117.4,746.3 L117.8,746.6 L119.6,746.1 L121.8,746.4 L123.3,745.4 L124.2,744.8 L125.7,745.8 L127.6,744.5 L128.9,744.9 L130.4,744.2 L132.0,743.8 L134.9,743.0 L134.1,740.4 L135.9,738.3 L135.1,736.8 L134.8,735.3 L135.0,733.2 L134.1,731.2 L132.7,728.6 L131.9,728.1 L131.3,725.5 L130.2,723.7 L127.7,723.3 L125.7,722.8 L125.3,721.6 L123.8,720.9 L122.0,720.4 L120.9,718.6 L118.5,717.5 L117.8,716.5 L115.1,716.3 L114.4,715.0 L112.2,714.5 L111.0,713.6 L110.8,711.8 L109.1,710.4 L108.9,708.9 L108.1,707.6 L106.1,706.4 L105.3,704.8 L104.3,704.1 L102.3,702.4 L100.2,702.3 L98.5,700.5 L96.5,700.0 L95.1,698.5 L95.7,695.8 L98.1,695.5 L99.5,693.4 L97.0,693.7 L95.4,693.1 L94.0,693.1 L94.0,690.9 L93.0,688.1 L92.4,685.7 L94.9,685.0 L96.4,684.3 L98.2,682.4 L99.1,682.5 L101.0,681.2 L102.7,681.2 L104.3,682.0 L106.1,680.0 L106.8,677.4Z" fill="#0a30dc" /><path d="M107.9,686.9 L110.1,686.4 L110.7,685.6 L113.1,684.3 L114.9,683.7 L115.8,683.4 L116.6,682.3 L118.7,681.0 L120.1,680.7 L122.5,681.4 L123.5,681.3 L125.5,680.1 L127.2,680.1 L128.6,680.3 L130.6,681.1 L132.4,681.1 L134.8,681.1 L136.4,680.6 L137.4,681.1 L138.6,681.1 L141.6,680.1 L142.1,681.7 L144.5,681.4 L145.8,681.7 L147.1,680.9 L149.0,681.9 L151.2,682.9 L151.9,683.2 L153.7,684.0 L155.1,685.6 L155.6,687.6 L155.9,688.8 L156.9,691.3 L157.7,692.5 L157.6,694.2 L157.4,696.6 L156.5,697.9 L156.2,700.3 L157.0,701.4 L156.8,703.5 L157.1,705.2 L156.6,707.4 L155.8,709.0 L155.5,709.7 L153.9,711.2 L152.6,713.4 L152.8,714.8 L151.5,716.3 L148.9,716.8 L148.1,717.5 L146.1,718.2 L144.0,718.1 L143.2,717.7 L140.7,718.5 L139.8,718.3 L137.5,718.3 L135.4,717.8 L133.6,718.1 L132.5,717.8 L131.4,716.9 L128.8,716.9 L128.4,716.8 L127.2,715.4 L124.9,715.7 L122.9,713.3 L121.8,712.9 L119.9,711.1 L118.4,711.1 L117.8,708.9 L115.5,708.8 L114.4,707.8 L111.9,706.8 L110.6,705.6 L111.0,704.6 L108.9,702.1 L108.5,700.9 L108.3,699.4 L107.8,698.4 L108.0,695.8 L107.0,693.8 L107.4,691.8 L108.4,689.0Z" fill="#30f4f4" /><path d="M119.6,686.9 L120.7,685.8 L122.0,685.6 L123.8,685.3 L124.6,684.4 L126.3,682.3 L128.7,682.4 L130.1,682.6 L131.7,682.4 L132.9,682.5 L135.6,683.4 L136.5,683.5 L138.4,682.4 L139.8,682.7 L142.0,682.5 L142.7,683.2 L144.8,683.8 L146.2,684.2 L147.8,684.5 L149.4,685.4 L150.5,685.8 L152.2,687.4 L152.0,688.2 L152.7,690.6 L153.3,692.7 L154.8,692.9 L154.2,694.8 L152.8,697.9 L153.2,699.4 L152.3,701.4 L152.5,703.1 L151.5,704.3 L150.0,706.5 L149.9,707.7 L148.7,709.2 L145.9,709.8 L145.2,709.8 L143.0,710.5 L141.8,710.8 L140.3,712.2 L138.6,711.2 L136.2,711.5 L134.7,712.0 L134.1,711.1 L132.2,711.1 L130.5,710.7 L128.6,711.1 L125.8,709.4 L124.4,708.6 L123.6,706.6 L122.1,706.6 L121.0,704.6 L121.4,701.6 L120.9,699.7 L120.2,697.7 L119.7,696.7 L119.1,695.2 L119.6,692.6 L118.7,691.1 L118.3,688.7Z" fill="#18ee3c" /><path d="M132.4,697.5 L134.2,695.3 L135.2,694.7 L138.1,696.0 L140.0,694.8 L141.2,694.3 L142.4,694.5 L144.9,694.5 L144.9,696.6 L145.2,698.4 L144.6,700.0 L144.5,702.4 L142.0,703.7 L140.7,704.8 L137.5,703.8 L136.1,702.9 L134.4,701.5 L133.2,699.1Z" fill="#ff0a10" /><path d="M126.3,689.8 L128.6,689.3 L131.3,688.8 L132.6,689.4 L134.4,689.8 L135.5,690.9 L134.5,692.0 L134.2,693.9 L132.1,693.2 L130.6,692.8 L128.6,692.8 L126.6,691.4Z" fill="#ff0a10" /><path d="M124.3,696.6 L126.2,695.6 L128.2,694.9 L129.8,695.5 L130.8,695.5 L130.5,697.2 L129.7,698.7 L128.1,698.6 L126.3,699.1Z" fill="#ff0a10" /><path d="M76.2,752.6 L76.3,751.1 L77.3,749.9 L79.7,749.3 L81.7,748.9 L83.2,749.4 L85.4,748.5 L87.1,749.5 L88.2,749.4 L89.5,749.1 L91.9,749.8 L93.1,749.1 L95.1,749.7 L96.6,749.6 L98.1,750.1 L99.9,749.8 L101.2,749.3 L103.3,749.2 L105.1,749.9 L107.1,749.5 L108.1,749.2 L110.5,749.5 L111.9,749.0 L113.3,749.0 L114.9,749.6 L117.1,749.5 L118.7,749.1 L119.8,749.3 L121.7,749.0 L123.2,749.2 L124.5,749.6 L126.9,749.3 L128.0,749.1 L129.9,749.2 L131.7,749.6 L133.3,748.9 L135.2,749.6 L137.1,749.4 L138.0,748.7 L139.8,749.4 L141.8,748.8 L143.3,749.0 L144.9,749.5 L146.7,749.5 L148.4,749.5 L150.5,749.3 L151.7,749.2 L153.2,750.3 L155.8,750.5 L155.7,752.2 L155.7,754.5 L154.8,755.0 L152.7,756.0 L151.5,755.9 L149.5,755.4 L148.2,756.1 L146.5,756.3 L145.1,755.7 L143.1,756.1 L141.2,755.4 L139.6,756.2 L138.4,755.6 L136.1,755.8 L135.2,756.3 L133.1,756.2 L131.5,756.0 L129.5,755.7 L127.9,755.5 L126.5,755.5 L125.4,756.0 L123.2,755.7 L121.4,755.9 L119.7,755.6 L118.0,756.4 L116.8,756.4 L114.6,755.7 L113.6,755.7 L111.3,755.9 L109.7,756.0 L108.3,755.9 L106.7,755.7 L105.2,756.4 L103.4,756.0 L101.5,756.4 L100.4,756.0 L98.1,755.7 L96.5,756.2 L95.4,756.1 L93.1,756.2 L91.5,756.0 L89.9,756.2 L88.2,756.3 L86.6,756.5 L85.1,756.0 L83.5,756.2 L81.6,755.6 L79.8,755.7 L78.5,755.7 L76.9,754.8Z" fill="#30f4f4" /><path d="M76.6,752.5 L78.6,750.6 L80.4,750.5 L82.7,751.0 L83.9,750.7 L85.9,750.5 L88.0,750.6 L90.0,752.8 L89.1,753.7 L88.1,755.3 L86.2,754.9 L84.0,755.1 L82.1,755.3 L80.3,755.2 L78.3,755.3Z" fill="#18ee3c" /><path d="M119.2,749.9 L120.8,750.1 L122.4,750.1 L123.4,750.5 L125.1,750.1 L127.1,750.4 L128.5,750.0 L130.1,750.4 L132.3,750.2 L133.2,750.0 L135.4,750.2 L136.5,750.1 L138.2,749.8 L140.0,749.9 L141.8,749.7 L143.7,749.6 L145.3,750.1 L147.0,750.0 L148.5,749.7 L150.0,749.8 L151.7,750.9 L154.2,751.8 L154.2,753.6 L153.5,755.2 L152.2,755.6 L150.3,755.4 L148.8,755.0 L147.3,755.2 L145.1,755.1 L143.9,755.3 L141.8,755.1 L139.9,755.2 L138.3,755.1 L136.7,755.4 L135.3,755.8 L133.7,755.2 L132.2,755.7 L130.1,755.1 L128.6,755.6 L126.9,755.5 L125.4,755.6 L124.1,755.2 L122.0,755.4 L120.2,755.3 L118.6,755.4 L119.2,753.8 L118.8,751.9Z" fill="#18ee3c" /><rect x="81.3" y="752.0" width="2.9" height="2.4" fill="#ff0a10"/><path d="M120.7,751.3 L123.1,751.3 L124.4,751.4 L125.9,750.9 L127.7,751.3 L129.4,750.7 L131.4,751.1 L133.2,750.7 L135.4,750.0 L138.1,750.4 L139.5,750.7 L141.1,751.1 L143.1,751.3 L144.3,750.9 L145.9,751.3 L148.1,751.1 L149.4,751.5 L149.3,752.8 L149.3,755.1 L147.6,755.4 L146.2,755.0 L144.3,755.1 L143.1,755.3 L141.0,755.4 L139.8,755.4 L137.5,755.1 L136.0,755.2 L134.6,755.0 L132.6,755.6 L131.4,755.6 L129.6,755.5 L127.8,755.1 L126.3,755.4 L124.5,755.2 L122.3,755.3 L120.8,755.2 L121.4,753.2Z" fill="#ff0a10" /><line x1="45.30" y1="744.40" x2="49.50" y2="744.40" stroke="#111" stroke-width="0.9" /><line x1="47.30" y1="732.39" x2="49.50" y2="732.39" stroke="#111" stroke-width="0.9" /><line x1="47.30" y1="725.36" x2="49.50" y2="725.36" stroke="#111" stroke-width="0.9" /><line x1="47.30" y1="720.38" x2="49.50" y2="720.38" stroke="#111" stroke-width="0.9" /><line x1="47.30" y1="716.51" x2="49.50" y2="716.51" stroke="#111" stroke-width="0.9" /><line x1="47.30" y1="713.35" x2="49.50" y2="713.35" stroke="#111" stroke-width="0.9" /><line x1="47.30" y1="710.68" x2="49.50" y2="710.68" stroke="#111" stroke-width="0.9" /><line x1="47.30" y1="708.37" x2="49.50" y2="708.37" stroke="#111" stroke-width="0.9" /><line x1="47.30" y1="706.33" x2="49.50" y2="706.33" stroke="#111" stroke-width="0.9" /><line x1="45.30" y1="704.50" x2="49.50" y2="704.50" stroke="#111" stroke-width="0.9" /><line x1="47.30" y1="691.74" x2="49.50" y2="691.74" stroke="#111" stroke-width="0.9" /><line x1="47.30" y1="684.27" x2="49.50" y2="684.27" stroke="#111" stroke-width="0.9" /><line x1="47.30" y1="678.97" x2="49.50" y2="678.97" stroke="#111" stroke-width="0.9" /><line x1="47.30" y1="674.86" x2="49.50" y2="674.86" stroke="#111" stroke-width="0.9" /><line x1="47.30" y1="671.51" x2="49.50" y2="671.51" stroke="#111" stroke-width="0.9" /><line x1="47.30" y1="668.67" x2="49.50" y2="668.67" stroke="#111" stroke-width="0.9" /><line x1="47.30" y1="666.21" x2="49.50" y2="666.21" stroke="#111" stroke-width="0.9" /><line x1="47.30" y1="664.04" x2="49.50" y2="664.04" stroke="#111" stroke-width="0.9" /><line x1="45.30" y1="662.10" x2="49.50" y2="662.10" stroke="#111" stroke-width="0.9" /><line x1="47.30" y1="650.24" x2="49.50" y2="650.24" stroke="#111" stroke-width="0.9" /><line x1="47.30" y1="643.30" x2="49.50" y2="643.30" stroke="#111" stroke-width="0.9" /><line x1="47.30" y1="638.38" x2="49.50" y2="638.38" stroke="#111" stroke-width="0.9" /><line x1="47.30" y1="634.56" x2="49.50" y2="634.56" stroke="#111" stroke-width="0.9" /><line x1="47.30" y1="631.44" x2="49.50" y2="631.44" stroke="#111" stroke-width="0.9" /><line x1="47.30" y1="628.80" x2="49.50" y2="628.80" stroke="#111" stroke-width="0.9" /><line x1="47.30" y1="626.52" x2="49.50" y2="626.52" stroke="#111" stroke-width="0.9" /><line x1="47.30" y1="624.50" x2="49.50" y2="624.50" stroke="#111" stroke-width="0.9" /><line x1="45.30" y1="622.70" x2="49.50" y2="622.70" stroke="#111" stroke-width="0.9" /><line x1="47.30" y1="610.84" x2="49.50" y2="610.84" stroke="#111" stroke-width="0.9" /><line x1="47.30" y1="752.40" x2="49.50" y2="752.40" stroke="#111" stroke-width="0.9" /><line x1="47.30" y1="748.80" x2="49.50" y2="748.80" stroke="#111" stroke-width="0.9" /><line x1="47.30" y1="746.60" x2="49.50" y2="746.60" stroke="#111" stroke-width="0.9" /><line x1="47.30" y1="756.10" x2="49.50" y2="756.10" stroke="#111" stroke-width="0.9" /><line x1="47.30" y1="758.40" x2="49.50" y2="758.40" stroke="#111" stroke-width="0.9" /><line x1="47.30" y1="762.10" x2="49.50" y2="762.10" stroke="#111" stroke-width="0.9" /><line x1="47.30" y1="766.30" x2="49.50" y2="766.30" stroke="#111" stroke-width="0.9" /><line x1="47.30" y1="770.80" x2="49.50" y2="770.80" stroke="#111" stroke-width="0.9" /><line x1="47.30" y1="776.30" x2="49.50" y2="776.30" stroke="#111" stroke-width="0.9" /><rect x="47.20" y="745.30" width="2.30" height="17.00" fill="#111"/><text x="39.90" y="625.70" font-size="6.2" text-anchor="end" font-weight="normal" fill="#555" >10</text><text x="40.10" y="622.90" font-size="3.8" text-anchor="start" font-weight="normal" fill="#555" >5</text><text x="39.90" y="665.10" font-size="6.2" text-anchor="end" font-weight="normal" fill="#555" >10</text><text x="40.10" y="662.30" font-size="3.8" text-anchor="start" font-weight="normal" fill="#555" >4</text><text x="39.90" y="707.50" font-size="6.2" text-anchor="end" font-weight="normal" fill="#555" >10</text><text x="40.10" y="704.70" font-size="3.8" text-anchor="start" font-weight="normal" fill="#555" >3</text><text x="39.90" y="747.40" font-size="6.2" text-anchor="end" font-weight="normal" fill="#555" >10</text><text x="40.10" y="744.60" font-size="3.8" text-anchor="start" font-weight="normal" fill="#555" >2</text><text x="40.10" y="754.60" font-size="6.2" text-anchor="end" font-weight="normal" fill="#555" >0</text><text x="39.90" y="764.30" font-size="6.2" text-anchor="end" font-weight="normal" fill="#555" >−10</text><text x="40.10" y="761.50" font-size="3.8" text-anchor="start" font-weight="normal" fill="#555" >2</text><text x="42.50" y="784.30" font-size="6.2" text-anchor="end" font-weight="normal" fill="#555" >−401</text><line x1="88.50" y1="782.10" x2="88.50" y2="785.90" stroke="#111" stroke-width="0.9" /><line x1="101.29" y1="782.10" x2="101.29" y2="784.10" stroke="#111" stroke-width="0.9" /><line x1="108.78" y1="782.10" x2="108.78" y2="784.10" stroke="#111" stroke-width="0.9" /><line x1="114.09" y1="782.10" x2="114.09" y2="784.10" stroke="#111" stroke-width="0.9" /><line x1="118.21" y1="782.10" x2="118.21" y2="784.10" stroke="#111" stroke-width="0.9" /><line x1="121.57" y1="782.10" x2="121.57" y2="784.10" stroke="#111" stroke-width="0.9" /><line x1="124.42" y1="782.10" x2="124.42" y2="784.10" stroke="#111" stroke-width="0.9" /><line x1="126.88" y1="782.10" x2="126.88" y2="784.10" stroke="#111" stroke-width="0.9" /><line x1="129.06" y1="782.10" x2="129.06" y2="784.10" stroke="#111" stroke-width="0.9" /><line x1="131.00" y1="782.10" x2="131.00" y2="785.90" stroke="#111" stroke-width="0.9" /><line x1="144.12" y1="782.10" x2="144.12" y2="784.10" stroke="#111" stroke-width="0.9" /><line x1="151.80" y1="782.10" x2="151.80" y2="784.10" stroke="#111" stroke-width="0.9" /><line x1="157.25" y1="782.10" x2="157.25" y2="784.10" stroke="#111" stroke-width="0.9" /><line x1="161.48" y1="782.10" x2="161.48" y2="784.10" stroke="#111" stroke-width="0.9" /><line x1="164.93" y1="782.10" x2="164.93" y2="784.10" stroke="#111" stroke-width="0.9" /><line x1="167.85" y1="782.10" x2="167.85" y2="784.10" stroke="#111" stroke-width="0.9" /><line x1="170.37" y1="782.10" x2="170.37" y2="784.10" stroke="#111" stroke-width="0.9" /><line x1="172.60" y1="782.10" x2="172.60" y2="784.10" stroke="#111" stroke-width="0.9" /><line x1="174.60" y1="782.10" x2="174.60" y2="785.90" stroke="#111" stroke-width="0.9" /><line x1="186.94" y1="782.10" x2="186.94" y2="784.10" stroke="#111" stroke-width="0.9" /><line x1="194.16" y1="782.10" x2="194.16" y2="784.10" stroke="#111" stroke-width="0.9" /><line x1="199.28" y1="782.10" x2="199.28" y2="784.10" stroke="#111" stroke-width="0.9" /><line x1="203.26" y1="782.10" x2="203.26" y2="784.10" stroke="#111" stroke-width="0.9" /><line x1="206.50" y1="782.10" x2="206.50" y2="784.10" stroke="#111" stroke-width="0.9" /><line x1="209.25" y1="782.10" x2="209.25" y2="784.10" stroke="#111" stroke-width="0.9" /><line x1="211.63" y1="782.10" x2="211.63" y2="784.10" stroke="#111" stroke-width="0.9" /><line x1="213.72" y1="782.10" x2="213.72" y2="784.10" stroke="#111" stroke-width="0.9" /><line x1="215.60" y1="782.10" x2="215.60" y2="785.90" stroke="#111" stroke-width="0.9" /><line x1="227.94" y1="782.10" x2="227.94" y2="784.10" stroke="#111" stroke-width="0.9" /><line x1="57.80" y1="782.10" x2="57.80" y2="784.10" stroke="#111" stroke-width="0.9" /><line x1="62.00" y1="782.10" x2="62.00" y2="784.10" stroke="#111" stroke-width="0.9" /><line x1="66.50" y1="782.10" x2="66.50" y2="784.10" stroke="#111" stroke-width="0.9" /><line x1="70.00" y1="782.10" x2="70.00" y2="784.10" stroke="#111" stroke-width="0.9" /><line x1="73.00" y1="782.10" x2="73.00" y2="784.10" stroke="#111" stroke-width="0.9" /><line x1="75.50" y1="782.10" x2="75.50" y2="784.10" stroke="#111" stroke-width="0.9" /><line x1="80.00" y1="782.10" x2="80.00" y2="784.10" stroke="#111" stroke-width="0.9" /><line x1="82.50" y1="782.10" x2="82.50" y2="784.10" stroke="#111" stroke-width="0.9" /><line x1="85.50" y1="782.10" x2="85.50" y2="784.10" stroke="#111" stroke-width="0.9" /><rect x="67.00" y="782.10" width="22.00" height="1.80" fill="#111"/><rect x="75.50" y="782.10" width="4.50" height="3.20" fill="#111"/><text x="47.40" y="798.10" font-size="6.2" text-anchor="middle" font-weight="normal" fill="#555" >−304</text><text x="70.20" y="798.10" font-size="6.2" text-anchor="end" font-weight="normal" fill="#555" >−10</text><text x="70.60" y="795.10" font-size="3.8" text-anchor="start" font-weight="normal" fill="#555" >2</text><text x="77.50" y="798.10" font-size="6.2" text-anchor="middle" font-weight="normal" fill="#555" >0</text><text x="91.10" y="798.10" font-size="6.2" text-anchor="end" font-weight="normal" fill="#555" >10</text><text x="91.50" y="795.10" font-size="3.8" text-anchor="start" font-weight="normal" fill="#555" >2</text><text x="133.60" y="798.10" font-size="6.2" text-anchor="end" font-weight="normal" fill="#555" >10</text><text x="134.00" y="795.10" font-size="3.8" text-anchor="start" font-weight="normal" fill="#555" >3</text><text x="177.20" y="798.10" font-size="6.2" text-anchor="end" font-weight="normal" fill="#555" >10</text><text x="177.60" y="795.10" font-size="3.8" text-anchor="start" font-weight="normal" fill="#555" >4</text><text x="218.20" y="798.10" font-size="6.2" text-anchor="end" font-weight="normal" fill="#555" >10</text><text x="218.60" y="795.10" font-size="3.8" text-anchor="start" font-weight="normal" fill="#555" >5</text><rect x="42.4" y="785.10" width="5.2" height="5.2" fill="#b8c4f4"/><text x="45.00" y="790.10" font-size="5.6" text-anchor="middle" font-weight="bold" fill="#2040c0" >M</text><line x1="49.50" y1="782.10" x2="49.50" y2="786.30" stroke="#111" stroke-width="1.0" /><line x1="45.10" y1="782.10" x2="49.50" y2="782.10" stroke="#111" stroke-width="1.0" /><line x1="114.20" y1="605.80" x2="114.20" y2="782.10" stroke="#555" stroke-width="0.9" /><line x1="49.50" y1="736.50" x2="232.50" y2="736.50" stroke="#555" stroke-width="0.9" /><rect x="117.50" y="679.20" width="50.00" height="44.20" fill="none" stroke="#c07878" stroke-width="0.9"/><line x1="49.50" y1="606.00" x2="232.50" y2="606.00" stroke="#111" stroke-width="1.2" /><line x1="232.50" y1="605.80" x2="232.50" y2="782.10" stroke="#111" stroke-width="1.2" /><line x1="49.00" y1="782.10" x2="233.10" y2="782.10" stroke="#111" stroke-width="1.6" /><line x1="49.50" y1="605.20" x2="49.50" y2="782.90" stroke="#111" stroke-width="1.6" /></g><text x="118.30" y="596.00" font-size="14.8" text-anchor="start" font-weight="normal" fill="#222"  stroke="#222" stroke-width="0.22">+ MSC</text><text x="57.30" y="664.40" font-size="10.9" text-anchor="start" font-weight="bold" fill="#111" >CD41</text><text x="87.80" y="660.10" font-size="6.2" text-anchor="middle" font-weight="bold" fill="#111" >+</text><text x="128.50" y="669.80" font-size="10.6" text-anchor="start" font-weight="bold" fill="#c41e34" >G1</text><text transform="translate(168.60,712.30) scale(0.93,1)" font-size="12.1" text-anchor="start" font-weight="bold" fill="#111" >CD41</text><text x="198.20" y="708.50" font-size="6.9" text-anchor="start" font-weight="bold" fill="#111" >low</text><line x1="17.60" y1="491.50" x2="17.60" y2="547.60" stroke="#111" stroke-width="1.5" /><line x1="16.85" y1="547.60" x2="88.80" y2="547.60" stroke="#111" stroke-width="1.5" /><path d="M17.6,486.5 L14.2,494.0 L17.6,492.3 L21.0,494.0Z" fill="#111" /><path d="M94.8,547.6 L86.8,544.2 L88.6,547.6 L86.8,551.0Z" fill="#111" /><text transform="translate(23.2,459.80) rotate(-90) scale(0.71,1)" font-size="16.6" text-anchor="middle" fill="#222" stroke="#222" stroke-width="0.35">CD41</text><text transform="translate(103.80,555.20) scale(0.755,1)" font-size="15.9" text-anchor="start" font-weight="normal" fill="#222" stroke="#222" stroke-width="0.3">CD34</text><line x1="17.60" y1="754.60" x2="17.60" y2="813.20" stroke="#111" stroke-width="1.5" /><line x1="16.85" y1="813.20" x2="89.20" y2="813.20" stroke="#111" stroke-width="1.5" /><path d="M17.6,749.6 L14.2,757.1 L17.6,755.4 L21.0,757.1Z" fill="#111" /><path d="M95.2,813.2 L87.2,809.8 L89.0,813.2 L87.2,816.6Z" fill="#111" /><text transform="translate(23.2,724.05) rotate(-90) scale(0.71,1)" font-size="16.6" text-anchor="middle" fill="#222" stroke="#222" stroke-width="0.35">CD41</text><text transform="translate(103.80,817.90) scale(0.755,1)" font-size="15.9" text-anchor="start" font-weight="normal" fill="#222" stroke="#222" stroke-width="0.3">CD34</text><rect x="364.10" y="379.00" width="36.50" height="135.60" fill="#000"/><rect x="416.80" y="434.70" width="37.40" height="79.90" fill="#c8c8c8"/><line x1="382.70" y1="368.00" x2="382.70" y2="379.00" stroke="#000" stroke-width="1.6" /><line x1="373.00" y1="368.00" x2="392.20" y2="368.00" stroke="#000" stroke-width="1.6" /><line x1="355.60" y1="349.40" x2="355.60" y2="515.40" stroke="#111" stroke-width="1.6" /><line x1="351.00" y1="514.60" x2="462.40" y2="514.60" stroke="#111" stroke-width="1.6" /><line x1="351.00" y1="514.60" x2="355.60" y2="514.60" stroke="#111" stroke-width="1.4" /><text transform="translate(346.00,518.80) scale(1.08,1)" font-size="11.9" text-anchor="end" font-weight="normal" fill="#222"  stroke="#222" stroke-width="0.22">0</text><line x1="351.00" y1="474.60" x2="355.60" y2="474.60" stroke="#111" stroke-width="1.4" /><text transform="translate(346.00,478.80) scale(1.08,1)" font-size="11.9" text-anchor="end" font-weight="normal" fill="#222"  stroke="#222" stroke-width="0.22">50</text><line x1="351.00" y1="434.60" x2="355.60" y2="434.60" stroke="#111" stroke-width="1.4" /><text transform="translate(346.00,438.80) scale(1.08,1)" font-size="11.9" text-anchor="end" font-weight="normal" fill="#222"  stroke="#222" stroke-width="0.22">100</text><line x1="351.00" y1="394.60" x2="355.60" y2="394.60" stroke="#111" stroke-width="1.4" /><text transform="translate(346.00,398.80) scale(1.08,1)" font-size="11.9" text-anchor="end" font-weight="normal" fill="#222"  stroke="#222" stroke-width="0.22">150</text><line x1="351.00" y1="354.60" x2="355.60" y2="354.60" stroke="#111" stroke-width="1.4" /><text transform="translate(346.00,358.80) scale(1.08,1)" font-size="11.9" text-anchor="end" font-weight="normal" fill="#222"  stroke="#222" stroke-width="0.22">200</text><line x1="382.30" y1="514.60" x2="382.30" y2="518.90" stroke="#111" stroke-width="1.3" /><line x1="435.70" y1="514.60" x2="435.70" y2="518.90" stroke="#111" stroke-width="1.3" /><text x="383.10" y="534.70" font-size="12.6" text-anchor="middle" font-weight="normal" fill="#222"  stroke="#222" stroke-width="0.22">CD34–</text><text x="435.30" y="534.70" font-size="12.6" text-anchor="middle" font-weight="normal" fill="#222"  stroke="#222" stroke-width="0.22">CD34+</text><text transform="translate(317.2,433.40) rotate(-90) scale(1.085,1)" font-size="12" text-anchor="middle" fill="#222" stroke="#222" stroke-width="0.2">Level of CD41 expression (%)</text><text x="435.80" y="427.00" font-size="11.5" text-anchor="middle" font-weight="bold" fill="#222" >**</text><rect x="364.10" y="656.20" width="36.50" height="121.80" fill="#000"/><rect x="416.80" y="698.00" width="37.40" height="80.00" fill="#c8c8c8"/><line x1="382.70" y1="643.30" x2="382.70" y2="656.20" stroke="#000" stroke-width="1.6" /><line x1="373.00" y1="643.30" x2="392.20" y2="643.30" stroke="#000" stroke-width="1.6" /><line x1="356.20" y1="611.30" x2="356.20" y2="778.80" stroke="#111" stroke-width="1.6" /><line x1="351.00" y1="778.00" x2="462.40" y2="778.00" stroke="#111" stroke-width="1.6" /><line x1="351.00" y1="778.00" x2="356.20" y2="778.00" stroke="#111" stroke-width="1.4" /><text transform="translate(346.00,782.20) scale(1.08,1)" font-size="11.9" text-anchor="end" font-weight="normal" fill="#222"  stroke="#222" stroke-width="0.22">0</text><line x1="351.00" y1="737.75" x2="356.20" y2="737.75" stroke="#111" stroke-width="1.4" /><text transform="translate(346.00,741.95) scale(1.08,1)" font-size="11.9" text-anchor="end" font-weight="normal" fill="#222"  stroke="#222" stroke-width="0.22">50</text><line x1="351.00" y1="697.50" x2="356.20" y2="697.50" stroke="#111" stroke-width="1.4" /><text transform="translate(346.00,701.70) scale(1.08,1)" font-size="11.9" text-anchor="end" font-weight="normal" fill="#222"  stroke="#222" stroke-width="0.22">100</text><line x1="351.00" y1="657.25" x2="356.20" y2="657.25" stroke="#111" stroke-width="1.4" /><text transform="translate(346.00,661.45) scale(1.08,1)" font-size="11.9" text-anchor="end" font-weight="normal" fill="#222"  stroke="#222" stroke-width="0.22">150</text><line x1="351.00" y1="617.00" x2="356.20" y2="617.00" stroke="#111" stroke-width="1.4" /><text transform="translate(346.00,621.20) scale(1.08,1)" font-size="11.9" text-anchor="end" font-weight="normal" fill="#222"  stroke="#222" stroke-width="0.22">200</text><line x1="382.30" y1="778.00" x2="382.30" y2="782.30" stroke="#111" stroke-width="1.3" /><line x1="435.70" y1="778.00" x2="435.70" y2="782.30" stroke="#111" stroke-width="1.3" /><text x="383.10" y="798.10" font-size="12.6" text-anchor="middle" font-weight="normal" fill="#222"  stroke="#222" stroke-width="0.22">CD34–</text><text x="435.30" y="798.10" font-size="12.6" text-anchor="middle" font-weight="normal" fill="#222"  stroke="#222" stroke-width="0.22">CD34+</text><text transform="translate(317.2,696.80) rotate(-90) scale(1.085,1)" font-size="12" text-anchor="middle" fill="#222" stroke="#222" stroke-width="0.2">Level of CD41 expression (%)</text><text x="435.80" y="690.30" font-size="11.5" text-anchor="middle" font-weight="bold" fill="#222" >*</text></svg></body></html>
